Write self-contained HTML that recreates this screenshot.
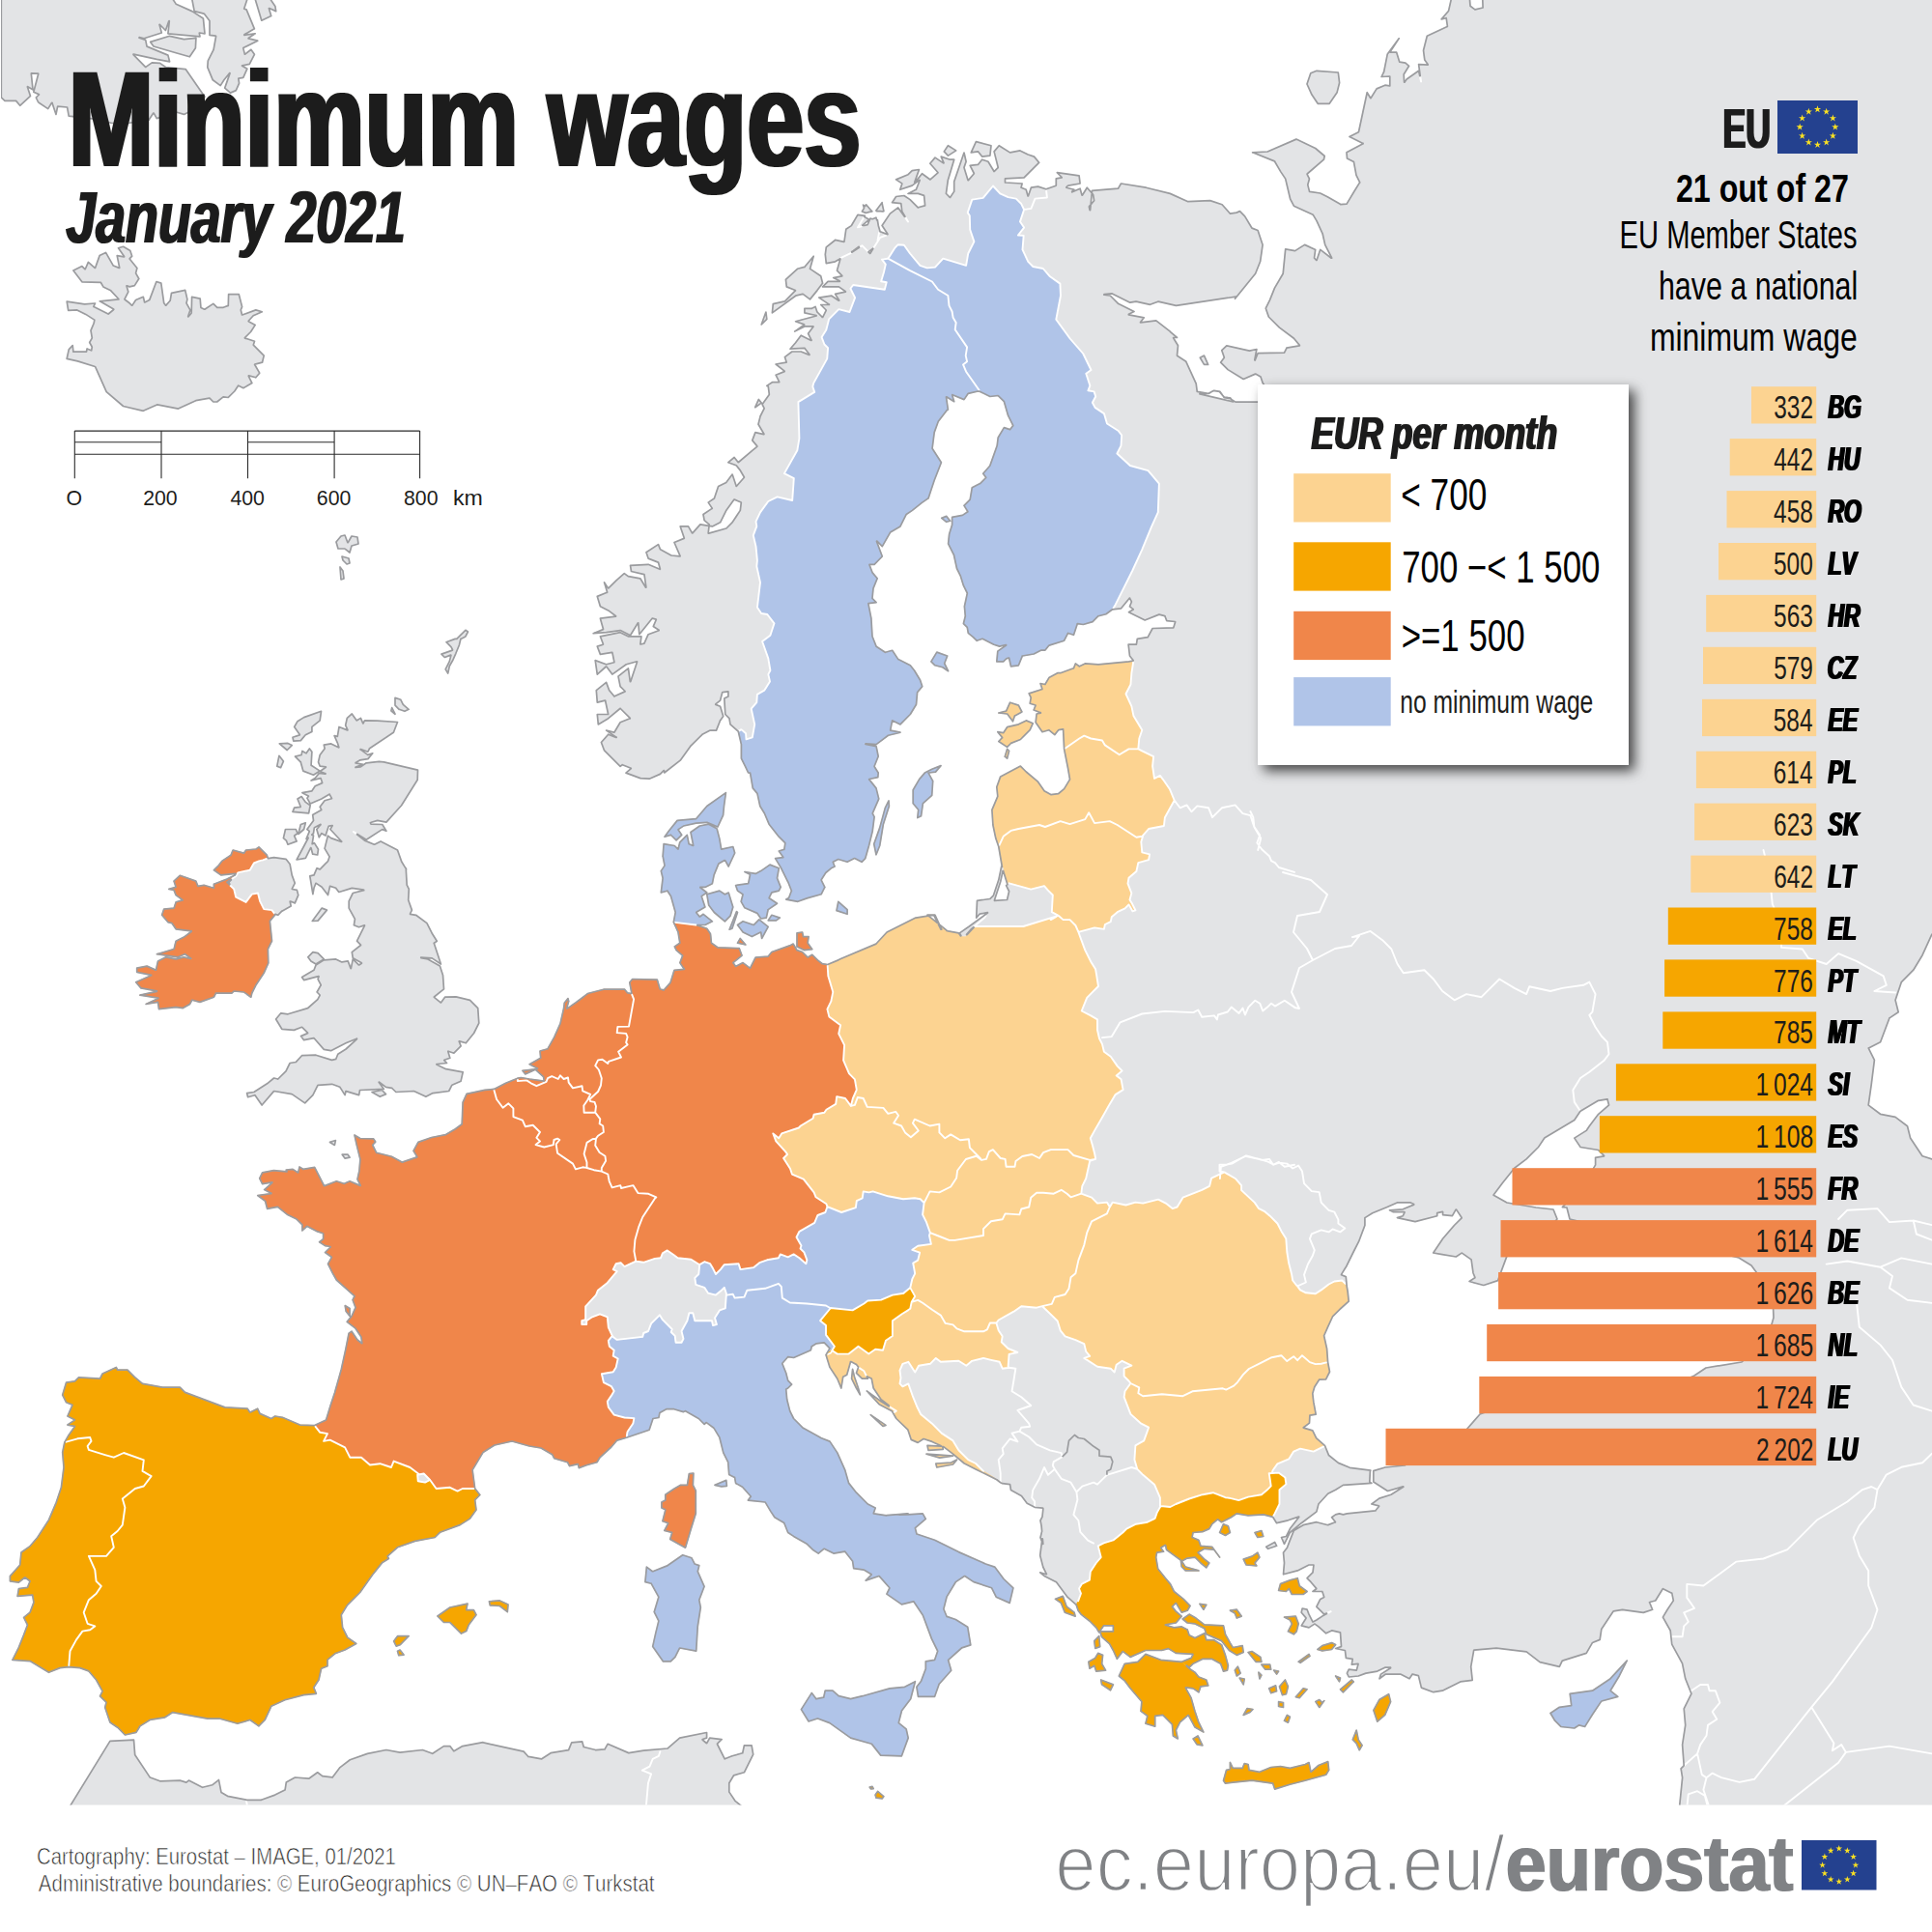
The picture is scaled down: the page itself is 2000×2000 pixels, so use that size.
<!DOCTYPE html>
<html lang="en"><head><meta charset="utf-8"><title>Minimum wages, January 2021</title>
<style>
html,body{margin:0;padding:0;background:#fff;}
body{width:2000px;height:2000px;overflow:hidden;}
svg{display:block;font-family:"Liberation Sans",sans-serif;font-kerning:none;}
</style></head><body>
<svg width="2000" height="2000" viewBox="0 0 2000 2000">
<defs>
<filter id="sh" x="-10%" y="-10%" width="130%" height="130%"><feDropShadow dx="6" dy="6" stdDeviation="6.5" flood-color="#000" flood-opacity="0.7"/></filter>
<filter id="d3" x="-2%" y="-10%" width="104%" height="120%"><feMorphology operator="dilate" radius="2.2 0"/></filter>
<filter id="d2" x="-2%" y="-10%" width="104%" height="120%"><feMorphology operator="dilate" radius="1.1 0"/></filter>
<filter id="d1" x="-5%" y="-10%" width="110%" height="120%"><feMorphology operator="dilate" radius="0.8 0"/></filter>
<filter id="d05" x="-5%" y="-2%" width="110%" height="104%"><feMorphology operator="dilate" radius="0.6 0"/></filter>
<clipPath id="mapclip"><rect x="1" y="0" width="1999" height="1868.5"/></clipPath>
</defs>
<rect width="2000" height="2000" fill="#fff"/>
<g id="map" clip-path="url(#mapclip)">
<path d="M1353,87 1356.8,75.8 1363,73.3 1385.3,75 1386.6,85.7 1384.1,95.7 1376.1,107.3 1364.2,107.3 1358,98.1Z" fill="#e3e4e6" stroke="#e3e4e6" stroke-width="0.7"/>
<path d="M1242.3,370.2 1246.5,368.1 1250.6,377.4 1246.5,377.4Z" fill="#e3e4e6" stroke="#e3e4e6" stroke-width="0.7"/>
<path d="M1005.3,158 1010.4,146.6 1026,150.7 1024.9,161.1 1016.6,162.1 1012.5,156.9Z" fill="#e3e4e6" stroke="#e3e4e6" stroke-width="0.7"/>
<path d="M977.3,156.9 981.4,150.7 989.7,155.9 981.4,161.1Z" fill="#e3e4e6" stroke="#e3e4e6" stroke-width="0.7"/>
<path d="M892.4,219 896.6,211.8 902.8,219 895.5,220.1Z" fill="#e3e4e6" stroke="#e3e4e6" stroke-width="0.7"/>
<path d="M906.9,218 913.1,209.7 914.2,219Z" fill="#e3e4e6" stroke="#e3e4e6" stroke-width="0.7"/>
<path d="M880,237.7 892.4,223.2 899.7,227.3 892.4,233.5 900.7,233.5 898.6,250.1 894.5,262.5 888.3,254.2 880,262.5Z" fill="#e3e4e6" stroke="#e3e4e6" stroke-width="0.7"/>
<path d="M901.7,227.3 906.9,225.2 911.1,239.7 919.3,242.8 911.1,245.9 906.9,254.2 909,241.8 902.8,240.8Z" fill="#e3e4e6" stroke="#e3e4e6" stroke-width="0.7"/>
<path d="M855.3,255.9 864.6,248.4 873.9,250.3 875.8,237.3 881.4,233.5 887.9,222.4 895.3,223.3 887.9,235.4 898.1,232.6 900.9,226.1 908.4,228 910.2,240.1 907.5,254 898.1,261.5 890.7,254 883.2,259.6 873.9,265.2 864.6,270.8 855.3,272.7 854.3,263.4Z" fill="#e3e4e6" stroke="#e3e4e6" stroke-width="0.7"/>
<path d="M813.4,289.4 825.5,278.3 832.9,276.4 842.2,265.2 838.5,278.3 849.7,285.7 851.6,293.2 846,300.6 838.5,309.9 831.1,304.3 823.6,306.2 799.4,323.9 800.3,314.6 812.4,311.8 823.6,300.6 814.3,296.9Z" fill="#e3e4e6" stroke="#e3e4e6" stroke-width="0.7"/>
<path d="M788.2,336 792.9,323 793.8,330.4Z" fill="#e3e4e6" stroke="#e3e4e6" stroke-width="0.7"/>
<path d="M893.5,212.1 902.8,218.6 896.3,220.5Z" fill="#e3e4e6" stroke="#e3e4e6" stroke-width="0.7"/>
<path d="M907.5,218.6 913,210.2 914.9,218.6Z" fill="#e3e4e6" stroke="#e3e4e6" stroke-width="0.7"/>
<path d="M781.7,421.7 785.4,413.4 788.2,417.1Z" fill="#e3e4e6" stroke="#e3e4e6" stroke-width="0.7"/>
<path d="M354.2,1195.2 360.1,1195.2 362.1,1198.2 357.2,1199.2Z" fill="#e3e4e6" stroke="#e3e4e6" stroke-width="0.7"/>
<path d="M341.5,1182.4 347.4,1180.5 346.4,1185.4Z" fill="#e3e4e6" stroke="#e3e4e6" stroke-width="0.7"/>
<path d="M1310.8,1601.3 1319.6,1596.4 1321.6,1600.3 1312.7,1603.3Z" fill="#e3e4e6" stroke="#e3e4e6" stroke-width="0.7"/>
<path d="M72.5,1869.7 113.9,1802.4 138.5,1801.1 139.8,1816.7 155.3,1840 165.6,1843.8 186.3,1843.1 192.8,1845.1 195.4,1843.1 209.6,1850.3 220,1847.7 226.4,1842.5 229,1855.5 235.5,1859.4 254.9,1863.3 270.4,1863.3 284.7,1858.1 295,1852.9 296.3,1845.1 305.4,1840 319.6,1841.3 328.7,1834.8 333.9,1838.7 344.2,1840 352,1829.6 362.3,1821.8 380.4,1815.4 399.8,1811.5 414.1,1814.1 437.4,1811.5 447.7,1815.4 459.4,1807.6 465.8,1807.6 469.7,1812.8 478.8,1807.6 500,1803.7 499.9,1803.8 520.4,1808.4 542.1,1813.1 546.8,1818.4 560.7,1820.9 570.1,1814.7 588.7,1811.6 591.8,1803.8 602.7,1802.9 604.2,1808.4 616.6,1811.6 626,1810.9 629.1,1805.3 650.8,1814.7 666.3,1812.2 691.2,1810 703.6,1799.1 731.6,1793.5 731.6,1799.1 726.9,1800.7 731.6,1804.7 734.7,1799.1 747.1,1800.7 742.4,1805.3 747.1,1814.7 750.2,1820.9 758,1817.8 768.8,1814.7 770.4,1806.9 778.1,1806.9 779.7,1816.2 770.4,1834.8 759.5,1838 754.8,1845.7 754.8,1855 761.1,1864.3 768.8,1870.6 769,1880 72,1880Z" fill="#e3e4e6" stroke="#e3e4e6" stroke-width="0.7"/>
<path d="M348,561 353,555 357,554 360,562 364,555 370,556 371,563 364,565 362,572 357,568 350,568Z" fill="#e3e4e6" stroke="#e3e4e6" stroke-width="0.7"/>
<path d="M354,576 361,578 362,583 359,584 355,580Z" fill="#e3e4e6" stroke="#e3e4e6" stroke-width="0.7"/>
<path d="M352,587 355,591 356,599 353,600Z" fill="#e3e4e6" stroke="#e3e4e6" stroke-width="0.7"/>
<path d="M69.2,312.2 87.5,314.8 98.5,314 96.8,317.4 112.1,325.1 117.9,320.2 103.3,311.8 123.1,309.9 114.7,300.8 106.9,296.9 104.3,292.4 84.9,291.8 75.9,279.9 84.9,275.6 88.2,278.8 91.4,271.3 98.5,277.5 103.1,264.6 109.5,261.4 117.3,274.9 123.8,277.5 121.2,264.6 128.9,265.9 122.5,256.8 127.6,255.3 134.8,259.4 136.7,265.2 134.1,267.8 141.9,277.5 140.6,282.7 143.8,288.5 139.3,295.6 134.1,296.9 130.9,295.6 132.8,302.1 128.9,309.9 134.1,313.8 136.7,316.3 140.6,310.5 148.3,307.3 149.6,313.1 154.8,310.5 161.9,291.5 166.8,293.1 169.7,313.8 171.6,316.3 176.2,311.2 177.5,303.4 191.7,300.4 193.9,309.9 193,313.8 196.9,320.9 194.3,328.6 198.2,324.1 198.6,307.3 207.2,309.2 207.9,318.3 211.7,320.2 220.8,314.4 224.7,318.3 231.2,318.3 236.3,316.3 236.6,304.7 247.3,304.7 250.6,317.6 249.3,320.9 250.6,326.1 264.8,320.9 271.3,322.8 262.2,326.7 257,332.5 264.2,336.4 259.6,343.5 253.2,350 263.5,353.2 262.2,357.1 273.2,368.1 271.5,375.2 263.5,377.2 268.7,386.2 264.8,390.8 257,388.8 260.9,396.6 251.9,401.7 246.7,399.2 242.8,405 236.3,411.5 231.2,410.8 224.7,416 220.8,416 216.9,412.1 202.7,414.7 184.6,423.1 162.6,418.8 148.3,425.3 127.6,420.5 110.2,405.6 98.5,379.5 80.4,373.9 69.2,371.3 71.4,361.6 75.2,357.5 75.9,364.2 89.5,364.2 90.1,361 94.6,362.9 95.3,359 92.7,354.5 95.3,350 94,342.2 97.2,334.5 97.9,331.2 88.8,325.4 79.8,320.9 70.7,321.3Z" fill="#e3e4e6" stroke="#e3e4e6" stroke-width="0.7"/>
<path d="M1.3,-0.8 178.9,-0.8 182.2,4.1 198.8,11.6 210.4,19 212,34.8 206.2,34 207,37.8 173.9,34.8 175.6,19.9 171.4,31.5 164.8,24.8 167.3,34 149.1,39.8 140,37.8 150.7,41.4 152,48 173.9,57.1 175.6,63.8 162.3,61.3 137.5,56 150.7,69.6 157.3,64.9 165.6,65.4 171.4,69.6 192.1,71.6 212,100.2 198.8,114.3 190.5,118.4 182.2,115.9 162.3,122.6 159,116.8 154,124.2 132.5,127.5 115.9,127.5 99.4,123.4 71.2,120.1 69.6,111 59.6,110.1 58,118.4 53.8,106 49.7,112.6 39.8,106 37.3,101 40.6,97.7 34.8,95.2 39.8,76.2 32.3,75.9 34,92.8 28.2,89.4 31.5,99.4 20.7,109.3 16.6,104.3 5,104.3 1.3,101Z" fill="#e3e4e6" stroke="#e3e4e6" stroke-width="0.7"/>
<path d="M155.7,43.4 175.6,37.3 190.5,40.6 202.9,39.4 202.4,49.7 196.3,58.8 182.2,54.7 159,48Z" fill="#e3e4e6" stroke="#e3e4e6" stroke-width="0.7"/>
<path d="M198.8,-0.8 201.2,11.6 211.2,14.1 217,21.5 217,36.4 223.6,37.3 221.1,51.3 215.3,62.9 214.8,69.6 220.3,82.8 228.2,88.6 231.9,82.8 238.5,74.5 232.7,91.1 238.5,96.1 244.3,93.6 247.6,86.1 246.8,81.2 251.8,80.3 255.9,71.2 250.1,67.9 258.4,66.3 263.4,56.3 260,51.3 253.4,56.3 251.8,49.7 266.7,42.2 256.7,39.8 264.2,34.8 251.8,36.4 263.4,29.8 255.1,9.9 252.6,9.1 255.9,-0.8Z" fill="#e3e4e6" stroke="#e3e4e6" stroke-width="0.7"/>
<path d="M264.2,-0.8 270.8,21.2 280.7,16.6 278.3,8.3 285.7,11.6 284.9,6.6 279.9,-0.8Z" fill="#e3e4e6" stroke="#e3e4e6" stroke-width="0.7"/>
<path d="M420.6,899.9 420.2,898.7 420.2,899.3Z M411.5,880 394.1,870.9 387.5,874.2 377.5,870.1 365.9,861 379.2,869.3 395.8,858.5 399.9,860.2 395.8,853.5 384.2,853.2 383.3,851.6 390.8,849.4 399.9,851.1 415.6,833.7 432.2,807.2 432.5,797.2 397.4,788.9 392.4,788.4 379.2,789.8 373.4,793.9 365.9,794.7 375.9,791.4 367.6,789.8 372.6,787 380.8,785.6 385.8,779.8 380.8,781.5 371.7,774.9 380.8,778.2 382.5,774.9 407.3,758.3 411.5,747.5 390.8,746.2 377.5,745.9 375.9,749.2 373.4,743.4 369.3,745.9 364.3,738.9 359.3,743.4 357.7,750.8 360.1,756.1 351,752.5 349.4,762.4 346.1,761.6 349.4,769.1 351,774 342.8,769.9 335.3,771.1 336.1,774.9 331.2,781.5 329.5,788.9 331.2,793.1 337.8,793.9 331.2,798.6 338.6,801.4 330.3,800.5 326.2,805.5 322,808 332,805.5 333.6,810.5 326.2,813.8 322.9,818.8 312.9,820.7 319.6,824.1 317.9,826.2 321.2,832 332.8,827 341.1,822.1 343.6,826.7 336.1,828.7 331.2,835.3 332.8,838.3 323.7,843.6 324.5,849.4 317.9,858.5 320.4,860.5 317.1,868.4 324.5,862.7 325.4,856.9 332.8,852.7 327.8,858.5 330.3,866.8 332.8,862.7 337,865.1 340.3,855.2 344.4,854.4 341.9,858.5 354.3,871.8 342.8,867.6 339.4,865.1 336.1,878.4 341.1,886.7 339.4,891.6 336.1,894.9 331.2,899.9 328.1,898.7 325,905.9 320.8,906.9 323.9,925.6 325,919.4 327,914.2 333.3,918.3 339.5,926.6 341.5,917.3 347.7,919.4 350.8,923.5 364.3,919.4 377.8,921.4 365.3,924.5 361.2,932.8 361.2,940.1 367.4,951.4 366.4,957.7 371.6,959.7 377.8,957.7 373.6,965.9 369.5,974.2 373.6,978.4 364.3,985.6 365.3,991.8 374.7,997 371.6,999.1 365.3,992.9 363.3,1003.2 360.2,994.9 354,996 347.7,992.9 335.3,993.9 327,999.1 325,1004.2 312.5,1011.5 314.6,1014.6 330.1,1010.5 329.1,1013.6 332.2,1019.8 328.1,1027 331.2,1030.1 329.1,1034.3 318.8,1043.6 298.1,1049.8 290.8,1048.8 285.6,1055 291.8,1065.3 304.3,1066.4 312.5,1063.3 318.8,1069.5 311.5,1072.6 314.6,1076.7 325,1074.6 335.3,1086.4 342.6,1087.7 358.1,1079.8 370.5,1074.6 358.1,1086 349.8,1091.2 347.7,1096.4 343.6,1097.4 327,1092.2 312.5,1092.7 306.3,1099.5 300.1,1100.5 296,1108.8 287.7,1117.1 283.6,1116 277.3,1121.2 262.9,1130.5 255.6,1131.6 256.6,1135.7 263.9,1133.6 271.1,1144 283.6,1129.5 302.2,1132.6 315.7,1141.9 323.9,1133.6 329.1,1123.3 343.6,1122.3 351.9,1125.4 357.1,1133.6 358.1,1129.5 371.6,1133.6 372.6,1128.5 397.4,1127.4 391.2,1119.2 399.5,1125.4 405.7,1126.4 409.9,1130.5 428.5,1129.5 440.9,1135.3 448.2,1131.6 464.7,1129.5 467.8,1123.3 477.1,1119.2 479.2,1109.8 461.6,1106.7 451.3,1101.6 462.7,1100.5 459.5,1097.4 465.8,1095.3 463.7,1088.1 469.9,1090.2 477.1,1082.9 475.1,1077.7 482.3,1079.8 490.6,1069.5 495.8,1059.1 494.7,1043.6 486.5,1035.3 472,1031.8 460.6,1032.2 456.4,1038 449.2,1032.2 459.5,1023.9 458.5,1009.4 455.4,1000.1 443,992.9 431.6,990.8 447.1,991.8 456.4,998 449.2,976.3 452.3,974.2 447.1,965.9 441.9,955.6 430.6,947.3 424.3,946.3 426.4,942.1 422.7,931.8 423.3,920.4 421.2,916.3 420.2,899.3 415.6,891.6Z" fill="#e3e4e6" stroke="#e3e4e6" stroke-width="0.7"/>
<path d="M304.7,752.5 308,746.7 314.6,742.6 332.5,736.3 331.2,745.9 322.9,752.5 322.9,757.5 316.3,760.8 311.3,766.6 303.8,767.1 303,763.3 310.5,760.8Z" fill="#e3e4e6" stroke="#e3e4e6" stroke-width="0.7"/>
<path d="M305.5,783.1 312.1,781.5 312.9,777.3 317.1,779.8 320.4,774.9 322.9,778.2 322,792.3 331.2,798.1 324.5,802.2 313.8,798.1 311.3,788.9Z" fill="#e3e4e6" stroke="#e3e4e6" stroke-width="0.7"/>
<path d="M308,827 312.1,824.6 316.3,830.4 321.2,833.7 319.6,841.9 303,840.3 304.7,836.1 311.3,835.3Z" fill="#e3e4e6" stroke="#e3e4e6" stroke-width="0.7"/>
<path d="M295.5,858.5 306.3,858.5 308,862.7 304.7,865.1 307.1,870.9 298,874.2 296.4,870.1 293.4,867.6Z" fill="#e3e4e6" stroke="#e3e4e6" stroke-width="0.7"/>
<path d="M311.3,853.5 316.3,851.9 314.6,858.5 308.8,863.5Z" fill="#e3e4e6" stroke="#e3e4e6" stroke-width="0.7"/>
<path d="M307.1,890 321.2,863.5 324.5,865.1 322.9,875.1 316.3,888.3Z" fill="#e3e4e6" stroke="#e3e4e6" stroke-width="0.7"/>
<path d="M321.2,875.1 325.4,872.6 329.5,879.2 328.7,885 323.7,884.2Z" fill="#e3e4e6" stroke="#e3e4e6" stroke-width="0.7"/>
<path d="M289.3,769.9 298,769.4 302.2,771.6 297.2,776.5Z" fill="#e3e4e6" stroke="#e3e4e6" stroke-width="0.7"/>
<path d="M288.9,782.3 293.4,788.1 290.6,794.7 286.8,793.1Z" fill="#e3e4e6" stroke="#e3e4e6" stroke-width="0.7"/>
<path d="M409,722.4 414.8,724.3 417.3,729.3 423.1,734.3 418.9,736.3 413.1,734.3 409,730.1Z" fill="#e3e4e6" stroke="#e3e4e6" stroke-width="0.7"/>
<path d="M405.7,732.6 409,739.3 404.9,735.9Z" fill="#e3e4e6" stroke="#e3e4e6" stroke-width="0.7"/>
<path d="M481.9,652.3 484.4,654 481.9,658.9 476.9,661.4 475.3,668 471.9,676.3 468.6,683.8 465.3,689.6 463.7,697 461.2,692.9 465.3,684.6 467,678 460.4,680.5 457,677.1 468.6,673 467,669.7 462,664.7 471.1,661.4 472.8,661.4 478.6,655.6Z" fill="#e3e4e6" stroke="#e3e4e6" stroke-width="0.7"/>
<path d="M318.8,990.8 323.9,985.6 329.1,986.6 335.3,992.9 327,998 321.9,994.9Z" fill="#e3e4e6" stroke="#e3e4e6" stroke-width="0.7"/>
<path d="M323.3,953.5 333.3,940.1 338.4,942.1 329.1,953.1Z" fill="#e3e4e6" stroke="#e3e4e6" stroke-width="0.7"/>
<path d="M385,1130.5 395.4,1128.5 399.5,1132.6 393.3,1135.3Z" fill="#e3e4e6" stroke="#e3e4e6" stroke-width="0.7"/>
<path d="M268,890.4 273.2,889.3 283.6,887.7 296,889.3 300.1,894.5 302.2,905.9 305.3,914.2 302.2,920.4 307.4,921.4 308.8,926.6 305.3,934.9 300.1,932.8 301.2,938 291.8,943.2 287.7,947.3 284.6,946.3 277.3,947.3 267,941.1 254.6,938 242.2,926.6 237,913.1 248.4,901.8 264.9,888.3Z" fill="#e3e4e6" stroke="#e3e4e6" stroke-width="0.7"/>
<path d="M1316.5,1525.8 1316.8,1525 1313.7,1525.2Z M1333.4,1573.8 1345.2,1569.8 1335.4,1582.6 1331.4,1590.5 1326.5,1591.5 1329.5,1598.3 1335.4,1586.5 1347.2,1576.7 1362.9,1564.9 1364.9,1557 1374.7,1546.2 1382.6,1542.3 1390.4,1537.4 1419.9,1535.4 1417.8,1534 1418.4,1522.6 1418.8,1522.2 1397.2,1519.3 1385.4,1514.4 1375.5,1506.5 1371.6,1496.7 1359.8,1502.6 1346,1499.6 1339.2,1502.6 1334.2,1510.4 1322.4,1515.4 1317.5,1522.2 1316.8,1525 1323.6,1524.6 1330.4,1529.5 1331.4,1536.4 1324.5,1542.3 1324.5,1557 1319.6,1566.9 1317.7,1570.4 1321.6,1576.7Z" fill="#e3e4e6" stroke="#e3e4e6" stroke-width="0.7"/>
<path d="M1063.3,1556.3 1071.1,1560.3 1080,1561.3 1079,1570.1 1077,1574 1078.1,1579.7 1077.7,1574.7 1079.7,1586.5 1079.1,1590.8 1080,1600 1078.5,1595.9 1076.7,1610.1 1079.7,1621.9 1083.6,1629.8 1076.7,1627.8 1081.6,1631.8 1093.4,1637.7 1099.3,1645.5 1105.2,1653.4 1114.1,1661.3 1116.1,1657.3 1119,1649.5 1117,1644.6 1120,1639.6 1127.9,1635.7 1128.8,1626.9 1134.7,1618 1139.7,1612.1 1136.7,1600.3 1142.6,1597.4 1152.4,1594.4 1162.3,1586.5 1166.2,1582.6 1176,1577.7 1187.8,1575.7 1195.7,1571.8 1197.7,1565.9 1201.6,1559 1200.9,1559.3 1200.9,1550.4 1195,1536.7 1183.2,1526.8 1177.3,1520.9 1174.4,1511.1 1175.4,1496.3 1184.2,1491.4 1189.1,1477.7 1181.3,1473.7 1170.4,1463.9 1163.6,1446.2 1164.5,1440.3 1170.4,1432 1168.5,1429.5 1163.6,1424.6 1163.6,1416.7 1171.4,1413.7 1161.6,1408.8 1155.7,1412.8 1153.7,1420.6 1149.8,1416.7 1136,1414.7 1122.3,1405.9 1128.2,1403.9 1124.2,1399 1122.3,1391.1 1113.4,1387.2 1102.6,1383.3 1097.7,1377.3 1094.7,1367.5 1088.8,1361.6 1079,1352.2 1073.1,1353.7 1057.3,1352.2 1049.5,1357.7 1033.7,1366.5 1031.4,1369.5 1033.7,1377.3 1037.7,1383.3 1036.7,1389.2 1043.6,1396 1053.4,1400 1044.6,1401.9 1043.6,1414.7 1044.6,1415.7 1037.7,1416.7 1034.7,1409.8 1025.9,1407.8 1018,1405.9 1006.2,1408.8 1000.3,1413.7 992.4,1408.8 973.8,1409.8 968.8,1405.9 962.9,1411.8 951.1,1413.7 947.2,1420.6 940.3,1409.8 934.4,1411.8 931.5,1418.7 932.5,1426.5 931.5,1432.4 934.4,1435.4 940.3,1432.4 945.2,1446.2 949.2,1456 953.1,1463.9 964.9,1473.7 974.7,1483.6 986.5,1491.4 992.4,1501.3 1002.3,1511.1 1010.1,1515 1018,1522.9 1027.8,1528.8 1035.7,1534.7 1037.7,1535.7 1045.5,1536.7 1046.5,1542.6 1057.3,1548.5Z M1078.6,1585.2 1079,1583.9 1078.1,1579.7Z M1077,1591.7 1078.5,1595.9 1079.1,1590.8 1078.6,1585.2Z" fill="#e3e4e6" stroke="#e3e4e6" stroke-width="0.7"/>
<path d="M1227.8,374.3 1218.5,368.1 1219.5,357.7 1214.4,349.5 1218.5,349.5 1211.3,343.3 1196.8,331.9 1180.2,333.9 1184.3,328.8 1167.8,325.7 1174,322.5 1157.4,314.3 1149.2,306 1140.9,304.9 1151.2,303.9 1169.9,313.2 1176.1,312.2 1190.6,315.3 1198.8,312.2 1217.5,316.3 1280,307 1278.5,309.3 1299.6,283.2 1304.6,270.8 1307.1,253.4 1302.1,238.5 1295.9,236 1288.4,223.6 1283.5,218.6 1280,220.1 1273.4,221.1 1265.1,211.8 1252.7,207.6 1229.9,208.7 1211.3,200.4 1186.4,194.2 1160.5,190 1157.4,195.2 1130.5,197.3 1130.3,199.9 1125.3,194.2 1120.2,202.5 1118.1,195.2 1108.8,199.4 1111.9,196.3 1103.6,194.2 1105.7,192.1 1118.1,190 1117.1,181.8 1094.3,178.7 1099.5,183.8 1093.3,184.9 1093.3,192.1 1082.9,195.8 1083.9,204.5 1071.5,205.6 1067.4,215.9 1060.1,217 1040,250 1060,290 1070,330 1100,400 1130,460 1160,520 1140,600 1151.8,630.8 1160.6,629.8 1169.5,619 1171.4,622.9 1169.5,627.8 1173.4,630.8 1168.5,633.7 1185.2,642 1200,636.1 1205.9,637.7 1207.8,642.6 1216.7,643.6 1214.7,649.9 1193.1,650.5 1188.2,659.7 1177.3,661.3 1176.4,667.2 1168.1,667.2 1169.5,679 1173.4,683.9 1165,700 1160,760 1150,850 1130,900 1110,950 1100,1000 1100,1150 1090,1210 1105,1245 1200,1262 1280,1255 1315,1280 1322,1320 1340,1350 1372,1345 1394.2,1331.4 1393.3,1321.6 1388.3,1319.6 1393.3,1311.8 1401.1,1296 1407,1284.2 1412.9,1268.5 1412.9,1260.6 1420.8,1255.7 1435.5,1249.8 1446.4,1244.9 1460.1,1244.9 1464.1,1246.9 1452.3,1251.8 1438.5,1252.8 1442.4,1254.7 1454.2,1254.7 1452.3,1258.7 1446.4,1260.6 1465,1264.6 1487.7,1258.7 1487.7,1255.7 1493.6,1254.3 1493.6,1257.7 1503.4,1258.7 1507.3,1251.8 1513.2,1260.6 1505.4,1268.5 1493.6,1282.3 1483.7,1297 1491.6,1298.4 1507.3,1301 1513.2,1297 1523.1,1303.9 1525,1317.7 1527,1322.6 1521.1,1326.5 1535.8,1330.5 1550.6,1325.5 1560,1300 1600,1275 1612,1262 1608,1252 1590,1250 1560,1245 1546,1237.1 1555.3,1224.7 1567.7,1209.2 1580.1,1199.9 1592.5,1187.5 1598.8,1178.1 1614.3,1168.8 1629.8,1159.5 1636,1150.2 1654.7,1139.3 1664,1137.8 1665.5,1144 1654.7,1153.3 1645.3,1165.7 1642.2,1170.4 1629.8,1178.1 1636,1187.5 1654.7,1190.6 1660.9,1196.8 1651.6,1198.3 1651.6,1206.1 1642.2,1221.6 1636,1230.9 1617.4,1249.6 1622,1250 1625,1262 1650,1268 1700,1275 1750,1290 1800,1302 1813,1310 1835,1340 1836,1364 1830,1385 1803,1410 1766,1416 1754,1424 1720,1440 1680,1448 1620,1445 1570,1450 1532,1464 1518,1480 1480,1500 1454,1517 1434,1519 1421.8,1522.6 1421.8,1534 1436.5,1543.5 1454.2,1538.4 1440,1547.2 1427.8,1551.1 1419.9,1557 1427.8,1559 1423.9,1563.9 1394.4,1566.9 1390.4,1567.9 1386.5,1566.9 1382.6,1567.9 1378.6,1570.8 1382.6,1575.7 1374.7,1578.7 1362.9,1575.7 1349.1,1578.7 1339.3,1584.6 1335.4,1594.4 1332.4,1602.3 1328.5,1607.2 1329.5,1618 1328.5,1629.8 1343.2,1625.9 1355,1620 1359.9,1620 1359,1627.8 1353.1,1633.7 1357,1637.7 1362.9,1644.6 1359,1647.5 1368.8,1647.5 1370.8,1653.4 1366.8,1655.4 1362.9,1663.3 1366.8,1667.2 1370.8,1671.1 1377.7,1668.2 1368.8,1673.1 1362.9,1677 1359,1679 1355,1671.1 1353.1,1666.2 1348.1,1665.2 1347.2,1669.2 1352.1,1675.1 1347.2,1682.9 1355,1684.9 1360.9,1681 1364.9,1683.9 1372.7,1690.8 1378.6,1687.8 1387.5,1689.8 1388.5,1704.6 1382.6,1706.5 1392.4,1708.5 1393.4,1716.4 1400.3,1717.3 1399.3,1723.2 1406.2,1722.3 1404.2,1729.1 1396.3,1728.2 1394.4,1732.1 1396.3,1736 1406.2,1735 1414,1732.1 1425.8,1730.1 1433.7,1726.2 1440,1726.2 1440.1,1726.3 1429.5,1733.1 1428,1737.8 1434.2,1733.1 1449.7,1733.1 1459,1737.8 1462.1,1733.1 1468.3,1734.7 1471.4,1747.1 1483.9,1751.7 1493.2,1750.2 1511.8,1740.9 1524.2,1739.3 1522.7,1725.3 1525.8,1708.3 1549.1,1706.1 1580.1,1709.8 1594.1,1720.7 1614.3,1725.3 1617.4,1719.1 1642.2,1711.4 1648.4,1700.5 1656.2,1697.4 1657.8,1686.5 1670.2,1667.9 1679.5,1666.3 1701.2,1669.4 1710.6,1666.3 1707.5,1658.6 1713.7,1657 1721.4,1644.6 1730.7,1649.3 1732.3,1657 1726.1,1666.3 1721.4,1674.1 1729.2,1688.1 1730.7,1702 1741.6,1722.2 1744.7,1737.8 1750.9,1753.3 1743.2,1768.8 1744.7,1785.9 1741.6,1806.1 1743.2,1827.8 1740.1,1830.9 1741.6,1840.2 1738.5,1871.3 1738,1882 2012,1882 2012,1199.9 2000,1199.9 1990.1,1196.8 1977.6,1178.1 1974.5,1165.7 1962.1,1156.4 1946.6,1153.3 1934.2,1144 1937.3,1122.2 1940.4,1097.4 1934.2,1085 1946.6,1078.8 1955.9,1053.9 1965.2,1047.7 1962.1,1035.3 1968.3,1016.6 1980.7,1004.2 1990.1,988.7 2000,967 2012,967 2012,-8 1534.5,-8 1535.2,8 1527,9.9 1522,6.2 1520.9,-8 1502,-8 1502.1,0 1499.6,11.2 1492.2,19.9 1497.1,18.6 1498.4,27.3 1477.3,37.3 1473.5,52.2 1474.8,62.1 1478.5,67.1 1468.6,66.6 1471.1,84.5 1468.6,73.3 1456.1,82 1453.7,85.7 1453.2,77 1458.6,68.3 1454.9,65.1 1448.7,64.1 1445.7,54.2 1438.8,54.2 1448.2,39.8 1436.3,55.9 1432.5,74.5 1430.1,79.5 1438.8,79 1438.8,88.9 1433.8,88.2 1425.1,91.9 1418.9,101.9 1415.2,95.7 1406.5,136.6 1397,141.6 1411.4,148.6 1394,157.8 1394.5,164 1401.5,167.7 1404,181.4 1407.7,188.8 1401.5,198.8 1394,211.2 1387.8,211.7 1374.2,203.7 1366.7,200 1355.5,198.3 1353.8,191.3 1355.5,185.1 1353,180.1 1370.4,165.2 1371.2,161.5 1361.7,153.5 1341.9,144.1 1312,157 1296.6,157.8 1319.5,167 1325.7,177.6 1330.7,185.1 1335.7,206.2 1339.4,213.2 1359.3,222.4 1363,228.6 1369.2,242.2 1371.7,253.4 1379.1,267.8 1366.7,258.4 1363,269.6 1360.5,267.1 1361.7,258.4 1350.6,253.4 1340.6,259.6 1330.7,257.9 1328.2,283.2 1319.5,298.1 1314.5,310.6 1310.3,319.3 1313.3,328 1324.5,339.1 1339.4,350.3 1345.6,357.8 1331.9,360.2 1329.4,365.2 1302.1,365.7 1298.4,375.2 1300.9,361.5 1293.4,363.2 1269.8,357.8 1264.8,362.7 1267.3,370.2 1263.6,375.2 1271.1,382.6 1287.2,392.5 1299.6,387.1 1305.1,390.1 1307.1,396.3 1314.5,407.5 1302.1,416.1 1279,416.1 1280,416.7 1277.4,416.1 1277.3,416.1 1277.2,416.1 1240,407.5 1251.2,407.5 1254.3,405.6 1250.6,407.4 1239.2,405.4 1238.2,397.1ZM1131.6,201.4 1132.6,207.6 1129.1,211.8 1130.3,199.9ZM1128.4,219 1127.4,213.9 1129.1,211.8Z M1277.4,416.1 1279,416.1 1275.1,413.7 1277.2,416.1Z M1265.5,409.1 1267.2,411.6 1273.4,412.6 1275.1,413.7 1273.5,411.9 1267.3,411.2Z M1256.4,404.5 1262.4,405.5 1265.5,409.1 1263,405.4 1256.8,404.3Z M1256.4,404.5 1256.1,404.5 1254.3,405.6Z" fill="#e3e4e6" stroke="#e3e4e6" stroke-width="0.7"/>
<path d="M1074.6,193.1 1067.4,194.2 1064.3,203.5 1062.2,196.3 1057,194.2 1058.1,190 1040.5,189 1040.5,184.9 1060.1,183.8 1075.7,168.3 1070.5,162.1 1064.3,160 1056,155.9 1045.6,158 1034.2,150.7 1029.1,156.9 1033.2,173.5 1029.1,177.6 1022.9,167.3 1016.6,165.2 1012.5,170.4 1004.2,171.4 1008.4,179.7 1002.2,186.9 998,173.5 1000.1,167.3 998,158 987.7,188 987.7,198.3 983.5,204.5 979.4,200.4 981.4,185.9 987.7,165.2 983.5,165.2 974.2,162.1 977.3,169.3 968,163.1 962.8,169.3 971.1,178.7 962.8,185.9 954.5,179.7 946.3,190 951.4,175.5 944.2,176.6 940,180.7 927.6,185.9 933.8,190 931.8,196.3 944.2,192.1 952.5,185.9 948.3,196.3 940,200.4 950.4,200.4 956.6,202.5 957.6,212.8 950.4,214.9 942.1,206.6 935.9,202.5 927.6,203.5 923.5,209.7 932.8,210.7 933.8,219 940,229.4 929.7,214.9 921.4,221.1 913.1,233.5 919.3,242.8 911.1,245.9 900.7,262.5 892.4,254.2 880,262.5 880.1,262.4 870.2,267.1 866.5,280.1 872,285.7 862.7,287.6 870.2,291.3 857.1,291.3 851.6,296.9 868.3,296.9 875.8,302.1 864.6,304.3 869.3,311.8 860.9,306.2 847.8,308.1 859,315.5 849.7,315.5 855.3,321.1 851.6,328.6 846,323 844.1,317.4 840.4,319.3 832.9,319.3 832.9,323.9 846,326.7 823.6,332.7 832.9,336 822.7,343.1 832.9,337.9 842.2,337.9 836.6,345.3 840.4,352.8 829.2,347.2 823.6,354.7 818,361.2 832.9,360.2 838.5,367.7 829.2,364 819.9,364 812.4,369.6 814.3,375.2 803.1,377 812.4,384.5 803.1,388.2 806.8,395.7 799.4,395.7 793.8,399.4 795.3,400 796.4,408.3 789.1,418.6 791.2,422.8 787,431.1 785,439.3 791.2,449.7 781.9,447.6 778.8,455.9 783.9,462.1 778.8,466.3 764.3,478.7 760.1,473.5 753.9,478.7 762.2,481.8 766.3,487 770.5,494.2 762.2,503.5 758.1,491.1 751.8,499.4 743.6,503.5 739.4,515.9 733.2,520.1 737.3,526.3 728,532.5 729.1,538.7 734.2,542.9 734.1,544.4 724.9,542.9 716.6,552.2 712.5,544.9 704.2,544.9 708.4,557.3 698,561.5 704.2,576 694.9,574.9 683.5,568.7 681.4,563.6 669,571.8 671.1,578.1 681.4,582.2 683.5,589.4 671.1,584.3 652.5,585.3 653.5,591.5 667,594.6 669,609.1 662.8,598.8 650.4,596.7 646.3,593.6 638,600.8 629.7,609.1 625.5,602.9 628.7,613.3 618.3,617.4 621.4,627.7 629.7,631.9 638,638.1 621.4,640.2 624.5,651.6 614.2,655.7 627.6,654.7 642.1,652.6 652.5,657.8 660.7,644.3 661.8,656.7 675.2,640.2 679.4,641.2 676.3,648.4 682.5,652.6 671.1,656.7 667,666 662.8,667.1 663.9,658.8 650.4,658.8 642.1,654.7 621.4,658.8 624.5,667.1 618.3,669.2 621.4,677.4 633.8,675.4 635.9,685.7 627.6,687.8 616.2,683.6 618.3,698.1 627.6,689.9 633.8,698.1 648.3,687.8 659.7,684.7 652.5,706.4 650.4,691.9 640,700.2 642.1,710.6 647.3,715.7 635.9,720.9 630.7,714.7 627.6,706.4 617.3,714.7 618.3,727.1 626.6,725.1 629.7,739.5 618.3,739.5 619.3,749.9 629.7,743.7 642.1,733.3 652.5,743.7 642.1,747.8 635.9,758.2 627.6,756.1 640,764.4 629.7,760.2 622.4,768.5 625.5,776.8 631.8,783 642.1,793.4 644.2,791.7 653.5,795.4 648,800.1 662.9,805.7 672.2,806.2 683.4,801.4 687.5,797.3 687.7,800 704.2,787.2 714.6,772.7 727,760.2 735.3,756.1 741.5,756.1 745.6,745.8 748.7,741.6 745.6,731.3 740.5,729.2 745.6,725.1 747.7,716.8 753.9,715.7 753.9,720.9 749.8,723 750.8,739.5 754.9,743.7 756,749.9 764.3,757.1 767.4,755.1 772.1,759.2 772.5,765.4 778.8,763.4 781.2,749.9 777.7,733.7 783.3,727.1 783.9,718.8 791.2,714.7 797,705.4 795.3,698.1 797.4,694 795.3,681.6 789.1,664 797.4,657.8 801.5,645.3 794.3,636 788.1,635 783.9,628.8 787,602.9 783.3,586.3 783.9,580.1 782.5,565.6 779.8,554.2 783.3,544.9 782.5,539.8 787,530.4 795.3,519 804.6,514.3 820.2,518 821.8,495.2 811.9,490.1 825.3,466.3 827.4,453.8 826.4,416.1 843.2,405.9 841.3,400.3 842.2,396.6 856.2,371.4 857.1,360.2 853.4,356.5 850.6,349.1 855.3,341.6 858.1,330.4 868.3,320.2 879.5,323 885.1,308.1 880.4,298.8 883.2,295 915.8,299.7 917.7,292.2 912.1,291.3 914.9,282 916.8,273.6 913,268.6 919.2,267.6 919.3,267.7 926.6,256.3 929.7,253.2 935.9,253.8 942.1,262.5 952.5,274.9 959.7,277.4 968,276.6 976.3,267.7 1000.1,274.9 1002.2,262.5 1008.4,250.1 1004.2,237.7 1003.8,223.2 1001.7,220.1 1006.3,206.6 1017.7,204.9 1028,192.5 1035.3,200.4 1043.6,204.1 1051.8,205.6 1057,210.7 1060.1,217 1067.4,215.9 1071.5,205.6 1083.9,204.5 1082.9,195.8ZM737.3,544.9 745.6,540.8 751.8,528.4 760.1,517 767.4,520.1 766.3,528.4 758.1,540.8 751.8,547 733.2,552.2 734.1,544.4Z" fill="#e3e4e6" stroke="#e3e4e6" stroke-width="0.7"/>
<path d="M284.6,947.3 279.4,953.5 281.5,974.2 277.3,982.5 277.8,997 273.2,1007.3 264.9,1019.8 260.8,1028.1 259.8,1032.2 252.5,1027 242.2,1026 240.1,1028.1 223.5,1028.1 221.4,1032.2 207,1037.4 198.7,1035.3 196.6,1039.4 189.4,1043.6 182.1,1042.5 164.5,1044.6 163.5,1037.4 151.1,1039.4 164.5,1033.2 144.8,1030.1 163.5,1026 145.9,1022.9 140.7,1016.7 157.3,1009.4 141.7,1006.3 141.7,1002.2 152.1,1000.1 161.4,1004.2 163.5,994.9 171.8,990.8 182.1,992.9 190.4,990.8 198.7,992.9 191.4,987.7 184.2,990.8 162.4,987.7 180,982.5 182.1,974.2 190.4,970.1 198.7,963.9 182.1,961.8 178,955.6 173.8,954.6 167.6,947.3 169.7,941.1 180,940.1 182.1,933.9 189.4,931.8 182.1,926.6 180,921.4 174.9,920.4 182.1,918.3 180,912.1 186.3,906.3 191.4,908 202.8,912.1 204.9,917.3 211.1,916.3 221.4,919.4 221.4,915.2 234.9,910 243.2,905.9 244.2,904.2 228.7,905.9 221.4,900.7 226.6,895.5 229.7,891.4 239,885.2 241.1,880 252.5,883.1 254.6,880 264.9,879 268,876.9 276.3,885.2 277.3,888.3 272.2,890.4 268,891.4 262.9,893.5 258.7,900.7 246.3,903.4 244.2,906.9 234.9,913.1 242.2,920.4 244.2,928.7 254.6,933.9 260.8,925.6 267,924.5 269.1,932.8 273.2,941.1 281.5,942.1 284.6,946.3Z" fill="#f0864a" stroke="#f0864a" stroke-width="0.7"/>
<path d="M919.3,267.7 942.1,280.1 964.9,291.5 971.1,299.8 981.4,306 982.5,316.3 985.6,322.5 986.6,328.8 989.7,333.9 988.7,341.2 1001.1,359.4 999.7,368.1 1001.1,374.3 997,377.4 1000.1,384.7 1014.6,405.4 1014.6,405.4 1012.5,404.9 1002.2,407.4 998,413.6 985.6,408.5 987.7,415.7 979.4,410.5 981.4,424 980,424.8 971.3,436.2 967.2,447.6 965.1,464.2 974.4,478.7 967.2,497.3 961,515.9 954.7,520.1 944.4,528.4 938.2,532.5 932,544.9 921.6,551.1 913.3,565.6 907.1,559.4 913.3,576 905.1,584.3 899.9,584.3 903,592.5 908.2,598.8 904,609.1 903,619.5 907.1,623.6 898.8,624.6 901.9,640.2 903,658.8 907.1,669.2 916.4,675.4 923.7,673.3 929.9,682.6 942.3,688.8 946.5,694 952.7,704.3 954.7,710.6 949.6,716.8 948.5,729.2 942.3,739.5 932,749.9 923.7,745.8 921.6,756.1 932,758.2 919.5,761.3 907.1,770.6 892.6,769.6 907.1,772.7 909.2,783 905.1,793.4 909.2,800 908.8,804.7 899.5,806.6 907,815.9 909.8,827.1 903.2,842 905.1,845.7 903.2,860.6 899.5,875.5 895.8,888.6 892,892.3 884.6,888.6 877.1,892.3 867.8,889.5 862.2,892.3 864.1,897 860.4,898.8 854.8,903.5 850.1,910.9 853.9,918.4 850.1,925.8 836.1,929.6 825.9,933.3 813.8,931.1 816.6,929.6 819.4,922.1 815.7,912.8 808.2,897.9 802.6,888.6 811,887.6 806.3,881.1 811.9,879.3 812.9,872.7 806.3,866.2 796.1,853.2 791.4,842 786.8,834.5 784,821.5 779.3,815.9 776.5,800.1 774.6,800 771.5,793.4 767.4,785.1 767.4,770.6 764.3,757.1 764.3,757.1 767.4,755.1 772.1,759.2 772.5,765.4 778.8,763.4 781.2,749.9 777.7,733.7 783.3,727.1 783.9,718.8 791.2,714.7 797,705.4 795.3,698.1 797.4,694 795.3,681.6 789.1,664 797.4,657.8 801.5,645.3 794.3,636 788.1,635 783.9,628.8 787,602.9 783.3,586.3 783.9,580.1 782.5,565.6 779.8,554.2 783.3,544.9 782.5,539.8 787,530.4 795.3,519 804.6,514.3 820.2,518 821.8,495.2 811.9,490.1 825.3,466.3 827.4,453.8 826.4,416.1 843.2,405.9 841.3,400.3 842.2,396.6 856.2,371.4 857.1,360.2 853.4,356.5 850.6,349.1 855.3,341.6 858.1,330.4 868.3,320.2 879.5,323 885.1,308.1 880.4,298.8 883.2,295 915.8,299.7 917.7,292.2 912.1,291.3 914.9,282 916.8,273.6 913,268.6 919.2,267.6Z" fill="#b0c4e8" stroke="#b0c4e8" stroke-width="0.7"/>
<path d="M961.1,948.1 966.6,947.3 970.9,955.8 972.5,957.1 967.9,947.2 960,947.2Z M948,950.1 918.1,965 907,977.1 871.6,992 867.8,993.9 856.6,998.5 857.3,1010.2 862.3,1026.9 860.3,1036.7 856.4,1044.6 858.3,1052.4 870.1,1061.3 868.2,1070.1 874.1,1081.9 873.1,1097.7 879,1111.4 884.9,1117.3 886.8,1128.2 882.9,1137 880.9,1144.9 884.9,1143.9 887.8,1136 893.7,1137 897.7,1145.9 914.4,1146.9 919.3,1152.8 927.2,1150.8 930.1,1154.7 925.2,1162.6 933.1,1165.5 937,1172.4 942.9,1177.3 950.8,1170.5 944.9,1162.6 946.8,1158.7 962.6,1165.5 972.4,1163.6 972.4,1172.4 978.3,1178.3 984.2,1174.4 994,1180.3 1002.9,1179.3 1003.9,1188.2 1011.7,1196 1011.1,1197 1016.1,1200.9 1021,1199.9 1023.9,1192.1 1027.9,1190.1 1035.7,1199 1040.6,1199.9 1041.6,1207.8 1050.5,1207.8 1051.5,1201.9 1058.3,1197 1068.2,1195 1076,1199 1080,1193.1 1087.8,1190.1 1105.5,1190.1 1111.4,1196 1128.2,1200.9 1134.1,1199.9 1134.1,1199 1133.1,1194 1131.1,1186.2 1128.8,1178.3 1133.1,1170.4 1141,1156.7 1148.8,1142.9 1154.7,1133.1 1162.6,1128.1 1160.6,1117.3 1155.7,1113.4 1161.6,1108.5 1156.7,1103.6 1149.8,1093.7 1142.9,1088.8 1141,1080.9 1138,1075 1136,1066.2 1136,1055.4 1129.2,1051.4 1119.7,1046.5 1125.2,1032.8 1131.1,1026.9 1137,1021 1135.1,1009.2 1134.1,1003.3 1129.2,995.4 1123.3,983.6 1116.4,964.9 1113.4,958 1107.5,952.1 1100.6,952.1 1095.7,947.8 1059.3,959 1009.2,959 999.3,969.4 994.4,968.8 992.5,965.9 981.6,963.9 977.4,962.7 974,962.2 970.9,955.8 961.1,948.1Z M980,963.1 972.5,957.1 974.8,961.9 977.4,962.7Z" fill="#fcd391" stroke="#fcd391" stroke-width="0.7"/>
<path d="M1148.8,1249.5 1151.8,1244.6 1165.5,1247.5 1175.4,1244.6 1183.2,1245.6 1199,1241.6 1206.8,1245.6 1213.7,1251.1 1218.6,1249.5 1224.5,1239.7 1244.2,1231.8 1252.1,1227.9 1254,1220 1254,1219.9 1254.6,1219.3 1267.4,1213.4 1267.4,1213.4 1279.2,1220.3 1285.1,1227.2 1285.1,1232.1 1298.8,1244.9 1302.8,1250.8 1308.7,1253.8 1314.6,1258.7 1322.4,1266.5 1326.4,1274.4 1331.3,1282.3 1332.3,1296 1334.2,1307.8 1337.2,1319.6 1338.2,1325.5 1342.1,1330.5 1343.1,1331.4 1343.1,1331.4 1346,1335.4 1351.9,1338.3 1361.8,1339.3 1367.7,1335.4 1375.5,1329.5 1381.4,1326.5 1389.3,1325.5 1393.3,1329.5 1394.2,1331.4 1394.2,1331.4 1395.2,1337.3 1396.2,1347.2 1387.3,1355.1 1379.5,1362.9 1374.6,1373.7 1370.6,1382.6 1373.6,1396.4 1374.6,1410.1 1374.6,1410.1 1367.7,1411.7 1361.8,1412.1 1355.9,1410.1 1348,1403.2 1343.1,1408.2 1339.2,1404.2 1332.3,1409.1 1326.4,1403.2 1316.5,1405.2 1304.7,1411.1 1292.9,1417 1287,1422.9 1281.1,1430.8 1277.2,1434.7 1269.3,1438.6 1265.8,1437.3 1234.4,1440.3 1224.5,1445.2 1202.9,1443.2 1183.2,1445.2 1178.3,1442.3 1179.3,1436.4 1170.4,1432 1170.4,1432 1168.5,1429.5 1163.6,1424.6 1163.6,1416.7 1171.4,1413.7 1161.6,1408.8 1155.7,1412.8 1153.7,1420.6 1149.8,1416.7 1136,1414.7 1122.3,1405.9 1128.2,1403.9 1124.2,1399 1122.3,1391.1 1113.4,1387.2 1102.6,1383.3 1097.7,1377.3 1094.7,1367.5 1088.8,1361.6 1079,1352.2 1079,1352.2 1088.8,1349.8 1091.8,1342.9 1102.6,1340 1106.5,1334.1 1108.5,1322.3 1113.4,1318.3 1116.4,1304.6 1122.3,1288.8 1125.2,1276.1 1130.1,1264.3 1145.9,1256.4Z" fill="#fcd391" stroke="#fcd391" stroke-width="0.7"/>
<path d="M511.2,1127.4 501.8,1128.4 483.1,1132.3 479.1,1141.1 478.2,1163.8 471.3,1168.7 461.4,1174.6 446.7,1177.5 432.9,1182.4 428,1191.3 431.9,1197.8 416.2,1203.1 405.4,1197.2 389.6,1193.3 385.7,1185.4 388.7,1182 386.7,1178.9 372.9,1178.5 367,1175 369,1184.4 372.9,1200.1 371.9,1211.9 370,1220.8 373.5,1227.7 362.1,1222.8 356.2,1225.3 348.3,1222.8 335.6,1227.7 325.7,1208.4 313.9,1210.4 310,1208 308.6,1213.9 303.1,1210.4 296.2,1211 297.2,1212.9 283.4,1211.6 271.6,1213.9 268.7,1219.8 271.6,1225.7 282.5,1223.7 273.6,1231.6 281.5,1235.5 266.7,1237.5 274.6,1243.4 276.6,1251.3 287.4,1249.3 297.2,1257.2 307,1262.1 312.9,1268 312.9,1273.9 317.9,1269.4 328.7,1274.9 334.6,1276.9 334.6,1282.8 330.6,1285.7 336.5,1289.6 342.4,1290.6 336.5,1296.5 343.4,1301.4 339.5,1308.3 344.4,1318.2 348.3,1325 358.2,1333.9 367,1341.8 365.1,1345.7 368,1353.6 364.1,1362.4 359.2,1368.3 368,1375.2 373.9,1384 374.9,1390.9 370,1387 364.1,1378.1 361.1,1380.1 357.8,1396.8 353.3,1417.5 350.3,1428.3 346.4,1442.1 342.4,1453.9 337.5,1470 337.5,1469.9 325.6,1475.6 325.6,1475.6 331.3,1482.8 339,1484.1 335.1,1491.9 341.6,1490.6 357.1,1498.3 362.3,1508.7 374,1508.7 383,1516.5 393.4,1515.2 405,1519 407.6,1512.6 424.4,1519 434.8,1526.8 445.1,1532 451.6,1541 465.8,1539.8 473.6,1543.6 478.8,1541 491.7,1541 491.7,1541 489.1,1521.6 500,1503.5 512,1496 530,1492 548,1497 560,1499 571.8,1505.9 573.8,1509.8 587.5,1513.7 589.5,1517.7 598.4,1515.7 599.3,1519.6 607.2,1516.7 618,1513.7 621,1508.8 632.8,1498 638.7,1491.1 648.5,1488.2 648.5,1488.2 649.5,1482.3 655.4,1473.4 656.4,1468.1 646.5,1467.5 635.7,1464.6 629.8,1456.7 628.8,1450.8 632.8,1444.9 635.7,1440 632.8,1435.1 624.9,1431.1 622.9,1422.3 634.7,1420.3 637.7,1415.4 639.7,1406.5 634.7,1403.6 635.7,1397.7 630.8,1393.7 629.8,1387.8 633.8,1382.9 633.8,1382.9 629.8,1374.1 628.8,1363.3 621,1360.3 613.1,1363.3 607.2,1367.2 607.2,1371.1 602.3,1371.1 602.3,1367.2 606.2,1366.2 606.2,1352.4 617,1340.6 619,1335.7 628.8,1327.9 638.7,1316.1 634.7,1314.1 637.7,1308.2 642.6,1307.2 646.5,1311.1 658.3,1305.6 658.3,1305.6 656.4,1295.4 657.4,1283.6 661.3,1269.8 665.2,1260 678.2,1240.3 679.3,1239.4 671.3,1235.8 660.4,1235.1 655.4,1227.1 648.8,1228.6 643,1230 642.3,1227.1 633.6,1229.3 630.7,1222.8 629.3,1215.5 622.8,1212.6 622.8,1212.6 614.8,1211.2 607.5,1209 607.5,1209 603.2,1208.3 595.9,1210.4 593,1204.6 577.1,1193.8 575.7,1184.3 579.3,1180 577.1,1178.6 573.5,1180 572.8,1185.1 563.3,1187.5 554.6,1185.1 559,1181.4 555.4,1177.8 559,1172 551.7,1164.8 543.8,1166.2 540.9,1159.7 531.4,1156.1 531.4,1147.4 526.4,1142.3 520.6,1146.7 514.1,1138 511.2,1127.5Z" fill="#f0864a" stroke="#f0864a" stroke-width="0.7"/>
<path d="M325.6,1475.6 331.3,1482.8 339,1484.1 335.1,1491.9 341.6,1490.6 357.1,1498.3 362.3,1508.7 374,1508.7 383,1516.5 393.4,1515.2 405,1519 407.6,1512.6 424.4,1519 434.8,1526.8 445.1,1532 451.6,1541 465.8,1539.8 473.6,1543.6 478.8,1541 491.7,1541 491.7,1541 496.9,1547.5 491.7,1552.7 493,1563 486.5,1572.1 476.2,1578.6 455.5,1586.3 450.3,1591.5 429.6,1595.4 411.5,1601.9 401.1,1610.9 402.4,1613.5 396,1617.4 385.6,1630.3 372.7,1648.4 359.7,1661.4 353.3,1671.7 354.6,1684.7 359.7,1695 368.8,1701.5 357.1,1708 346.8,1711.9 339,1718.3 339,1724.8 332.6,1727.4 330,1739 324.8,1746.8 327.4,1753.3 314.4,1754.6 295,1759.7 280.8,1766.2 274.3,1780.4 267.9,1786.9 258.8,1780.4 245.9,1784.3 227.7,1779.1 214.8,1779.1 178.6,1772.7 170.8,1777.8 155.3,1780.4 144.9,1786.9 141,1793.4 129.4,1796 121.6,1788.2 113.9,1783 108.7,1767.5 110,1762.3 103.5,1755.8 106.1,1750.7 99.6,1739 91.9,1730 82.8,1726.6 71.2,1725.6 71.2,1725.6 72.5,1709.3 78.9,1697.6 85.4,1688.6 93.2,1687.3 98.3,1683.4 90.6,1680.8 86.7,1669.2 91.9,1656.2 99.6,1649.7 104.8,1642 99.6,1636.8 98.3,1625.2 91.9,1610.9 110,1610.9 117.8,1601.9 115.2,1590.2 121.6,1585 126.8,1578.6 129.4,1560.5 126.8,1551.4 139.8,1541 148.8,1538.5 156.6,1528.1 147.5,1522.9 148.8,1511.3 128.1,1504 117.8,1508.7 108.7,1506.1 91.9,1500.9 90.6,1497 94.5,1491.9 93.2,1488 80.2,1489.3 66.8,1493.2 66.8,1493.2 71.2,1485.4 77.6,1476.3 69.9,1475.1 77.6,1469.9 69.9,1466 75.1,1454.3 68.6,1451.8 64.7,1444 68.6,1431.1 77.6,1429.8 81.5,1425.9 103.5,1427.2 106.1,1422 120.3,1415.5 121.6,1418.1 132,1418.1 139.8,1425.9 147.5,1432.3 168.2,1436.2 186.3,1436.2 191.5,1441.4 212.2,1449.2 232.9,1456.9 256.2,1458.2 258.8,1462.1 266.6,1458.2 269.2,1463.4 280.8,1468.6 284.7,1466 292.4,1467.3 310.6,1475.1Z" fill="#f6a600" stroke="#f6a600" stroke-width="0.7"/>
<path d="M859.9,1354 859.7,1354.3 859.9,1354.4Z M635.7,1397.7 634.7,1403.6 639.7,1406.5 637.7,1415.4 634.7,1420.3 622.9,1422.3 624.9,1431.1 632.8,1435.1 635.7,1440 632.8,1444.9 628.8,1450.8 629.8,1456.7 635.7,1464.6 646.5,1467.5 656.4,1468.1 655.4,1473.4 649.5,1482.3 648.5,1488.2 672.1,1480.3 676,1468.5 681.9,1467.5 682.9,1462.6 689.8,1458.7 697.7,1458.7 707.5,1461.6 709.5,1460.6 723.3,1468.5 729.2,1474.4 731.1,1472.4 739,1478.3 744.9,1488.2 748.8,1503.9 753.7,1513.7 754.7,1526.5 760.6,1529.5 761.6,1535.4 768.5,1539.3 777.3,1549.1 774.4,1553.1 792.1,1555 798,1564.9 801.9,1570.8 811.8,1576.7 815.7,1586.5 821.6,1590.4 835.4,1598.3 841.3,1604.2 847.2,1608.1 853.1,1603.2 862.9,1608.1 874.7,1606.2 882.6,1616 883.7,1623.7 894.6,1625.2 902.4,1629.9 896.1,1636.1 910.1,1631.4 921,1643.9 917.9,1650.1 933.4,1660.9 945.8,1657.8 955.2,1671.8 964.5,1696.6 970.7,1709.1 967.6,1718.4 958.3,1719.9 958.3,1727.7 953.6,1740.1 948.9,1746.3 950.5,1756.3 967.6,1756.3 972.2,1743.2 984.7,1729.3 981.6,1718.4 995.5,1706 1004.8,1702.9 1001.7,1684.2 989.3,1676.5 980,1673.4 976.9,1665.6 980,1653.2 989.3,1637.6 998.6,1631.4 1008,1637.6 1026.6,1643.9 1031.2,1653.2 1045.2,1659.4 1048.9,1643.9 1039,1634.5 1029.7,1622.1 1020.4,1619 992.4,1606.6 967.6,1594.2 948.9,1588 947.4,1581.7 958.3,1572.4 955.2,1566.8 939.6,1567.8 920.3,1568.6 918,1568.8 904.2,1566.8 906.2,1560.9 898.3,1557 886.5,1545.2 878.6,1535.4 874.7,1521.6 866.8,1503.9 859,1492.1 849.1,1488.2 831.4,1478.3 821.6,1468.5 817.7,1460.6 814.7,1448.8 813.7,1438 815.7,1437 819.6,1433.1 815.7,1429.2 813.7,1421.3 809.8,1411.4 815.7,1404.6 821.6,1405.5 839.3,1397.7 840.3,1393.7 845.2,1390.8 853.1,1389.8 859,1395.7 855,1402.6 859.9,1400.6 863.9,1393.7 855,1381.9 855,1372.1 849.1,1367.2 859.7,1354.3 855,1351.5 835.4,1349.5 817.7,1348.5 809.8,1343.6 808.8,1331.8 805.9,1328.8 792.1,1333.8 773.4,1335.7 770.5,1342.6 760.6,1343.6 758.7,1339.7 751.8,1340.6 750.8,1354.4 744.9,1356.4 740,1364.2 741.9,1371.1 738,1372.1 737,1367.2 719.3,1367.2 717.3,1359.3 713.4,1359.3 711.4,1367.2 705.5,1378 707.5,1385.9 705.5,1389.8 699.6,1389.8 698.7,1382.9 694.7,1379 695.7,1376 685.9,1366.2 682.9,1361.3 674.1,1370.1 671.1,1378 666.2,1380 665.2,1383.9 638.7,1386.9 634.7,1383.9 633.8,1382.9 629.8,1387.8 630.8,1393.7Z M920.3,1568.6 940,1566.8 917.9,1568.7Z" fill="#b0c4e8" stroke="#b0c4e8" stroke-width="0.7"/>
<path d="M1033.8,876.4 1034.7,863.6 1078,847.9 1127.2,836.1 1156.7,845.9 1176.4,861.6 1183.2,865.2 1183.2,865.2 1181.3,871.5 1182.3,882.3 1190.1,884.3 1189.1,890.2 1178.3,893.1 1176.4,902 1168.5,908.8 1167.5,914.7 1171.4,924.6 1169.5,931.5 1171.4,934.4 1175.4,942.3 1172.4,943.3 1168.5,936.4 1164.6,940.3 1156.7,944.2 1150.8,949.2 1149.8,954.1 1143.9,957 1142.9,961.9 1133.1,960.4 1116.4,964.9 1113.4,958 1107.5,952.1 1100.6,952.1 1095.7,947.8 1087.8,952.1 1078,932.4 1066.2,926.5 1044.6,920.6 1037.7,899Z" fill="#fcd391" stroke="#fcd391" stroke-width="0.7"/>
<path d="M66.8,1493.2 64.7,1503.5 66,1519 63.4,1539.8 58.2,1555.3 50.5,1573.4 38.8,1591.5 31.1,1600.6 22,1607 20.7,1620 10.4,1631.6 10.4,1636.8 19.4,1638.1 25.9,1632.9 31.1,1636.8 28.5,1643.3 19.4,1644.6 18.1,1652.3 33.6,1651 34.9,1658.8 31.1,1669.2 24.6,1674.3 28.5,1682.1 24.6,1692.4 19.4,1705.4 12.9,1718.3 31.1,1719.6 50.5,1731.3 62.1,1726.6 71.2,1725.6 71.2,1725.6 72.5,1709.3 78.9,1697.6 85.4,1688.6 93.2,1687.3 98.3,1683.4 90.6,1680.8 86.7,1669.2 91.9,1656.2 99.6,1649.7 104.8,1642 99.6,1636.8 98.3,1625.2 91.9,1610.9 110,1610.9 117.8,1601.9 115.2,1590.2 121.6,1585 126.8,1578.6 129.4,1560.5 126.8,1551.4 139.8,1541 148.8,1538.5 156.6,1528.1 147.5,1522.9 148.8,1511.3 128.1,1504 117.8,1508.7 108.7,1506.1 91.9,1500.9 90.6,1497 94.5,1491.9 93.2,1488 80.2,1489.3Z" fill="#f6a600" stroke="#f6a600" stroke-width="0.7"/>
<path d="M996.4,533.4 985.6,535.4 985.6,543.3 982.6,553.1 981.6,562.9 987.5,574.7 990.5,588.5 994.4,596.4 997.4,606.2 1001.3,614.1 998.4,627.8 999.3,637.7 997.4,645.5 1001.3,649.5 1002.3,655.4 1007.2,659.3 1011.1,663.3 1017,661.3 1028.8,667.2 1034.7,669.2 1042.6,667.2 1032.8,674.1 1031.8,684.9 1038.7,684.9 1041.6,681.9 1044.6,681 1046.5,689.8 1054.4,688.8 1058.3,679 1070.1,677 1078,673.1 1081.9,673.1 1085.9,668.2 1101.6,663.3 1105.5,655.4 1111.4,657.3 1115.4,645.5 1121.3,646.5 1131.1,643.6 1137,637.7 1144.9,635.7 1151.8,630.8 1154.7,625.9 1162.6,610.1 1172.4,590.5 1182.3,568.8 1192.1,545.2 1199,529.9 1198.8,530 1199.9,500.6 1188.5,487.1 1169.9,482 1156.4,469.5 1160.5,461.3 1161.2,450.5 1157.4,445.7 1146,438.5 1142.9,428.1 1133.6,421.9 1130.9,416.7 1134.2,410.5 1132.6,405.4 1126.4,404.3 1128.4,399.2 1124.3,386.7 1129.5,383 1121.2,366 1107.7,350.5 1093.3,330.8 1098,306 1097.4,293.6 1087,286.3 1079.8,278 1069.4,276 1064.3,270.8 1058.5,258.4 1059.7,243.9 1053.9,243.5 1060.1,235.6 1056,229.4 1060.1,217 1057,210.7 1051.8,205.6 1043.6,204.1 1035.3,200.4 1028,192.5 1017.7,204.9 1006.3,206.6 1001.7,220.1 1003.8,223.2 1004.2,237.7 1008.4,250.1 1002.2,262.5 1000.1,274.9 976.3,267.7 968,276.6 959.7,277.4 952.5,274.9 942.1,262.5 935.9,253.8 929.7,253.2 926.6,256.3 919.3,267.7 942.1,280.1 964.9,291.5 971.1,299.8 981.4,306 982.5,316.3 985.6,322.5 986.6,328.8 989.7,333.9 988.7,341.2 1001.1,359.4 999.7,368.1 1001.1,374.3 997,377.4 1000.1,384.7 1014.6,405.4 1024.9,410.5 1033.2,409.5 1039.4,415.7 1043.6,430.2 1048.7,440.6 1045.6,444.7 1039.4,442.6 1033.2,453 1032.2,461.3 1024.9,482 1017.7,490.2 1020.8,494.4 1014.6,500.6 1006.3,504.7 1004.2,517.2 998,523.4 1002,529.7ZM1002.3,529.5 1002.2,530 1002,529.7Z" fill="#b0c4e8" stroke="#b0c4e8" stroke-width="0.7"/>
<path d="M962.9,1276.1 972.8,1280 982.6,1283.9 988.5,1283.9 1018,1279 1018,1272.1 1025.9,1264.3 1037.7,1262.3 1040.6,1256.4 1055.4,1257.4 1057.3,1251.5 1065.2,1249.5 1067.2,1239.7 1073.1,1234.8 1080,1234.8 1090.8,1235.7 1098.7,1231.8 1104.6,1235.7 1108.5,1239.3 1119.3,1235.7 1119.3,1235.7 1130.1,1239.7 1136,1245.6 1145.9,1244.6 1148.8,1249.5 1148.8,1249.5 1145.9,1256.4 1130.1,1264.3 1125.2,1276.1 1122.3,1288.8 1116.4,1304.6 1113.4,1318.3 1108.5,1322.3 1106.5,1334.1 1102.6,1340 1091.8,1342.9 1088.8,1349.8 1079,1352.2 1079,1352.2 1073.1,1353.7 1057.3,1352.2 1049.5,1357.7 1033.7,1366.5 1031.4,1369.5 1031.4,1369.5 1024.9,1369.5 1021.9,1376.4 1018,1378.3 998.3,1378.3 990.5,1375.4 986.5,1371.4 978.7,1369.9 973.8,1361.6 964.9,1355.7 955.1,1348.8 950.2,1345.9 943.7,1347.8 943.7,1347.8 947.2,1341.9 942.3,1333.1 942.3,1333.1 944.3,1324.2 947.2,1318.3 945.2,1307.5 950.2,1304.6 952.1,1296.7 944.3,1293.8 950.2,1289.8 963.9,1287.9 962,1279Z" fill="#fcd391" stroke="#fcd391" stroke-width="0.7"/>
<path d="M1170.4,1432 1179.3,1436.4 1178.3,1442.3 1183.2,1445.2 1202.9,1443.2 1224.5,1445.2 1234.4,1440.3 1265.8,1437.3 1269.3,1438.6 1277.2,1434.7 1281.1,1430.8 1287,1422.9 1292.9,1417 1304.7,1411.1 1316.5,1405.2 1326.4,1403.2 1332.3,1409.1 1339.2,1404.2 1343.1,1408.2 1348,1403.2 1355.9,1410.1 1361.8,1412.1 1367.7,1411.7 1374.6,1410.1 1374.6,1410.1 1376.5,1420 1372.6,1427.8 1365.7,1428.2 1360.8,1435.7 1358.8,1442.6 1359.8,1451.4 1362.2,1464.2 1355.9,1465.2 1355.5,1473.1 1349,1478 1358.8,1480.9 1362.8,1488.8 1371.6,1496.7 1371.6,1496.7 1359.8,1502.6 1346,1499.6 1339.2,1502.6 1334.2,1510.4 1322.4,1515.4 1317.5,1522.2 1316.5,1525.8 1313.7,1525.2 1314.7,1531.5 1315.7,1538.4 1311.8,1542.3 1305.9,1547.2 1292.1,1549.6 1282.3,1553.1 1272.4,1550.7 1268.5,1550.2 1255.7,1545.2 1244.9,1547.2 1231.1,1551.5 1217.3,1557 1211.4,1560 1201.6,1559 1200.9,1559.3 1200.9,1550.4 1195,1536.7 1183.2,1526.8 1177.3,1520.9 1177.3,1520.9 1174.4,1511.1 1175.4,1496.3 1184.2,1491.4 1189.1,1477.7 1181.3,1473.7 1170.4,1463.9 1163.6,1446.2 1164.5,1440.3Z" fill="#fcd391" stroke="#fcd391" stroke-width="0.7"/>
<path d="M653.8,1027.9 651.8,1017 654.8,1013.5 680.3,1014.1 683.3,1023.9 687.2,1024.9 694.1,1017 698,1004.3 708.8,1003.3 707.6,1002.2 703.9,996.6 706.6,989.2 700.1,983.6 698.3,979.9 703.9,976.1 702,965 697.3,954.7 720.6,957.5 731.8,961.2 735.5,966.8 736.5,976.1 743,980.8 765.3,981.7 768.1,989.2 758.8,996.6 761.6,1000.4 769.1,996.6 776.5,1002.2 782.1,991.1 795.2,990.1 798.9,985.5 817.5,978.9 821.2,977.1 825,983.6 830.6,985.5 836.1,991.1 840.8,988.3 846.4,993.9 851.1,997.6 856.6,998.5 857.3,1010.2 862.3,1026.9 860.3,1036.7 856.4,1044.6 858.3,1052.4 870.1,1061.3 868.2,1070.1 874.1,1081.9 873.1,1097.7 879,1111.4 884.9,1117.3 886.8,1128.2 882.9,1137 880.9,1144.9 880.9,1144.9 875,1137 866.2,1135.1 865.2,1142.9 855.4,1148.8 853.4,1151.8 842.6,1153.7 841.6,1157.7 828.8,1165.5 826.9,1167.5 809.2,1173.4 806.2,1178.3 800.3,1173.4 803.3,1181.3 813.1,1192.1 815.1,1195 811.1,1199 818,1209.8 820,1215.7 831.8,1220.6 842.6,1234.4 844.6,1239.3 855.4,1246.2 856.4,1249.1 856.4,1249.1 854.4,1255 846.5,1258 845.6,1260 843.2,1265.9 827.5,1274.8 824.5,1280.7 829.5,1289.5 828.5,1292.5 832.4,1296.4 835.4,1304.3 834.4,1308.2 827.5,1302.3 821.6,1298.4 815.7,1301.3 807.8,1298.4 805.9,1302.3 794.1,1304.3 786.2,1307.2 780.3,1312.1 773.4,1313.1 766.5,1314.1 764.6,1308.2 749.8,1309.2 745.9,1314.1 741,1319 738,1313.1 735.1,1308.2 729.2,1306.2 724.2,1309.2 724.2,1309.2 715.4,1303.7 701.6,1302.3 697.7,1299.3 690.8,1294.4 685.9,1297.4 683.9,1302.3 678,1302.9 666.2,1306.8 658.3,1305.6 658.3,1305.6 656.4,1295.4 657.4,1283.6 661.3,1269.8 665.2,1260 678.2,1240.3 679.3,1239.4 671.3,1235.8 660.4,1235.1 655.4,1227.1 648.8,1228.6 643,1230 642.3,1227.1 633.6,1229.3 630.7,1222.8 629.3,1215.5 622.8,1212.6 622.8,1212.6 622.8,1209 627.1,1201.7 626.4,1196.7 620.6,1193 616.2,1185.8 617,1178.6 617,1178.6 619.1,1175.7 624.9,1172 624.2,1165.5 620.6,1163.3 621.3,1158.3 616.2,1151.7 616.2,1151.7 617,1145.2 615.5,1140.9 611.2,1140.1 610.4,1138 619.1,1130 622,1123.5 622.8,1116.2 619.9,1107.5 616.2,1103.2 619.1,1097.4 623.5,1096.7 629.3,1101 630,1098.8 643,1094.5 640.1,1088.7 649.6,1081.4 648.1,1079.3 649.6,1073.5 648.1,1069.9 638.7,1069.1 639.4,1062.9 651,1062.6 656.1,1034.3 653.8,1028.6Z" fill="#f0864a" stroke="#f0864a" stroke-width="0.7"/>
<path d="M688,866.2 692.7,859.7 701.1,849.4 720.6,847.6 731.8,834.5 751.4,820.6 749.5,834.5 748.6,843.9 743,856 731.8,851.3 720.6,852.2 707.6,855 702,858.8 705.7,864.3 700.1,869.9 694.5,864.3Z" fill="#b0c4e8" stroke="#b0c4e8" stroke-width="0.7"/>
<path d="M697.3,954.7 699.2,944.5 694.5,927.7 690.8,922.1 684.3,924 686.1,909.1 684.3,901.6 688,896 686.1,886.7 687.1,873.7 698.3,875.5 702,879.3 703.9,871.8 711.3,864.3 713.2,873.7 717.8,875.5 715,861.6 724.3,855 733.7,853.2 742,857.8 744.8,868.1 746.7,879.3 758.8,876.5 760.7,883 754.2,897 750.4,890.4 743.9,894.2 739.3,905.3 737.4,914.7 729.9,918.4 724.3,918.4 731.8,924 726.2,927.7 729.9,938.9 720.6,944.5 724.3,949.1 728.1,946.3 737.4,953.8 729.9,957.5 720.6,957.5Z" fill="#b0c4e8" stroke="#b0c4e8" stroke-width="0.7"/>
<path d="M731.8,925.8 744.8,922.1 750.4,925.8 754.2,924 758.8,938.9 756,948.2 750.4,953.8 739.3,944.5 733.7,937Z" fill="#b0c4e8" stroke="#b0c4e8" stroke-width="0.7"/>
<path d="M761.6,916.5 774.7,914.7 776.5,905.3 770.9,902.5 782.1,904.4 787.7,901.6 797,895.1 806.3,898.8 804.5,909.1 808.2,918.4 806.3,922.1 798.9,924 796.1,929.6 804.5,935.2 795.2,941.7 793.3,950.1 787.7,951 784,945.4 770.9,939.8 767.2,933.3 769.1,925.8 763.5,922.1Z" fill="#b0c4e8" stroke="#b0c4e8" stroke-width="0.7"/>
<path d="M763.5,957.5 769.1,953.8 780.2,957.5 785.8,951.9 795.2,959.4 788.6,971.5 787.7,965 778.4,969.6 769.1,965Z" fill="#b0c4e8" stroke="#b0c4e8" stroke-width="0.7"/>
<path d="M755.1,962.2 762.5,943.5 763.5,944.5 757.9,961.2Z" fill="#b0c4e8" stroke="#b0c4e8" stroke-width="0.7"/>
<path d="M795.2,952.9 798.9,947.3 807.3,950.1 803.5,952.9Z" fill="#b0c4e8" stroke="#b0c4e8" stroke-width="0.7"/>
<path d="M825,965.9 830.6,965 831.5,969.6 837.1,969.6 836.1,976.1 840.8,982.7 832.4,983.6 825,979.9Z" fill="#f0864a" stroke="#f0864a" stroke-width="0.7"/>
<path d="M763.5,976.1 766.3,971.5 771.9,978Z" fill="#f0864a" stroke="#f0864a" stroke-width="0.7"/>
<path d="M1101.6,775.4 1105.5,795 1107.5,806.8 1101.6,816.7 1095.7,821.6 1087.8,822.6 1081,818.6 1074.1,808.8 1062.3,799 1056.4,793.1 1035.7,803.9 1031.8,814.7 1032.8,824.5 1026.9,838.3 1027.9,854 1030.8,867.8 1033.8,876.5 1038.7,865.8 1046.5,859.9 1054.4,858 1076,854 1081.9,856 1097.7,850.1 1107.5,853.1 1123.3,848.1 1127.2,841.3 1133.1,852.1 1148.8,850.1 1156.7,854 1176.4,866.8 1182.3,865.8 1189.1,858 1204.9,855 1205.9,846.2 1215.7,828.5 1210.8,816.7 1203.9,806.8 1200.9,802.9 1195,805.8 1193.1,793.1 1194.1,783.2 1182.3,777.3 1178.3,775.4 1176.4,769.5 1156.7,775.4 1142.9,765.5 1123.3,755.7 1105.5,769.5Z" fill="#fcd391" stroke="#fcd391" stroke-width="0.7"/>
<path d="M1044.6,914.3 1067.2,920.6 1081,917.1 1084.9,921.6 1089.8,926.5 1088.8,944.2 1095.7,947.8 1059.3,959 1009.2,959 1012.1,956 1017,952.1 1023.9,944.2 1014.1,946.2 1010.7,950.1 1011.5,932.4 1024.9,930.5 1028.8,926.5 1027.9,932.4 1042.6,931.5 1044.6,922.6 1041.6,916.7Z" fill="#e3e4e6" stroke="#e3e4e6" stroke-width="0.7"/>
<path d="M1026.9,931.5 1033.8,910.8 1036.7,897 1038.7,899 1035.7,912.8 1029.2,932.4Z" fill="#e3e4e6" stroke="#e3e4e6" stroke-width="0.7"/>
<path d="M993.4,965.9 1003.3,959 1022.9,944.6 1019,950.1 1005.2,961.9 999.3,968.8 995,968.8Z" fill="#e3e4e6" stroke="#e3e4e6" stroke-width="0.7"/>
<path d="M511.2,1127.5 514.1,1138 520.6,1146.7 526.4,1142.3 531.4,1147.4 531.4,1156.1 540.9,1159.7 543.8,1166.2 551.7,1164.8 559,1172 555.4,1177.8 559,1181.4 554.6,1185.1 563.3,1187.5 572.8,1185.1 573.5,1180 577.1,1178.6 579.3,1180 575.7,1184.3 577.1,1193.8 593,1204.6 595.9,1210.4 603.2,1208.3 607.5,1209 607.5,1209 607.5,1203.2 604.6,1194.5 607.5,1182.9 613.3,1179.3 617,1178.6 617,1178.6 619.1,1175.7 624.9,1172 624.2,1165.5 620.6,1163.3 621.3,1158.3 616.2,1151.7 616.2,1151.7 604.6,1151.7 604.3,1144.5 608.3,1138.7 611.2,1132.9 603.2,1129.3 602.5,1124.2 593,1126.4 588.7,1120.6 588,1115.5 583.6,1117 580,1113.3 577.8,1117 571.3,1114.1 567,1116.2 565.5,1119.9 555.4,1124.2 549.6,1121.3 545.2,1118.4 535.8,1119.1 535.8,1116.2 535.8,1116.2 523.5,1121.3Z" fill="#f0864a" stroke="#f0864a" stroke-width="0.7"/>
<path d="M1116.1,1657.3 1119,1649.5 1117,1644.6 1120,1639.6 1127.9,1635.7 1128.8,1626.9 1134.7,1618 1139.7,1612.1 1136.7,1600.3 1142.6,1597.4 1142.6,1597.4 1152.4,1594.4 1162.3,1586.5 1166.2,1582.6 1176,1577.7 1187.8,1575.7 1195.7,1571.8 1197.7,1565.9 1201.6,1559 1201.6,1559 1211.4,1560 1217.3,1557 1231.1,1551.5 1244.9,1547.2 1255.7,1545.2 1268.5,1550.2 1272.4,1550.7 1282.3,1553.1 1292.1,1549.6 1305.9,1547.2 1311.8,1542.3 1315.7,1538.4 1314.7,1531.5 1313.7,1525.2 1313.7,1525.2 1323.6,1524.6 1330.4,1529.5 1331.4,1536.4 1324.5,1542.3 1324.5,1557 1319.6,1566.9 1317.7,1570.4 1317.7,1570.4 1307.8,1567.9 1292.1,1568.8 1280.3,1566.9 1274.4,1570.8 1264.6,1575.7 1260.6,1572.8 1254.7,1577.7 1251.8,1582.6 1244.9,1585.6 1235.1,1586.5 1234.1,1591.5 1241,1594.4 1242.9,1600.3 1254.7,1601.3 1262.6,1612.1 1256.7,1604.2 1246.9,1603.3 1240,1607.2 1246.9,1614.1 1251.8,1618 1248.8,1622.9 1242.9,1618 1237,1612.1 1229.2,1613.1 1223.3,1616 1227.2,1621.9 1241,1625.9 1227.2,1625.9 1223.3,1621.9 1222.3,1615.1 1215.4,1610.1 1207.5,1604.2 1206.5,1599.3 1201.6,1602.3 1204.6,1606.2 1197.7,1607.2 1196.7,1612.1 1198.7,1623.9 1206.5,1633.7 1211.4,1639.6 1215.4,1647.5 1225.2,1655.4 1232.1,1662.3 1229.2,1667.2 1223.3,1669.2 1217.3,1659.3 1213.4,1663.3 1217.3,1668.2 1223.3,1673.1 1217.3,1680 1205.5,1681.9 1215.4,1684.9 1223.3,1683.9 1229.2,1686.9 1231.1,1692.8 1237,1695.7 1246.9,1690.8 1248.8,1697.7 1256.7,1697.7 1264.6,1702.6 1268.5,1713.4 1271.4,1724.2 1270.5,1729.1 1266.5,1730.1 1263.6,1722.3 1254.7,1717.3 1244.9,1717.3 1235.1,1722.3 1231.1,1726.2 1223.3,1720.3 1233.1,1716.4 1235.1,1712.4 1217.3,1711.4 1209.5,1706.5 1202.6,1708.5 1185.9,1708.5 1170.1,1715.4 1162.3,1709.5 1156.4,1717.3 1152.4,1708.5 1148.5,1701.6 1140.6,1694.7 1138.7,1688.8 1152.4,1688.8 1152.4,1682.9 1142.6,1682.9 1137.7,1689.8 1134.7,1684.9 1127.9,1678 1119,1671.1 1116.1,1667.2 1114.1,1661.3Z" fill="#f6a600" stroke="#f6a600" stroke-width="0.7"/>
<path d="M956.6,1245.2 956.6,1245.2 956.7,1245.2Z M946.8,1240.3 935,1241.3 919.3,1238.3 903.6,1233.4 899.6,1234.4 893.7,1233.4 892.7,1240.3 886.8,1243.2 885.9,1250.1 871.1,1255 856.4,1249.1 854.4,1255 846.5,1258 845.6,1260 843.2,1265.9 827.5,1274.8 824.5,1280.7 829.5,1289.5 828.5,1292.5 832.4,1296.4 835.4,1304.3 834.4,1308.2 827.5,1302.3 821.6,1298.4 815.7,1301.3 807.8,1298.4 805.9,1302.3 794.1,1304.3 786.2,1307.2 780.3,1312.1 773.4,1313.1 766.5,1314.1 764.6,1308.2 749.8,1309.2 745.9,1314.1 741,1319 738,1313.1 735.1,1308.2 729.2,1306.2 724.2,1309.2 723.3,1319 719.3,1322.9 720.3,1329.8 729.2,1332.8 733.1,1338.7 741,1340.6 746.9,1335.7 749.8,1332.8 751.8,1338.7 751.8,1340.6 758.7,1339.7 760.6,1343.6 770.5,1342.6 773.4,1335.7 792.1,1333.8 805.9,1328.8 808.8,1331.8 809.8,1343.6 817.7,1348.5 835.4,1349.5 855,1351.5 859.9,1354.4 859.9,1354 882.6,1356.4 894.4,1349.5 898.3,1346.5 912.1,1345.6 923.9,1340.6 935.7,1338.7 935.6,1338.6 942.3,1333.1 944.3,1324.2 947.2,1318.3 945.2,1307.5 950.2,1304.6 952.1,1296.7 944.3,1293.8 950.2,1289.8 963.9,1287.9 962,1279 962.9,1276.1 959,1265.2 955.1,1257.4 956.6,1245.2 952.7,1241.3Z" fill="#b0c4e8" stroke="#b0c4e8" stroke-width="0.7"/>
<path d="M1018,1522.9 1010.1,1515 1002.3,1511.1 992.4,1501.3 986.5,1491.4 974.7,1483.6 964.9,1473.7 953.1,1463.9 949.2,1456 945.2,1446.2 940.3,1432.4 934.4,1435.4 931.5,1432.4 932.5,1426.5 931.5,1418.7 934.4,1411.8 940.3,1409.8 947.2,1420.6 951.1,1413.7 962.9,1411.8 968.8,1405.9 973.8,1409.8 992.4,1408.8 1000.3,1413.7 1006.2,1408.8 1018,1405.9 1025.9,1407.8 1034.7,1409.8 1037.7,1416.7 1044.6,1415.7 1043.6,1414.7 1044.6,1401.9 1053.4,1400 1043.6,1396 1036.7,1389.2 1037.7,1383.3 1033.7,1377.3 1031.4,1369.5 1024.9,1369.5 1021.9,1376.4 1018,1378.3 998.3,1378.3 990.5,1375.4 986.5,1371.4 978.7,1369.9 973.8,1361.6 964.9,1355.7 955.1,1348.8 950.2,1345.9 943.7,1347.8 942.3,1354.7 939.9,1356.3 940,1356.4 933.7,1360.3 923.9,1367.2 923.9,1382.9 917,1387.8 914,1397.7 906.2,1396.7 899.3,1401.6 888.5,1393.7 878.6,1401.6 866.8,1401.6 860.9,1397.7 855,1402.6 859,1415.4 866.8,1427.2 870.8,1437 872.7,1425.2 876.7,1423.3 880.6,1409.5 886.5,1412.4 894.4,1423.3 902.2,1427.2 904.2,1437 912.1,1448.8 919.9,1454.7 927.8,1468.5 939.9,1480.2 943.3,1490.4 950.2,1493.4 956.1,1489.5 964.9,1492.4 977.7,1498.3 986.5,1505.2 998.3,1515 1010.1,1520.9 1021.9,1526.8 1031.8,1531.7 1027.8,1528.8ZM939.9,1480.2 940,1480.3 939.9,1480.2Z M1037.7,1535.7 1033.7,1532.7 1031.8,1531.7 1035.7,1534.7Z" fill="#fcd391" stroke="#fcd391" stroke-width="0.7"/>
<path d="M880.9,1144.9 884.9,1143.9 887.8,1136 893.7,1137 897.7,1145.9 914.4,1146.9 919.3,1152.8 927.2,1150.8 930.1,1154.7 925.2,1162.6 933.1,1165.5 937,1172.4 942.9,1177.3 950.8,1170.5 944.9,1162.6 946.8,1158.7 962.6,1165.5 972.4,1163.6 972.4,1172.4 978.3,1178.3 984.2,1174.4 994,1180.3 1002.9,1179.3 1003.9,1188.2 1011.7,1196 1017.6,1201.9 1003.9,1215.7 994,1235.4 970.4,1243.2 962.6,1251.1 956.7,1245.2 952.7,1241.3 946.8,1240.3 935,1241.3 919.3,1238.3 903.6,1233.4 899.6,1234.4 893.7,1233.4 892.7,1240.3 886.8,1243.2 885.9,1250.1 871.1,1255 856.4,1249.1 856.4,1249.1 855.4,1246.2 844.6,1239.3 842.6,1234.4 831.8,1220.6 820,1215.7 818,1209.8 811.1,1199 815.1,1195 813.1,1192.1 803.3,1181.3 800.3,1173.4 806.2,1178.3 809.2,1173.4 826.9,1167.5 828.8,1165.5 841.6,1157.7 842.6,1153.7 853.4,1151.8 855.4,1148.8 865.2,1142.9 866.2,1135.1 875,1137Z" fill="#fcd391" stroke="#fcd391" stroke-width="0.7"/>
<path d="M1173.4,683.9 1171.4,696.7 1170.5,708.5 1165.5,718.3 1171.4,731.1 1173.4,740.9 1182.3,755.7 1179.3,764.5 1178.3,775.4 1168.5,775.4 1158.7,781.3 1143.9,771.4 1141,766.5 1129.2,764.5 1122.3,761.6 1117.3,764.5 1101.6,775.4 1100.6,754.7 1095.7,755.7 1091.8,760.6 1085.9,755.7 1079,757.7 1072.1,747.8 1073.1,739 1078,738 1070.1,735 1072.1,730.1 1066.2,728.2 1067.2,722.3 1065.2,717.9 1079,713.4 1077,707.5 1081.9,708.5 1085.9,701.6 1094.7,696.7 1097.7,696.7 1111.4,691.8 1113.4,686.9 1117.3,689.8 1123.3,686.9 1137,687.8 1168.5,684.9Z" fill="#fcd391" stroke="#fcd391" stroke-width="0.7"/>
<path d="M563.3,1119.1 548.1,1117 539.4,1115.5 535.8,1116.2 535.8,1119.1 545.2,1118.4 549.6,1121.3 555.4,1124.2 565.5,1119.9 567,1116.2 571.3,1114.1 577.8,1117 580,1113.3 583.6,1117 588,1115.5 588.7,1120.6 593,1126.4 602.5,1124.2 603.2,1129.3 611.2,1132.9 608.3,1138.7 604.3,1144.5 604.6,1151.7 616.2,1151.7 617,1145.2 615.5,1140.9 611.2,1140.1 610.4,1138 619.1,1130 622,1123.5 622.8,1116.2 619.9,1107.5 616.2,1103.2 619.1,1097.4 623.5,1096.7 629.3,1101 630,1098.8 643,1094.5 640.1,1088.7 649.6,1081.4 648.1,1079.3 649.6,1073.5 648.1,1069.9 638.7,1069.1 639.4,1062.9 651,1062.6 656.1,1034.3 653.8,1028.6 649.6,1027.8 646.7,1024.2 624.9,1024.2 608.3,1028.6 604.6,1031.4 595.9,1038 586.5,1044.5 588.7,1036.5 588,1033.6 584.3,1038 583.6,1043.8 580,1059.7 574.2,1072.8 567,1085.8 559,1088 559.7,1095.2 548.1,1101.7 556.8,1106.1 554.3,1107.2 562.6,1114.8Z M540.9,1108.3 543.8,1111.9 554.3,1107.2 553.9,1106.8Z" fill="#f0864a" stroke="#f0864a" stroke-width="0.7"/>
<path d="M658.3,1305.6 666.2,1306.8 678,1302.9 683.9,1302.3 685.9,1297.4 690.8,1294.4 697.7,1299.3 701.6,1302.3 715.4,1303.7 724.2,1309.2 724.2,1309.2 723.3,1319 719.3,1322.9 720.3,1329.8 729.2,1332.8 733.1,1338.7 741,1340.6 746.9,1335.7 749.8,1332.8 751.8,1338.7 751.8,1340.6 750.8,1354.4 744.9,1356.4 740,1364.2 741.9,1371.1 738,1372.1 737,1367.2 719.3,1367.2 717.3,1359.3 713.4,1359.3 711.4,1367.2 705.5,1378 707.5,1385.9 705.5,1389.8 699.6,1389.8 698.7,1382.9 694.7,1379 695.7,1376 685.9,1366.2 682.9,1361.3 674.1,1370.1 671.1,1378 666.2,1380 665.2,1383.9 638.7,1386.9 634.7,1383.9 633.8,1382.9 633.8,1382.9 629.8,1374.1 628.8,1363.3 621,1360.3 613.1,1363.3 607.2,1367.2 607.2,1371.1 602.3,1371.1 602.3,1367.2 606.2,1366.2 606.2,1352.4 617,1340.6 619,1335.7 628.8,1327.9 638.7,1316.1 634.7,1314.1 637.7,1308.2 642.6,1307.2 646.5,1311.1Z" fill="#e3e4e6" stroke="#e3e4e6" stroke-width="0.7"/>
<path d="M956.7,1245.2 962.6,1233.4 972.4,1234.4 984.2,1228.5 990.1,1219.6 991.1,1211.8 999.9,1200 1009.8,1197 1011.1,1197 1016.1,1200.9 1021,1199.9 1023.9,1192.1 1027.9,1190.1 1035.7,1199 1040.6,1199.9 1041.6,1207.8 1050.5,1207.8 1051.5,1201.9 1058.3,1197 1068.2,1195 1076,1199 1080,1193.1 1087.8,1190.1 1105.5,1190.1 1111.4,1196 1128.2,1200.9 1134.1,1199.9 1128.2,1201.9 1124.2,1220 1120.3,1227.9 1119.3,1235.7 1119.3,1235.7 1108.5,1239.3 1104.6,1235.7 1098.7,1231.8 1090.8,1235.7 1080,1234.8 1073.1,1234.8 1067.2,1239.7 1065.2,1249.5 1057.3,1251.5 1055.4,1257.4 1040.6,1256.4 1037.7,1262.3 1025.9,1264.3 1018,1272.1 1018,1279 988.5,1283.9 982.6,1283.9 972.8,1280 962.9,1276.1 962.9,1276.1 959,1265.2 955.1,1257.4 956.6,1245.2Z" fill="#fcd391" stroke="#fcd391" stroke-width="0.7"/>
<path d="M878.6,1401.6 888.5,1393.7 899.3,1401.6 906.2,1396.7 914,1397.7 917,1387.8 923.9,1382.9 923.9,1367.2 933.7,1360.3 940,1356.4 939.9,1356.3 942.3,1354.7 943.7,1347.8 947.2,1341.9 942.3,1333.1 935.6,1338.6 935.7,1338.7 923.9,1340.6 912.1,1345.6 898.3,1346.5 894.4,1349.5 882.6,1356.4 859.9,1354 849.1,1367.2 855,1372.1 855,1381.9 863.9,1393.7 861.4,1398 866.8,1401.6Z M855,1402.6 859.9,1400.6 861.4,1398 860.9,1397.7Z" fill="#f6a600" stroke="#f6a600" stroke-width="0.7"/>
<path d="M920,828.9 920.4,834.5 914.4,853.2 910.7,875.5 907,884.8 904.7,873.7 910.7,856.9 916.3,836.4Z" fill="#b0c4e8" stroke="#b0c4e8" stroke-width="0.7"/>
<path d="M974,792.6 968.4,799.1 961,800.1 965.7,808.4 964.7,823.4 955.4,831.7 953.5,844.8 949.8,846.6 950.7,838.3 945.2,831.7 945.2,817.8 951.7,806.6 957.3,800.1 964.7,796.3Z" fill="#b0c4e8" stroke="#b0c4e8" stroke-width="0.7"/>
<path d="M867.8,933.3 877.1,941.7 877.1,946.3 866,942.6Z" fill="#b0c4e8" stroke="#b0c4e8" stroke-width="0.7"/>
<path d="M963.9,684.9 969.8,675.1 980.7,679 977.7,686.9 981.6,694.7 975.7,690.8 967.9,688.8Z" fill="#b0c4e8" stroke="#b0c4e8" stroke-width="0.7"/>
<path d="M974.8,536.4 979.7,534.4 983.6,539.3 979.7,540.3Z" fill="#b0c4e8" stroke="#b0c4e8" stroke-width="0.7"/>
<path d="M1033.8,738 1041.6,736 1045.6,727.2 1054.4,730.1 1058,737 1050.5,740.9 1048.5,746.8 1042.6,739Z" fill="#fcd391" stroke="#fcd391" stroke-width="0.7"/>
<path d="M1032.8,757.7 1038.7,758.6 1042.6,752.7 1054.4,749.8 1062.3,745.9 1069.2,748.8 1066.2,755.7 1056.4,765.5 1046.5,769.5 1042.6,773.4 1033.8,767.5 1037.7,763.6Z" fill="#fcd391" stroke="#fcd391" stroke-width="0.7"/>
<path d="M1042.6,775.4 1044.6,777.3 1042.6,785.2 1040.2,783.2Z" fill="#fcd391" stroke="#fcd391" stroke-width="0.7"/>
<path d="M607.5,1209 607.5,1203.2 604.6,1194.5 607.5,1182.9 613.3,1179.3 617,1178.6 617,1178.6 616.2,1185.8 620.6,1193 626.4,1196.7 627.1,1201.7 622.8,1209 622.8,1212.6 622.8,1212.6 614.8,1211.2Z" fill="#f0864a" stroke="#f0864a" stroke-width="0.7"/>
<path d="M357.2,1351.6 362.1,1354.5 362.1,1362.4 358.2,1357.5Z" fill="#f0864a" stroke="#f0864a" stroke-width="0.7"/>
<path d="M740,1537.3 751.8,1532.4 752.4,1538.3 746.9,1538.9Z" fill="#b0c4e8" stroke="#b0c4e8" stroke-width="0.7"/>
<path d="M713.4,1525.5 717.9,1525.1 717.3,1537.3 720.3,1543.2 720.3,1566.8 715.4,1582.6 709.5,1602.2 693.7,1593.4 695.7,1586.5 687.8,1584.5 691.8,1576.7 685.9,1574.7 688.8,1562.9 684.9,1560.9 684.9,1555 688.8,1553.1 688.8,1547.2 697.7,1541.3 704.6,1537.3 711.4,1537.3Z" fill="#f0864a" stroke="#f0864a" stroke-width="0.7"/>
<path d="M882.6,1417.3 884.5,1425.2 888.5,1437 890.4,1443.9 886.5,1437 881.6,1427.2Z" fill="#fcd391" stroke="#fcd391" stroke-width="0.7"/>
<path d="M888.5,1415.4 894.4,1419.3 898.3,1427.2 892.4,1427.2 886.5,1421.3Z" fill="#fcd391" stroke="#fcd391" stroke-width="0.7"/>
<path d="M897.3,1440 912.1,1450.8 927.8,1460.6 925.8,1462 910.1,1453.7Z" fill="#fcd391" stroke="#fcd391" stroke-width="0.7"/>
<path d="M901.3,1464.6 917,1475.4 914,1476.4Z" fill="#fcd391" stroke="#fcd391" stroke-width="0.7"/>
<path d="M960,1496.3 975.7,1497.3 976.3,1500.3 961,1501.3Z" fill="#fcd391" stroke="#fcd391" stroke-width="0.7"/>
<path d="M959,1505.2 986.5,1507.2 972.8,1509.1Z" fill="#fcd391" stroke="#fcd391" stroke-width="0.7"/>
<path d="M968.8,1515 984.6,1514 990.5,1511.1 986.5,1516 969.8,1519Z" fill="#fcd391" stroke="#fcd391" stroke-width="0.7"/>
<path d="M1224.2,1676 1231.1,1671.1 1238,1675.1 1246.9,1681.9 1266.5,1682.9 1268.5,1691.8 1273.4,1700.6 1276.4,1705.5 1286.2,1703.6 1287.2,1710.5 1280.3,1713.4 1272.4,1708.5 1264.6,1698.7 1248.8,1691.8 1246.9,1685.9 1237,1681 1229.2,1680Z" fill="#f6a600" stroke="#f6a600" stroke-width="0.7"/>
<path d="M1158.3,1735 1164.2,1722.3 1178,1720.3 1185.9,1712.4 1201.6,1718.3 1223.3,1720.3 1231.1,1727.2 1237,1731.1 1241,1736 1248.8,1739 1250.8,1744.9 1242.9,1745.9 1241,1751.8 1235.1,1747.8 1227.2,1746.8 1233.1,1757.7 1237,1771.4 1241,1783.2 1245.9,1793.1 1237,1788.1 1230.1,1775.4 1221.3,1783.2 1217.3,1791.1 1219.3,1799.9 1214.4,1797 1213.4,1785.2 1203.6,1775.4 1195.7,1776.3 1195.7,1787.2 1185.9,1784.2 1187.8,1776.3 1181,1771.4 1181.9,1761.6 1170.1,1747.8 1164.2,1740Z" fill="#f6a600" stroke="#f6a600" stroke-width="0.7"/>
<path d="M1266.5,1843.2 1269.5,1832.4 1273.4,1831.4 1273.4,1824.5 1276.4,1830.4 1286.2,1830.4 1288.2,1825.5 1292.1,1826.5 1293.1,1832.4 1303.9,1834.4 1315.7,1829.5 1325.5,1828.5 1335.4,1830.4 1351.1,1826.5 1355,1824.5 1357,1834.4 1364.9,1827.5 1374.7,1823.6 1375.7,1832.4 1372.7,1837.3 1351.1,1843.2 1335.4,1847.2 1319.6,1852.1 1317.7,1846.2 1296,1843.2 1276.4,1845.2 1268.5,1846.2Z" fill="#f6a600" stroke="#f6a600" stroke-width="0.7"/>
<path d="M1092.5,1655.4 1100.3,1652.4 1104.3,1663.3 1112.1,1669.2 1113.1,1673.1 1102.3,1669.2 1098.4,1659.3Z" fill="#f6a600" stroke="#f6a600" stroke-width="0.7"/>
<path d="M1132.8,1698.7 1137.7,1693.7 1138.7,1704.6 1133.8,1706.5Z" fill="#f6a600" stroke="#f6a600" stroke-width="0.7"/>
<path d="M1126.9,1720.3 1133.8,1716.4 1136.7,1711.4 1141.6,1713.4 1140.6,1722.3 1144.6,1729.1 1134.7,1730.1 1132.8,1724.2 1127.9,1727.2Z" fill="#f6a600" stroke="#f6a600" stroke-width="0.7"/>
<path d="M1139.7,1739 1152.4,1743.9 1149.5,1749.8 1140.6,1743.9Z" fill="#f6a600" stroke="#f6a600" stroke-width="0.7"/>
<path d="M1235.1,1799.9 1240,1797 1244.9,1806.8 1239,1805.8Z" fill="#f6a600" stroke="#f6a600" stroke-width="0.7"/>
<path d="M1262.6,1586.5 1266.5,1577.7 1271.4,1579.7 1273.4,1586.5 1268.5,1589.5Z" fill="#f6a600" stroke="#f6a600" stroke-width="0.7"/>
<path d="M1299,1586.5 1305.9,1584.6 1307.8,1590.5 1301.9,1591.5Z" fill="#f6a600" stroke="#f6a600" stroke-width="0.7"/>
<path d="M1287.2,1614.1 1296,1611.1 1301.9,1607.2 1303.9,1612.1 1299,1618 1300.9,1621 1290.1,1620Z" fill="#f6a600" stroke="#f6a600" stroke-width="0.7"/>
<path d="M1323.6,1646.5 1325.5,1639.6 1335.4,1635.7 1343.2,1633.7 1345.2,1641.6 1353.1,1647.5 1349.1,1650.5 1337.3,1650.5 1334.4,1644.6 1331.4,1647.5Z" fill="#f6a600" stroke="#f6a600" stroke-width="0.7"/>
<path d="M1329.5,1674.1 1341.3,1673.1 1344.2,1681 1342.2,1688.8 1339.3,1691.8 1333.4,1688.8 1337.3,1681 1335.4,1677Z" fill="#f6a600" stroke="#f6a600" stroke-width="0.7"/>
<path d="M1273.4,1667.2 1280.3,1666.2 1285.2,1673.1 1280.3,1675.1 1278.3,1670.1Z" fill="#f6a600" stroke="#f6a600" stroke-width="0.7"/>
<path d="M1241.9,1660.3 1248.8,1661.3 1245.9,1666.2Z" fill="#f6a600" stroke="#f6a600" stroke-width="0.7"/>
<path d="M1363.9,1707.5 1368.8,1703.6 1378.6,1700.6 1382.6,1702.6 1378.6,1707.5 1368.8,1708.9Z" fill="#f6a600" stroke="#f6a600" stroke-width="0.7"/>
<path d="M1344.2,1720.3 1355,1712.4 1356,1714.4 1346.2,1721.3Z" fill="#f6a600" stroke="#f6a600" stroke-width="0.7"/>
<path d="M1292.1,1710.5 1296,1709.5 1304.9,1715.4 1305.9,1720.3 1300,1720.3Z" fill="#f6a600" stroke="#f6a600" stroke-width="0.7"/>
<path d="M1305.9,1723.2 1314.7,1723.2 1315.7,1728.2 1309.8,1728.2Z" fill="#f6a600" stroke="#f6a600" stroke-width="0.7"/>
<path d="M1318.6,1729.1 1323.6,1730.1 1321.6,1733.1Z" fill="#f6a600" stroke="#f6a600" stroke-width="0.7"/>
<path d="M1278.3,1729.1 1281.3,1725.2 1284.2,1732.1 1280.3,1735Z" fill="#f6a600" stroke="#f6a600" stroke-width="0.7"/>
<path d="M1283.2,1737 1288.2,1738 1287.2,1743.9Z" fill="#f6a600" stroke="#f6a600" stroke-width="0.7"/>
<path d="M1302.9,1731.1 1305.9,1734.1 1303.9,1738Z" fill="#f6a600" stroke="#f6a600" stroke-width="0.7"/>
<path d="M1324.5,1745.9 1330.4,1739 1333.4,1745.9 1331.4,1753.7 1327.5,1754.7Z" fill="#f6a600" stroke="#f6a600" stroke-width="0.7"/>
<path d="M1313.7,1747.8 1320.6,1744.9 1321.6,1750.8 1315.7,1752.7Z" fill="#f6a600" stroke="#f6a600" stroke-width="0.7"/>
<path d="M1341.3,1756.7 1349.1,1747.8 1353.1,1748.8 1345.2,1757.7Z" fill="#f6a600" stroke="#f6a600" stroke-width="0.7"/>
<path d="M1323.6,1761.6 1328.5,1762.6 1328.5,1767.5 1323.6,1766.5Z" fill="#f6a600" stroke="#f6a600" stroke-width="0.7"/>
<path d="M1287.2,1775.4 1291.1,1768.5 1297,1769.5 1294.1,1772.4Z" fill="#f6a600" stroke="#f6a600" stroke-width="0.7"/>
<path d="M1329.5,1781.3 1332.4,1775.4 1335.4,1777.3 1333.4,1783.2Z" fill="#f6a600" stroke="#f6a600" stroke-width="0.7"/>
<path d="M1387.5,1748.8 1399.3,1739 1401.3,1740.9 1390.4,1751.8Z" fill="#f6a600" stroke="#f6a600" stroke-width="0.7"/>
<path d="M1382.6,1735 1387.5,1737 1386.5,1740.9Z" fill="#f6a600" stroke="#f6a600" stroke-width="0.7"/>
<path d="M1361.9,1761.6 1365.8,1759.6 1368.8,1762.6 1370.8,1760.6 1365.8,1767.5Z" fill="#f6a600" stroke="#f6a600" stroke-width="0.7"/>
<path d="M1421.9,1770.4 1427.8,1759.6 1437.6,1753.7 1439.6,1761.6 1433.7,1775.4 1425.8,1782.2Z" fill="#f6a600" stroke="#f6a600" stroke-width="0.7"/>
<path d="M1400.3,1800.9 1404.2,1791.1 1406.2,1800.9 1410.1,1806.8 1407.2,1811.7 1404.2,1804.9Z" fill="#f6a600" stroke="#f6a600" stroke-width="0.7"/>
<path d="M1605,1773.5 1614.3,1767.3 1626.7,1765.7 1625.2,1753.3 1648.4,1750.2 1667.1,1737.8 1684.2,1719.1 1676.4,1734.7 1667.1,1750.2 1674.8,1756.4 1657.8,1761.1 1648.4,1775 1640.7,1787.5 1634.5,1785.9 1629.8,1789 1615.8,1787.5 1609.6,1781.2Z" fill="#b0c4e8" stroke="#b0c4e8" stroke-width="0.7"/>
<path d="M452.9,1673 465.8,1664 484,1660.1 482.7,1666.6 490.4,1666.6 493,1671.7 485.2,1682.1 482.7,1688.6 477.5,1691.1 465.8,1679.5 459.4,1679.5Z" fill="#f6a600" stroke="#f6a600" stroke-width="0.7"/>
<path d="M407.6,1698.9 411.5,1693.7 423.1,1693.7 414.1,1702.8 410.2,1704.1Z" fill="#f6a600" stroke="#f6a600" stroke-width="0.7"/>
<path d="M411.5,1709.3 414.1,1708 418,1713.1 412.8,1713.7Z" fill="#f6a600" stroke="#f6a600" stroke-width="0.7"/>
<path d="M432.2,1526.8 438.7,1525.5 445.1,1532 440,1534.6 432.7,1533.3Z" fill="#e3e4e6" stroke="#e3e4e6" stroke-width="0.7"/>
<path d="M829.4,1769.6 840.2,1752.5 844.9,1758.8 852.7,1757.2 854.2,1750.1 862,1750.1 868.2,1755.7 880.6,1758.8 893,1755.7 921,1747.9 936.5,1746.3 947.4,1740.7 942.7,1758.8 933.4,1771.2 930.3,1783.6 938.1,1789.8 940.2,1799.1 933.4,1817.8 911.7,1817.1 902.4,1805.3 880.6,1799.1 858.9,1783.6 846.5,1778.9 837.1,1782Z" fill="#b0c4e8" stroke="#b0c4e8" stroke-width="0.7"/>
<path d="M667.9,1637.6 669.4,1622.1 675.7,1626.8 691.2,1620.6 706.7,1609.7 716,1612.8 719.1,1619 723.8,1620.6 722.2,1626.8 729.1,1642.3 723.8,1656.3 725.3,1664 722.2,1684.2 720.7,1709.1 703.6,1706 698.9,1715.3 694.3,1719.9 686.5,1719.9 675.7,1704.4 678.8,1690.4 681.9,1678 677.2,1668.7 681.9,1653.2 674.1,1639.2Z" fill="#b0c4e8" stroke="#b0c4e8" stroke-width="0.7"/>
<path d="M906.1,1858.1 908.6,1854.4 914.8,1859.7 913.2,1861.9 907,1861.2Z" fill="#f6a600" stroke="#f6a600" stroke-width="0.7"/>
<path d="M900.2,1850.1 903,1849.4 904.2,1851.6 901.4,1851.9Z" fill="#f6a600" stroke="#f6a600" stroke-width="0.7"/>
<path d="M506.4,1657.8 517.3,1656.9 526,1660.9 525.3,1668.7 517.3,1662.5 507.3,1661.9Z" fill="#f6a600" stroke="#f6a600" stroke-width="0.7"/>
<path d="M894,225.5 887.9,235.4 891.9,234.3 M910.1,240.6 908.5,248.9 M368.4,862.9 365.9,861 368.6,862.6 M1374.6,1669.5 1377.7,1668.2 1374.7,1669.8 M1470.4,79.8 1471.1,84.5 1470,79.9 M937.6,225.3 940,229.4 937.3,225.5 M917.5,243.5 911.1,245.9 904.6,256.3 M898.1,259.9 892.4,254.2 890.7,255.4 M880.8,262 880,262.5 880.1,262.4 870.6,266.9 M1060.7,216.9 1067.4,215.9 1071.5,205.6 1083.9,204.5 1083.1,197.1 M276.1,888.8 272.2,890.4 268,891.4 262.9,893.5 258.7,900.7 246.3,903.4 244.2,906.9 240.3,909.6 M238.5,916.8 242.2,920.4 244.2,928.7 254.6,933.9 260.8,925.6 267,924.5 269.1,932.8 273.2,941.1 281.5,942.1 283.9,945.4 M765.3,756.4 767.4,755.1 772.1,759.2 772.5,765.4 778.8,763.4 781.2,749.9 777.7,733.7 783.3,727.1 783.9,718.8 791.2,714.7 797,705.4 795.3,698.1 797.4,694 795.3,681.6 789.1,664 797.4,657.8 801.5,645.3 794.3,636 788.1,635 783.9,628.8 787,602.9 783.3,586.3 783.9,580.1 782.5,565.6 779.8,554.2 783.3,544.9 782.5,539.8 787,530.4 795.3,519 804.6,514.3 820.2,518 821.8,495.2 811.9,490.1 825.3,466.3 827.4,453.8 826.4,416.1 843.2,405.9 841.3,400.3 842.2,396.6 856.2,371.4 857.1,360.2 853.4,356.5 850.6,349.1 855.3,341.6 858.1,330.4 868.3,320.2 879.5,323 885.1,308.1 880.4,298.8 883.2,295 915.8,299.7 917.7,292.2 912.1,291.3 914.9,282 916.8,273.6 913,268.6 918.7,267.7 M1134.1,1199.3 1134.1,1199 1133.1,1194 1131.1,1186.2 1128.8,1178.3 1133.1,1170.4 1141,1156.7 1148.8,1142.9 1154.7,1133.1 1162.6,1128.1 1160.6,1117.3 1155.7,1113.4 1161.6,1108.5 1156.7,1103.6 1149.8,1093.7 1142.9,1088.8 1141,1080.9 1138,1075 1136,1066.2 1136,1055.4 1129.2,1051.4 1119.7,1046.5 1125.2,1032.8 1131.1,1026.9 1137,1021 1135.1,1009.2 1134.1,1003.3 1129.2,995.4 1123.3,983.6 1116.6,965.5 M1149.2,1248.9 1151.8,1244.6 1165.5,1247.5 1175.4,1244.6 1183.2,1245.6 1199,1241.6 1206.8,1245.6 1213.7,1251.1 1218.6,1249.5 1224.5,1239.7 1244.2,1231.8 1252.1,1227.9 1254,1220 1254,1219.9 1254.6,1219.3 1267.4,1213.4 1279.2,1220.3 1285.1,1227.2 1285.1,1232.1 1298.8,1244.9 1302.8,1250.8 1308.7,1253.8 1314.6,1258.7 1322.4,1266.5 1326.4,1274.4 1331.3,1282.3 1332.3,1296 1334.2,1307.8 1337.2,1319.6 1338.2,1325.5 1342.1,1330.5 1343.1,1331.4 1346,1335.4 1351.9,1338.3 1361.8,1339.3 1367.7,1335.4 1375.5,1329.5 1381.4,1326.5 1389.3,1325.5 1392.7,1328.9 M1170.1,1431.6 1168.5,1429.5 1163.6,1424.6 1163.6,1416.7 1171.4,1413.7 1161.6,1408.8 1155.7,1412.8 1153.7,1420.6 1149.8,1416.7 1136,1414.7 1122.3,1405.9 1128.2,1403.9 1124.2,1399 1122.3,1391.1 1113.4,1387.2 1102.6,1383.3 1097.7,1377.3 1094.7,1367.5 1088.8,1361.6 1079.5,1352.7 M326.4,1476.6 331.3,1482.8 339,1484.1 335.1,1491.9 341.6,1490.6 357.1,1498.3 362.3,1508.7 374,1508.7 383,1516.5 393.4,1515.2 405,1519 407.6,1512.6 424.4,1519 433.6,1525.9 M445.5,1532.5 451.6,1541 465.8,1539.8 473.6,1543.6 478.8,1541 490.4,1541 M635.7,1397.7 634.7,1403.6 639.7,1406.5 637.7,1415.4 634.7,1420.3 622.9,1422.3 624.9,1431.1 632.8,1435.1 635.7,1440 632.8,1444.9 628.8,1450.8 629.8,1456.7 635.7,1464.6 646.5,1467.5 656.4,1468.1 655.4,1473.4 649.5,1482.3 648.8,1486.7 M633.4,1383.4 629.8,1387.8 630.8,1393.7 635.7,1397.7 M1183,865.9 1181.3,871.5 1182.3,882.3 1190.1,884.3 1189.1,890.2 1178.3,893.1 1176.4,902 1168.5,908.8 1167.5,914.7 1171.4,924.6 1169.5,931.5 1171.4,934.4 1175.4,942.3 1172.4,943.3 1168.5,936.4 1164.6,940.3 1156.7,944.2 1150.8,949.2 1149.8,954.1 1143.9,957 1142.9,961.9 1133.1,960.4 1116.4,964.9 1113.4,958 1107.5,952.1 1100.6,952.1 1096.2,948.2 M1093.1,949.2 1087.8,952.1 1087.3,951 M71.3,1724.3 72.5,1709.3 78.9,1697.6 85.4,1688.6 93.2,1687.3 98.3,1683.4 90.6,1680.8 86.7,1669.2 91.9,1656.2 99.6,1649.7 104.8,1642 99.6,1636.8 98.3,1625.2 91.9,1610.9 110,1610.9 117.8,1601.9 115.2,1590.2 121.6,1585 126.8,1578.6 129.4,1560.5 126.8,1551.4 139.8,1541 148.8,1538.5 156.6,1528.1 147.5,1522.9 148.8,1511.3 128.1,1504 117.8,1508.7 108.7,1506.1 91.9,1500.9 90.6,1497 94.5,1491.9 93.2,1488 80.2,1489.3 68.6,1492.7 M1152.6,629.4 1154.7,625.9 1162.6,610.1 1172.4,590.5 1182.3,568.8 1192.1,545.2 1199,529.9 1198.8,530 1199.9,500.6 1188.5,487.1 1169.9,482 1156.4,469.5 1160.5,461.3 1161.2,450.5 1157.4,445.7 1146,438.5 1142.9,428.1 1133.6,421.9 1130.9,416.7 1134.2,410.5 1132.6,405.4 1126.4,404.3 1128.4,399.2 1124.3,386.7 1129.5,383 1121.2,366 1107.7,350.5 1093.3,330.8 1098,306 1097.4,293.6 1087,286.3 1079.8,278 1069.4,276 1064.3,270.8 1058.5,258.4 1059.7,243.9 1053.9,243.5 1060.1,235.6 1056,229.4 1060.1,217 1057,210.7 1051.8,205.6 1043.6,204.1 1035.3,200.4 1028,192.5 1017.7,204.9 1006.3,206.6 1001.7,220.1 1003.8,223.2 1004.2,237.7 1008.4,250.1 1002.2,262.5 1000.1,274.9 976.3,267.7 968,276.6 959.7,277.4 952.5,274.9 942.1,262.5 935.9,253.8 929.7,253.2 926.6,256.3 919.3,267.7 942.1,280.1 964.9,291.5 971.1,299.8 981.4,306 982.5,316.3 985.6,322.5 986.6,328.8 989.7,333.9 988.7,341.2 1001.1,359.4 999.7,368.1 1001.1,374.3 997,377.4 1000.1,384.7 1013.5,403.8 M1119.9,1235.9 1130.1,1239.7 1136,1245.6 1145.9,1244.6 1148.8,1249.5 1145.9,1256.4 1130.1,1264.3 1125.2,1276.1 1122.3,1288.8 1116.4,1304.6 1113.4,1318.3 1108.5,1322.3 1106.5,1334.1 1102.6,1340 1091.8,1342.9 1088.8,1349.8 1079,1352.2 1073.1,1353.7 1057.3,1352.2 1049.5,1357.7 1033.7,1366.5 1031.8,1369 M1170.4,1432 1179.3,1436.4 1178.3,1442.3 1183.2,1445.2 1202.9,1443.2 1224.5,1445.2 1234.4,1440.3 1265.8,1437.3 1269.3,1438.6 1277.2,1434.7 1281.1,1430.8 1287,1422.9 1292.9,1417 1304.7,1411.1 1316.5,1405.2 1326.4,1403.2 1332.3,1409.1 1339.2,1404.2 1343.1,1408.2 1348,1403.2 1355.9,1410.1 1361.8,1412.1 1367.7,1411.7 1373.3,1410.4 M1370.4,1497.3 1359.8,1502.6 1346,1499.6 1339.2,1502.6 1334.2,1510.4 1322.4,1515.4 1317.5,1522.2 1316.9,1524.4 M1200.9,1559 1200.9,1550.4 1195,1536.7 1183.2,1526.8 1177.3,1520.9 1174.4,1511.1 1175.4,1496.3 1184.2,1491.4 1189.1,1477.7 1181.3,1473.7 1170.4,1463.9 1163.6,1446.2 1164.5,1440.3 1170.4,1432 M856.7,999.8 857.3,1010.2 862.3,1026.9 860.3,1036.7 856.4,1044.6 858.3,1052.4 870.1,1061.3 868.2,1070.1 874.1,1081.9 873.1,1097.7 879,1111.4 884.9,1117.3 886.8,1128.2 882.9,1137 881.1,1144.1 M658.2,1305 656.4,1295.4 657.4,1283.6 661.3,1269.8 665.2,1260 678.2,1240.3 679.3,1239.4 671.3,1235.8 660.4,1235.1 655.4,1227.1 648.8,1228.6 643,1230 642.3,1227.1 633.6,1229.3 630.7,1222.8 629.3,1215.5 623.3,1212.9 M720.6,957.5 720.6,957.5 698.8,954.9 M1034.5,874.8 1038.7,865.8 1046.5,859.9 1054.4,858 1076,854 1081.9,856 1097.7,850.1 1107.5,853.1 1123.3,848.1 1127.2,841.3 1133.1,852.1 1148.8,850.1 1156.7,854 1176.4,866.8 1182.3,865.8 1189.1,858 1204.9,855 1205.9,846.2 1215.7,828.5 1210.8,816.7 1203.9,806.8 1200.9,802.9 1195,805.8 1193.1,793.1 1194.1,783.2 1182.3,777.3 1178.9,775.6 M1044.6,914.3 1067.2,920.6 1081,917.1 1084.9,921.6 1089.8,926.5 1088.8,944.2 1095.7,947.8 1059.3,959 1009.6,959 M1020.5,948 1019,950.1 1008.8,958.9 M511.5,1128.7 514.1,1138 520.6,1146.7 526.4,1142.3 531.4,1147.4 531.4,1156.1 540.9,1159.7 543.8,1166.2 551.7,1164.8 559,1172 555.4,1177.8 559,1181.4 554.6,1185.1 563.3,1187.5 572.8,1185.1 573.5,1180 577.1,1178.6 579.3,1180 575.7,1184.3 577.1,1193.8 593,1204.6 595.9,1210.4 603.2,1208.3 606.9,1208.9 M617.3,1178.1 619.1,1175.7 624.9,1172 624.2,1165.5 620.6,1163.3 621.3,1158.3 616.6,1152.2 M1116.1,1657.3 1119,1649.5 1117,1644.6 1120,1639.6 1127.9,1635.7 1128.8,1626.9 1134.7,1618 1139.7,1612.1 1136.7,1600.3 1142.6,1597.4 1152.4,1594.4 1162.3,1586.5 1166.2,1582.6 1176,1577.7 1187.8,1575.7 1195.7,1571.8 1197.7,1565.9 1201.6,1559 1211.4,1560 1217.3,1557 1231.1,1551.5 1244.9,1547.2 1255.7,1545.2 1268.5,1550.2 1272.4,1550.7 1282.3,1553.1 1292.1,1549.6 1305.9,1547.2 1311.8,1542.3 1315.7,1538.4 1314.7,1531.5 1313.7,1525.2 1323.6,1524.6 1330.4,1529.5 1331.4,1536.4 1324.5,1542.3 1324.5,1557 1319.6,1566.9 1318.3,1569.3 M856.2,1249.7 854.4,1255 846.5,1258 845.6,1260 843.2,1265.9 827.5,1274.8 824.5,1280.7 829.5,1289.5 828.5,1292.5 832.4,1296.4 835.4,1304.3 834.4,1308.2 827.5,1302.3 821.6,1298.4 815.7,1301.3 807.8,1298.4 805.9,1302.3 794.1,1304.3 786.2,1307.2 780.3,1312.1 773.4,1313.1 766.5,1314.1 764.6,1308.2 749.8,1309.2 745.9,1314.1 741,1319 738,1313.1 735.1,1308.2 729.2,1306.2 724.7,1308.9 M752.4,1340.6 758.7,1339.7 760.6,1343.6 770.5,1342.6 773.4,1335.7 792.1,1333.8 805.9,1328.8 808.8,1331.8 809.8,1343.6 817.7,1348.5 835.4,1349.5 855,1351.5 859.2,1354 M942.4,1332.5 944.3,1324.2 947.2,1318.3 945.2,1307.5 950.2,1304.6 952.1,1296.7 944.3,1293.8 950.2,1289.8 963.9,1287.9 962,1279 962.7,1276.6 M1018,1522.9 1010.1,1515 1002.3,1511.1 992.4,1501.3 986.5,1491.4 974.7,1483.6 964.9,1473.7 953.1,1463.9 949.2,1456 945.2,1446.2 940.3,1432.4 934.4,1435.4 931.5,1432.4 932.5,1426.5 931.5,1418.7 934.4,1411.8 940.3,1409.8 947.2,1420.6 951.1,1413.7 962.9,1411.8 968.8,1405.9 973.8,1409.8 992.4,1408.8 1000.3,1413.7 1006.2,1408.8 1018,1405.9 1025.9,1407.8 1034.7,1409.8 1037.7,1416.7 1044.6,1415.7 1043.6,1414.7 1044.6,1401.9 1053.4,1400 1043.6,1396 1036.7,1389.2 1037.7,1383.3 1033.7,1377.3 1031.4,1369.5 1024.9,1369.5 1021.9,1376.4 1018,1378.3 998.3,1378.3 990.5,1375.4 986.5,1371.4 978.7,1369.9 973.8,1361.6 964.9,1355.7 955.1,1348.8 950.2,1345.9 944.5,1347.6 M880.9,1144.9 884.9,1143.9 887.8,1136 893.7,1137 897.7,1145.9 914.4,1146.9 919.3,1152.8 927.2,1150.8 930.1,1154.7 925.2,1162.6 933.1,1165.5 937,1172.4 942.9,1177.3 950.8,1170.5 944.9,1162.6 946.8,1158.7 962.6,1165.5 972.4,1163.6 972.4,1172.4 978.3,1178.3 984.2,1174.4 994,1180.3 1002.9,1179.3 1003.9,1188.2 1011.7,1196 1015.1,1199.4 M956.2,1244.7 952.7,1241.3 946.8,1240.3 935,1241.3 919.3,1238.3 903.6,1233.4 899.6,1234.4 893.7,1233.4 892.7,1240.3 886.8,1243.2 885.9,1250.1 871.1,1255 856.4,1249.1 855.4,1246.2 844.6,1239.3 842.6,1234.4 831.8,1220.6 820,1215.7 818,1209.8 811.1,1199 815.1,1195 813.1,1192.1 803.3,1181.3 800.3,1173.4 806.2,1178.3 809.2,1173.4 826.9,1167.5 828.8,1165.5 841.6,1157.7 842.6,1153.7 853.4,1151.8 855.4,1148.8 865.2,1142.9 866.2,1135.1 875,1137 880.9,1144.9 M1173.2,685.3 1171.4,696.7 1170.5,708.5 1165.5,718.3 1171.4,731.1 1173.4,740.9 1182.3,755.7 1179.3,764.5 1178.3,775.4 1168.5,775.4 1158.7,781.3 1143.9,771.4 1141,766.5 1129.2,764.5 1122.3,761.6 1117.3,764.5 1102.9,774.5 M535.8,1117.6 535.8,1119.1 545.2,1118.4 549.6,1121.3 555.4,1124.2 565.5,1119.9 567,1116.2 571.3,1114.1 577.8,1117 580,1113.3 583.6,1117 588,1115.5 588.7,1120.6 593,1126.4 602.5,1124.2 603.2,1129.3 611.2,1132.9 608.3,1138.7 604.3,1144.5 604.6,1151.7 616.2,1151.7 617,1145.2 615.5,1140.9 611.2,1140.1 610.4,1138 619.1,1130 622,1123.5 622.8,1116.2 619.9,1107.5 616.2,1103.2 619.1,1097.4 623.5,1096.7 629.3,1101 630,1098.8 643,1094.5 640.1,1088.7 649.6,1081.4 648.1,1079.3 649.6,1073.5 648.1,1069.9 638.7,1069.1 639.4,1062.9 651,1062.6 656.1,1034.3 654.2,1029.6 M658.3,1305.6 666.2,1306.8 678,1302.9 683.9,1302.3 685.9,1297.4 690.8,1294.4 697.7,1299.3 701.6,1302.3 715.4,1303.7 724.2,1309.2 723.3,1319 719.3,1322.9 720.3,1329.8 729.2,1332.8 733.1,1338.7 741,1340.6 746.9,1335.7 749.8,1332.8 751.8,1338.7 751.8,1340.6 750.8,1354.4 744.9,1356.4 740,1364.2 741.9,1371.1 738,1372.1 737,1367.2 719.3,1367.2 717.3,1359.3 713.4,1359.3 711.4,1367.2 705.5,1378 707.5,1385.9 705.5,1389.8 699.6,1389.8 698.7,1382.9 694.7,1379 695.7,1376 685.9,1366.2 682.9,1361.3 674.1,1370.1 671.1,1378 666.2,1380 665.2,1383.9 638.7,1386.9 634.7,1383.9 633.8,1382.9 629.8,1374.1 628.8,1363.3 621,1360.3 613.1,1363.3 607.2,1367.2 607.2,1371.1 602.3,1371.1 602.3,1367.2 606.2,1366.2 606.2,1352.4 617,1340.6 619,1335.7 628.8,1327.9 638.7,1316.1 634.7,1314.1 637.7,1308.2 642.6,1307.2 646.5,1311.1 658.3,1305.6 M956.7,1245.2 962.6,1233.4 972.4,1234.4 984.2,1228.5 990.1,1219.6 991.1,1211.8 999.9,1200 1009.8,1197 1011.1,1197 1016.1,1200.9 1021,1199.9 1023.9,1192.1 1027.9,1190.1 1035.7,1199 1040.6,1199.9 1041.6,1207.8 1050.5,1207.8 1051.5,1201.9 1058.3,1197 1068.2,1195 1076,1199 1080,1193.1 1087.8,1190.1 1105.5,1190.1 1111.4,1196 1128.2,1200.9 1134.1,1199.9 1128.2,1201.9 1124.2,1220 1120.3,1227.9 1119.3,1235.7 1108.5,1239.3 1104.6,1235.7 1098.7,1231.8 1090.8,1235.7 1080,1234.8 1073.1,1234.8 1067.2,1239.7 1065.2,1249.5 1057.3,1251.5 1055.4,1257.4 1040.6,1256.4 1037.7,1262.3 1025.9,1264.3 1018,1272.1 1018,1279 988.5,1283.9 982.6,1283.9 972.8,1280 962.9,1276.1 959,1265.2 955.1,1257.4 956.6,1245.2 956.7,1245.2 M878.6,1401.6 888.5,1393.7 899.3,1401.6 906.2,1396.7 914,1397.7 917,1387.8 923.9,1382.9 923.9,1367.2 933.7,1360.3 940,1356.4 939.9,1356.3 942.3,1354.7 943.7,1347.8 947.2,1341.9 942.3,1333.1 935.6,1338.6 935.7,1338.7 923.9,1340.6 912.1,1345.6 898.3,1346.5 894.4,1349.5 882.6,1356.4 859.9,1354 849.1,1367.2 855,1372.1 855,1381.9 863.9,1393.7 861.4,1398 M861.4,1398 866.8,1401.6 878.6,1401.6 M857,1401.8 859.9,1400.6 861.4,1398 M607.5,1209 607.5,1203.2 604.6,1194.5 607.5,1182.9 613.3,1179.3 617,1178.6 616.2,1185.8 620.6,1193 626.4,1196.7 627.1,1201.7 622.8,1209 622.8,1212.6 614.8,1211.2 607.5,1209 M889.6,1416.1 894.4,1419.3 896.6,1423.9 M921.3,1456.5 927.8,1460.6 925.8,1462 925.5,1461.8 M432.2,1526.8 438.7,1525.5 445.1,1532 440,1534.6 432.7,1533.3 432.2,1526.8 M1215.7,828.5 1221.6,836.3 1228.5,833.4 1233.4,840.3 1239.3,834.4 1251.1,836.3 1255,846.2 1264.9,836.3 1278.6,833.4 1286.5,842.2 1294.4,844.2 1298.3,856 1305.2,867.8 1302.2,880 M1141,1074.1 1150.8,1073.1 1159.6,1058.3 1182.3,1049.5 1205.9,1046.9 1235.4,1048.1 1240.3,1045.5 1244.2,1052.8 1257,1051.4 1259.9,1055.4 1260.9,1050.5 1270.8,1047.5 1274.7,1042.6 1282.6,1048.9 1286.5,1043.6 1288.9,1050.5 1292.4,1042.6 1299.3,1035.7 1304.2,1038.7 1307.2,1046.5 1312.1,1042.6 1316,1038.7 1319.9,1041.6 1329.8,1035.7 1340,1042.6 M1294.4,840 1297.3,845.9 1298.3,855.7 1304.2,864.6 1301.3,872.5 1306.2,879.3 1314,886.2 1316,891.1 1319.9,893.1 1323.9,898 1340,902.9 M1262.9,1220 1263.9,1207.8 1274.7,1203.9 1290.4,1196.4 1306.2,1200.9 1314,1199.9 1318,1205.8 1323.9,1202.9 1329.8,1207.8 1340,1205.8 M1044.6,1415.7 1051.4,1416.7 1049.5,1428.5 1047.5,1440.3 1057.3,1446.2 1067.2,1455 1053.4,1460 1065.2,1473.7 1066.2,1476.7 1057.3,1477.7 1055.4,1481.6 M1055.4,1481.6 1047.5,1483.6 1053.4,1492.4 1045.5,1489.5 1037.7,1499.3 1038.7,1505.2 1033.7,1511.1 1035.7,1524.9 1035.7,1534.7 M1055.4,1481.6 1065.2,1487.5 1073.1,1495.4 1086.9,1501.3 1098.7,1504.2 1099.6,1508.1 M1099.6,1508.1 1090.8,1513.1 1089.8,1517 1091.8,1520.9 M1091.8,1520.9 1084.9,1526.8 1081,1519 1076,1530.8 1069.2,1542.6 1068.2,1550.4 1071.1,1554.4 1071.1,1560.3 1080,1561.3 M1091.8,1520.9 1098.7,1530.8 1108.5,1534.7 1114.4,1544.5 M1114.4,1544.5 1120.3,1538.6 1132.1,1534.7 1136,1536.7 1145.9,1526.8 M1114.4,1544.5 1115.4,1552.4 1113.4,1560.3 1111.4,1568.1 1116.4,1574 1118.3,1585.8 1126.2,1594.7 1132.1,1597.6 M1145.9,1526.8 1155.7,1523.9 1171.4,1519 1177.3,1520.9 M1267.4,1213.4 1262.5,1212.5 1262.5,1205.6 1269.3,1205.6 1275.2,1204.6 1289,1196.7 1302.8,1199.7 1312.6,1202.6 1318.5,1205.6 1324.4,1203.6 1332.3,1204.6 1338.2,1209.5 1344.1,1206.6 1348,1212.5 1350,1225.2 1357.8,1233.1 1365.7,1234.1 1367.7,1244.9 1375.5,1252.8 1381.4,1254.7 1385.4,1262.6 1385.4,1266.5 1392.3,1271.5 1387.3,1275.4 1379.5,1272.4 1375.5,1275.4 1367.7,1273.4 1357.8,1277.4 1355.9,1282.3 1360.8,1294.1 1358.8,1300 1353.9,1308.8 1350,1319.6 1351.9,1327.5 1343.1,1331.4 M1730.7,1694.3 1741.6,1694.3 1743.2,1683.4 1747.8,1678.8 1743.2,1669.4 1754,1664.8 1746.3,1653.9 1746.3,1639.9 1763.4,1641.5 1797.5,1616.6 1825.5,1613.5 1850.3,1604.2 1881.4,1573.2 1912.4,1554.5 1928,1542.1 1937.3,1539 1943.5,1542.1 M1943.5,1542.1 1952.8,1526.6 1968.3,1518.8 1990.1,1514.2 2000,1504.8 M1943.5,1542.1 1940.4,1560.7 1924.8,1579.4 1918.6,1591.8 1924.8,1610.4 1934.2,1626 1934.2,1641.5 1943.5,1666.3 1937.3,1685 1896.9,1740.9 1875.2,1767.3 M1875.2,1767.3 1816.1,1841.8 1800.6,1844.9 1782,1840.2 1772.7,1835.6 1766.5,1840.2 M1875.2,1767.3 1898.4,1804.5 1896.9,1812.3 1906.2,1806.1 1910.9,1813.9 M1910.9,1813.9 1955.9,1807.6 2000,1815.4 M1910.9,1813.9 1903.1,1824.7 1844.1,1871.3 M1750.9,1750.2 1760.2,1744 1768,1744 1769.6,1750.2 1775.8,1750.2 1780.4,1762.6 1772.7,1771.9 1777.3,1779.7 1768,1785.9 1766.5,1796.8 1760.2,1806.1 1757.1,1815.4 1743.2,1827.8 M1757.1,1815.4 1761.8,1837.1 1766.5,1840.2 1763.4,1852.7 1769.6,1871.3 M1746.3,1871.3 1747.8,1857.3 1757.1,1854.2 1764.9,1858.9 1768,1871.3 M254.9,1863.3 256.2,1871 M683.4,1813.1 681.9,1817.8 675.7,1820.9 672.5,1828.6 664.8,1832.7 674.1,1836.4 671,1845.7 668.8,1870.6 M1400,970.1 1418.6,963.9 1431.1,973.2 1440.4,982.5 1446.6,998 1452.8,1007.3 1474.5,1004.2 1483.9,1013.5 1493.2,1026 1505.6,1035.3 1518,1029.1 1533.5,1032.2 1552.2,1013.5 1567.7,1022.9 1580.1,1029.1 1583.2,1021.3 1605,1026 1617.4,1022.9 1639.1,1019.8 1645.3,1016.6 1651.6,1029.1 1648.4,1047.7 1645.3,1050.8 1651.6,1063.2 1657.8,1072.5 1664,1078.8 1665.5,1091.2 1660.9,1097.4 1645.3,1109.8 1636,1116 1628.3,1128.4 1629.8,1140.9 1636,1150.2 M1825.5,880 1831.7,904.8 1834.8,935.9 1844.1,957.6 1844.1,980.9 1865.8,982.5 1872,991.8 1890.7,998 1903.1,987.1 1921.7,994.9 1949.7,1010.4 1952.8,1019.8 1940.4,1026 1962.1,1027.5 M1903.1,1262 1912.4,1252.7 1943.5,1251.1 1955.9,1265.1 1980.7,1263.5 2000,1268.2 M1980.7,1263.5 1983.9,1277.5 2000,1283.7 M1890.7,1308.6 1912.4,1305.5 1946.6,1311.7 1959,1321 1955.9,1333.4 1974.5,1345.8 2000,1348.9 M1946.6,1311.7 1968.3,1302.4 2000,1308.6 M1921.7,1345.8 1924.8,1373.8 1946.6,1392.4 1959,1408 1968.3,1435.9 1980.7,1454.5 2000,1460.7 M1328,903 1357,911 1374,926 1366,944 1343,948 1339,965 1353,982 1359,994 1345,1002 1337,1027 1345,1044 1340,1043 M1359,994 1382,982 1399,979 1407,969 1400,970" fill="none" stroke="#fff" stroke-width="1.9" stroke-linejoin="round" stroke-linecap="round"/>
<path d="M1099.6,1508.1 1104.6,1503.2 1106.5,1491.4 1112.4,1485.5 1116.4,1488.5 1122.3,1489.5 1132.1,1497.3 1138,1501.3 1138,1507.2 1149.8,1508.1 1151.8,1513.1 1149.8,1520.9 1145.9,1522.9 1145.9,1526.8" fill="none" stroke="#9b9c9f" stroke-width="1.7" stroke-linejoin="round"/>
<path d="M10.4,1636.8 10.4,1636.8 19.4,1638.1 19.4,1638.1 19.4,1638.1 25.7,1633 25.7,1633 25.8,1633 25.8,1633 25.8,1633 25.8,1633 25.9,1633 25.9,1633 25.9,1633 25.9,1633 26,1633 26,1633 26,1633 26,1633 30.9,1636.7 30.9,1636.7 30.9,1636.7 31,1636.7 31,1636.8 31,1636.8 31,1636.8 31,1636.8 31,1636.9 31,1636.9 31,1636.9 31,1636.9 31,1637 31,1637 28.5,1643.1 28.5,1643.2 28.5,1643.2 28.5,1643.2 28.5,1643.2 28.5,1643.2 28.4,1643.2 28.4,1643.3 28.4,1643.3 28.4,1643.3 28.3,1643.3 28.3,1643.3 19.4,1644.6 19.4,1644.6 19.4,1644.6 18.1,1652.3 18.1,1652.3 18.1,1652.3 33.4,1651.1 33.4,1651.1 33.5,1651.1 33.5,1651.1 33.5,1651.1 33.5,1651.1 33.6,1651.1 33.6,1651.1 33.6,1651.1 33.6,1651.1 33.6,1651.1 33.6,1651.2 33.7,1651.2 33.7,1651.2 33.7,1651.2 33.7,1651.3 34.9,1658.7 34.9,1658.8 34.9,1658.8 34.9,1658.8 34.9,1658.8 34.9,1658.9 31.1,1669.1 31.1,1669.1 31.1,1669.1 31,1669.2 31,1669.2 31,1669.2 24.6,1674.3 24.6,1674.3 24.6,1674.3 28.4,1682 28.4,1682 28.4,1682 28.4,1682.1 28.4,1682.1 28.4,1682.1 28.4,1682.1 28.4,1682.2 28.4,1682.2 24.6,1692.4 24.6,1692.4 19.4,1705.4 19.4,1705.4 12.9,1718.3 12.9,1718.3 12.9,1718.3 31,1719.6 31,1719.6 31,1719.6 31.1,1719.6 31.1,1719.6 31.1,1719.6 50.5,1731.3 50.5,1731.3 50.5,1731.3 62.1,1726.6 62.1,1726.6 62.1,1726.6 62.1,1726.6 71.1,1725.6 71.2,1725.6 71.2,1725.6 82.8,1726.6 82.8,1726.6 82.8,1726.6 82.8,1726.6 91.8,1729.9 91.8,1730 91.9,1730 91.9,1730 91.9,1730 91.9,1730 99.6,1739 99.6,1739 99.6,1739 106,1750.6 106.1,1750.6 106.1,1750.6 106.1,1750.6 106.1,1750.6 106.1,1750.7 106.1,1750.7 106.1,1750.7 106.1,1750.7 106.1,1750.8 106,1750.8 103.5,1755.8 103.5,1755.8 103.5,1755.9 109.9,1762.2 109.9,1762.2 109.9,1762.3 109.9,1762.3 109.9,1762.3 110,1762.3 110,1762.4 110,1762.4 110,1762.4 110,1762.4 110,1762.5 108.7,1767.5 108.7,1767.5 108.7,1767.5 113.9,1783 113.9,1783 113.9,1783 121.6,1788.2 121.6,1788.2 121.7,1788.2 129.4,1796 129.4,1796 129.4,1796 141,1793.4 141,1793.4 141,1793.4 144.9,1787 144.9,1786.9 144.9,1786.9 144.9,1786.9 145,1786.9 145,1786.9 155.2,1780.5 155.3,1780.4 155.3,1780.4 155.3,1780.4 155.3,1780.4 170.8,1777.8 170.8,1777.8 170.8,1777.8 178.5,1772.7 178.5,1772.7 178.5,1772.7 178.6,1772.7 178.6,1772.7 178.6,1772.7 178.6,1772.7 178.6,1772.7 178.7,1772.7 214.8,1779.1 214.8,1779.1 214.8,1779.1 227.7,1779.1 227.7,1779.1 227.8,1779.1 227.8,1779.2 245.9,1784.3 245.9,1784.3 245.9,1784.3 258.7,1780.5 258.7,1780.5 258.7,1780.5 258.8,1780.5 258.8,1780.5 258.8,1780.5 258.8,1780.5 258.9,1780.5 258.9,1780.5 258.9,1780.5 267.9,1786.9 267.9,1786.9 267.9,1786.9 274.3,1780.4 274.3,1780.4 274.3,1780.4 280.8,1766.3 280.8,1766.3 280.8,1766.2 280.8,1766.2 280.8,1766.2 280.8,1766.2 280.9,1766.2 280.9,1766.2 295,1759.7 295,1759.7 295.1,1759.7 314.4,1754.6 314.4,1754.6 314.5,1754.6 327.4,1753.3 327.4,1753.3 327.4,1753.3 324.8,1746.9 324.8,1746.9 324.8,1746.9 324.8,1746.8 324.8,1746.8 324.8,1746.8 324.8,1746.8 324.8,1746.7 324.8,1746.7 324.9,1746.7 324.9,1746.7 330,1739 330,1739 330,1739 332.5,1727.5 332.5,1727.5 332.5,1727.5 332.6,1727.4 332.6,1727.4 332.6,1727.4 332.6,1727.4 332.6,1727.4 332.6,1727.4 332.7,1727.3 332.7,1727.3 339,1724.8 339,1724.8 339,1724.8 339,1718.4 339,1718.4 339,1718.4 339,1718.4 339,1718.3 339.1,1718.3 339.1,1718.3 339.1,1718.3 339.1,1718.3 339.1,1718.2 346.8,1711.9 346.8,1711.9 346.8,1711.8 346.8,1711.8 357.1,1708 357.1,1708 357.1,1708 368.8,1701.5 368.8,1701.5 368.8,1701.5 359.8,1695.1 359.8,1695.1 359.7,1695 359.7,1695 359.7,1695 359.7,1695 354.6,1684.7 354.6,1684.7 354.6,1684.7 354.6,1684.7 354.6,1684.6 353.3,1671.8 353.3,1671.8 353.3,1671.8 353.3,1671.8 353.3,1671.7 353.3,1671.7 353.3,1671.7 353.3,1671.7 359.7,1661.4 359.7,1661.4 359.8,1661.4 372.7,1648.5 372.7,1648.4 372.7,1648.4 385.6,1630.3 385.6,1630.3 395.9,1617.4 395.9,1617.4 396,1617.4 396,1617.4 396,1617.4 402.4,1613.5 402.4,1613.5 402.4,1613.5 401.2,1611.1 401.2,1611.1 401.2,1611 401.2,1611 401.2,1611 401.2,1611 401.2,1610.9 401.2,1610.9 401.2,1610.9 401.2,1610.9 401.2,1610.9 401.2,1610.8 401.3,1610.8 401.3,1610.8 411.5,1601.9 411.5,1601.9 411.5,1601.9 411.5,1601.9 411.5,1601.8 429.6,1595.4 429.6,1595.4 429.6,1595.4 450.3,1591.5 450.3,1591.5 450.3,1591.5 455.4,1586.4 455.5,1586.4 455.5,1586.3 455.5,1586.3 455.5,1586.3 476.2,1578.6 476.2,1578.6 476.2,1578.6 486.5,1572.1 486.5,1572.1 486.5,1572.1 493,1563 493,1563 493,1563 491.7,1552.8 491.7,1552.8 491.7,1552.8 491.7,1552.7 491.7,1552.7 491.7,1552.7 491.8,1552.7 491.8,1552.6 491.8,1552.6 491.8,1552.6 496.9,1547.5 496.9,1547.5 496.9,1547.5 491.8,1541.1 491.7,1541.1 491.7,1541.1 491.7,1541 491.7,1541 491.7,1541 491.7,1541 489.1,1521.7 489.1,1521.7 489.1,1521.7 489.1,1521.7 489.1,1521.6 489.2,1521.6 489.2,1521.6 489.2,1521.6 500,1503.6 500,1503.6 500,1503.5 500,1503.5 500,1503.5 500.1,1503.5 512,1496 512,1496 512,1496 512,1496 529.9,1492 530,1492 530,1492 530,1492 530,1492 530.1,1492 548,1497 548,1497 560,1499 560,1499 560,1499 560,1499 560,1499 571.7,1505.8 571.8,1505.8 571.8,1505.8 571.8,1505.9 571.8,1505.9 571.8,1505.9 571.8,1505.9 573.8,1509.8 573.8,1509.8 573.8,1509.8 587.4,1513.7 587.5,1513.7 587.5,1513.7 587.5,1513.7 587.5,1513.7 587.5,1513.8 587.6,1513.8 587.6,1513.8 587.6,1513.8 589.5,1517.7 589.5,1517.7 589.5,1517.7 598.1,1515.7 598.1,1515.7 598.2,1515.7 598.2,1515.7 598.2,1515.7 598.2,1515.7 598.3,1515.8 598.3,1515.8 598.3,1515.8 598.3,1515.8 598.3,1515.8 598.4,1515.8 598.4,1515.8 598.4,1515.9 598.4,1515.9 598.4,1515.9 598.4,1515.9 599.3,1519.6 599.3,1519.6 599.3,1519.6 607.2,1516.7 607.2,1516.7 618,1513.7 618,1513.7 618,1513.7 621,1508.8 621,1508.8 621,1508.8 621,1508.8 632.8,1498 632.8,1498 638.6,1491.2 638.6,1491.1 638.7,1491.1 638.7,1491.1 638.7,1491.1 638.7,1491.1 638.7,1491.1 648.5,1488.2 648.5,1488.2 672.1,1480.3 672.1,1480.3 672.1,1480.3 676,1468.6 676,1468.6 676,1468.6 676,1468.6 676,1468.5 676.1,1468.5 676.1,1468.5 676.1,1468.5 676.1,1468.5 676.1,1468.5 676.2,1468.5 676.2,1468.5 681.9,1467.5 681.9,1467.5 681.9,1467.5 682.9,1462.7 682.9,1462.7 682.9,1462.7 682.9,1462.6 682.9,1462.6 683,1462.6 683,1462.6 683,1462.6 683,1462.5 683,1462.5 689.8,1458.7 689.8,1458.7 689.8,1458.7 689.8,1458.7 689.9,1458.7 689.9,1458.7 697.6,1458.7 697.7,1458.7 697.7,1458.7 697.7,1458.7 707.5,1461.6 707.5,1461.6 707.5,1461.6 709.4,1460.7 709.4,1460.7 709.4,1460.7 709.4,1460.7 709.5,1460.7 709.5,1460.7 709.5,1460.7 709.5,1460.7 709.6,1460.7 709.6,1460.7 709.6,1460.7 723.2,1468.5 723.2,1468.5 723.3,1468.5 723.3,1468.5 729.1,1474.4 729.2,1474.4 729.2,1474.4 731,1472.6 731,1472.6 731,1472.5 731,1472.5 731,1472.5 731.1,1472.5 731.1,1472.5 731.1,1472.5 731.1,1472.5 731.2,1472.5 731.2,1472.5 731.2,1472.5 731.2,1472.5 731.3,1472.5 731.3,1472.5 731.3,1472.6 738.9,1478.3 739,1478.3 739,1478.3 739,1478.3 739,1478.4 744.9,1488.1 744.9,1488.1 744.9,1488.2 744.9,1488.2 748.8,1503.9 748.8,1503.9 748.8,1503.9 753.7,1513.7 753.7,1513.7 753.7,1513.7 753.7,1513.8 753.7,1513.8 754.7,1526.5 754.7,1526.5 754.7,1526.5 760.5,1529.4 760.5,1529.4 760.5,1529.4 760.6,1529.4 760.6,1529.5 760.6,1529.5 760.6,1529.5 760.6,1529.5 760.6,1529.5 760.6,1529.6 760.6,1529.6 761.6,1535.4 761.6,1535.4 761.6,1535.4 768.5,1539.3 768.5,1539.3 768.5,1539.3 768.5,1539.3 777.2,1549 777.2,1549 777.2,1549 777.2,1549 777.3,1549.1 777.3,1549.1 777.3,1549.1 777.3,1549.1 777.3,1549.2 777.3,1549.2 777.3,1549.2 777.3,1549.2 777.2,1549.3 777.2,1549.3 777.2,1549.3 774.4,1553.1 774.4,1553.1 774.4,1553.1 792,1555 792,1555 792,1555 792,1555 792.1,1555 792.1,1555.1 792.1,1555.1 792.1,1555.1 792.1,1555.1 792.2,1555.1 798,1564.9 798,1564.9 801.9,1570.8 801.9,1570.8 801.9,1570.8 811.7,1576.6 811.7,1576.6 811.7,1576.7 811.7,1576.7 811.8,1576.7 811.8,1576.7 811.8,1576.7 811.8,1576.7 815.7,1586.5 815.7,1586.5 815.7,1586.5 821.6,1590.4 821.6,1590.4 835.3,1598.3 835.4,1598.3 835.4,1598.3 835.4,1598.3 841.3,1604.2 841.3,1604.2 841.3,1604.2 847.2,1608.1 847.2,1608.1 847.2,1608.1 852.9,1603.3 853,1603.3 853,1603.3 853,1603.3 853,1603.3 853,1603.3 853.1,1603.3 853.1,1603.3 853.1,1603.3 853.1,1603.3 853.2,1603.3 853.2,1603.3 853.2,1603.3 862.9,1608.1 862.9,1608.1 862.9,1608.1 874.6,1606.2 874.6,1606.2 874.6,1606.2 874.6,1606.2 874.7,1606.2 874.7,1606.2 874.7,1606.2 874.7,1606.2 874.7,1606.2 874.8,1606.2 874.8,1606.3 874.8,1606.3 882.5,1616 882.5,1616 882.6,1616 882.6,1616 882.6,1616 882.6,1616.1 883.7,1623.7 883.7,1623.7 883.7,1623.7 894.5,1625.2 894.6,1625.2 894.6,1625.2 894.6,1625.2 894.6,1625.2 902.1,1629.7 902.1,1629.7 902.1,1629.7 902.1,1629.8 902.2,1629.8 902.2,1629.8 902.2,1629.8 902.2,1629.8 902.2,1629.9 902.2,1629.9 902.2,1629.9 902.2,1629.9 902.2,1630 902.2,1630 902.2,1630 902.2,1630 902.2,1630.1 902.2,1630.1 902.1,1630.1 896.2,1636.1 896.2,1636.1 896.2,1636.1 910,1631.5 910,1631.5 910,1631.5 910,1631.5 910.1,1631.5 910.1,1631.5 910.1,1631.5 910.1,1631.5 910.2,1631.5 910.2,1631.5 910.2,1631.5 910.2,1631.5 910.2,1631.6 920.9,1643.7 920.9,1643.7 920.9,1643.8 920.9,1643.8 920.9,1643.8 920.9,1643.8 920.9,1643.9 920.9,1643.9 920.9,1643.9 920.9,1643.9 920.9,1644 920.9,1644 920.9,1644 917.9,1650.1 917.9,1650.1 917.9,1650.1 933.4,1660.9 933.4,1660.9 933.4,1660.9 945.7,1657.9 945.7,1657.9 945.7,1657.9 945.7,1657.9 945.8,1657.9 945.8,1657.9 945.8,1657.9 945.8,1657.9 945.9,1657.9 945.9,1657.9 945.9,1657.9 945.9,1657.9 945.9,1658 945.9,1658 955.1,1671.8 955.2,1671.8 955.2,1671.8 964.5,1696.6 964.5,1696.7 970.6,1709 970.6,1709 970.7,1709 970.7,1709 970.7,1709.1 970.7,1709.1 970.7,1709.1 970.7,1709.1 970.7,1709.2 967.6,1718.2 967.6,1718.3 967.6,1718.3 967.6,1718.3 967.6,1718.3 967.6,1718.3 967.5,1718.4 967.5,1718.4 967.5,1718.4 967.5,1718.4 967.5,1718.4 967.4,1718.4 958.3,1719.9 958.3,1719.9 958.3,1719.9 958.3,1727.7 958.3,1727.7 958.3,1727.7 958.3,1727.7 958.2,1727.7 953.6,1740.1 953.6,1740.1 953.6,1740.1 953.6,1740.2 948.9,1746.3 948.9,1746.3 948.9,1746.3 950.5,1756.3 950.5,1756.3 950.5,1756.3 967.6,1756.3 967.6,1756.3 967.6,1756.3 972.2,1743.3 972.2,1743.3 972.2,1743.2 972.3,1743.2 972.3,1743.2 984.7,1729.3 984.7,1729.3 984.7,1729.2 981.6,1718.5 981.6,1718.5 981.6,1718.5 981.6,1718.5 981.6,1718.4 981.6,1718.4 981.6,1718.4 981.6,1718.4 981.6,1718.3 981.6,1718.3 981.7,1718.3 981.7,1718.3 995.5,1706 995.5,1706 995.5,1706 995.6,1706 995.6,1705.9 1004.8,1702.9 1004.8,1702.9 1004.8,1702.9 1001.7,1684.2 1001.7,1684.2 1001.7,1684.2 989.3,1676.5 989.3,1676.5 989.3,1676.5 980.1,1673.4 980.1,1673.4 980.1,1673.4 980,1673.4 980,1673.3 980,1673.3 980,1673.3 980,1673.3 980,1673.3 980,1673.2 976.9,1665.7 976.9,1665.6 976.9,1665.6 976.9,1665.6 976.9,1665.6 976.9,1665.5 976.9,1665.5 980,1653.2 980,1653.2 980,1653.2 980,1653.1 989.3,1637.7 989.3,1637.7 989.3,1637.7 989.3,1637.6 989.3,1637.6 989.4,1637.6 998.5,1631.5 998.5,1631.5 998.5,1631.5 998.6,1631.5 998.6,1631.5 998.6,1631.5 998.6,1631.5 998.7,1631.5 998.7,1631.5 998.7,1631.5 998.7,1631.5 998.8,1631.5 998.8,1631.5 1007.9,1637.6 1008,1637.6 1008,1637.6 1026.5,1643.8 1026.5,1643.8 1026.5,1643.8 1026.6,1643.9 1026.6,1643.9 1026.6,1643.9 1026.6,1643.9 1026.6,1643.9 1026.6,1643.9 1031.2,1653.2 1031.2,1653.2 1031.2,1653.2 1045.2,1659.4 1045.2,1659.4 1045.2,1659.4 1048.9,1643.9 1048.9,1643.9 1048.9,1643.8 1039,1634.5 1039,1634.5 1039,1634.5 1029.7,1622.1 1029.7,1622.1 1029.7,1622.1 1020.4,1619 1020.4,1619 992.4,1606.6 992.4,1606.6 967.6,1594.2 967.6,1594.2 949.1,1588 949.1,1588 949,1588 949,1588 949,1587.9 949,1587.9 949,1587.9 948.9,1587.9 948.9,1587.9 948.9,1587.8 948.9,1587.8 947.4,1581.9 947.4,1581.9 947.4,1581.8 947.4,1581.8 947.4,1581.8 947.4,1581.8 947.4,1581.7 947.4,1581.7 947.5,1581.7 947.5,1581.7 947.5,1581.7 947.5,1581.6 958.3,1572.4 958.3,1572.4 958.3,1572.4 955.2,1566.8 955.2,1566.8 955.1,1566.8 939.6,1567.8 939.6,1567.8 931.1,1568.1 931.1,1568.1 931,1568.1 931,1568.1 931,1568.1 931,1568.1 930.9,1568.1 930.9,1568.1 930.9,1568.1 930.9,1568 930.9,1568 930.9,1568 930.8,1568 930.8,1568 930.8,1567.9 930.8,1567.9 930.8,1567.9 930.8,1567.9 930.8,1567.8 930.8,1567.8 930.8,1567.8 930.8,1567.8 930.9,1567.8 930.9,1567.7 930.9,1567.7 930.9,1567.7 930.9,1567.7 930.9,1567.7 931,1567.7 931,1567.6 931,1567.6 931,1567.6 931.1,1567.6 940,1566.8 940,1566.8 940,1566.8 917.9,1568.7 917.9,1568.7 917.9,1568.7 917.9,1568.7 917.8,1568.7 917.8,1568.7 917.8,1568.7 917.8,1568.8 917.8,1568.8 917.7,1568.8 917.7,1568.8 917.7,1568.8 904.5,1566.9 904.5,1566.9 904.5,1566.9 904.4,1566.9 904.4,1566.8 904.4,1566.8 904.4,1566.8 904.4,1566.8 904.3,1566.8 904.3,1566.8 904.3,1566.7 904.3,1566.7 904.3,1566.7 904.3,1566.7 904.3,1566.6 904.3,1566.6 904.3,1566.6 904.3,1566.6 904.3,1566.5 906.2,1560.9 906.2,1560.9 906.2,1560.9 898.3,1557 898.3,1557 898.3,1557 898.3,1557 886.5,1545.2 886.5,1545.2 878.7,1535.4 878.7,1535.4 878.6,1535.4 878.6,1535.3 878.6,1535.3 874.7,1521.6 874.7,1521.6 866.8,1503.9 866.8,1503.9 866.8,1503.9 859,1492.1 859,1492.1 859,1492.1 849.1,1488.2 849.1,1488.1 831.5,1478.3 831.4,1478.3 831.4,1478.3 831.4,1478.3 821.6,1468.5 821.6,1468.5 821.6,1468.5 821.6,1468.5 817.7,1460.6 817.7,1460.6 817.7,1460.6 814.7,1448.8 814.7,1448.8 814.7,1448.8 813.7,1438.2 813.7,1438.1 813.7,1438.1 813.7,1438.1 813.8,1438.1 813.8,1438.1 813.8,1438 813.8,1438 813.8,1438 813.8,1438 813.8,1438 813.9,1437.9 813.9,1437.9 815.7,1437 815.7,1437 815.7,1437 819.6,1433.1 819.6,1433.1 819.6,1433.1 815.7,1429.2 815.7,1429.2 815.7,1429.2 815.7,1429.1 815.7,1429.1 815.7,1429.1 815.7,1429.1 813.7,1421.3 813.7,1421.3 809.8,1411.6 809.8,1411.6 809.8,1411.5 809.8,1411.5 809.8,1411.5 809.8,1411.5 809.8,1411.4 809.8,1411.4 809.9,1411.4 809.9,1411.4 809.9,1411.4 809.9,1411.3 815.6,1404.7 815.6,1404.7 815.6,1404.6 815.7,1404.6 815.7,1404.6 815.7,1404.6 815.7,1404.6 815.8,1404.6 815.8,1404.6 815.8,1404.6 815.8,1404.6 821.6,1405.5 821.6,1405.5 821.6,1405.5 839.3,1397.7 839.3,1397.7 839.3,1397.7 840.3,1393.8 840.3,1393.8 840.3,1393.8 840.3,1393.8 840.3,1393.8 840.3,1393.7 840.3,1393.7 840.3,1393.7 840.4,1393.7 845.2,1390.8 845.2,1390.8 845.2,1390.8 845.2,1390.8 845.2,1390.8 852.9,1389.8 853,1389.8 853,1389.8 853,1389.8 853,1389.8 853.1,1389.8 853.1,1389.9 853.1,1389.9 853.1,1389.9 853.2,1389.9 858.8,1395.6 858.8,1395.6 858.9,1395.6 858.9,1395.6 858.9,1395.7 858.9,1395.7 858.9,1395.7 858.9,1395.7 858.9,1395.8 858.9,1395.8 858.9,1395.8 858.9,1395.8 858.9,1395.9 858.9,1395.9 855,1402.6 855,1402.6 855,1402.6 855,1402.6 859,1415.4 859,1415.4 859,1415.4 866.8,1427.2 866.8,1427.2 866.8,1427.2 870.8,1437 870.8,1437 870.8,1437 872.7,1425.3 872.7,1425.3 872.7,1425.3 872.7,1425.3 872.7,1425.3 872.8,1425.2 872.8,1425.2 872.8,1425.2 872.8,1425.2 872.8,1425.2 872.8,1425.2 876.7,1423.3 876.7,1423.3 876.7,1423.2 880.5,1409.8 880.5,1409.7 880.5,1409.7 880.5,1409.7 880.6,1409.7 880.6,1409.7 880.6,1409.7 880.6,1409.6 880.6,1409.6 880.7,1409.6 880.7,1409.6 880.7,1409.6 880.7,1409.6 880.8,1409.6 880.8,1409.6 880.8,1409.6 880.8,1409.6 880.8,1409.6 880.9,1409.6 886.4,1412.4 886.5,1412.4 886.5,1412.4 886.5,1412.4 886.5,1412.5 886.5,1412.5 888.5,1415.1 888.5,1415.1 888.5,1415.2 888.5,1415.2 888.5,1415.2 888.5,1415.2 888.5,1415.3 888.5,1415.3 888.5,1415.3 888.5,1415.3 888.5,1415.4 888.5,1415.4 888.5,1415.4 888.5,1415.4 886.5,1421.3 886.5,1421.3 886.5,1421.3 892.4,1427.2 892.4,1427.2 892.4,1427.2 898.3,1427.2 898.3,1427.2 898.3,1427.2 897.3,1425.2 897.3,1425.2 897.3,1425.2 897.3,1425.2 897.3,1425.1 897.3,1425.1 897.3,1425.1 897.3,1425.1 897.3,1425 897.3,1425 897.3,1425 897.3,1425 897.4,1425 897.4,1424.9 897.4,1424.9 897.4,1424.9 897.4,1424.9 897.5,1424.9 897.5,1424.9 897.5,1424.9 897.5,1424.9 897.6,1424.9 897.6,1424.9 897.6,1424.9 897.6,1424.9 897.7,1424.9 902.1,1427.1 902.1,1427.1 902.2,1427.2 902.2,1427.2 902.2,1427.2 902.2,1427.2 902.2,1427.2 902.2,1427.3 902.3,1427.3 902.3,1427.3 904.2,1437 904.2,1437 904.2,1437 912.1,1448.8 912.1,1448.8 912.1,1448.8 919.9,1454.7 919.9,1454.7 919.9,1454.7 919.9,1454.7 920,1454.8 920.3,1455.4 920.3,1455.4 920.3,1455.4 920.3,1455.5 920.4,1455.5 920.4,1455.5 920.4,1455.5 920.3,1455.6 920.3,1455.6 920.3,1455.6 920.3,1455.6 920.3,1455.6 920.3,1455.7 920.3,1455.7 920.3,1455.7 920.2,1455.7 920.2,1455.7 920.2,1455.7 920.2,1455.7 920.2,1455.8 920.1,1455.8 920.1,1455.8 920.1,1455.8 920.1,1455.8 920,1455.8 920,1455.7 920,1455.7 920,1455.7 912.1,1450.8 912.1,1450.8 897.3,1440 897.3,1440 897.3,1440 910.1,1453.7 910.1,1453.7 910.1,1453.7 923.3,1460.7 923.3,1460.7 923.3,1460.7 923.3,1460.7 923.4,1460.7 923.4,1460.7 923.4,1460.8 927.8,1468.5 927.8,1468.5 927.8,1468.5 939.9,1480.2 939.9,1480.2 939.9,1480.2 939.9,1480.2 939.9,1480.3 939.9,1480.3 943.3,1490.4 943.3,1490.4 943.3,1490.4 950.1,1493.4 950.2,1493.4 950.2,1493.4 956,1489.5 956,1489.5 956,1489.5 956,1489.5 956,1489.5 956.1,1489.5 956.1,1489.5 956.1,1489.5 956.1,1489.5 956.2,1489.5 964.9,1492.4 964.9,1492.4 974.3,1496.8 974.3,1496.8 974.4,1496.8 974.4,1496.8 974.4,1496.8 974.4,1496.8 974.4,1496.9 974.4,1496.9 974.5,1496.9 974.5,1496.9 974.5,1496.9 974.5,1497 974.5,1497 974.5,1497 974.5,1497 974.5,1497.1 974.4,1497.1 974.4,1497.1 974.4,1497.1 974.4,1497.2 974.4,1497.2 974.4,1497.2 974.3,1497.2 974.3,1497.2 974.3,1497.2 974.3,1497.2 974.3,1497.2 974.2,1497.2 974.2,1497.2 960,1496.3 960,1496.3 960,1496.4 961,1501.3 961,1501.3 961,1501.3 976.3,1500.3 976.3,1500.3 976.3,1500.3 975.8,1497.9 975.8,1497.9 975.8,1497.8 975.8,1497.8 975.8,1497.8 975.8,1497.8 975.9,1497.7 975.9,1497.7 975.9,1497.7 975.9,1497.7 975.9,1497.7 975.9,1497.6 975.9,1497.6 976,1497.6 976,1497.6 976,1497.6 976,1497.6 976.1,1497.6 976.1,1497.6 976.1,1497.6 976.1,1497.6 976.2,1497.6 976.2,1497.6 977.7,1498.3 977.7,1498.3 977.7,1498.3 986.5,1505.2 986.5,1505.2 998.3,1515 998.3,1515 998.4,1515 1010.1,1520.9 1021.9,1526.8 1031.8,1531.7 1031.8,1531.8 1031.8,1531.8 1035.7,1534.7 1035.7,1534.7 1035.7,1534.7 1037.7,1535.7 1037.7,1535.7 1037.7,1535.7 1037.7,1535.7 1037.7,1535.7 1037.7,1535.7 1045.4,1536.6 1045.4,1536.6 1045.4,1536.7 1045.4,1536.7 1045.5,1536.7 1045.5,1536.7 1045.5,1536.7 1045.5,1536.7 1045.5,1536.7 1045.5,1536.8 1045.6,1536.8 1045.6,1536.8 1045.6,1536.8 1045.6,1536.9 1046.5,1542.6 1046.5,1542.6 1046.5,1542.6 1057.3,1548.4 1057.3,1548.5 1057.3,1548.5 1057.4,1548.5 1057.4,1548.5 1063.2,1556.3 1063.3,1556.3 1063.3,1556.3 1071.1,1560.3 1071.1,1560.3 1071.1,1560.3 1079.7,1561.2 1079.7,1561.2 1079.8,1561.2 1079.8,1561.2 1079.8,1561.3 1079.8,1561.3 1079.9,1561.3 1079.9,1561.3 1079.9,1561.3 1079.9,1561.3 1079.9,1561.4 1079.9,1561.4 1079.9,1561.4 1079.9,1561.4 1079.9,1561.5 1079.9,1561.5 1079.9,1561.5 1079,1570.1 1079,1570.1 1079,1570.1 1079,1570.1 1079,1570.1 1077,1574 1077,1574 1077,1574 1078.1,1579.6 1078.1,1579.7 1078.6,1585.2 1078.6,1585.2 1078.6,1585.3 1078.6,1585.3 1077,1591.7 1077,1591.7 1077,1591.7 1078.5,1595.8 1078.5,1595.9 1078.5,1595.9 1078.5,1595.9 1078.5,1595.9 1078.5,1595.9 1076.7,1610.1 1076.7,1610.1 1076.7,1610.2 1079.7,1621.9 1079.7,1621.9 1079.7,1622 1083.3,1629.3 1083.4,1629.3 1083.4,1629.4 1083.4,1629.4 1083.4,1629.4 1083.4,1629.4 1083.4,1629.4 1083.4,1629.5 1083.4,1629.5 1083.4,1629.5 1083.3,1629.5 1083.3,1629.6 1083.3,1629.6 1083.3,1629.6 1083.3,1629.6 1083.3,1629.6 1083.2,1629.6 1083.2,1629.6 1083.2,1629.7 1083.2,1629.7 1083.2,1629.7 1083.1,1629.7 1083.1,1629.7 1083.1,1629.7 1083.1,1629.7 1076.7,1627.8 1076.7,1627.8 1076.7,1627.9 1081.6,1631.8 1081.6,1631.8 1081.6,1631.8 1093.4,1637.7 1093.4,1637.7 1093.4,1637.7 1093.4,1637.7 1093.5,1637.7 1093.5,1637.7 1105.2,1653.4 1105.2,1653.4 1105.2,1653.4 1114,1661.2 1114.1,1661.3 1114.1,1661.3 1114.1,1661.3 1114.1,1661.3 1114.1,1661.3 1116.1,1667.2 1116.1,1667.2 1116.1,1667.2 1119,1671.1 1119,1671.1 1119,1671.1 1127.8,1678 1127.9,1678 1134.7,1684.9 1134.7,1684.9 1134.8,1684.9 1137.7,1689.8 1137.7,1689.8 1137.7,1689.8 1138.3,1689 1138.3,1688.9 1138.3,1688.9 1138.4,1688.9 1138.4,1688.9 1138.4,1688.9 1138.4,1688.9 1138.4,1688.9 1138.5,1688.8 1138.5,1688.8 1138.5,1688.8 1138.5,1688.8 1138.6,1688.9 1138.6,1688.9 1138.6,1688.9 1138.6,1688.9 1138.7,1688.9 1138.7,1688.9 1138.7,1688.9 1138.7,1689 1138.7,1689 1138.7,1689 1138.7,1689 1140.6,1694.7 1140.6,1694.7 1140.6,1694.7 1148.5,1701.6 1148.5,1701.6 1148.5,1701.6 1148.5,1701.6 1152.4,1708.5 1152.4,1708.5 1156.4,1717.3 1156.4,1717.3 1156.4,1717.3 1162.1,1709.7 1162.1,1709.7 1162.2,1709.6 1162.2,1709.6 1162.2,1709.6 1162.2,1709.6 1162.2,1709.6 1162.3,1709.6 1162.3,1709.6 1162.3,1709.6 1162.3,1709.6 1162.4,1709.6 1162.4,1709.6 1162.4,1709.6 1162.4,1709.6 1162.5,1709.6 1162.5,1709.6 1170.1,1715.4 1170.1,1715.4 1170.2,1715.4 1185.8,1708.5 1185.9,1708.5 1185.9,1708.5 1185.9,1708.5 1185.9,1708.5 1202.6,1708.5 1202.6,1708.5 1202.6,1708.5 1209.4,1706.6 1209.4,1706.5 1209.4,1706.5 1209.4,1706.5 1209.5,1706.5 1209.5,1706.5 1209.5,1706.6 1209.5,1706.6 1209.6,1706.6 1209.6,1706.6 1217.3,1711.4 1217.3,1711.4 1217.4,1711.4 1234.7,1712.4 1234.7,1712.4 1234.7,1712.4 1234.7,1712.4 1234.8,1712.4 1234.8,1712.4 1234.8,1712.5 1234.8,1712.5 1234.8,1712.5 1234.9,1712.5 1234.9,1712.5 1234.9,1712.5 1234.9,1712.6 1234.9,1712.6 1234.9,1712.6 1234.9,1712.6 1234.9,1712.7 1234.9,1712.7 1234.9,1712.7 1234.9,1712.7 1234.9,1712.8 1233.1,1716.3 1233.1,1716.3 1233.1,1716.3 1233.1,1716.3 1233.1,1716.4 1233,1716.4 1233,1716.4 1233,1716.4 1223.3,1720.3 1223.3,1720.3 1223.3,1720.3 1223.2,1720.3 1223.2,1720.3 1223.2,1720.3 1201.6,1718.3 1201.6,1718.3 1201.6,1718.3 1201.6,1718.3 1185.9,1712.4 1185.9,1712.4 1185.9,1712.4 1178.1,1720.2 1178.1,1720.2 1178,1720.3 1178,1720.3 1178,1720.3 1178,1720.3 1178,1720.3 1177.9,1720.3 1164.3,1722.3 1164.2,1722.3 1164.2,1722.3 1158.3,1735 1158.3,1735 1158.3,1735 1164.2,1739.9 1164.2,1740 1164.3,1740 1170.1,1747.8 1170.1,1747.8 1181.9,1761.5 1181.9,1761.5 1181.9,1761.6 1181.9,1761.6 1181.9,1761.6 1181.9,1761.6 1181.9,1761.7 1181.9,1761.7 1181.9,1761.7 1181,1771.4 1181,1771.4 1181,1771.4 1187.7,1776.2 1187.7,1776.3 1187.7,1776.3 1187.8,1776.3 1187.8,1776.3 1187.8,1776.3 1187.8,1776.4 1187.8,1776.4 1187.8,1776.4 1187.8,1776.4 1187.8,1776.5 1187.8,1776.5 1187.8,1776.5 1185.9,1784.2 1185.9,1784.2 1185.9,1784.2 1195.7,1787.2 1195.7,1787.2 1195.7,1787.2 1195.7,1776.6 1195.7,1776.5 1195.7,1776.5 1195.7,1776.5 1195.7,1776.5 1195.7,1776.5 1195.8,1776.4 1195.8,1776.4 1195.8,1776.4 1195.8,1776.4 1195.8,1776.4 1195.8,1776.3 1195.9,1776.3 1195.9,1776.3 1195.9,1776.3 1195.9,1776.3 1203.5,1775.4 1203.5,1775.4 1203.5,1775.4 1203.5,1775.4 1203.6,1775.4 1203.6,1775.4 1203.6,1775.4 1203.6,1775.4 1203.6,1775.4 1203.7,1775.4 1213.4,1785.1 1213.4,1785.2 1213.4,1785.2 1213.4,1785.2 1213.4,1785.2 1213.4,1785.2 1213.4,1785.3 1213.4,1785.3 1214.4,1797 1214.4,1797 1214.4,1797 1219.3,1799.9 1219.3,1799.9 1219.3,1799.9 1217.4,1791.2 1217.4,1791.2 1217.4,1791.1 1217.4,1791.1 1217.4,1791.1 1217.4,1791.1 1217.4,1791 1217.4,1791 1221.3,1783.3 1221.3,1783.3 1221.3,1783.2 1221.3,1783.2 1221.3,1783.2 1229.9,1775.6 1229.9,1775.6 1229.9,1775.5 1230,1775.5 1230,1775.5 1230,1775.5 1230,1775.5 1230.1,1775.5 1230.1,1775.5 1230.1,1775.5 1230.1,1775.5 1230.2,1775.5 1230.2,1775.5 1230.2,1775.5 1230.2,1775.6 1230.2,1775.6 1230.3,1775.6 1230.3,1775.6 1230.3,1775.6 1237,1788.1 1237,1788.1 1237,1788.1 1245.9,1793.1 1245.9,1793.1 1245.9,1793.1 1241,1783.2 1240.9,1783.2 1237,1771.4 1237,1771.4 1233.1,1757.7 1233.1,1757.7 1233.1,1757.7 1227.4,1747.3 1227.4,1747.2 1227.4,1747.2 1227.4,1747.2 1227.4,1747.2 1227.4,1747.2 1227.4,1747.1 1227.4,1747.1 1227.4,1747.1 1227.4,1747.1 1227.4,1747 1227.4,1747 1227.4,1747 1227.5,1747 1227.5,1747 1227.5,1746.9 1227.5,1746.9 1227.5,1746.9 1227.6,1746.9 1227.6,1746.9 1227.6,1746.9 1227.6,1746.9 1227.7,1746.9 1235,1747.8 1235,1747.8 1235,1747.8 1235.1,1747.8 1235.1,1747.8 1235.1,1747.9 1240.9,1751.8 1241,1751.8 1241,1751.8 1242.9,1746 1242.9,1746 1242.9,1746 1242.9,1745.9 1242.9,1745.9 1242.9,1745.9 1243,1745.9 1243,1745.9 1243,1745.9 1243,1745.9 1243.1,1745.8 1243.1,1745.8 1250.8,1744.9 1250.8,1744.9 1250.8,1744.9 1248.8,1739 1248.8,1739 1248.8,1739 1241,1736 1241,1736 1241,1736 1240.9,1736 1240.9,1736 1240.9,1736 1237,1731.1 1237,1731.1 1237,1731.1 1231.1,1727.2 1231.1,1727.2 1228.2,1724.7 1228.2,1724.6 1228.2,1724.6 1228.2,1724.6 1228.2,1724.6 1228.2,1724.6 1228.2,1724.5 1228.2,1724.5 1228.2,1724.5 1228.2,1724.5 1228.2,1724.4 1228.2,1724.4 1228.2,1724.4 1228.2,1724.4 1228.2,1724.3 1228.2,1724.3 1228.2,1724.3 1228.2,1724.3 1228.3,1724.3 1228.3,1724.3 1228.3,1724.2 1228.3,1724.2 1228.3,1724.2 1228.4,1724.2 1228.4,1724.2 1228.4,1724.2 1228.4,1724.2 1228.5,1724.2 1228.5,1724.2 1228.5,1724.2 1228.5,1724.3 1228.6,1724.3 1231.1,1726.2 1231.1,1726.2 1231.1,1726.2 1235,1722.3 1235,1722.3 1235.1,1722.3 1235.1,1722.2 1244.8,1717.4 1244.9,1717.4 1244.9,1717.3 1244.9,1717.3 1244.9,1717.3 1244.9,1717.3 1254.7,1717.3 1254.7,1717.3 1254.7,1717.3 1254.7,1717.4 1254.8,1717.4 1254.8,1717.4 1263.5,1722.2 1263.5,1722.2 1263.5,1722.2 1263.6,1722.3 1263.6,1722.3 1263.6,1722.3 1263.6,1722.3 1263.6,1722.3 1266.5,1730.1 1266.5,1730.1 1266.5,1730.1 1270.4,1729.1 1270.5,1729.1 1270.5,1729.1 1271.4,1724.2 1271.4,1724.2 1271.4,1724.2 1268.5,1713.4 1268.5,1713.4 1264.6,1702.6 1264.6,1702.6 1264.5,1702.6 1256.7,1697.7 1256.7,1697.7 1256.7,1697.7 1249,1697.7 1249,1697.7 1249,1697.7 1248.9,1697.7 1248.9,1697.7 1248.9,1697.6 1248.9,1697.6 1248.8,1697.6 1248.8,1697.6 1248.8,1697.6 1248.8,1697.6 1248.8,1697.5 1248.8,1697.5 1248.8,1697.5 1246.9,1690.8 1246.9,1690.8 1246.8,1690.8 1237.1,1695.6 1237.1,1695.7 1237.1,1695.7 1237.1,1695.7 1237,1695.7 1237,1695.7 1237,1695.7 1237,1695.7 1236.9,1695.7 1236.9,1695.6 1231.2,1692.8 1231.2,1692.8 1231.2,1692.8 1231.2,1692.8 1231.1,1692.7 1231.1,1692.7 1231.1,1692.7 1231.1,1692.7 1231.1,1692.7 1229.2,1686.9 1229.2,1686.9 1229.1,1686.9 1223.3,1683.9 1223.3,1683.9 1223.2,1683.9 1215.4,1684.9 1215.4,1684.9 1215.4,1684.9 1215.4,1684.9 1215.3,1684.9 1206.6,1682.2 1206.6,1682.2 1206.5,1682.2 1206.5,1682.2 1206.5,1682.2 1206.5,1682.2 1206.5,1682.2 1206.4,1682.1 1206.4,1682.1 1206.4,1682.1 1206.4,1682.1 1206.4,1682.1 1206.4,1682 1206.4,1682 1206.4,1682 1206.4,1682 1206.4,1681.9 1206.4,1681.9 1206.4,1681.9 1206.4,1681.9 1206.5,1681.8 1206.5,1681.8 1206.5,1681.8 1206.5,1681.8 1206.5,1681.8 1206.6,1681.8 1206.6,1681.8 1206.6,1681.8 1217.3,1680 1217.3,1680 1217.4,1680 1223.2,1673.1 1223.3,1673.1 1223.2,1673.1 1217.4,1668.2 1217.4,1668.2 1217.3,1668.1 1213.6,1663.4 1213.5,1663.4 1213.5,1663.4 1213.5,1663.4 1213.5,1663.3 1213.5,1663.3 1213.5,1663.3 1213.5,1663.3 1213.5,1663.2 1213.5,1663.2 1213.5,1663.2 1213.5,1663.2 1213.5,1663.2 1213.5,1663.1 1213.6,1663.1 1213.6,1663.1 1217.1,1659.5 1217.1,1659.5 1217.2,1659.5 1217.2,1659.5 1217.2,1659.5 1217.2,1659.5 1217.3,1659.5 1217.3,1659.5 1217.3,1659.5 1217.3,1659.5 1217.4,1659.5 1217.4,1659.5 1217.4,1659.5 1217.4,1659.5 1217.4,1659.5 1217.5,1659.5 1217.5,1659.6 1217.5,1659.6 1217.5,1659.6 1223.2,1669.1 1223.3,1669.2 1223.3,1669.1 1229.1,1667.2 1229.2,1667.2 1229.2,1667.2 1232.1,1662.3 1232.1,1662.3 1232.1,1662.3 1225.2,1655.4 1225.2,1655.4 1215.4,1647.5 1215.4,1647.5 1215.4,1647.5 1215.4,1647.5 1215.4,1647.5 1211.5,1639.7 1211.4,1639.6 1211.4,1639.6 1206.5,1633.7 1206.5,1633.7 1198.7,1624 1198.7,1623.9 1198.7,1623.9 1198.7,1623.9 1198.7,1623.9 1198.7,1623.8 1196.7,1612.2 1196.7,1612.1 1196.7,1612.1 1196.7,1612.1 1196.7,1612.1 1197.6,1607.4 1197.7,1607.3 1197.7,1607.3 1197.7,1607.3 1197.7,1607.3 1197.7,1607.3 1197.7,1607.2 1197.7,1607.2 1197.7,1607.2 1197.8,1607.2 1197.8,1607.2 1197.8,1607.2 1197.8,1607.2 1197.9,1607.2 1204.6,1606.2 1204.6,1606.2 1204.6,1606.2 1201.8,1602.5 1201.8,1602.5 1201.8,1602.5 1201.7,1602.4 1201.7,1602.4 1201.7,1602.4 1201.7,1602.4 1201.7,1602.3 1201.7,1602.3 1201.7,1602.3 1201.7,1602.3 1201.8,1602.2 1201.8,1602.2 1201.8,1602.2 1201.8,1602.2 1201.8,1602.2 1201.8,1602.1 1201.9,1602.1 1206.2,1599.5 1206.3,1599.5 1206.3,1599.5 1206.3,1599.5 1206.3,1599.5 1206.3,1599.5 1206.4,1599.5 1206.4,1599.5 1206.4,1599.5 1206.4,1599.5 1206.5,1599.5 1206.5,1599.5 1206.5,1599.5 1206.5,1599.5 1206.5,1599.6 1206.6,1599.6 1206.6,1599.6 1206.6,1599.6 1206.6,1599.7 1206.6,1599.7 1207.5,1604.2 1207.5,1604.2 1207.5,1604.2 1215.4,1610.1 1215.4,1610.1 1222.2,1615 1222.2,1615 1222.2,1615 1222.2,1615.1 1222.2,1615.1 1222.3,1615.1 1222.3,1615.1 1222.3,1615.1 1222.3,1615.2 1223.2,1621.9 1223.3,1621.9 1223.3,1622 1227.2,1625.9 1227.2,1625.9 1227.2,1625.9 1240.9,1625.9 1241,1625.9 1240.9,1625.9 1227.3,1622 1227.2,1622 1227.2,1622 1227.2,1621.9 1227.2,1621.9 1227.2,1621.9 1227.1,1621.9 1227.1,1621.9 1223.4,1616.3 1223.4,1616.3 1223.4,1616.2 1223.4,1616.2 1223.4,1616.2 1223.4,1616.2 1223.4,1616.1 1223.4,1616.1 1223.4,1616.1 1223.4,1616.1 1223.4,1616 1223.4,1616 1223.4,1616 1223.4,1616 1223.4,1616 1223.5,1615.9 1223.5,1615.9 1223.5,1615.9 1229.1,1613.1 1229.1,1613.1 1229.2,1613.1 1229.2,1613.1 1236.9,1612.1 1236.9,1612.1 1236.9,1612.1 1237,1612.1 1237,1612.1 1237,1612.1 1237,1612.2 1237.1,1612.2 1237.1,1612.2 1237.1,1612.2 1242.9,1618 1242.9,1618 1248.8,1622.9 1248.8,1622.9 1248.8,1622.9 1251.8,1618 1251.8,1618 1251.8,1618 1246.9,1614.1 1246.8,1614.1 1240.2,1607.4 1240.2,1607.4 1240.2,1607.4 1240.2,1607.4 1240.1,1607.3 1240.1,1607.3 1240.1,1607.3 1240.1,1607.3 1240.1,1607.3 1240.1,1607.2 1240.1,1607.2 1240.1,1607.2 1240.1,1607.2 1240.2,1607.1 1240.2,1607.1 1240.2,1607.1 1240.2,1607.1 1240.2,1607.1 1240.2,1607 1240.3,1607 1246.8,1603.3 1246.8,1603.3 1246.8,1603.3 1246.9,1603.3 1246.9,1603.3 1246.9,1603.3 1246.9,1603.3 1256.6,1604.2 1256.6,1604.2 1256.6,1604.2 1256.7,1604.3 1256.7,1604.3 1256.7,1604.3 1256.7,1604.3 1256.7,1604.3 1256.8,1604.3 1262.6,1612.1 1262.6,1612.1 1262.6,1612.1 1254.7,1601.3 1254.7,1601.3 1254.7,1601.3 1243.1,1600.3 1243.1,1600.3 1243,1600.3 1243,1600.3 1243,1600.3 1243,1600.3 1242.9,1600.3 1242.9,1600.3 1242.9,1600.2 1242.9,1600.2 1242.9,1600.2 1242.9,1600.2 1242.9,1600.2 1241,1594.4 1241,1594.4 1240.9,1594.4 1234.3,1591.5 1234.2,1591.5 1234.2,1591.5 1234.2,1591.5 1234.2,1591.5 1234.2,1591.5 1234.1,1591.4 1234.1,1591.4 1234.1,1591.4 1234.1,1591.4 1234.1,1591.4 1234.1,1591.3 1234.1,1591.3 1234.1,1591.3 1234.1,1591.3 1235,1586.7 1235,1586.7 1235,1586.7 1235,1586.7 1235.1,1586.6 1235.1,1586.6 1235.1,1586.6 1235.1,1586.6 1235.1,1586.6 1235.1,1586.6 1235.2,1586.5 1235.2,1586.5 1235.2,1586.5 1235.2,1586.5 1244.9,1585.6 1244.9,1585.6 1244.9,1585.6 1251.8,1582.6 1251.8,1582.6 1251.8,1582.6 1254.7,1577.7 1254.7,1577.7 1254.7,1577.7 1254.8,1577.7 1260.5,1572.9 1260.5,1572.9 1260.5,1572.9 1260.5,1572.9 1260.6,1572.9 1260.6,1572.8 1260.6,1572.8 1260.6,1572.8 1260.6,1572.8 1260.7,1572.8 1260.7,1572.9 1260.7,1572.9 1260.7,1572.9 1260.8,1572.9 1260.8,1572.9 1264.5,1575.7 1264.6,1575.7 1264.6,1575.7 1274.4,1570.8 1274.4,1570.8 1280.2,1566.9 1280.2,1566.9 1280.2,1566.9 1280.3,1566.9 1280.3,1566.9 1280.3,1566.9 1280.3,1566.9 1280.4,1566.9 1280.4,1566.9 1292.1,1568.8 1292.1,1568.8 1292.1,1568.8 1307.8,1567.9 1307.8,1567.9 1307.8,1567.9 1307.9,1567.9 1317.6,1570.4 1317.6,1570.4 1317.6,1570.4 1317.6,1570.4 1317.6,1570.4 1317.7,1570.4 1317.7,1570.5 1317.7,1570.5 1317.7,1570.5 1321.6,1576.7 1321.6,1576.7 1321.6,1576.7 1333.4,1573.8 1333.4,1573.8 1344.4,1570.1 1344.4,1570.1 1344.5,1570.1 1344.5,1570.1 1344.5,1570.1 1344.5,1570.1 1344.6,1570.1 1344.6,1570.1 1344.6,1570.1 1344.6,1570.1 1344.7,1570.1 1344.7,1570.1 1344.7,1570.2 1344.7,1570.2 1344.7,1570.2 1344.7,1570.2 1344.7,1570.2 1344.7,1570.3 1344.7,1570.3 1344.7,1570.3 1344.7,1570.3 1344.7,1570.4 1344.7,1570.4 1344.7,1570.4 1344.7,1570.4 1344.7,1570.5 1344.7,1570.5 1335.4,1582.6 1335.4,1582.6 1335.4,1582.6 1331.5,1590.4 1331.5,1590.4 1331.5,1590.4 1331.4,1590.4 1331.4,1590.4 1331.4,1590.5 1331.4,1590.5 1331.4,1590.5 1331.3,1590.5 1331.3,1590.5 1326.5,1591.5 1326.5,1591.5 1326.5,1591.5 1329.5,1598.3 1329.5,1598.3 1329.5,1598.3 1335.3,1586.6 1335.4,1586.6 1335.4,1586.5 1335.4,1586.5 1335.4,1586.5 1347.2,1576.7 1347.2,1576.7 1362.9,1564.9 1362.9,1564.9 1362.9,1564.9 1364.9,1557.1 1364.9,1557.1 1364.9,1557.1 1364.9,1557 1364.9,1557 1364.9,1557 1374.7,1546.3 1374.7,1546.2 1374.7,1546.2 1374.7,1546.2 1374.7,1546.2 1382.6,1542.3 1382.6,1542.3 1390.4,1537.4 1390.4,1537.4 1390.4,1537.4 1390.4,1537.4 1390.5,1537.4 1390.5,1537.4 1419.9,1535.4 1419.9,1535.4 1419.9,1535.4 1418,1534.1 1417.9,1534.1 1417.9,1534.1 1417.9,1534.1 1417.9,1534.1 1417.9,1534 1417.9,1534 1417.9,1534 1417.9,1534 1417.8,1533.9 1417.8,1533.9 1417.8,1533.9 1418.4,1522.7 1418.4,1522.7 1418.4,1522.7 1418.4,1522.6 1418.4,1522.6 1418.5,1522.6 1418.5,1522.6 1418.5,1522.6 1418.8,1522.2 1418.8,1522.2 1418.8,1522.2 1397.2,1519.3 1397.2,1519.3 1397.2,1519.3 1397.2,1519.3 1385.4,1514.4 1385.4,1514.4 1385.4,1514.4 1385.4,1514.3 1375.6,1506.5 1375.6,1506.5 1375.6,1506.5 1375.5,1506.5 1375.5,1506.5 1375.5,1506.4 1371.6,1496.7 1371.6,1496.7 1371.6,1496.7 1371.6,1496.7 1371.6,1496.7 1362.8,1488.8 1362.8,1488.8 1362.8,1488.8 1362.8,1488.8 1362.7,1488.8 1358.8,1480.9 1358.8,1480.9 1358.8,1480.9 1349.5,1478.1 1349.4,1478.1 1349.4,1478.1 1349.4,1478.1 1349.4,1478.1 1349.4,1478.1 1349.3,1478 1349.3,1478 1349.3,1478 1349.3,1478 1349.3,1478 1349.3,1477.9 1349.3,1477.9 1349.3,1477.9 1349.3,1477.9 1349.3,1477.8 1349.3,1477.8 1349.3,1477.8 1349.3,1477.8 1349.3,1477.7 1349.4,1477.7 1349.4,1477.7 1349.4,1477.7 1355.5,1473.1 1355.5,1473.1 1355.5,1473.1 1355.9,1465.4 1355.9,1465.4 1355.9,1465.4 1355.9,1465.3 1355.9,1465.3 1355.9,1465.3 1355.9,1465.3 1355.9,1465.2 1356,1465.2 1356,1465.2 1356,1465.2 1356,1465.2 1356,1465.2 1356.1,1465.2 1356.1,1465.2 1362.2,1464.2 1362.2,1464.2 1362.2,1464.2 1359.8,1451.4 1359.8,1451.4 1358.8,1442.6 1358.8,1442.6 1358.8,1442.6 1358.8,1442.6 1358.8,1442.5 1360.8,1435.7 1360.8,1435.7 1360.8,1435.7 1360.8,1435.7 1365.6,1428.3 1365.7,1428.3 1365.7,1428.3 1365.7,1428.3 1365.7,1428.3 1365.7,1428.2 1365.8,1428.2 1365.8,1428.2 1365.8,1428.2 1365.8,1428.2 1372.6,1427.8 1372.6,1427.8 1372.6,1427.8 1376.5,1420 1376.5,1420 1376.5,1420 1374.6,1410.1 1374.6,1410.1 1373.6,1396.4 1373.6,1396.3 1370.6,1382.7 1370.6,1382.6 1370.6,1382.6 1370.6,1382.6 1370.6,1382.6 1370.7,1382.5 1370.7,1382.5 1374.6,1373.7 1374.6,1373.7 1379.5,1363 1379.5,1362.9 1379.5,1362.9 1379.5,1362.9 1379.5,1362.9 1387.3,1355.1 1387.4,1355 1396.2,1347.2 1396.2,1347.2 1396.2,1347.2 1395.2,1337.4 1395.2,1337.3 1394.2,1331.5 1394.2,1331.4 1393.3,1321.6 1393.3,1321.6 1393.2,1321.6 1388.6,1319.8 1388.6,1319.7 1388.6,1319.7 1388.5,1319.7 1388.5,1319.7 1388.5,1319.7 1388.5,1319.7 1388.5,1319.6 1388.5,1319.6 1388.5,1319.6 1388.5,1319.6 1388.5,1319.6 1388.5,1319.5 1388.5,1319.5 1388.5,1319.5 1388.5,1319.5 1388.5,1319.4 1388.5,1319.4 1388.5,1319.4 1393.2,1311.8 1393.3,1311.8 1401.1,1296 1407,1284.3 1407,1284.2 1412.9,1268.5 1412.9,1268.5 1412.9,1268.5 1412.9,1260.8 1412.9,1260.8 1412.9,1260.7 1412.9,1260.7 1412.9,1260.7 1413,1260.7 1413,1260.6 1413,1260.6 1413,1260.6 1413,1260.6 1413,1260.6 1420.8,1255.7 1420.8,1255.7 1420.8,1255.7 1435.5,1249.8 1435.5,1249.8 1446.3,1244.9 1446.3,1244.9 1446.4,1244.9 1446.4,1244.9 1446.4,1244.9 1460.1,1244.9 1460.1,1244.9 1460.1,1244.9 1460.1,1244.9 1460.2,1244.9 1460.2,1244.9 1463.6,1246.6 1463.6,1246.6 1463.6,1246.7 1463.6,1246.7 1463.6,1246.7 1463.7,1246.7 1463.7,1246.7 1463.7,1246.8 1463.7,1246.8 1463.7,1246.8 1463.7,1246.8 1463.7,1246.8 1463.7,1246.9 1463.7,1246.9 1463.7,1246.9 1463.7,1246.9 1463.7,1247 1463.7,1247 1463.7,1247 1463.6,1247 1463.6,1247 1463.6,1247.1 1463.6,1247.1 1463.6,1247.1 1452.3,1251.8 1452.3,1251.8 1452.2,1251.8 1452.2,1251.8 1438.5,1252.8 1438.5,1252.8 1438.5,1252.8 1442.4,1254.7 1442.4,1254.7 1442.4,1254.7 1453.8,1254.7 1453.8,1254.7 1453.9,1254.7 1453.9,1254.8 1453.9,1254.8 1453.9,1254.8 1454,1254.8 1454,1254.8 1454,1254.8 1454,1254.8 1454,1254.8 1454,1254.9 1454,1254.9 1454.1,1254.9 1454.1,1254.9 1454.1,1255 1454.1,1255 1454.1,1255 1454.1,1255 1454.1,1255.1 1454.1,1255.1 1454,1255.1 1452.3,1258.6 1452.3,1258.6 1452.3,1258.6 1452.3,1258.6 1452.2,1258.7 1452.2,1258.7 1452.2,1258.7 1452.2,1258.7 1452.2,1258.7 1446.4,1260.6 1446.4,1260.6 1446.4,1260.6 1465,1264.6 1465,1264.6 1465,1264.6 1487.7,1258.7 1487.7,1258.7 1487.7,1258.7 1487.7,1255.9 1487.7,1255.9 1487.7,1255.9 1487.7,1255.9 1487.7,1255.8 1487.7,1255.8 1487.7,1255.8 1487.7,1255.8 1487.7,1255.7 1487.7,1255.7 1487.8,1255.7 1487.8,1255.7 1487.8,1255.7 1487.8,1255.7 1487.9,1255.7 1493.3,1254.4 1493.3,1254.4 1493.3,1254.4 1493.3,1254.4 1493.4,1254.4 1493.4,1254.4 1493.4,1254.4 1493.4,1254.4 1493.4,1254.5 1493.5,1254.5 1493.5,1254.5 1493.5,1254.5 1493.5,1254.5 1493.5,1254.5 1493.5,1254.6 1493.5,1254.6 1493.6,1254.6 1493.6,1254.6 1493.6,1254.7 1493.6,1257.7 1493.6,1257.7 1493.6,1257.7 1503.4,1258.7 1503.4,1258.7 1503.4,1258.7 1507.1,1252.1 1507.1,1252.1 1507.2,1252.1 1507.2,1252.1 1507.2,1252.1 1507.2,1252.1 1507.2,1252 1507.3,1252 1507.3,1252 1507.3,1252 1507.3,1252 1507.3,1252 1507.4,1252 1507.4,1252 1507.4,1252 1507.4,1252 1507.5,1252 1507.5,1252.1 1507.5,1252.1 1507.5,1252.1 1507.5,1252.1 1507.6,1252.1 1513.1,1260.5 1513.1,1260.5 1513.1,1260.5 1513.1,1260.5 1513.2,1260.6 1513.2,1260.6 1513.2,1260.6 1513.2,1260.6 1513.2,1260.7 1513.1,1260.7 1513.1,1260.7 1513.1,1260.7 1513.1,1260.7 1513.1,1260.8 1513.1,1260.8 1505.4,1268.5 1505.4,1268.5 1493.6,1282.3 1493.6,1282.3 1483.7,1297 1483.7,1297 1483.7,1297 1491.6,1298.4 1491.6,1298.4 1507.3,1301 1507.3,1301 1507.3,1301 1513.1,1297.1 1513.1,1297.1 1513.1,1297.1 1513.2,1297.1 1513.2,1297.1 1513.2,1297.1 1513.2,1297.1 1513.3,1297.1 1513.3,1297.1 1513.3,1297.1 1513.3,1297.1 1513.3,1297.1 1513.4,1297.1 1523,1303.9 1523,1303.9 1523,1303.9 1523,1303.9 1523,1303.9 1523.1,1303.9 1523.1,1304 1523.1,1304 1523.1,1304 1525,1317.7 1525,1317.7 1525,1317.7 1526.9,1322.4 1526.9,1322.4 1526.9,1322.5 1526.9,1322.5 1526.9,1322.5 1526.9,1322.5 1526.9,1322.6 1526.9,1322.6 1526.9,1322.6 1526.9,1322.6 1526.9,1322.6 1526.9,1322.7 1526.9,1322.7 1526.8,1322.7 1526.8,1322.7 1521.1,1326.5 1521.1,1326.5 1521.1,1326.5 1535.8,1330.5 1535.8,1330.5 1535.9,1330.5 1550.6,1325.6 1550.6,1325.5 1550.6,1325.5 1560,1300.1 1560,1300.1 1560,1300 1560,1300 1560,1300 1560,1300 1560.1,1300 1560.1,1300 1600,1275 1600,1275 1600,1275 1612,1262 1612,1262 1612,1262 1608,1252 1608,1252 1608,1252 1590,1250 1590,1250 1560,1245 1560,1245 1560,1245 1560,1245 1560,1245 1546.2,1237.3 1546.2,1237.3 1546.2,1237.3 1546.2,1237.2 1546.1,1237.2 1546.1,1237.2 1546.1,1237.2 1546.1,1237.2 1546.1,1237.1 1546.1,1237.1 1546.1,1237.1 1546.1,1237.1 1546.1,1237 1546.1,1237 1546.1,1237 1546.1,1237 1546.1,1236.9 1546.1,1236.9 1555.3,1224.7 1555.3,1224.7 1567.7,1209.2 1567.7,1209.2 1567.7,1209.2 1567.7,1209.2 1580.1,1199.9 1580.1,1199.9 1592.5,1187.5 1592.5,1187.5 1592.6,1187.4 1598.7,1178.2 1598.7,1178.2 1598.8,1178.1 1598.8,1178.1 1598.8,1178.1 1598.8,1178.1 1629.8,1159.5 1629.8,1159.5 1629.8,1159.5 1636,1150.2 1636,1150.2 1636,1150.2 1636,1150.2 1636.1,1150.2 1636.1,1150.2 1654.6,1139.3 1654.6,1139.3 1654.7,1139.3 1654.7,1139.3 1654.7,1139.3 1663.7,1137.8 1663.8,1137.8 1663.8,1137.8 1663.8,1137.8 1663.8,1137.8 1663.9,1137.8 1663.9,1137.8 1663.9,1137.8 1663.9,1137.8 1664,1137.9 1664,1137.9 1664,1137.9 1664,1137.9 1664,1137.9 1664,1138 1664,1138 1665.5,1143.8 1665.5,1143.8 1665.5,1143.9 1665.5,1143.9 1665.5,1143.9 1665.5,1143.9 1665.5,1144 1665.5,1144 1665.5,1144 1665.4,1144 1665.4,1144.1 1665.4,1144.1 1654.7,1153.3 1654.7,1153.3 1654.7,1153.3 1645.3,1165.7 1645.3,1165.7 1642.3,1170.3 1642.3,1170.3 1642.2,1170.4 1642.2,1170.4 1642.2,1170.4 1629.8,1178.1 1629.8,1178.1 1629.8,1178.1 1636,1187.4 1636,1187.5 1636,1187.5 1654.6,1190.5 1654.6,1190.6 1654.6,1190.6 1654.7,1190.6 1654.7,1190.6 1654.7,1190.6 1654.7,1190.6 1660.5,1196.4 1660.5,1196.4 1660.6,1196.5 1660.6,1196.5 1660.6,1196.5 1660.6,1196.5 1660.6,1196.6 1660.6,1196.6 1660.6,1196.6 1660.6,1196.6 1660.6,1196.7 1660.6,1196.7 1660.6,1196.7 1660.6,1196.7 1660.6,1196.7 1660.5,1196.8 1660.5,1196.8 1660.5,1196.8 1660.5,1196.8 1660.5,1196.8 1660.4,1196.8 1660.4,1196.8 1660.4,1196.9 1651.6,1198.3 1651.6,1198.3 1651.6,1198.3 1651.6,1206 1651.6,1206 1651.5,1206.1 1651.5,1206.1 1651.5,1206.1 1651.5,1206.1 1651.5,1206.1 1642.2,1221.6 1642.2,1221.6 1636,1230.9 1636,1230.9 1636,1230.9 1617.4,1249.6 1617.4,1249.6 1617.4,1249.6 1621.8,1250 1621.8,1250 1621.9,1250 1621.9,1250 1621.9,1250 1621.9,1250 1622,1250 1622,1250.1 1622,1250.1 1622,1250.1 1622,1250.1 1622,1250.1 1622,1250.1 1622,1250.2 1625,1262 1625,1262 1625,1262 1650,1268 1650,1268 1700,1275 1700,1275 1700,1275 1750,1290 1750,1290 1800,1302 1800,1302 1800,1302 1800,1302 1813,1310 1813,1310 1813,1310 1813,1310 1813,1310 1835,1339.9 1835,1340 1835,1340 1835,1340 1835,1340 1835,1340.1 1835,1340.1 1836,1364 1836,1364 1836,1364 1836,1364 1830,1384.9 1830,1385 1830,1385 1830,1385 1830,1385 1830,1385 1829.9,1385 1803.1,1409.9 1803,1410 1803,1410 1803,1410 1803,1410 1802.9,1410 1802.9,1410 1766,1416 1766,1416 1766,1416 1754,1424 1754,1424 1754,1424 1720,1440 1720,1440 1720,1440 1680,1448 1680,1448 1680,1448 1680,1448 1620,1445 1620,1445 1620,1445 1570,1450 1570,1450 1570,1450 1532,1464 1532,1464 1532,1464 1518,1480 1518,1480 1518,1480 1518,1480 1518,1480 1480,1500 1480,1500 1454.1,1517 1454,1517 1454,1517 1454,1517 1454,1517 1453.9,1517 1434,1519 1434,1519 1434,1519 1421.8,1522.6 1421.8,1522.6 1421.8,1522.6 1421.8,1534 1421.8,1534 1421.8,1534 1436.5,1543.5 1436.5,1543.5 1436.5,1543.5 1452.5,1538.9 1452.5,1538.9 1452.5,1538.9 1452.6,1538.9 1452.6,1538.9 1452.6,1538.9 1452.6,1538.9 1452.7,1538.9 1452.7,1538.9 1452.7,1538.9 1452.7,1538.9 1452.7,1538.9 1452.8,1539 1452.8,1539 1452.8,1539 1452.8,1539 1452.8,1539 1452.8,1539.1 1452.8,1539.1 1452.8,1539.1 1452.8,1539.1 1452.8,1539.2 1452.8,1539.2 1452.8,1539.2 1452.8,1539.2 1452.8,1539.3 1452.7,1539.3 1452.7,1539.3 1452.7,1539.3 1452.7,1539.3 1440,1547.2 1440,1547.2 1440,1547.2 1427.8,1551.1 1427.8,1551.1 1427.8,1551.1 1419.9,1557 1419.9,1557 1419.9,1557 1427.4,1558.9 1427.5,1558.9 1427.5,1558.9 1427.5,1558.9 1427.5,1559 1427.5,1559 1427.6,1559 1427.6,1559 1427.6,1559 1427.6,1559.1 1427.6,1559.1 1427.6,1559.1 1427.6,1559.1 1427.6,1559.1 1427.6,1559.2 1427.6,1559.2 1427.6,1559.2 1427.6,1559.2 1427.6,1559.3 1427.6,1559.3 1427.6,1559.3 1423.9,1563.8 1423.9,1563.9 1423.9,1563.9 1423.9,1563.9 1423.9,1563.9 1423.8,1563.9 1423.8,1563.9 1423.8,1563.9 1423.8,1563.9 1394.4,1566.9 1394.4,1566.9 1390.5,1567.8 1390.5,1567.8 1390.4,1567.8 1390.4,1567.8 1390.4,1567.8 1390.4,1567.8 1386.5,1566.9 1386.5,1566.9 1386.5,1566.9 1382.6,1567.9 1382.6,1567.9 1382.6,1567.9 1378.6,1570.8 1378.6,1570.8 1378.6,1570.8 1382.4,1575.5 1382.4,1575.5 1382.4,1575.5 1382.4,1575.5 1382.4,1575.5 1382.4,1575.6 1382.4,1575.6 1382.4,1575.6 1382.4,1575.6 1382.4,1575.7 1382.4,1575.7 1382.4,1575.7 1382.4,1575.7 1382.4,1575.8 1382.3,1575.8 1382.3,1575.8 1382.3,1575.8 1382.3,1575.8 1382.3,1575.8 1382.2,1575.8 1374.8,1578.6 1374.7,1578.7 1374.7,1578.7 1374.7,1578.7 1374.7,1578.7 1374.6,1578.7 1374.6,1578.7 1362.9,1575.7 1362.9,1575.7 1362.9,1575.7 1349.1,1578.7 1349.1,1578.7 1349.1,1578.7 1339.3,1584.6 1339.3,1584.6 1339.3,1584.6 1335.4,1594.4 1335.4,1594.4 1332.4,1602.2 1332.4,1602.3 1332.4,1602.3 1332.4,1602.3 1328.5,1607.2 1328.5,1607.2 1328.5,1607.2 1329.5,1618 1329.5,1618 1329.5,1618 1328.5,1629.8 1328.5,1629.8 1328.5,1629.8 1343.2,1625.9 1343.2,1625.9 1343.2,1625.9 1355,1620 1355,1620 1355,1620 1355,1620 1355.1,1620 1355.1,1620 1359.7,1620 1359.7,1620 1359.7,1620 1359.7,1620 1359.8,1620 1359.8,1620 1359.8,1620 1359.8,1620 1359.8,1620.1 1359.9,1620.1 1359.9,1620.1 1359.9,1620.1 1359.9,1620.1 1359.9,1620.2 1359.9,1620.2 1359.9,1620.2 1359.9,1620.2 1359.9,1620.3 1359,1627.8 1359,1627.8 1359,1627.8 1359,1627.8 1358.9,1627.9 1358.9,1627.9 1358.9,1627.9 1358.9,1627.9 1353.1,1633.7 1353.1,1633.7 1353.1,1633.8 1357,1637.7 1357,1637.7 1362.7,1644.4 1362.7,1644.4 1362.8,1644.4 1362.8,1644.4 1362.8,1644.4 1362.8,1644.5 1362.8,1644.5 1362.8,1644.5 1362.8,1644.5 1362.8,1644.6 1362.8,1644.6 1362.8,1644.6 1362.8,1644.6 1362.7,1644.7 1362.7,1644.7 1362.7,1644.7 1362.7,1644.7 1362.7,1644.7 1359,1647.5 1359,1647.5 1359,1647.5 1368.6,1647.5 1368.6,1647.5 1368.7,1647.5 1368.7,1647.5 1368.7,1647.5 1368.7,1647.5 1368.8,1647.6 1368.8,1647.6 1368.8,1647.6 1368.8,1647.6 1368.8,1647.6 1368.8,1647.6 1368.8,1647.7 1368.9,1647.7 1370.7,1653.2 1370.7,1653.2 1370.7,1653.3 1370.7,1653.3 1370.7,1653.3 1370.7,1653.3 1370.7,1653.4 1370.7,1653.4 1370.7,1653.4 1370.7,1653.4 1370.7,1653.4 1370.6,1653.5 1370.6,1653.5 1370.6,1653.5 1370.6,1653.5 1370.6,1653.5 1366.8,1655.4 1366.8,1655.4 1366.8,1655.4 1362.9,1663.2 1362.9,1663.3 1362.9,1663.3 1366.8,1667.2 1370.8,1671.1 1370.8,1671.1 1370.8,1671.1 1373.2,1670.1 1373.2,1670.1 1373.2,1670.1 1373.2,1670.1 1373.3,1670.1 1373.3,1670.1 1373.3,1670.1 1373.3,1670.1 1373.3,1670.1 1373.4,1670.1 1373.4,1670.1 1373.4,1670.1 1373.4,1670.1 1373.4,1670.2 1373.5,1670.2 1373.5,1670.2 1373.5,1670.2 1373.5,1670.2 1373.5,1670.3 1373.5,1670.3 1373.5,1670.3 1373.5,1670.3 1373.5,1670.4 1373.5,1670.4 1373.5,1670.4 1373.5,1670.4 1373.5,1670.5 1373.5,1670.5 1373.4,1670.5 1373.4,1670.5 1373.4,1670.5 1373.4,1670.5 1368.8,1673.1 1368.8,1673.1 1362.9,1677 1362.9,1677 1359.2,1678.9 1359.2,1678.9 1359.1,1678.9 1359.1,1678.9 1359.1,1678.9 1359.1,1678.9 1359,1678.9 1359,1678.9 1359,1678.9 1359,1678.9 1359,1678.9 1358.9,1678.9 1358.9,1678.8 1358.9,1678.8 1358.9,1678.8 1358.9,1678.8 1358.9,1678.8 1355,1671.1 1355,1671.1 1353.1,1666.2 1353.1,1666.2 1353.1,1666.2 1348.2,1665.2 1348.1,1665.2 1348.1,1665.2 1347.2,1669.1 1347.2,1669.2 1347.2,1669.2 1352,1674.9 1352,1674.9 1352,1675 1352,1675 1352,1675 1352,1675 1352,1675 1352,1675.1 1352,1675.1 1352,1675.1 1352,1675.1 1352,1675.2 1352,1675.2 1352,1675.2 1347.2,1682.9 1347.2,1682.9 1347.2,1682.9 1355,1684.9 1355,1684.9 1355,1684.9 1360.8,1681.1 1360.8,1681 1360.8,1681 1360.8,1681 1360.9,1681 1360.9,1681 1360.9,1681 1360.9,1681 1361,1681 1361,1681 1361,1681 1361,1681 1361.1,1681 1361.1,1681.1 1364.9,1683.9 1364.9,1683.9 1372.7,1690.8 1372.7,1690.8 1372.7,1690.8 1378.6,1687.9 1378.6,1687.9 1378.6,1687.9 1378.6,1687.9 1378.6,1687.9 1378.7,1687.8 1378.7,1687.9 1378.7,1687.9 1387.3,1689.8 1387.3,1689.8 1387.3,1689.8 1387.4,1689.8 1387.4,1689.8 1387.4,1689.8 1387.4,1689.8 1387.4,1689.9 1387.5,1689.9 1387.5,1689.9 1387.5,1689.9 1387.5,1689.9 1387.5,1690 1387.5,1690 1388.5,1704.4 1388.5,1704.4 1388.5,1704.4 1388.4,1704.4 1388.4,1704.5 1388.4,1704.5 1388.4,1704.5 1388.4,1704.5 1388.4,1704.5 1388.4,1704.6 1388.4,1704.6 1388.3,1704.6 1388.3,1704.6 1388.3,1704.6 1382.6,1706.5 1382.6,1706.5 1382.6,1706.5 1392.2,1708.5 1392.2,1708.5 1392.3,1708.5 1392.3,1708.5 1392.3,1708.5 1392.3,1708.5 1392.4,1708.5 1392.4,1708.5 1392.4,1708.6 1392.4,1708.6 1392.4,1708.6 1392.4,1708.6 1392.4,1708.6 1392.4,1708.7 1393.4,1716.3 1393.4,1716.4 1393.4,1716.4 1400,1717.3 1400,1717.3 1400.1,1717.3 1400.1,1717.3 1400.1,1717.3 1400.1,1717.4 1400.1,1717.4 1400.2,1717.4 1400.2,1717.4 1400.2,1717.4 1400.2,1717.4 1400.2,1717.5 1400.2,1717.5 1400.2,1717.5 1400.2,1717.5 1400.2,1717.6 1400.2,1717.6 1399.3,1723.2 1399.3,1723.2 1399.3,1723.2 1405.8,1722.3 1405.8,1722.3 1405.8,1722.3 1405.9,1722.3 1405.9,1722.3 1405.9,1722.3 1405.9,1722.3 1406,1722.3 1406,1722.4 1406,1722.4 1406,1722.4 1406,1722.4 1406,1722.4 1406.1,1722.5 1406.1,1722.5 1406.1,1722.5 1406.1,1722.5 1406.1,1722.6 1406.1,1722.6 1406.1,1722.6 1406.1,1722.6 1404.3,1728.9 1404.3,1729 1404.2,1729 1404.2,1729 1404.2,1729 1404.2,1729 1404.2,1729.1 1404.2,1729.1 1404.1,1729.1 1404.1,1729.1 1404.1,1729.1 1404.1,1729.1 1404,1729.1 1404,1729.1 1404,1729.1 1396.3,1728.2 1396.3,1728.2 1396.3,1728.2 1394.4,1732.1 1394.4,1732.1 1394.4,1732.1 1396.3,1736 1396.3,1736 1396.3,1736 1406.2,1735 1406.2,1735 1406.2,1735 1414,1732.1 1414,1732.1 1414.1,1732.1 1425.8,1730.1 1425.8,1730.1 1425.8,1730.1 1433.7,1726.2 1433.7,1726.2 1433.7,1726.2 1433.7,1726.2 1433.7,1726.2 1433.8,1726.2 1439.3,1726.2 1439.4,1726.2 1439.4,1726.2 1439.4,1726.2 1439.4,1726.2 1439.5,1726.2 1439.5,1726.2 1439.5,1726.2 1439.5,1726.3 1439.5,1726.3 1439.6,1726.3 1439.6,1726.3 1439.6,1726.3 1439.6,1726.4 1439.6,1726.4 1439.6,1726.4 1439.6,1726.4 1439.6,1726.5 1439.6,1726.5 1439.6,1726.5 1439.6,1726.5 1439.6,1726.6 1439.5,1726.6 1439.5,1726.6 1439.5,1726.6 1439.5,1726.6 1439.5,1726.7 1429.5,1733.1 1429.5,1733.1 1429.5,1733.1 1428,1737.8 1428,1737.8 1428,1737.8 1434.1,1733.2 1434.1,1733.1 1434.1,1733.1 1434.2,1733.1 1434.2,1733.1 1434.2,1733.1 1434.2,1733.1 1434.2,1733.1 1449.6,1733.1 1449.7,1733.1 1449.7,1733.1 1449.7,1733.1 1449.7,1733.1 1449.7,1733.1 1459,1737.8 1459,1737.8 1459,1737.8 1462,1733.3 1462,1733.2 1462,1733.2 1462.1,1733.2 1462.1,1733.2 1462.1,1733.2 1462.1,1733.2 1462.1,1733.2 1462.2,1733.1 1462.2,1733.1 1462.2,1733.1 1462.2,1733.1 1462.3,1733.1 1462.3,1733.1 1468.2,1734.6 1468.2,1734.6 1468.2,1734.6 1468.2,1734.7 1468.3,1734.7 1468.3,1734.7 1468.3,1734.7 1468.3,1734.7 1468.3,1734.7 1468.3,1734.8 1468.4,1734.8 1468.4,1734.8 1471.4,1747.1 1471.4,1747.1 1471.4,1747.1 1483.8,1751.7 1483.9,1751.7 1483.9,1751.7 1493.2,1750.2 1493.2,1750.2 1493.2,1750.2 1511.8,1740.9 1511.8,1740.9 1511.8,1740.9 1511.8,1740.9 1524.2,1739.3 1524.2,1739.3 1524.2,1739.3 1522.7,1725.4 1522.7,1725.4 1522.7,1725.3 1522.7,1725.3 1525.7,1708.4 1525.7,1708.4 1525.8,1708.4 1525.8,1708.4 1525.8,1708.4 1525.8,1708.3 1525.8,1708.3 1525.8,1708.3 1525.8,1708.3 1525.9,1708.3 1525.9,1708.3 1525.9,1708.3 1525.9,1708.2 1526,1708.2 1549,1706.1 1549.1,1706.1 1549.1,1706.1 1580.1,1709.8 1580.1,1709.8 1580.1,1709.8 1580.1,1709.8 1580.1,1709.8 1580.2,1709.8 1580.2,1709.9 1594.1,1720.7 1594.1,1720.7 1594.1,1720.7 1614.3,1725.3 1614.3,1725.3 1614.3,1725.3 1617.3,1719.2 1617.4,1719.2 1617.4,1719.2 1617.4,1719.2 1617.4,1719.1 1617.4,1719.1 1617.4,1719.1 1617.5,1719.1 1617.5,1719.1 1642.2,1711.4 1642.2,1711.4 1642.2,1711.4 1648.4,1700.6 1648.4,1700.6 1648.4,1700.5 1648.4,1700.5 1648.5,1700.5 1648.5,1700.5 1648.5,1700.5 1648.5,1700.5 1656.2,1697.4 1656.2,1697.4 1656.2,1697.4 1657.8,1686.6 1657.8,1686.6 1657.8,1686.5 1657.8,1686.5 1657.8,1686.5 1657.8,1686.5 1670.1,1668 1670.1,1668 1670.2,1667.9 1670.2,1667.9 1670.2,1667.9 1670.2,1667.9 1670.2,1667.9 1670.3,1667.9 1670.3,1667.9 1679.5,1666.3 1679.5,1666.3 1679.5,1666.3 1679.5,1666.3 1701.2,1669.4 1701.2,1669.4 1701.2,1669.4 1710.6,1666.3 1710.6,1666.3 1710.6,1666.3 1707.6,1658.8 1707.6,1658.8 1707.5,1658.8 1707.5,1658.8 1707.5,1658.7 1707.5,1658.7 1707.5,1658.7 1707.6,1658.7 1707.6,1658.6 1707.6,1658.6 1707.6,1658.6 1707.6,1658.6 1707.6,1658.6 1707.6,1658.5 1707.7,1658.5 1707.7,1658.5 1707.7,1658.5 1707.7,1658.5 1713.7,1657 1713.7,1657 1713.7,1657 1721.3,1644.8 1721.3,1644.8 1721.3,1644.8 1721.4,1644.7 1721.4,1644.7 1721.4,1644.7 1721.4,1644.7 1721.4,1644.7 1721.5,1644.7 1721.5,1644.7 1721.5,1644.7 1721.5,1644.7 1721.6,1644.7 1721.6,1644.7 1721.6,1644.7 1721.6,1644.7 1730.6,1649.2 1730.7,1649.2 1730.7,1649.2 1730.7,1649.2 1730.7,1649.3 1730.7,1649.3 1730.7,1649.3 1730.8,1649.3 1730.8,1649.4 1730.8,1649.4 1732.3,1656.9 1732.3,1656.9 1732.3,1657 1732.3,1657 1732.3,1657 1732.3,1657 1732.3,1657.1 1732.3,1657.1 1732.2,1657.1 1726.1,1666.3 1726.1,1666.3 1721.4,1674.1 1721.4,1674.1 1721.4,1674.1 1729.2,1688 1729.2,1688.1 1729.2,1688.1 1729.2,1688.1 1729.2,1688.1 1730.7,1702 1730.7,1702 1730.7,1702.1 1741.6,1722.2 1741.6,1722.2 1741.6,1722.2 1741.6,1722.3 1744.7,1737.8 1744.7,1737.8 1744.7,1737.8 1750.9,1753.2 1750.9,1753.2 1750.9,1753.2 1750.9,1753.3 1750.9,1753.3 1750.9,1753.3 1750.9,1753.3 1750.9,1753.3 1750.9,1753.4 1750.9,1753.4 1743.2,1768.8 1743.2,1768.8 1743.2,1768.8 1744.7,1785.9 1744.7,1785.9 1744.7,1785.9 1741.6,1806.1 1741.6,1806.1 1741.6,1806.1 1743.2,1827.7 1743.2,1827.7 1743.2,1827.8 1743.2,1827.8 1743.1,1827.8 1743.1,1827.8 1743.1,1827.8 1743.1,1827.9 1743.1,1827.9 1743.1,1827.9 1740.1,1830.9 1740.1,1830.9 1740.1,1830.9 1741.6,1840.2 1741.6,1840.2 1741.6,1840.3 1741.6,1840.3 1738.5,1871.3 1738.5,1871.3 1738,1882 1738,1882 1738,1882 2012,1882 2012,1882 2012,1882 2012,1199.9 2012,1199.9 2012,1199.9 2000,1199.9 2000,1199.9 2000,1199.9 2000,1199.9 1990.1,1196.8 1990.1,1196.8 1990.1,1196.8 1990.1,1196.8 1990.1,1196.8 1990,1196.7 1990,1196.7 1990,1196.7 1977.7,1178.2 1977.6,1178.1 1977.6,1178.1 1977.6,1178.1 1974.5,1165.7 1974.5,1165.7 1974.5,1165.7 1962.1,1156.4 1962.1,1156.4 1962.1,1156.4 1946.6,1153.3 1946.6,1153.3 1946.6,1153.3 1946.6,1153.3 1946.6,1153.3 1946.5,1153.3 1934.3,1144.1 1934.3,1144 1934.2,1144 1934.2,1144 1934.2,1144 1934.2,1144 1934.2,1143.9 1934.2,1143.9 1934.2,1143.9 1934.2,1143.9 1934.2,1143.9 1934.2,1143.8 1937.3,1122.2 1937.3,1122.2 1940.4,1097.4 1940.4,1097.4 1940.4,1097.4 1934.3,1085.2 1934.3,1085.2 1934.3,1085.1 1934.3,1085.1 1934.2,1085.1 1934.2,1085.1 1934.2,1085 1934.3,1085 1934.3,1085 1934.3,1085 1934.3,1085 1934.3,1084.9 1934.3,1084.9 1934.3,1084.9 1934.3,1084.9 1934.4,1084.9 1934.4,1084.9 1946.6,1078.8 1946.6,1078.8 1946.6,1078.8 1955.9,1054 1955.9,1054 1955.9,1053.9 1955.9,1053.9 1955.9,1053.9 1955.9,1053.9 1956,1053.9 1965.2,1047.7 1965.2,1047.7 1965.2,1047.7 1962.1,1035.4 1962.1,1035.3 1962.1,1035.3 1962.1,1035.3 1962.1,1035.3 1962.1,1035.2 1962.1,1035.2 1968.3,1016.7 1968.3,1016.7 1968.3,1016.7 1968.3,1016.6 1968.3,1016.6 1968.4,1016.6 1980.7,1004.2 1980.7,1004.2 1980.7,1004.2 1990.1,988.7 1990.1,988.7 1999.9,967.1 1999.9,967.1 2000,967.1 2000,967 2000,967 2000,967 2000,967 2000,967 2000.1,967 2000.1,967 2000.1,967 2000.1,967 2000.2,967 2012,967 2012,967 2012,967 2012,-8 2012,-8 2012,-8 1534.5,-8 1534.5,-8 1534.5,-8 1535.1,7.7 1535.1,7.8 1535.1,7.8 1535.1,7.8 1535.1,7.8 1535.1,7.9 1535.1,7.9 1535.1,7.9 1535.1,7.9 1535.1,7.9 1535,8 1535,8 1535,8 1535,8 1535,8 1527.1,9.9 1527,9.9 1527,9.9 1527,9.9 1527,9.9 1526.9,9.9 1526.9,9.9 1526.9,9.9 1526.9,9.9 1526.9,9.9 1522.1,6.3 1522.1,6.3 1522,6.2 1522,6.2 1522,6.2 1522,6.2 1522,6.2 1522,6.1 1522,6.1 1522,6.1 1520.9,-8 1520.9,-8 1520.9,-8 1502,-8 1502,-8 1502,-8 1502.1,-0 1502.1,-0 1502.1,0 1499.6,11.1 1499.6,11.1 1499.6,11.2 1499.6,11.2 1499.6,11.2 1499.6,11.2 1492.2,19.9 1492.2,19.9 1492.2,19.9 1496.9,18.7 1496.9,18.7 1496.9,18.7 1496.9,18.7 1497,18.7 1497,18.7 1497,18.7 1497,18.7 1497.1,18.7 1497.1,18.7 1497.1,18.8 1497.1,18.8 1497.1,18.8 1497.1,18.8 1497.2,18.8 1497.2,18.9 1497.2,18.9 1497.2,18.9 1498.4,27.1 1498.4,27.2 1498.4,27.2 1498.4,27.2 1498.4,27.2 1498.3,27.3 1498.3,27.3 1498.3,27.3 1498.3,27.3 1498.3,27.4 1498.3,27.4 1498.3,27.4 1498.2,27.4 1498.2,27.4 1477.3,37.3 1477.3,37.3 1477.3,37.3 1473.5,52.2 1473.5,52.2 1473.5,52.2 1474.8,62.1 1474.8,62.1 1474.8,62.1 1478.2,66.7 1478.2,66.7 1478.2,66.7 1478.2,66.7 1478.2,66.7 1478.2,66.8 1478.2,66.8 1478.2,66.8 1478.2,66.8 1478.2,66.9 1478.2,66.9 1478.2,66.9 1478.2,66.9 1478.2,67 1478.2,67 1478.2,67 1478.1,67 1478.1,67 1478.1,67 1478.1,67 1478.1,67 1478,67.1 1478,67.1 1478,67.1 1468.6,66.6 1468.6,66.6 1468.6,66.6 1470.2,78.3 1470.2,78.4 1470.2,78.4 1470.2,78.4 1470.2,78.4 1470.2,78.5 1470.2,78.5 1470.2,78.5 1470.2,78.5 1470.1,78.5 1470.1,78.6 1470.1,78.6 1470.1,78.6 1470.1,78.6 1470,78.6 1470,78.6 1470,78.6 1470,78.6 1469.9,78.6 1469.9,78.6 1469.9,78.6 1469.9,78.6 1469.8,78.6 1469.8,78.6 1469.8,78.6 1469.8,78.6 1469.8,78.5 1469.8,78.5 1469.7,78.5 1469.7,78.5 1469.7,78.4 1469.7,78.4 1468.6,73.3 1468.6,73.3 1468.6,73.3 1456.2,82 1456.1,82 1456.1,82 1454.1,85.1 1454.1,85.1 1454,85.1 1454,85.1 1454,85.2 1454,85.2 1454,85.2 1453.9,85.2 1453.9,85.2 1453.9,85.2 1453.9,85.2 1453.8,85.2 1453.8,85.2 1453.8,85.2 1453.8,85.2 1453.7,85.2 1453.7,85.2 1453.7,85.1 1453.7,85.1 1453.7,85.1 1453.7,85.1 1453.6,85.1 1453.6,85 1453.6,85 1453.6,85 1453.6,85 1453.2,77.1 1453.2,77.1 1453.2,77 1453.2,77 1453.2,77 1453.2,77 1453.2,77 1458.6,68.3 1458.6,68.3 1458.6,68.3 1454.9,65.1 1454.9,65.1 1454.9,65.1 1448.9,64.1 1448.8,64.1 1448.8,64.1 1448.8,64.1 1448.8,64.1 1448.7,64.1 1448.7,64.1 1448.7,64 1448.7,64 1448.7,64 1448.7,64 1448.7,63.9 1445.7,54.2 1445.7,54.2 1445.7,54.2 1439.2,54.2 1439.2,54.2 1439.2,54.2 1439.1,54.2 1439.1,54.1 1439.1,54.1 1439.1,54.1 1439.1,54.1 1439,54.1 1439,54.1 1439,54.1 1439,54 1439,54 1439,54 1439,54 1439,53.9 1439,53.9 1439,53.9 1439,53.9 1439,53.8 1439,53.8 1439,53.8 1439,53.8 1448.2,39.8 1448.2,39.8 1448.2,39.8 1436.3,55.9 1436.3,55.9 1436.3,55.9 1432.6,74.5 1432.5,74.5 1432.5,74.5 1432.5,74.6 1430.1,79.5 1430.1,79.5 1430.1,79.5 1438.5,79 1438.5,79 1438.5,79 1438.6,79 1438.6,79 1438.6,79 1438.6,79.1 1438.7,79.1 1438.7,79.1 1438.7,79.1 1438.7,79.1 1438.7,79.1 1438.7,79.2 1438.7,79.2 1438.7,79.2 1438.8,79.2 1438.8,79.2 1438.8,79.3 1438.8,88.7 1438.8,88.7 1438.8,88.7 1438.7,88.7 1438.7,88.7 1438.7,88.8 1438.7,88.8 1438.7,88.8 1438.7,88.8 1438.7,88.8 1438.7,88.9 1438.6,88.9 1438.6,88.9 1438.6,88.9 1438.6,88.9 1438.5,88.9 1438.5,88.9 1438.5,88.9 1438.5,88.9 1433.8,88.2 1433.8,88.2 1433.8,88.2 1425.1,91.9 1425.1,91.9 1425.1,91.9 1419.1,101.5 1419.1,101.5 1419.1,101.6 1419.1,101.6 1419,101.6 1419,101.6 1419,101.6 1419,101.6 1418.9,101.6 1418.9,101.6 1418.9,101.6 1418.9,101.6 1418.8,101.6 1418.8,101.6 1418.8,101.6 1418.8,101.6 1418.8,101.6 1418.7,101.6 1418.7,101.6 1418.7,101.6 1418.7,101.5 1418.7,101.5 1415.2,95.7 1415.2,95.7 1415.2,95.7 1406.5,136.5 1406.5,136.6 1406.5,136.6 1406.5,136.6 1406.4,136.6 1406.4,136.6 1406.4,136.7 1406.4,136.7 1406.4,136.7 1406.4,136.7 1397,141.6 1397,141.6 1397,141.6 1411,148.4 1411,148.4 1411,148.4 1411,148.4 1411.1,148.4 1411.1,148.4 1411.1,148.5 1411.1,148.5 1411.1,148.5 1411.1,148.5 1411.1,148.6 1411.1,148.6 1411.1,148.6 1411.1,148.6 1411.1,148.7 1411.1,148.7 1411.1,148.7 1411.1,148.7 1411.1,148.7 1411.1,148.8 1411,148.8 1411,148.8 1411,148.8 1394,157.8 1394,157.8 1394,157.8 1394.5,164 1394.5,164 1394.5,164 1401.4,167.6 1401.4,167.7 1401.4,167.7 1401.4,167.7 1401.5,167.7 1401.5,167.7 1401.5,167.7 1401.5,167.8 1401.5,167.8 1401.5,167.8 1404,181.4 1404,181.4 1404,181.4 1407.6,188.7 1407.6,188.7 1407.7,188.7 1407.7,188.8 1407.7,188.8 1407.7,188.8 1407.7,188.8 1407.7,188.9 1407.7,188.9 1407.6,188.9 1407.6,188.9 1401.5,198.8 1401.5,198.8 1394.1,211.1 1394.1,211.1 1394.1,211.1 1394.1,211.1 1394,211.1 1394,211.2 1394,211.2 1394,211.2 1394,211.2 1393.9,211.2 1393.9,211.2 1387.9,211.7 1387.9,211.7 1387.9,211.7 1387.8,211.7 1387.8,211.7 1387.8,211.6 1387.8,211.6 1374.2,203.7 1374.2,203.7 1366.7,200 1366.7,200 1366.7,200 1355.7,198.3 1355.7,198.3 1355.6,198.3 1355.6,198.3 1355.6,198.3 1355.6,198.2 1355.6,198.2 1355.5,198.2 1355.5,198.2 1355.5,198.2 1355.5,198.1 1355.5,198.1 1355.5,198.1 1353.8,191.4 1353.8,191.3 1353.8,191.3 1353.8,191.3 1353.8,191.3 1353.8,191.2 1355.5,185.1 1355.5,185.1 1355.5,185.1 1353.1,180.3 1353.1,180.3 1353.1,180.3 1353.1,180.2 1353.1,180.2 1353.1,180.2 1353.1,180.2 1353.1,180.1 1353.1,180.1 1353.1,180.1 1353.1,180.1 1353.1,180.1 1353.2,180 1353.2,180 1353.2,180 1370.4,165.2 1370.4,165.2 1370.4,165.2 1371.2,161.5 1371.2,161.5 1371.2,161.5 1361.7,153.5 1361.7,153.5 1361.7,153.5 1341.9,144.1 1341.9,144.1 1341.9,144.1 1312.1,157 1312.1,157 1312,157 1312,157 1312,157 1296.7,157.8 1296.6,157.8 1296.7,157.8 1319.4,166.9 1319.4,166.9 1319.5,166.9 1319.5,167 1319.5,167 1319.5,167 1319.5,167 1319.5,167 1325.7,177.6 1325.7,177.6 1330.7,185.1 1330.7,185.1 1330.7,185.1 1330.7,185.1 1330.7,185.1 1335.7,206.2 1335.7,206.2 1335.7,206.2 1339.4,213.2 1339.4,213.2 1339.4,213.2 1359.2,222.3 1359.2,222.3 1359.2,222.4 1359.2,222.4 1359.3,222.4 1359.3,222.4 1359.3,222.4 1363,228.6 1363,228.6 1369.2,242.2 1369.2,242.2 1369.2,242.3 1371.7,253.4 1371.7,253.4 1371.7,253.4 1378.6,266.8 1378.6,266.9 1378.6,266.9 1378.6,266.9 1378.6,266.9 1378.6,267 1378.6,267 1378.6,267 1378.6,267 1378.6,267.1 1378.6,267.1 1378.6,267.1 1378.6,267.1 1378.6,267.1 1378.6,267.2 1378.5,267.2 1378.5,267.2 1378.5,267.2 1378.5,267.2 1378.4,267.2 1378.4,267.2 1378.4,267.2 1378.4,267.2 1378.3,267.2 1378.3,267.2 1378.3,267.2 1378.3,267.2 1378.2,267.2 1366.7,258.4 1366.7,258.4 1366.7,258.4 1363.1,269.2 1363.1,269.2 1363.1,269.2 1363.1,269.2 1363.1,269.3 1363,269.3 1363,269.3 1363,269.3 1363,269.3 1363,269.3 1362.9,269.3 1362.9,269.3 1362.9,269.4 1362.9,269.4 1362.8,269.4 1362.8,269.3 1362.8,269.3 1362.8,269.3 1362.8,269.3 1362.7,269.3 1362.7,269.3 1362.7,269.3 1360.6,267.2 1360.6,267.2 1360.6,267.1 1360.5,267.1 1360.5,267.1 1360.5,267.1 1360.5,267 1360.5,267 1360.5,267 1360.5,267 1361.7,258.4 1361.7,258.4 1361.7,258.4 1350.6,253.4 1350.6,253.4 1350.6,253.4 1340.7,259.6 1340.7,259.6 1340.7,259.6 1340.6,259.6 1340.6,259.6 1340.6,259.6 1340.6,259.6 1340.5,259.6 1330.7,257.9 1330.7,257.9 1330.7,257.9 1328.2,283.2 1328.2,283.2 1328.2,283.2 1328.2,283.3 1328.2,283.3 1319.5,298.1 1319.5,298.1 1319.5,298.1 1314.5,310.6 1314.5,310.6 1310.3,319.2 1310.3,319.3 1310.3,319.3 1313.3,327.9 1313.3,328 1313.3,328 1324.5,339.1 1324.5,339.1 1339.4,350.3 1339.4,350.3 1339.4,350.3 1345.3,357.4 1345.3,357.5 1345.3,357.5 1345.4,357.5 1345.4,357.5 1345.4,357.5 1345.4,357.6 1345.4,357.6 1345.4,357.6 1345.4,357.6 1345.4,357.7 1345.4,357.7 1345.3,357.7 1345.3,357.7 1345.3,357.8 1345.3,357.8 1345.3,357.8 1345.3,357.8 1345.2,357.8 1345.2,357.8 1345.2,357.8 1345.2,357.8 1331.9,360.2 1331.9,360.2 1331.9,360.3 1329.5,365.1 1329.5,365.1 1329.5,365.1 1329.5,365.1 1329.4,365.2 1329.4,365.2 1329.4,365.2 1329.4,365.2 1329.4,365.2 1329.3,365.2 1329.3,365.2 1329.3,365.2 1302.1,365.7 1302.1,365.7 1302.1,365.7 1299.3,372.8 1299.3,372.8 1299.3,372.8 1299.3,372.9 1299.3,372.9 1299.2,372.9 1299.2,372.9 1299.2,372.9 1299.2,372.9 1299.2,372.9 1299.1,372.9 1299.1,372.9 1299.1,372.9 1299.1,372.9 1299,372.9 1299,372.9 1299,372.9 1299,372.9 1299,372.9 1298.9,372.9 1298.9,372.9 1298.9,372.9 1298.9,372.8 1298.9,372.8 1298.9,372.8 1298.8,372.8 1298.8,372.8 1298.8,372.7 1298.8,372.7 1298.8,372.7 1298.8,372.7 1300.9,361.5 1300.9,361.5 1300.9,361.5 1293.5,363.2 1293.5,363.2 1293.4,363.2 1293.4,363.2 1293.4,363.2 1293.4,363.2 1269.8,357.8 1269.8,357.8 1269.8,357.8 1264.8,362.7 1264.8,362.7 1264.8,362.7 1267.3,370.1 1267.3,370.1 1267.3,370.1 1267.3,370.1 1267.3,370.2 1267.3,370.2 1267.3,370.2 1267.3,370.2 1267.3,370.2 1267.3,370.3 1267.3,370.3 1263.6,375.2 1263.6,375.2 1263.6,375.2 1271.1,382.6 1271.1,382.6 1271.1,382.6 1287.2,392.5 1287.2,392.5 1287.2,392.5 1299.5,387.1 1299.5,387.1 1299.6,387.1 1299.6,387.1 1299.6,387.1 1299.6,387.1 1299.7,387.1 1299.7,387.1 1299.7,387.1 1299.7,387.1 1305,390 1305,390 1305,390 1305.1,390.1 1305.1,390.1 1305.1,390.1 1305.1,390.1 1305.1,390.1 1305.1,390.2 1307.1,396.3 1307.1,396.3 1307.1,396.3 1314.4,407.3 1314.4,407.3 1314.4,407.3 1314.4,407.3 1314.4,407.3 1314.4,407.4 1314.4,407.4 1314.4,407.4 1314.4,407.4 1314.4,407.5 1314.4,407.5 1314.4,407.5 1314.4,407.5 1314.4,407.5 1314.4,407.6 1314.4,407.6 1314.3,407.6 1302.2,416.1 1302.2,416.1 1302.1,416.1 1302.1,416.1 1302.1,416.1 1302.1,416.1 1302,416.1 1279.1,416.1 1279.1,416.1 1279.1,416.1 1279,416.1 1279,416.1 1279,416.1 1279,416.1 1275.1,413.7 1275.1,413.7 1275.1,413.7 1275.1,413.7 1273.5,411.9 1273.5,411.9 1273.5,411.9 1267.4,411.2 1267.4,411.2 1267.4,411.2 1267.3,411.2 1267.3,411.2 1267.3,411.1 1267.3,411.1 1267.3,411.1 1265.5,409.1 1265.5,409.1 1263,405.4 1263,405.4 1263,405.4 1256.8,404.3 1256.8,404.3 1256.8,404.3 1256.5,404.5 1256.5,404.5 1256.5,404.5 1256.4,404.5 1256.4,404.5 1256.4,404.5 1256.4,404.5 1256.2,404.5 1256.1,404.5 1256.1,404.5 1254.3,405.6 1254.3,405.6 1250.7,407.4 1250.7,407.4 1250.6,407.4 1250.6,407.4 1250.6,407.4 1250.6,407.4 1250.5,407.4 1250.5,407.4 1239.4,405.4 1239.4,405.4 1239.3,405.4 1239.3,405.4 1239.3,405.4 1239.3,405.3 1239.3,405.3 1239.2,405.3 1239.2,405.3 1239.2,405.3 1239.2,405.3 1239.2,405.2 1239.2,405.2 1239.2,405.2 1238.2,397.1 1238.2,397.1 1238.2,397.1 1227.8,374.3 1227.8,374.3 1227.8,374.3 1218.6,368.2 1218.6,368.2 1218.6,368.1 1218.6,368.1 1218.6,368.1 1218.6,368.1 1218.5,368.1 1218.5,368 1218.5,368 1218.5,368 1218.5,368 1218.5,367.9 1219.5,357.7 1219.5,357.7 1219.5,357.7 1214.6,349.8 1214.6,349.8 1214.6,349.8 1214.6,349.8 1214.6,349.8 1214.6,349.7 1214.6,349.7 1214.6,349.7 1214.6,349.7 1214.6,349.6 1214.6,349.6 1214.6,349.6 1214.6,349.6 1214.6,349.6 1214.6,349.5 1214.7,349.5 1214.7,349.5 1214.7,349.5 1214.7,349.5 1214.7,349.5 1214.8,349.5 1214.8,349.5 1214.8,349.5 1218.5,349.5 1218.5,349.5 1218.5,349.5 1211.3,343.3 1211.3,343.2 1196.8,331.9 1196.8,331.9 1196.8,331.9 1180.8,333.9 1180.8,333.9 1180.8,333.9 1180.7,333.9 1180.7,333.9 1180.7,333.8 1180.7,333.8 1180.7,333.8 1180.6,333.8 1180.6,333.8 1180.6,333.8 1180.6,333.8 1180.6,333.7 1180.6,333.7 1180.5,333.7 1180.5,333.7 1180.5,333.6 1180.5,333.6 1180.5,333.6 1180.5,333.6 1180.5,333.5 1180.6,333.5 1180.6,333.5 1180.6,333.5 1180.6,333.5 1184.3,328.8 1184.3,328.8 1184.3,328.8 1168.5,325.8 1168.5,325.8 1168.5,325.8 1168.4,325.8 1168.4,325.8 1168.4,325.7 1168.4,325.7 1168.4,325.7 1168.4,325.7 1168.3,325.7 1168.3,325.6 1168.3,325.6 1168.3,325.6 1168.3,325.6 1168.3,325.5 1168.3,325.5 1168.3,325.5 1168.3,325.5 1168.3,325.4 1168.3,325.4 1168.4,325.4 1168.4,325.4 1168.4,325.4 1168.4,325.3 1168.4,325.3 1168.4,325.3 1174,322.5 1174,322.5 1174,322.5 1157.5,314.3 1157.4,314.3 1157.4,314.3 1157.4,314.2 1149.2,306 1149.2,306 1149.1,306 1143.1,305.2 1143.1,305.2 1143,305.2 1143,305.2 1143,305.2 1143,305.2 1142.9,305.2 1142.9,305.1 1142.9,305.1 1142.9,305.1 1142.9,305.1 1142.9,305.1 1142.9,305 1142.9,305 1142.9,305 1142.9,305 1142.9,304.9 1142.9,304.9 1142.9,304.9 1142.9,304.9 1142.9,304.9 1142.9,304.8 1142.9,304.8 1142.9,304.8 1142.9,304.8 1143,304.8 1143,304.8 1143,304.7 1143,304.7 1143.1,304.7 1143.1,304.7 1151.1,303.9 1151.2,303.9 1151.2,303.9 1151.2,303.9 1151.2,303.9 1151.3,303.9 1151.3,303.9 1169.8,313.2 1169.9,313.2 1169.9,313.2 1176,312.2 1176,312.2 1176.1,312.2 1176.1,312.2 1176.1,312.2 1190.6,315.3 1190.6,315.3 1190.6,315.3 1198.8,312.2 1198.8,312.2 1198.8,312.2 1198.8,312.2 1198.9,312.2 1198.9,312.2 1198.9,312.2 1217.5,316.3 1217.5,316.3 1217.5,316.3 1279.5,307.1 1279.5,307.1 1279.5,307.1 1279.5,307.1 1279.6,307.1 1279.6,307.1 1279.6,307.1 1279.6,307.1 1279.6,307.1 1279.7,307.2 1279.7,307.2 1279.7,307.2 1279.7,307.2 1279.7,307.2 1279.7,307.3 1279.7,307.3 1279.7,307.3 1279.7,307.3 1279.7,307.4 1279.7,307.4 1279.7,307.4 1279.7,307.4 1279.7,307.5 1279.7,307.5 1278.5,309.3 1278.5,309.3 1278.5,309.3 1299.6,283.2 1299.6,283.2 1299.6,283.2 1304.6,270.8 1304.6,270.8 1304.6,270.8 1307.1,253.4 1307.1,253.4 1307.1,253.4 1302.1,238.5 1302.1,238.5 1302.1,238.5 1296,236.1 1296,236 1295.9,236 1295.9,236 1295.9,236 1295.9,236 1295.9,236 1295.9,236 1288.5,223.6 1288.4,223.6 1288.4,223.6 1283.5,218.6 1283.5,218.6 1283.5,218.6 1280,220.1 1280,220.1 1280,220.1 1273.5,221.1 1273.5,221.1 1273.5,221.1 1273.4,221.1 1273.4,221.1 1273.4,221.1 1273.4,221.1 1273.3,221 1273.3,221 1273.3,221 1273.3,221 1265.1,211.8 1265.1,211.8 1265.1,211.8 1252.7,207.6 1252.7,207.6 1252.7,207.6 1230,208.7 1229.9,208.7 1229.9,208.7 1229.9,208.7 1229.9,208.7 1229.8,208.7 1211.3,200.4 1211.3,200.4 1211.3,200.4 1186.4,194.2 1186.4,194.2 1160.5,190 1160.5,190 1160.5,190 1157.5,195.1 1157.5,195.1 1157.5,195.1 1157.5,195.2 1157.4,195.2 1157.4,195.2 1157.4,195.2 1157.4,195.2 1157.4,195.2 1157.3,195.2 1157.3,195.2 1130.5,197.3 1130.5,197.3 1130.5,197.3 1130.3,199.3 1130.3,199.4 1130.3,199.4 1130.3,199.4 1130.3,199.4 1130.3,199.5 1130.3,199.5 1130.3,199.5 1130.2,199.5 1130.2,199.5 1130.2,199.5 1130.2,199.5 1130.1,199.6 1130.1,199.6 1130.1,199.6 1130.1,199.6 1130.1,199.6 1130,199.6 1130,199.6 1130,199.6 1130,199.5 1129.9,199.5 1129.9,199.5 1129.9,199.5 1129.9,199.5 1125.3,194.2 1125.3,194.2 1125.3,194.2 1120.5,202 1120.4,202 1120.4,202 1120.4,202 1120.4,202.1 1120.4,202.1 1120.4,202.1 1120.3,202.1 1120.3,202.1 1120.3,202.1 1120.3,202.1 1120.2,202.1 1120.2,202.1 1120.2,202.1 1120.2,202.1 1120.1,202.1 1120.1,202.1 1120.1,202 1120.1,202 1120.1,202 1120,202 1120,202 1120,201.9 1120,201.9 1118.1,195.2 1118.1,195.2 1118.1,195.2 1110,198.8 1110,198.8 1110,198.8 1109.9,198.8 1109.9,198.8 1109.9,198.8 1109.9,198.8 1109.8,198.8 1109.8,198.8 1109.8,198.8 1109.8,198.8 1109.8,198.8 1109.7,198.8 1109.7,198.7 1109.7,198.7 1109.7,198.7 1109.7,198.7 1109.7,198.7 1109.7,198.6 1109.7,198.6 1109.7,198.6 1109.7,198.6 1109.7,198.5 1109.7,198.5 1109.7,198.5 1109.7,198.5 1109.7,198.4 1109.7,198.4 1109.7,198.4 1111.9,196.3 1111.9,196.3 1111.9,196.3 1104,194.3 1104,194.3 1104,194.3 1104,194.3 1103.9,194.2 1103.9,194.2 1103.9,194.2 1103.9,194.2 1103.9,194.2 1103.9,194.2 1103.9,194.1 1103.9,194.1 1103.8,194.1 1103.8,194.1 1103.8,194 1103.8,194 1103.8,194 1103.9,194 1103.9,193.9 1103.9,193.9 1103.9,193.9 1103.9,193.9 1103.9,193.9 1105.6,192.2 1105.6,192.2 1105.7,192.1 1105.7,192.1 1105.7,192.1 1105.7,192.1 1105.8,192.1 1118.1,190 1118.1,190 1118.1,190 1117.1,181.8 1117.1,181.8 1117.1,181.8 1094.3,178.7 1094.3,178.7 1094.3,178.7 1099.1,183.5 1099.1,183.5 1099.1,183.5 1099.2,183.5 1099.2,183.6 1099.2,183.6 1099.2,183.6 1099.2,183.6 1099.2,183.7 1099.2,183.7 1099.2,183.7 1099.2,183.7 1099.2,183.8 1099.2,183.8 1099.1,183.8 1099.1,183.8 1099.1,183.8 1099.1,183.9 1099.1,183.9 1099.1,183.9 1099,183.9 1099,183.9 1099,183.9 1093.3,184.9 1093.3,184.9 1093.3,184.9 1093.3,191.9 1093.2,192 1093.2,192 1093.2,192 1093.2,192 1093.2,192.1 1093.2,192.1 1093.2,192.1 1093.2,192.1 1093.2,192.1 1093.1,192.1 1093.1,192.2 1093.1,192.2 1083,195.8 1083,195.8 1082.9,195.8 1082.9,195.8 1082.9,195.8 1082.9,195.8 1082.8,195.8 1082.8,195.8 1074.6,193.1 1074.6,193.1 1074.6,193.1 1067.4,194.2 1067.4,194.2 1067.4,194.2 1064.5,202.7 1064.5,202.8 1064.5,202.8 1064.5,202.8 1064.5,202.8 1064.5,202.8 1064.4,202.9 1064.4,202.9 1064.4,202.9 1064.4,202.9 1064.4,202.9 1064.3,202.9 1064.3,202.9 1064.3,202.9 1064.3,202.9 1064.2,202.9 1064.2,202.9 1064.2,202.9 1064.2,202.9 1064.1,202.9 1064.1,202.8 1064.1,202.8 1064.1,202.8 1064.1,202.8 1064.1,202.8 1064.1,202.7 1064,202.7 1062.2,196.3 1062.2,196.3 1062.2,196.3 1057.2,194.3 1057.2,194.3 1057.2,194.2 1057.2,194.2 1057.1,194.2 1057.1,194.2 1057.1,194.2 1057.1,194.2 1057.1,194.1 1057.1,194.1 1057.1,194.1 1057.1,194.1 1057.1,194 1057.1,194 1057.1,194 1057.1,194 1058.1,190 1058.1,190 1058,190 1040.7,189 1040.7,189 1040.6,189 1040.6,189 1040.6,189 1040.6,189 1040.6,189 1040.5,189 1040.5,188.9 1040.5,188.9 1040.5,188.9 1040.5,188.9 1040.5,188.8 1040.5,188.8 1040.5,188.8 1040.5,188.8 1040.5,185.1 1040.5,185.1 1040.5,185.1 1040.5,185 1040.5,185 1040.5,185 1040.5,185 1040.5,184.9 1040.5,184.9 1040.6,184.9 1040.6,184.9 1040.6,184.9 1040.6,184.9 1040.6,184.9 1040.7,184.9 1040.7,184.9 1060.1,183.8 1060.1,183.8 1060.1,183.8 1075.6,168.3 1075.7,168.3 1075.6,168.3 1070.5,162.1 1070.5,162.1 1070.5,162.1 1064.3,160 1064.2,160 1056,155.9 1056,155.9 1056,155.9 1045.7,157.9 1045.7,157.9 1045.7,157.9 1045.7,157.9 1045.6,157.9 1045.6,157.9 1045.6,157.9 1045.6,157.9 1045.5,157.9 1034.2,150.7 1034.2,150.7 1034.2,150.7 1029.1,156.9 1029.1,156.9 1029.1,156.9 1033.2,173.3 1033.2,173.4 1033.2,173.4 1033.2,173.4 1033.2,173.4 1033.2,173.5 1033.2,173.5 1033.2,173.5 1033.1,173.5 1033.1,173.6 1033.1,173.6 1029.3,177.4 1029.3,177.4 1029.3,177.4 1029.2,177.4 1029.2,177.4 1029.2,177.5 1029.2,177.5 1029.1,177.5 1029.1,177.5 1029.1,177.5 1029.1,177.5 1029,177.5 1029,177.4 1029,177.4 1029,177.4 1029,177.4 1028.9,177.4 1028.9,177.4 1028.9,177.3 1022.9,167.3 1022.9,167.3 1022.9,167.3 1016.7,165.2 1016.6,165.2 1016.6,165.2 1012.6,170.3 1012.6,170.3 1012.5,170.3 1012.5,170.3 1012.5,170.4 1012.5,170.4 1012.5,170.4 1012.4,170.4 1012.4,170.4 1004.2,171.4 1004.2,171.4 1004.2,171.4 1008.3,179.5 1008.3,179.6 1008.3,179.6 1008.3,179.6 1008.3,179.6 1008.3,179.7 1008.3,179.7 1008.3,179.7 1008.3,179.7 1008.3,179.8 1008.3,179.8 1008.3,179.8 1008.3,179.8 1002.4,186.6 1002.4,186.6 1002.4,186.6 1002.4,186.6 1002.4,186.7 1002.4,186.7 1002.3,186.7 1002.3,186.7 1002.3,186.7 1002.3,186.7 1002.2,186.7 1002.2,186.7 1002.2,186.7 1002.2,186.7 1002.1,186.6 1002.1,186.6 1002.1,186.6 1002.1,186.6 1002.1,186.6 1002.1,186.6 1002,186.5 1002,186.5 1002,186.5 998,173.6 998,173.5 998,173.5 998,173.5 998,173.5 998,173.4 998,173.4 1000.1,167.3 1000.1,167.3 1000.1,167.3 998,158 998,158 998,158 987.7,188 987.7,188 987.7,188 987.7,198.2 987.7,198.3 987.7,198.3 987.6,198.3 987.6,198.3 987.6,198.4 987.6,198.4 983.7,204.3 983.7,204.3 983.7,204.3 983.6,204.3 983.6,204.3 983.6,204.4 983.6,204.4 983.6,204.4 983.5,204.4 983.5,204.4 983.5,204.4 983.5,204.4 983.4,204.4 983.4,204.4 983.4,204.4 983.4,204.4 983.3,204.3 983.3,204.3 983.3,204.3 979.5,200.5 979.5,200.5 979.4,200.4 979.4,200.4 979.4,200.4 979.4,200.4 979.4,200.3 979.4,200.3 979.4,200.3 979.4,200.3 981.4,185.9 981.4,185.9 981.5,185.9 987.7,165.2 987.7,165.2 987.7,165.2 983.6,165.2 983.5,165.2 983.5,165.2 983.5,165.2 974.2,162.1 974.2,162.1 974.2,162.1 977,168.6 977,168.6 977,168.6 977,168.6 977,168.7 977,168.7 977,168.7 977,168.7 977,168.8 977,168.8 977,168.8 976.9,168.8 976.9,168.8 976.9,168.9 976.9,168.9 976.9,168.9 976.8,168.9 976.8,168.9 976.8,168.9 976.8,168.9 976.7,168.9 976.7,168.9 976.7,168.9 976.7,168.9 976.7,168.9 976.6,168.9 976.6,168.9 968,163.1 968,163.1 968,163.1 962.8,169.3 962.8,169.3 962.8,169.3 970.9,178.5 970.9,178.5 971,178.5 971,178.5 971,178.6 971,178.6 971,178.6 971,178.6 971,178.6 971,178.7 971,178.7 971,178.7 971,178.7 971,178.8 970.9,178.8 970.9,178.8 970.9,178.8 963,185.8 962.9,185.8 962.9,185.8 962.9,185.8 962.9,185.8 962.9,185.8 962.8,185.8 962.8,185.8 962.8,185.8 962.8,185.8 962.7,185.8 962.7,185.8 962.7,185.8 962.7,185.8 962.7,185.8 954.5,179.7 954.5,179.7 954.5,179.7 947.2,188.9 947.2,188.9 947.2,188.9 947.1,188.9 947.1,188.9 947.1,188.9 947.1,189 947,189 947,189 947,189 947,189 946.9,189 946.9,189 946.9,189 946.9,188.9 946.9,188.9 946.8,188.9 946.8,188.9 946.8,188.9 946.8,188.9 946.8,188.8 946.8,188.8 946.8,188.8 946.7,188.8 946.7,188.8 946.7,188.7 946.7,188.7 946.7,188.7 946.7,188.7 946.8,188.6 951.4,175.6 951.4,175.5 951.4,175.5 944.2,176.6 944.2,176.6 944.2,176.6 940.1,180.7 940.1,180.7 940,180.7 940,180.7 940,180.7 927.6,185.9 927.6,185.9 927.6,185.9 933.7,189.9 933.7,190 933.7,190 933.7,190 933.7,190 933.8,190 933.8,190.1 933.8,190.1 933.8,190.1 933.8,190.1 933.8,190.1 933.8,190.2 933.8,190.2 933.8,190.2 931.8,196.2 931.8,196.3 931.8,196.3 944.2,192.1 944.2,192.1 944.2,192.1 951.8,186.4 951.8,186.4 951.8,186.4 951.8,186.4 951.8,186.4 951.9,186.4 951.9,186.4 951.9,186.4 951.9,186.4 952,186.4 952,186.4 952,186.4 952,186.4 952.1,186.4 952.1,186.5 952.1,186.5 952.1,186.5 952.1,186.5 952.1,186.5 952.1,186.6 952.1,186.6 952.1,186.6 952.2,186.6 952.1,186.7 952.1,186.7 952.1,186.7 952.1,186.7 948.4,196.2 948.3,196.2 948.3,196.2 948.3,196.2 948.3,196.3 948.3,196.3 948.3,196.3 948.2,196.3 940,200.4 940,200.4 940,200.4 950.4,200.4 950.4,200.4 950.4,200.4 950.4,200.4 956.5,202.4 956.5,202.4 956.5,202.4 956.5,202.4 956.5,202.5 956.6,202.5 956.6,202.5 956.6,202.5 956.6,202.5 956.6,202.6 956.6,202.6 956.6,202.6 956.6,202.6 957.6,212.6 957.6,212.6 957.6,212.7 957.6,212.7 957.6,212.7 957.6,212.7 957.6,212.8 957.6,212.8 957.6,212.8 957.5,212.8 957.5,212.8 957.5,212.8 957.5,212.9 957.5,212.9 957.4,212.9 950.5,214.8 950.5,214.9 950.5,214.9 950.5,214.9 950.4,214.9 950.4,214.9 950.4,214.8 950.4,214.8 950.3,214.8 950.3,214.8 950.3,214.8 950.3,214.8 942.1,206.6 942.1,206.6 942.1,206.6 935.9,202.5 935.9,202.5 935.9,202.5 927.6,203.5 927.6,203.5 927.6,203.5 923.5,209.7 923.5,209.7 923.5,209.7 932.6,210.7 932.6,210.7 932.6,210.7 932.7,210.7 932.7,210.8 932.7,210.8 932.7,210.8 932.7,210.8 932.8,210.8 932.8,210.8 932.8,210.9 932.8,210.9 932.8,210.9 932.8,210.9 932.8,210.9 933.8,219 933.8,219 933.8,219 936.8,224 936.8,224 936.8,224.1 936.8,224.1 936.9,224.1 936.9,224.1 936.9,224.2 936.9,224.2 936.8,224.2 936.8,224.2 936.8,224.2 936.8,224.3 936.8,224.3 936.8,224.3 936.8,224.3 936.8,224.3 936.7,224.4 936.7,224.4 936.7,224.4 936.7,224.4 936.6,224.4 936.6,224.4 936.6,224.4 936.6,224.4 936.5,224.4 936.5,224.4 936.5,224.4 936.5,224.4 936.5,224.3 936.4,224.3 936.4,224.3 936.4,224.3 929.7,214.9 929.7,214.9 929.7,214.9 921.4,221.1 921.4,221.1 921.4,221.1 913.1,233.5 913.1,233.5 913.1,233.5 918.9,242.2 918.9,242.2 918.9,242.2 918.9,242.3 918.9,242.3 918.9,242.3 918.9,242.3 918.9,242.4 918.9,242.4 918.9,242.4 918.9,242.4 918.9,242.4 918.9,242.5 918.9,242.5 918.9,242.5 918.9,242.5 918.8,242.5 918.8,242.5 918.8,242.6 918.8,242.6 918.8,242.6 918.7,242.6 918.7,242.6 918.7,242.6 918.7,242.6 918.6,242.6 918.6,242.6 911.2,239.8 911.2,239.8 911.1,239.8 911.1,239.7 911.1,239.7 911.1,239.7 911.1,239.7 911,239.7 911,239.7 911,239.6 911,239.6 909.2,233.2 909.2,233.2 908.4,228 908.4,228 908.4,227.9 907.8,227.8 907.8,227.8 907.7,227.8 907.7,227.8 907.7,227.8 907.7,227.7 907.7,227.7 907.6,227.7 907.6,227.7 907.6,227.7 907.6,227.6 907.6,227.6 906.9,225.2 906.9,225.2 906.9,225.2 903.4,226.7 903.4,226.7 903.3,226.7 903.3,226.7 903.3,226.7 903.3,226.7 903.2,226.7 900.9,226.1 900.9,226.1 900.9,226.1 898.2,232.5 898.2,232.5 898.2,232.5 898.1,232.6 898.1,232.6 898.1,232.6 898.1,232.6 898.1,232.6 898,232.6 898,232.6 894.8,233.5 894.8,233.5 894.8,233.5 894.8,233.5 893.1,233.5 893.1,233.5 893,233.5 893,233.5 893,233.5 893,233.5 893,233.5 892.9,233.5 892.9,233.4 892.9,233.4 892.9,233.4 892.9,233.4 892.9,233.4 892.9,233.3 892.9,233.3 892.8,233.3 892.8,233.3 892.8,233.2 892.9,233.2 892.9,233.2 892.9,233.2 892.9,233.2 892.9,233.1 892.9,233.1 892.9,233.1 892.9,233.1 899.7,227.3 899.7,227.3 899.7,227.3 894.9,224.6 894.8,224.5 894.8,224.5 894.8,224.5 894.8,224.5 894.8,224.5 894.8,224.5 894.8,224.4 894.7,224.4 894.7,224.4 894.7,224.4 894.7,224.3 894.7,224.3 894.7,224.3 894.8,224.3 894.8,224.2 894.8,224.2 895.3,223.3 895.3,223.3 895.3,223.3 887.9,222.4 887.9,222.4 887.9,222.4 881.4,233.5 881.4,233.5 881.4,233.5 881.4,233.5 881.3,233.6 881.3,233.6 875.8,237.3 875.8,237.3 875.8,237.3 874,250 873.9,250.1 873.9,250.1 873.9,250.1 873.9,250.1 873.9,250.2 873.9,250.2 873.9,250.2 873.9,250.2 873.8,250.2 873.8,250.2 873.8,250.2 873.8,250.3 873.7,250.3 873.7,250.3 873.7,250.3 873.7,250.3 873.7,250.3 864.6,248.4 864.6,248.4 864.6,248.5 855.3,255.9 855.3,255.9 855.3,255.9 854.3,263.3 854.3,263.4 854.3,263.4 855.3,272.7 855.3,272.7 855.3,272.7 864.6,270.8 864.6,270.8 864.6,270.8 869.5,267.9 869.5,267.8 869.6,267.8 869.6,267.8 869.6,267.8 869.6,267.8 869.7,267.8 869.7,267.8 869.7,267.8 869.7,267.8 869.8,267.8 869.8,267.9 869.8,267.9 869.8,267.9 869.8,267.9 869.8,267.9 869.9,267.9 869.9,268 869.9,268 869.9,268 869.9,268 869.9,268.1 869.9,268.1 869.9,268.1 869.9,268.1 866.5,280.1 866.5,280.1 866.5,280.1 871.7,285.4 871.7,285.4 871.8,285.4 871.8,285.4 871.8,285.5 871.8,285.5 871.8,285.5 871.8,285.5 871.8,285.6 871.8,285.6 871.8,285.6 871.8,285.6 871.8,285.7 871.8,285.7 871.8,285.7 871.7,285.7 871.7,285.7 871.7,285.8 871.7,285.8 871.7,285.8 871.6,285.8 871.6,285.8 871.6,285.8 862.7,287.6 862.7,287.6 862.7,287.6 869.2,290.8 869.3,290.8 869.3,290.9 869.3,290.9 869.3,290.9 869.3,290.9 869.3,290.9 869.4,291 869.4,291 869.4,291 869.4,291 869.4,291.1 869.4,291.1 869.4,291.1 869.4,291.1 869.4,291.1 869.3,291.2 869.3,291.2 869.3,291.2 869.3,291.2 869.3,291.2 869.3,291.3 869.2,291.3 869.2,291.3 869.2,291.3 869.2,291.3 869.2,291.3 869.1,291.3 857.1,291.3 857.1,291.3 857.1,291.3 851.6,296.9 851.6,296.9 851.6,296.9 868.2,296.9 868.3,296.9 868.3,296.9 868.3,296.9 868.3,296.9 868.4,296.9 868.4,296.9 875.3,301.8 875.3,301.8 875.3,301.8 875.4,301.8 875.4,301.8 875.4,301.9 875.4,301.9 875.4,301.9 875.4,301.9 875.4,302 875.4,302 875.4,302 875.4,302 875.4,302.1 875.4,302.1 875.4,302.1 875.4,302.1 875.3,302.1 875.3,302.2 875.3,302.2 875.3,302.2 875.3,302.2 875.2,302.2 875.2,302.2 875.2,302.2 864.6,304.3 864.6,304.3 864.6,304.4 868.6,310.8 868.7,310.8 868.7,310.9 868.7,310.9 868.7,310.9 868.7,310.9 868.7,311 868.7,311 868.7,311 868.7,311 868.7,311 868.6,311.1 868.6,311.1 868.6,311.1 868.6,311.1 868.6,311.1 868.6,311.2 868.5,311.2 868.5,311.2 868.5,311.2 868.5,311.2 868.5,311.2 868.4,311.2 868.4,311.2 868.4,311.2 868.4,311.2 868.3,311.2 868.3,311.2 868.3,311.2 860.9,306.2 860.9,306.2 860.9,306.2 847.8,308.1 847.8,308.1 847.8,308.1 858.3,315.1 858.3,315.1 858.4,315.1 858.4,315.1 858.4,315.1 858.4,315.2 858.4,315.2 858.4,315.2 858.4,315.2 858.4,315.3 858.4,315.3 858.4,315.3 858.4,315.3 858.4,315.4 858.4,315.4 858.4,315.4 858.4,315.4 858.4,315.4 858.4,315.5 858.3,315.5 858.3,315.5 858.3,315.5 858.3,315.5 858.3,315.5 858.2,315.5 858.2,315.5 858.2,315.5 849.7,315.5 849.7,315.5 849.7,315.5 855.2,321 855.2,321 855.2,321 855.2,321 855.2,321.1 855.2,321.1 855.2,321.1 855.2,321.1 855.2,321.2 855.2,321.2 855.2,321.2 855.2,321.2 855.2,321.3 855.2,321.3 851.7,328.3 851.7,328.3 851.7,328.3 851.7,328.3 851.6,328.3 851.6,328.4 851.6,328.4 851.6,328.4 851.6,328.4 851.5,328.4 851.5,328.4 851.5,328.4 851.5,328.4 851.4,328.4 851.4,328.4 851.4,328.4 851.4,328.4 851.3,328.4 851.3,328.3 851.3,328.3 846,323 846,323 846,323 846,323 846,322.9 845.9,322.9 844.1,317.4 844.1,317.4 844.1,317.4 840.4,319.2 840.4,319.2 840.4,319.2 840.4,319.3 840.3,319.3 840.3,319.3 832.9,319.3 832.9,319.3 832.9,319.3 832.9,323.9 832.9,323.9 832.9,323.9 844.9,326.5 845,326.5 845,326.5 845,326.5 845,326.5 845.1,326.5 845.1,326.6 845.1,326.6 845.1,326.6 845.1,326.6 845.1,326.6 845.1,326.7 845.1,326.7 845.1,326.7 845.1,326.7 845.1,326.8 845.1,326.8 845.1,326.8 845.1,326.8 845.1,326.9 845.1,326.9 845.1,326.9 845.1,326.9 845,326.9 845,326.9 845,327 845,327 845,327 823.6,332.7 823.6,332.7 823.6,332.7 832.5,335.9 832.5,335.9 832.5,335.9 832.5,335.9 832.5,335.9 832.6,335.9 832.6,335.9 832.6,336 832.6,336 832.6,336 832.6,336 832.6,336.1 832.6,336.1 832.6,336.1 832.6,336.1 832.6,336.2 832.6,336.2 832.6,336.2 832.6,336.2 832.6,336.3 832.6,336.3 832.5,336.3 832.5,336.3 822.7,343.1 822.7,343.1 822.7,343.1 832.9,337.9 832.9,337.9 832.9,337.9 832.9,337.9 833,337.9 833,337.9 841.7,337.9 841.8,337.9 841.8,337.9 841.8,337.9 841.8,337.9 841.9,337.9 841.9,337.9 841.9,337.9 841.9,338 841.9,338 841.9,338 842,338 842,338 842,338.1 842,338.1 842,338.1 842,338.1 842,338.2 842,338.2 842,338.2 842,338.2 842,338.2 841.9,338.3 841.9,338.3 836.6,345.3 836.6,345.3 836.6,345.3 840,352.1 840,352.1 840.1,352.2 840.1,352.2 840.1,352.2 840.1,352.2 840.1,352.3 840.1,352.3 840,352.3 840,352.3 840,352.4 840,352.4 840,352.4 840,352.4 840,352.4 839.9,352.5 839.9,352.5 839.9,352.5 839.9,352.5 839.8,352.5 839.8,352.5 839.8,352.5 839.8,352.5 839.7,352.5 839.7,352.5 839.7,352.5 829.2,347.2 829.2,347.2 829.2,347.2 823.6,354.7 823.6,354.7 818,361.2 818,361.2 818,361.2 832.8,360.3 832.8,360.3 832.8,360.3 832.9,360.3 832.9,360.3 832.9,360.3 832.9,360.3 832.9,360.3 833,360.3 833,360.3 833,360.4 838,367 838,367 838,367 838,367.1 838,367.1 838,367.1 838,367.1 838,367.2 838,367.2 838,367.2 838,367.2 838,367.2 838,367.3 838,367.3 838,367.3 837.9,367.3 837.9,367.3 837.9,367.4 837.9,367.4 837.9,367.4 837.8,367.4 837.8,367.4 837.8,367.4 837.8,367.4 837.7,367.4 837.7,367.4 837.7,367.4 829.2,364 829.2,364 829.2,364 819.9,364 819.9,364 819.9,364 812.4,369.6 812.4,369.6 812.4,369.6 814.2,374.9 814.2,374.9 814.2,374.9 814.2,374.9 814.2,375 814.2,375 814.2,375 814.2,375 814.2,375.1 814.2,375.1 814.2,375.1 814.1,375.1 814.1,375.1 814.1,375.2 814.1,375.2 814.1,375.2 814,375.2 814,375.2 814,375.2 803.1,377 803.1,377 803.1,377 812.1,384.2 812.1,384.2 812.1,384.2 812.1,384.3 812.2,384.3 812.2,384.3 812.2,384.3 812.2,384.3 812.2,384.4 812.2,384.4 812.2,384.4 812.2,384.4 812.2,384.5 812.2,384.5 812.2,384.5 812.1,384.5 812.1,384.6 812.1,384.6 812.1,384.6 812.1,384.6 812,384.6 812,384.6 803.1,388.2 803.1,388.2 803.1,388.2 806.7,395.3 806.7,395.3 806.7,395.3 806.7,395.4 806.7,395.4 806.7,395.4 806.7,395.4 806.7,395.5 806.7,395.5 806.7,395.5 806.6,395.5 806.6,395.5 806.6,395.6 806.6,395.6 806.6,395.6 806.6,395.6 806.5,395.6 806.5,395.6 806.5,395.6 806.5,395.6 806.5,395.7 806.4,395.7 799.4,395.7 799.4,395.7 799.4,395.7 793.8,399.4 793.8,399.4 793.8,399.4 795.2,399.9 795.2,400 795.2,400 795.2,400 795.3,400 795.3,400 795.3,400 795.3,400.1 795.3,400.1 795.3,400.1 795.3,400.1 795.3,400.1 796.3,408.2 796.3,408.2 796.3,408.2 796.3,408.3 796.3,408.3 796.3,408.3 796.3,408.3 796.3,408.4 789.1,418.6 789.1,418.6 789.1,418.6 791.1,422.7 791.1,422.7 791.1,422.7 791.1,422.7 791.2,422.8 791.2,422.8 791.1,422.8 791.1,422.8 791.1,422.9 791.1,422.9 787,431 787,431.1 787,431.1 785,439.3 785,439.3 785,439.3 790.9,449.2 790.9,449.2 790.9,449.2 790.9,449.3 790.9,449.3 790.9,449.3 790.9,449.3 790.9,449.4 790.9,449.4 790.9,449.4 790.9,449.4 790.9,449.4 790.9,449.5 790.9,449.5 790.8,449.5 790.8,449.5 790.8,449.5 790.8,449.5 790.8,449.6 790.7,449.6 790.7,449.6 790.7,449.6 790.7,449.6 790.6,449.6 790.6,449.6 781.9,447.6 781.9,447.6 781.9,447.6 778.8,455.9 778.8,455.9 778.8,455.9 783.8,461.9 783.8,461.9 783.8,462 783.8,462 783.8,462 783.8,462 783.8,462.1 783.8,462.1 783.8,462.1 783.8,462.1 783.8,462.1 783.8,462.2 783.8,462.2 783.8,462.2 783.8,462.2 783.8,462.3 783.7,462.3 778.8,466.3 778.8,466.3 764.5,478.5 764.4,478.5 764.4,478.5 764.4,478.5 764.4,478.6 764.4,478.6 764.3,478.6 764.3,478.6 764.3,478.6 764.3,478.6 764.2,478.6 764.2,478.5 764.2,478.5 764.2,478.5 764.1,478.5 764.1,478.5 764.1,478.5 760.1,473.5 760.1,473.5 760.1,473.5 753.9,478.7 753.9,478.7 753.9,478.7 762.1,481.8 762.2,481.8 762.2,481.8 762.2,481.8 762.2,481.8 762.2,481.8 766.3,486.9 766.3,487 766.3,487 770.4,494 770.4,494.1 770.4,494.1 770.4,494.1 770.4,494.1 770.4,494.2 770.4,494.2 770.4,494.2 770.4,494.2 770.4,494.3 770.4,494.3 770.4,494.3 770.4,494.3 770.4,494.3 762.5,503.2 762.5,503.2 762.4,503.2 762.4,503.2 762.4,503.3 762.4,503.3 762.4,503.3 762.3,503.3 762.3,503.3 762.3,503.3 762.3,503.3 762.2,503.3 762.2,503.3 762.2,503.3 762.2,503.2 762.1,503.2 762.1,503.2 762.1,503.2 762.1,503.2 762.1,503.2 762.1,503.1 762.1,503.1 758.1,491.1 758.1,491.1 758.1,491.1 751.9,499.3 751.9,499.3 751.8,499.4 751.8,499.4 751.8,499.4 751.8,499.4 743.6,503.5 743.6,503.5 743.6,503.5 739.4,515.9 739.4,515.9 739.4,515.9 739.4,515.9 739.4,515.9 739.4,516 739.4,516 739.3,516 733.2,520.1 733.2,520.1 733.2,520.1 737.2,526.1 737.2,526.1 737.2,526.1 737.2,526.2 737.2,526.2 737.3,526.2 737.3,526.2 737.3,526.2 737.2,526.3 737.2,526.3 737.2,526.3 737.2,526.3 737.2,526.4 737.2,526.4 737.2,526.4 737.2,526.4 737.1,526.4 728,532.5 728,532.5 728,532.5 729.1,538.7 729.1,538.7 729.1,538.7 734.1,542.8 734.2,542.8 734.2,542.8 734.2,542.8 734.2,542.8 734.2,542.9 734.2,542.9 734.2,542.9 734.2,542.9 734.2,543 734.2,543 734.1,544.1 734.1,544.1 734.1,544.2 734.1,544.2 734.1,544.2 734.1,544.2 734,544.2 734,544.3 734,544.3 734,544.3 734,544.3 734,544.3 733.9,544.3 733.9,544.3 733.9,544.3 733.9,544.3 733.8,544.3 733.8,544.3 724.9,542.9 724.9,542.9 724.9,542.9 716.9,551.9 716.9,551.9 716.8,551.9 716.8,552 716.8,552 716.8,552 716.8,552 716.7,552 716.7,552 716.7,552 716.7,552 716.6,552 716.6,552 716.6,552 716.6,552 716.5,551.9 716.5,551.9 716.5,551.9 716.5,551.9 716.5,551.9 712.5,544.9 712.5,544.9 712.5,544.9 704.2,544.9 704.2,544.9 704.2,544.9 708.3,557.1 708.3,557.2 708.3,557.2 708.3,557.2 708.3,557.2 708.3,557.3 708.3,557.3 708.3,557.3 708.3,557.3 708.3,557.3 708.2,557.4 708.2,557.4 708.2,557.4 708.2,557.4 708.2,557.4 708.1,557.4 698,561.5 698,561.5 698,561.5 704.1,575.6 704.1,575.6 704.1,575.6 704.1,575.7 704.1,575.7 704.1,575.7 704.1,575.7 704.1,575.8 704.1,575.8 704,575.8 704,575.8 704,575.8 704,575.9 704,575.9 704,575.9 703.9,575.9 703.9,575.9 703.9,575.9 703.9,575.9 703.8,575.9 703.8,575.9 703.8,575.9 695,575 694.9,574.9 694.9,574.9 694.9,574.9 694.9,574.9 683.6,568.8 683.6,568.8 683.6,568.8 683.5,568.7 683.5,568.7 683.5,568.7 683.5,568.7 683.5,568.7 681.5,563.6 681.4,563.6 681.4,563.6 669,571.8 669,571.8 669,571.8 671.1,578 671.1,578.1 671.1,578.1 681.3,582.1 681.4,582.2 681.4,582.2 681.4,582.2 681.4,582.2 681.4,582.2 681.5,582.2 681.5,582.3 681.5,582.3 681.5,582.3 683.4,588.9 683.4,589 683.4,589 683.4,589 683.4,589 683.4,589.1 683.4,589.1 683.4,589.1 683.4,589.1 683.3,589.2 683.3,589.2 683.3,589.2 683.3,589.2 683.3,589.2 683.3,589.2 683.2,589.2 683.2,589.3 683.2,589.3 683.2,589.3 683.1,589.3 683.1,589.3 683.1,589.3 683.1,589.2 683,589.2 671.1,584.3 671.1,584.3 671.1,584.3 652.5,585.3 652.5,585.3 652.5,585.3 653.5,591.5 653.5,591.5 653.5,591.5 666.8,594.6 666.8,594.6 666.8,594.6 666.9,594.6 666.9,594.6 666.9,594.6 666.9,594.7 666.9,594.7 666.9,594.7 667,594.7 667,594.7 667,594.8 667,594.8 668.9,607.9 668.9,607.9 668.9,607.9 668.9,608 668.8,608 668.8,608 668.8,608 668.8,608 668.8,608.1 668.8,608.1 668.8,608.1 668.8,608.1 668.7,608.1 668.7,608.1 668.7,608.2 668.7,608.2 668.6,608.2 668.6,608.2 668.6,608.2 668.6,608.2 668.5,608.2 668.5,608.2 668.5,608.1 668.5,608.1 668.5,608.1 668.4,608.1 668.4,608.1 668.4,608.1 668.4,608 662.8,598.8 662.8,598.8 662.8,598.8 650.5,596.7 650.4,596.7 650.4,596.7 650.4,596.7 650.4,596.7 650.3,596.7 646.3,593.6 646.3,593.6 646.2,593.6 638,600.8 638,600.8 629.9,608.9 629.9,608.9 629.9,608.9 629.8,608.9 629.8,608.9 629.8,609 629.8,609 629.8,609 629.7,609 629.7,609 629.7,609 629.7,609 629.6,608.9 629.6,608.9 629.6,608.9 629.6,608.9 629.6,608.9 629.5,608.9 629.5,608.9 625.6,602.9 625.5,602.9 625.6,602.9 628.6,613 628.6,613.1 628.6,613.1 628.6,613.1 628.6,613.1 628.6,613.2 628.6,613.2 628.6,613.2 628.6,613.2 628.6,613.2 628.5,613.3 628.5,613.3 628.5,613.3 628.5,613.3 628.5,613.3 628.4,613.3 618.3,617.4 618.3,617.4 618.3,617.4 621.4,627.7 621.4,627.7 621.4,627.7 629.7,631.9 629.7,631.9 629.7,631.9 637.5,637.7 637.5,637.7 637.5,637.8 637.5,637.8 637.5,637.8 637.6,637.8 637.6,637.8 637.6,637.9 637.6,637.9 637.6,637.9 637.6,637.9 637.6,638 637.6,638 637.6,638 637.6,638 637.5,638.1 637.5,638.1 637.5,638.1 637.5,638.1 637.5,638.1 637.5,638.1 637.4,638.2 637.4,638.2 637.4,638.2 637.4,638.2 621.4,640.2 621.4,640.2 621.4,640.2 624.5,651.3 624.5,651.4 624.5,651.4 624.5,651.4 624.5,651.4 624.5,651.5 624.5,651.5 624.4,651.5 624.4,651.5 624.4,651.5 624.4,651.6 624.4,651.6 624.4,651.6 624.3,651.6 624.3,651.6 624.3,651.6 614.2,655.7 614.2,655.7 614.2,655.7 627.6,654.7 627.6,654.7 642,652.6 642.1,652.6 642.1,652.6 642.1,652.6 642.1,652.6 642.2,652.6 642.2,652.6 652.5,657.8 652.5,657.8 652.5,657.8 660.3,645 660.4,644.9 660.4,644.9 660.4,644.9 660.4,644.9 660.4,644.9 660.5,644.9 660.5,644.9 660.5,644.8 660.5,644.8 660.5,644.8 660.6,644.8 660.6,644.8 660.6,644.8 660.6,644.8 660.7,644.9 660.7,644.9 660.7,644.9 660.7,644.9 660.7,644.9 660.8,644.9 660.8,645 660.8,645 660.8,645 660.8,645 660.8,645 660.8,645.1 661.8,656.7 661.8,656.7 661.8,656.7 675.1,640.3 675.2,640.3 675.2,640.3 675.2,640.2 675.2,640.2 675.2,640.2 675.3,640.2 675.3,640.2 675.3,640.2 675.3,640.2 675.3,640.2 675.4,640.2 675.4,640.2 679.1,641.1 679.1,641.1 679.1,641.1 679.2,641.2 679.2,641.2 679.2,641.2 679.2,641.2 679.2,641.2 679.2,641.2 679.3,641.3 679.3,641.3 679.3,641.3 679.3,641.3 679.3,641.4 679.3,641.4 679.3,641.4 679.3,641.4 679.3,641.4 679.3,641.5 676.3,648.4 676.3,648.4 676.3,648.5 682.1,652.3 682.1,652.3 682.1,652.3 682.1,652.4 682.1,652.4 682.2,652.4 682.2,652.4 682.2,652.5 682.2,652.5 682.2,652.5 682.2,652.5 682.2,652.6 682.2,652.6 682.2,652.6 682.2,652.6 682.2,652.6 682.1,652.7 682.1,652.7 682.1,652.7 682.1,652.7 682.1,652.7 682,652.7 682,652.8 671.1,656.7 671.1,656.7 671.1,656.7 667,665.9 667,666 667,666 667,666 666.9,666 666.9,666 666.9,666 666.9,666.1 666.9,666.1 666.8,666.1 663.2,667 663.1,667 663.1,667 663.1,667 663.1,667 663,667 663,667 663,667 663,667 663,667 662.9,666.9 662.9,666.9 662.9,666.9 662.9,666.9 662.9,666.9 662.9,666.8 662.9,666.8 662.9,666.8 662.9,666.8 662.9,666.7 662.9,666.7 663.9,658.8 663.9,658.8 663.8,658.8 650.5,658.8 650.4,658.8 650.4,658.8 650.4,658.8 650.4,658.8 650.3,658.8 642.1,654.7 642.1,654.7 642.1,654.7 621.4,658.8 621.4,658.8 621.4,658.8 624.4,666.8 624.4,666.9 624.4,666.9 624.4,666.9 624.4,666.9 624.4,667 624.4,667 624.4,667 624.4,667 624.4,667.1 624.4,667.1 624.4,667.1 624.4,667.1 624.3,667.1 624.3,667.1 624.3,667.2 624.3,667.2 618.3,669.1 618.3,669.2 618.3,669.2 621.4,677.4 621.4,677.4 621.4,677.4 633.6,675.4 633.6,675.4 633.6,675.4 633.7,675.4 633.7,675.4 633.7,675.4 633.7,675.4 633.8,675.4 633.8,675.4 633.8,675.5 633.8,675.5 633.8,675.5 633.8,675.5 633.9,675.5 633.9,675.6 633.9,675.6 633.9,675.6 635.9,685.5 635.9,685.5 635.9,685.5 635.9,685.6 635.9,685.6 635.8,685.6 635.8,685.6 635.8,685.6 635.8,685.7 635.8,685.7 635.8,685.7 635.8,685.7 635.8,685.7 635.7,685.7 635.7,685.8 635.7,685.8 635.7,685.8 627.7,687.8 627.7,687.8 627.6,687.8 627.6,687.8 627.6,687.8 627.6,687.8 627.5,687.8 616.2,683.6 616.2,683.6 616.2,683.6 618.3,698.1 618.3,698.1 618.3,698.1 627.4,690 627.4,690 627.5,690 627.5,690 627.5,690 627.5,690 627.5,690 627.6,690 627.6,690 627.6,690 627.6,690 627.7,690 627.7,690 627.7,690 627.7,690 627.7,690 627.8,690.1 627.8,690.1 633.8,698.1 633.8,698.1 633.8,698.1 648.3,687.8 648.3,687.8 648.3,687.8 648.3,687.8 648.4,687.8 659.3,684.8 659.3,684.8 659.3,684.8 659.3,684.8 659.4,684.8 659.4,684.8 659.4,684.8 659.4,684.8 659.4,684.8 659.5,684.8 659.5,684.9 659.5,684.9 659.5,684.9 659.5,684.9 659.5,684.9 659.6,685 659.6,685 659.6,685 659.6,685 659.6,685.1 659.6,685.1 659.6,685.1 659.6,685.1 652.8,705.4 652.8,705.4 652.8,705.5 652.8,705.5 652.7,705.5 652.7,705.5 652.7,705.5 652.7,705.5 652.7,705.6 652.6,705.6 652.6,705.6 652.6,705.6 652.6,705.6 652.6,705.6 652.5,705.6 652.5,705.6 652.5,705.6 652.5,705.6 652.4,705.5 652.4,705.5 652.4,705.5 652.4,705.5 652.4,705.5 652.3,705.5 652.3,705.4 652.3,705.4 652.3,705.4 652.3,705.4 650.4,691.9 650.4,691.9 650.4,691.9 640,700.2 640,700.2 640,700.2 642.1,710.6 642.1,710.6 642.1,710.6 647,715.5 647,715.5 647.1,715.5 647.1,715.5 647.1,715.6 647.1,715.6 647.1,715.6 647.1,715.6 647.1,715.7 647.1,715.7 647.1,715.7 647.1,715.7 647.1,715.7 647.1,715.8 647.1,715.8 647.1,715.8 647,715.8 647,715.8 647,715.9 647,715.9 647,715.9 636.1,720.8 636.1,720.8 636,720.8 636,720.9 636,720.9 636,720.9 635.9,720.9 635.9,720.8 635.9,720.8 635.9,720.8 635.8,720.8 635.8,720.8 635.8,720.8 635.8,720.8 630.8,714.7 630.7,714.7 630.7,714.7 630.7,714.7 627.6,706.4 627.6,706.4 627.6,706.4 617.3,714.7 617.3,714.7 617.3,714.7 618.3,727.1 618.3,727.1 618.3,727.1 626.3,725.1 626.4,725.1 626.4,725.1 626.4,725.1 626.4,725.1 626.5,725.1 626.5,725.1 626.5,725.1 626.5,725.1 626.5,725.2 626.6,725.2 626.6,725.2 626.6,725.2 626.6,725.2 626.6,725.3 626.6,725.3 626.6,725.3 629.6,739.2 629.6,739.3 629.6,739.3 629.6,739.3 629.6,739.3 629.6,739.4 629.6,739.4 629.6,739.4 629.6,739.4 629.6,739.5 629.6,739.5 629.5,739.5 629.5,739.5 629.5,739.5 629.5,739.5 629.5,739.5 629.4,739.5 629.4,739.5 629.4,739.5 618.3,739.5 618.3,739.5 618.3,739.6 619.3,749.9 619.3,749.9 619.3,749.9 629.7,743.7 629.7,743.7 629.7,743.7 641.9,733.5 642,733.5 642,733.5 642,733.4 642,733.4 642,733.4 642.1,733.4 642.1,733.4 642.1,733.4 642.1,733.4 642.2,733.4 642.2,733.4 642.2,733.5 642.2,733.5 642.3,733.5 642.3,733.5 652.2,743.4 652.2,743.4 652.2,743.5 652.2,743.5 652.3,743.5 652.3,743.5 652.3,743.5 652.3,743.6 652.3,743.6 652.3,743.6 652.3,743.6 652.3,743.7 652.2,743.7 652.2,743.7 652.2,743.7 652.2,743.8 652.2,743.8 652.2,743.8 652.2,743.8 652.1,743.8 652.1,743.8 642.1,747.8 642.1,747.8 642.1,747.8 636,758 636,758 636,758.1 635.9,758.1 635.9,758.1 635.9,758.1 635.9,758.1 635.9,758.1 635.8,758.1 635.8,758.1 635.8,758.1 635.8,758.1 635.7,758.1 635.7,758.1 627.6,756.1 627.6,756.1 627.6,756.1 638,763.1 638.1,763.1 638.1,763.1 638.1,763.1 638.1,763.1 638.1,763.1 638.1,763.2 638.1,763.2 638.1,763.2 638.2,763.2 638.2,763.3 638.2,763.3 638.2,763.3 638.1,763.3 638.1,763.4 638.1,763.4 638.1,763.4 638.1,763.4 638.1,763.4 638.1,763.5 638,763.5 638,763.5 638,763.5 638,763.5 638,763.5 637.9,763.5 637.9,763.5 637.9,763.5 637.9,763.5 637.8,763.5 637.8,763.5 629.7,760.3 629.7,760.2 629.7,760.3 622.4,768.5 622.4,768.5 622.4,768.5 625.5,776.8 625.5,776.8 625.6,776.8 642.1,793.4 642.1,793.4 642.1,793.4 644.1,791.8 644.1,791.8 644.1,791.7 644.2,791.7 644.2,791.7 644.2,791.7 644.2,791.7 644.3,791.7 644.3,791.7 644.3,791.7 644.3,791.7 644.4,791.7 653.2,795.2 653.2,795.3 653.2,795.3 653.2,795.3 653.2,795.3 653.2,795.3 653.3,795.3 653.3,795.4 653.3,795.4 653.3,795.4 653.3,795.4 653.3,795.5 653.3,795.5 653.3,795.5 653.3,795.5 653.3,795.6 653.3,795.6 653.3,795.6 653.3,795.6 653.3,795.6 653.2,795.7 653.2,795.7 648,800.1 648,800.1 648,800.1 662.9,805.6 662.9,805.7 662.9,805.7 672.2,806.2 672.2,806.2 672.2,806.2 683.3,801.4 683.4,801.4 683.4,801.4 687.1,797.7 687.1,797.6 687.1,797.6 687.1,797.6 687.2,797.6 687.2,797.6 687.2,797.6 687.2,797.6 687.2,797.6 687.3,797.6 687.3,797.6 687.3,797.6 687.3,797.6 687.4,797.6 687.4,797.6 687.4,797.6 687.4,797.7 687.4,797.7 687.5,797.7 687.5,797.7 687.5,797.7 687.5,797.8 687.5,797.8 687.5,797.8 687.7,800 687.7,800 687.7,800 704.2,787.2 704.2,787.2 704.2,787.2 714.6,772.7 714.6,772.7 714.6,772.7 727,760.3 727,760.3 727,760.2 727,760.2 735.2,756.1 735.2,756.1 735.3,756.1 735.3,756.1 735.3,756.1 735.3,756.1 741.5,756.1 741.5,756.1 741.5,756.1 745.6,745.8 745.6,745.8 745.6,745.7 745.7,745.7 748.7,741.6 748.7,741.6 748.7,741.6 745.6,731.3 745.6,731.3 745.6,731.3 740.9,729.4 740.8,729.3 740.8,729.3 740.8,729.3 740.8,729.3 740.8,729.3 740.7,729.3 740.7,729.2 740.7,729.2 740.7,729.2 740.7,729.2 740.7,729.1 740.7,729.1 740.7,729.1 740.7,729.1 740.7,729 740.7,729 740.7,729 740.7,729 740.8,729 740.8,728.9 740.8,728.9 745.6,725.1 745.6,725.1 745.6,725 747.7,716.9 747.7,716.9 747.7,716.9 747.7,716.9 747.7,716.8 747.7,716.8 747.7,716.8 747.8,716.8 747.8,716.8 747.8,716.8 747.8,716.8 747.8,716.7 747.9,716.7 753.6,715.8 753.6,715.8 753.7,715.8 753.7,715.8 753.7,715.8 753.7,715.8 753.8,715.8 753.8,715.8 753.8,715.8 753.8,715.8 753.8,715.9 753.9,715.9 753.9,715.9 753.9,715.9 753.9,715.9 753.9,716 753.9,716 753.9,716 753.9,716 753.9,720.8 753.9,720.8 753.9,720.8 753.9,720.8 753.9,720.9 753.9,720.9 753.9,720.9 753.9,720.9 753.8,720.9 753.8,721 753.8,721 753.8,721 749.8,723 749.8,723 749.8,723 750.8,739.5 750.8,739.5 750.8,739.5 754.9,743.6 754.9,743.6 754.9,743.7 754.9,743.7 754.9,743.7 755,743.7 755,743.8 756,749.9 756,749.9 756,749.9 764.2,757.1 764.2,757.1 764.2,757.1 764.3,757.1 764.3,757.2 764.3,757.2 764.3,757.2 767.4,770.6 767.4,770.6 767.4,770.6 767.4,785.1 767.4,785.1 767.4,785.1 771.5,793.4 771.5,793.4 774.6,800 774.6,800 774.6,800 776.3,800.1 776.3,800.1 776.4,800.1 776.4,800.1 776.4,800.1 776.4,800.1 776.5,800.1 776.5,800.1 776.5,800.1 776.5,800.2 776.5,800.2 776.5,800.2 776.5,800.2 776.6,800.2 776.6,800.3 779.3,815.9 779.3,815.9 779.3,815.9 783.9,821.4 784,821.5 784,821.5 784,821.5 784,821.5 784,821.6 786.8,834.5 786.8,834.5 786.8,834.5 791.4,842 791.4,842 791.4,842 796.1,853.2 796.1,853.2 796.1,853.2 806.3,866.2 806.3,866.2 812.8,872.6 812.8,872.7 812.8,872.7 812.8,872.7 812.8,872.7 812.8,872.8 812.8,872.8 812.8,872.8 812.8,872.8 812.8,872.9 811.9,879.1 811.9,879.1 811.9,879.2 811.9,879.2 811.9,879.2 811.9,879.2 811.9,879.2 811.9,879.3 811.8,879.3 811.8,879.3 811.8,879.3 811.8,879.3 806.3,881.1 806.3,881.1 806.3,881.1 810.7,887.3 810.8,887.3 810.8,887.3 810.8,887.4 810.8,887.4 810.8,887.4 810.8,887.4 810.8,887.5 810.8,887.5 810.8,887.5 810.8,887.5 810.8,887.6 810.8,887.6 810.7,887.6 810.7,887.6 810.7,887.6 810.7,887.6 810.7,887.7 810.6,887.7 810.6,887.7 810.6,887.7 810.6,887.7 802.6,888.6 802.6,888.6 802.6,888.6 808.2,897.9 808.2,897.9 815.6,912.8 815.7,912.8 819.3,922 819.4,922 819.4,922.1 819.4,922.1 819.4,922.1 819.4,922.1 819.4,922.2 819.4,922.2 819.3,922.2 816.6,929.5 816.6,929.5 816.6,929.5 816.6,929.5 816.6,929.6 816.5,929.6 816.5,929.6 816.5,929.6 813.8,931.1 813.8,931.1 813.8,931.1 825.9,933.3 825.9,933.3 825.9,933.3 836.1,929.6 836.2,929.6 850.1,925.8 850.1,925.8 850.1,925.8 853.8,918.4 853.9,918.4 853.8,918.4 850.2,911.1 850.2,911 850.2,911 850.2,911 850.2,911 850.2,910.9 850.2,910.9 850.2,910.9 850.2,910.9 850.2,910.8 850.2,910.8 854.8,903.5 854.8,903.5 854.8,903.5 854.8,903.5 860.4,898.8 860.4,898.8 860.4,898.8 864.1,897 864.1,897 864.1,897 862.3,892.5 862.3,892.5 862.3,892.5 862.3,892.4 862.3,892.4 862.3,892.4 862.3,892.4 862.3,892.3 862.3,892.3 862.3,892.3 862.3,892.3 862.4,892.3 862.4,892.2 862.4,892.2 862.4,892.2 862.4,892.2 867.7,889.5 867.8,889.5 867.8,889.5 867.8,889.5 867.8,889.5 867.9,889.5 867.9,889.5 867.9,889.5 867.9,889.5 877.1,892.3 877.1,892.3 877.1,892.3 884.5,888.6 884.5,888.6 884.5,888.6 884.6,888.6 884.6,888.6 884.6,888.6 884.6,888.6 884.7,888.6 884.7,888.6 884.7,888.6 892,892.3 892,892.3 892.1,892.3 895.8,888.6 895.8,888.6 895.8,888.6 899.5,875.5 899.5,875.5 903.2,860.6 903.2,860.6 905.1,845.7 905.1,845.7 905.1,845.7 903.3,842.1 903.3,842.1 903.3,842 903.3,842 903.3,842 903.3,842 903.3,842 903.3,841.9 903.3,841.9 903.3,841.9 909.7,827.1 909.8,827.1 909.8,827.1 907,815.9 907,815.9 907,815.9 899.8,806.9 899.7,806.9 899.7,806.9 899.7,806.8 899.7,806.8 899.7,806.8 899.7,806.8 899.7,806.7 899.7,806.7 899.7,806.7 899.7,806.7 899.7,806.7 899.7,806.6 899.7,806.6 899.8,806.6 899.8,806.6 899.8,806.6 899.8,806.5 899.8,806.5 899.9,806.5 899.9,806.5 899.9,806.5 908.8,804.7 908.8,804.7 908.8,804.7 909.2,800 909.2,800 909.2,800 905.1,793.5 905.1,793.5 905.1,793.4 905.1,793.4 905.1,793.4 905.1,793.4 905.1,793.3 905.1,793.3 905.1,793.3 905.1,793.3 905.1,793.3 909.2,783 909.2,783 909.2,783 907.1,772.7 907.1,772.7 907.1,772.7 896.1,770.3 896.1,770.3 896.1,770.3 896.1,770.3 896,770.3 896,770.3 896,770.2 896,770.2 896,770.2 896,770.2 895.9,770.2 895.9,770.1 895.9,770.1 895.9,770.1 895.9,770.1 895.9,770 895.9,770 895.9,770 895.9,770 896,770 896,769.9 896,769.9 896,769.9 896,769.9 896,769.9 896.1,769.9 896.1,769.8 896.1,769.8 896.1,769.8 896.1,769.8 896.2,769.8 896.2,769.8 907.1,770.6 907.1,770.6 907.1,770.6 919.5,761.3 919.5,761.3 919.5,761.3 919.6,761.3 919.6,761.3 932,758.2 932,758.2 932,758.2 921.9,756.2 921.8,756.2 921.8,756.1 921.8,756.1 921.8,756.1 921.8,756.1 921.7,756.1 921.7,756.1 921.7,756.1 921.7,756 921.7,756 921.7,756 921.7,756 921.7,755.9 921.7,755.9 921.7,755.9 921.7,755.9 923.6,746.1 923.6,746.1 923.6,746 923.6,746 923.7,746 923.7,746 923.7,746 923.7,745.9 923.7,745.9 923.7,745.9 923.8,745.9 923.8,745.9 923.8,745.9 923.8,745.9 923.9,745.9 923.9,745.9 923.9,745.9 923.9,745.9 924,745.9 924,745.9 932,749.9 932,749.9 932,749.9 942.3,739.5 942.3,739.5 942.3,739.5 948.5,729.2 948.5,729.2 948.5,729.2 949.6,716.8 949.6,716.8 949.6,716.8 949.6,716.8 949.6,716.8 949.6,716.7 949.6,716.7 954.7,710.6 954.7,710.6 954.7,710.6 952.7,704.4 952.7,704.3 952.7,704.3 946.5,694 946.5,694 942.3,688.8 942.3,688.8 942.3,688.8 930,682.6 929.9,682.6 929.9,682.6 929.9,682.6 929.9,682.6 929.9,682.6 923.7,673.3 923.7,673.3 923.7,673.3 916.6,675.3 916.5,675.3 916.5,675.3 916.5,675.3 916.5,675.3 916.4,675.3 916.4,675.3 916.4,675.3 916.4,675.3 916.3,675.3 907.2,669.2 907.2,669.2 907.1,669.2 907.1,669.1 907.1,669.1 907.1,669.1 907.1,669.1 903,658.8 903,658.8 903,658.8 903,658.8 901.9,640.2 901.9,640.2 898.9,624.9 898.9,624.9 898.9,624.9 898.9,624.8 898.9,624.8 898.9,624.8 898.9,624.8 898.9,624.7 898.9,624.7 898.9,624.7 899,624.7 899,624.7 899,624.6 899,624.6 899,624.6 899.1,624.6 899.1,624.6 899.1,624.6 907.1,623.6 907.1,623.6 907.1,623.6 903.1,619.5 903,619.5 903,619.5 903,619.5 903,619.5 903,619.4 903,619.4 903,619.4 903,619.4 903,619.3 904,609.1 904,609.1 904,609.1 904,609.1 908.2,598.8 908.2,598.8 908.2,598.8 903,592.6 903,592.6 903,592.5 903,592.5 900,584.6 900,584.6 900,584.6 900,584.5 900,584.5 900,584.5 900,584.5 900,584.4 900,584.4 900,584.4 900,584.4 900,584.4 900.1,584.3 900.1,584.3 900.1,584.3 900.1,584.3 900.1,584.3 900.2,584.3 900.2,584.3 900.2,584.3 900.2,584.3 905,584.3 905.1,584.3 905.1,584.3 913.3,576 913.3,576 913.3,576 907.5,560.5 907.5,560.5 907.5,560.5 907.5,560.4 907.5,560.4 907.5,560.4 907.5,560.4 907.5,560.3 907.5,560.3 907.5,560.3 907.6,560.3 907.6,560.3 907.6,560.2 907.6,560.2 907.6,560.2 907.6,560.2 907.7,560.2 907.7,560.2 907.7,560.2 907.7,560.2 907.8,560.2 907.8,560.2 907.8,560.2 907.8,560.2 907.9,560.2 907.9,560.2 907.9,560.2 907.9,560.2 907.9,560.2 913.3,565.6 913.3,565.6 913.3,565.6 921.6,551.2 921.6,551.2 921.6,551.2 921.6,551.1 921.6,551.1 921.7,551.1 932,544.9 932,544.9 932,544.9 938.1,532.6 938.2,532.5 938.2,532.5 938.2,532.5 938.2,532.5 938.2,532.5 944.4,528.4 944.4,528.4 954.7,520.1 954.8,520.1 960.9,515.9 961,515.9 961,515.9 967.2,497.3 967.2,497.3 974.4,478.7 974.4,478.7 974.4,478.7 965.1,464.3 965.1,464.2 965.1,464.2 965.1,464.2 965.1,464.2 965.1,464.1 965.1,464.1 965.1,464.1 967.2,447.6 967.2,447.6 967.2,447.6 971.3,436.3 971.3,436.2 971.3,436.2 971.3,436.2 980,424.9 980,424.9 980,424.8 980,424.8 980,424.8 981.4,424 981.4,424 981.4,424 979.5,411.1 979.5,411.1 979.5,411 979.5,411 979.5,411 979.5,411 979.5,410.9 979.5,410.9 979.5,410.9 979.5,410.9 979.5,410.9 979.6,410.8 979.6,410.8 979.6,410.8 979.6,410.8 979.7,410.8 979.7,410.8 979.7,410.8 979.7,410.8 979.7,410.8 979.8,410.8 979.8,410.8 979.8,410.8 979.8,410.8 987.7,415.7 987.7,415.7 987.7,415.7 985.7,409 985.7,408.9 985.7,408.9 985.7,408.9 985.7,408.9 985.7,408.8 985.7,408.8 985.7,408.8 985.8,408.8 985.8,408.8 985.8,408.7 985.8,408.7 985.8,408.7 985.8,408.7 985.9,408.7 985.9,408.7 985.9,408.7 985.9,408.7 985.9,408.6 986,408.6 986,408.6 986,408.7 986,408.7 986.1,408.7 998,413.6 998,413.6 998,413.6 1002.1,407.5 1002.1,407.5 1002.1,407.5 1002.1,407.5 1002.2,407.4 1002.2,407.4 1002.2,407.4 1002.2,407.4 1002.2,407.4 1012.5,405 1012.5,405 1012.5,405 1012.5,405 1012.6,405 1014.5,405.4 1014.6,405.4 1014.6,405.4 1014.6,405.4 1024.9,410.5 1024.9,410.5 1024.9,410.5 1033.1,409.5 1033.1,409.5 1033.1,409.5 1033.2,409.5 1033.2,409.5 1033.2,409.5 1033.2,409.5 1033.3,409.6 1033.3,409.6 1033.3,409.6 1039.4,415.7 1039.4,415.7 1039.4,415.7 1039.4,415.7 1039.4,415.8 1039.4,415.8 1043.6,430.2 1043.6,430.2 1043.6,430.2 1048.7,440.4 1048.7,440.4 1048.7,440.5 1048.7,440.5 1048.7,440.5 1048.7,440.5 1048.7,440.6 1048.7,440.6 1048.7,440.6 1048.7,440.6 1048.7,440.7 1048.6,440.7 1045.7,444.6 1045.7,444.6 1045.7,444.6 1045.7,444.6 1045.7,444.6 1045.6,444.6 1045.6,444.6 1045.6,444.6 1045.6,444.7 1045.6,444.7 1045.5,444.7 1045.5,444.7 1045.5,444.6 1045.5,444.6 1039.4,442.6 1039.4,442.6 1039.4,442.6 1033.2,453 1033.2,453 1033.2,453 1032.2,461.2 1032.2,461.3 1032.2,461.3 1024.9,481.9 1024.9,481.9 1024.9,482 1024.9,482 1024.9,482 1017.7,490.2 1017.7,490.2 1017.7,490.3 1020.7,494.2 1020.7,494.2 1020.7,494.3 1020.7,494.3 1020.7,494.3 1020.7,494.3 1020.7,494.3 1020.7,494.4 1020.7,494.4 1020.7,494.4 1020.7,494.4 1020.7,494.5 1020.7,494.5 1020.7,494.5 1020.6,494.5 1020.6,494.5 1014.6,500.6 1014.6,500.6 1014.6,500.6 1014.5,500.6 1006.3,504.7 1006.3,504.7 1006.3,504.7 1004.2,517.1 1004.2,517.1 1004.2,517.1 1004.2,517.2 1004.2,517.2 1004.2,517.2 1004.2,517.2 998,523.4 998,523.4 998,523.4 1001.8,529.5 1001.9,529.5 1001.9,529.5 1001.9,529.6 1001.9,529.6 1001.9,529.6 1001.9,529.6 1001.9,529.7 1001.9,529.7 1001.9,529.7 1001.9,529.7 1001.9,529.8 1001.8,529.8 1001.8,529.8 1001.8,529.8 1001.8,529.8 1001.8,529.8 996.4,533.4 996.4,533.4 996.4,533.4 996.4,533.4 996.3,533.4 985.6,535.4 985.6,535.4 985.6,535.4 985.6,543.2 985.6,543.3 985.6,543.3 985.6,543.3 982.6,553.1 982.6,553.1 982.6,553.1 981.6,562.9 981.6,562.9 981.6,562.9 987.5,574.7 987.5,574.7 987.5,574.8 987.5,574.8 990.5,588.5 990.5,588.5 990.5,588.5 994.4,596.4 994.4,596.4 994.4,596.4 997.4,606.2 997.4,606.2 997.4,606.2 1001.3,614 1001.3,614 1001.3,614 1001.3,614.1 1001.3,614.1 1001.3,614.1 1001.3,614.1 1001.3,614.2 998.4,627.8 998.4,627.8 998.4,627.9 999.3,637.6 999.3,637.7 999.3,637.7 999.3,637.7 999.3,637.7 997.4,645.5 997.4,645.5 997.4,645.6 1001.2,649.4 1001.3,649.4 1001.3,649.5 1001.3,649.5 1001.3,649.5 1001.3,649.5 1001.3,649.6 1002.3,655.4 1002.3,655.4 1002.3,655.4 1007.2,659.3 1007.2,659.3 1011.1,663.2 1011.1,663.3 1011.1,663.2 1016.9,661.3 1017,661.3 1017,661.3 1017,661.3 1017,661.3 1017.1,661.3 1017.1,661.3 1017.1,661.3 1017.1,661.3 1028.8,667.2 1028.8,667.2 1034.7,669.1 1034.7,669.2 1034.7,669.1 1041.3,667.5 1041.3,667.5 1041.3,667.5 1041.4,667.5 1041.4,667.5 1041.4,667.5 1041.4,667.5 1041.5,667.5 1041.5,667.5 1041.5,667.6 1041.5,667.6 1041.5,667.6 1041.6,667.6 1041.6,667.6 1041.6,667.7 1041.6,667.7 1041.6,667.7 1041.6,667.7 1041.6,667.7 1041.6,667.8 1041.6,667.8 1041.6,667.8 1041.6,667.8 1041.6,667.9 1041.6,667.9 1041.6,667.9 1041.5,667.9 1041.5,667.9 1041.5,668 1032.8,674.1 1032.8,674.1 1032.8,674.1 1031.8,684.9 1031.8,684.9 1031.8,684.9 1038.7,684.9 1038.7,684.9 1038.7,684.9 1041.6,682 1041.6,682 1041.6,681.9 1041.6,681.9 1041.7,681.9 1041.7,681.9 1044.3,681 1044.3,681 1044.4,681 1044.4,681 1044.4,681 1044.4,681 1044.5,681 1044.5,681 1044.5,681.1 1044.5,681.1 1044.5,681.1 1044.6,681.1 1044.6,681.1 1044.6,681.1 1044.6,681.2 1044.6,681.2 1044.6,681.2 1044.6,681.2 1046.5,689.8 1046.5,689.8 1046.5,689.8 1054.4,688.8 1054.4,688.8 1054.4,688.8 1058.3,679.1 1058.3,679.1 1058.3,679.1 1058.3,679.1 1058.3,679 1058.4,679 1058.4,679 1058.4,679 1058.4,679 1058.5,679 1058.5,679 1070.1,677 1070.1,677 1070.2,677 1078,673.1 1078,673.1 1078,673.1 1078,673.1 1078,673.1 1078.1,673.1 1081.9,673.1 1081.9,673.1 1082,673.1 1085.8,668.2 1085.8,668.2 1085.9,668.2 1085.9,668.2 1085.9,668.2 1085.9,668.2 1086,668.1 1101.6,663.3 1101.6,663.3 1101.6,663.2 1105.5,655.6 1105.5,655.6 1105.5,655.5 1105.5,655.5 1105.5,655.5 1105.5,655.5 1105.5,655.5 1105.6,655.5 1105.6,655.5 1105.6,655.4 1105.6,655.4 1105.7,655.4 1105.7,655.4 1105.7,655.4 1105.7,655.4 1105.8,655.5 1111.4,657.3 1111.4,657.3 1111.5,657.3 1115.3,645.8 1115.3,645.7 1115.3,645.7 1115.3,645.7 1115.4,645.7 1115.4,645.6 1115.4,645.6 1115.4,645.6 1115.4,645.6 1115.5,645.6 1115.5,645.6 1115.5,645.6 1115.5,645.6 1115.6,645.6 1115.6,645.6 1121.3,646.5 1121.3,646.5 1121.3,646.5 1131.1,643.6 1131.1,643.6 1131.1,643.6 1137,637.7 1137,637.7 1137,637.7 1137,637.7 1137,637.7 1137.1,637.7 1137.1,637.7 1144.9,635.7 1144.9,635.7 1144.9,635.7 1151.7,630.8 1151.7,630.8 1151.8,630.8 1151.8,630.8 1151.8,630.8 1151.8,630.8 1160.6,629.8 1160.6,629.8 1160.6,629.8 1169.2,619.3 1169.2,619.3 1169.3,619.3 1169.3,619.2 1169.3,619.2 1169.3,619.2 1169.4,619.2 1169.4,619.2 1169.4,619.2 1169.4,619.2 1169.4,619.2 1169.5,619.2 1169.5,619.2 1169.5,619.2 1169.5,619.2 1169.6,619.2 1169.6,619.3 1169.6,619.3 1169.6,619.3 1169.6,619.3 1169.6,619.3 1171.4,622.8 1171.4,622.9 1171.4,622.9 1171.4,622.9 1171.4,622.9 1171.4,622.9 1171.4,623 1171.4,623 1171.4,623 1171.4,623 1169.5,627.8 1169.5,627.8 1169.5,627.9 1173.1,630.6 1173.1,630.6 1173.1,630.6 1173.2,630.6 1173.2,630.6 1173.2,630.7 1173.2,630.7 1173.2,630.7 1173.2,630.7 1173.2,630.8 1173.2,630.8 1173.2,630.8 1173.2,630.8 1173.2,630.9 1173.2,630.9 1173.2,630.9 1173.2,630.9 1173.1,630.9 1173.1,631 1173.1,631 1173.1,631 1168.5,633.7 1168.5,633.7 1168.5,633.8 1185.2,642 1185.2,642 1185.2,642 1199.9,636.1 1199.9,636.1 1199.9,636.1 1199.9,636.1 1200,636.1 1200,636.1 1200,636.1 1200,636.1 1205.7,637.6 1205.8,637.7 1205.8,637.7 1205.8,637.7 1205.8,637.7 1205.8,637.7 1205.9,637.7 1205.9,637.8 1205.9,637.8 1205.9,637.8 1207.8,642.6 1207.8,642.6 1207.8,642.6 1216.4,643.5 1216.4,643.6 1216.4,643.6 1216.4,643.6 1216.5,643.6 1216.5,643.6 1216.5,643.6 1216.5,643.6 1216.5,643.6 1216.6,643.7 1216.6,643.7 1216.6,643.7 1216.6,643.7 1216.6,643.8 1216.6,643.8 1216.6,643.8 1216.6,643.8 1216.6,643.8 1216.6,643.9 1214.8,649.7 1214.8,649.7 1214.7,649.7 1214.7,649.8 1214.7,649.8 1214.7,649.8 1214.7,649.8 1214.7,649.8 1214.6,649.8 1214.6,649.9 1214.6,649.9 1214.6,649.9 1214.6,649.9 1214.5,649.9 1193.1,650.5 1193.1,650.5 1193.1,650.5 1188.2,659.6 1188.2,659.6 1188.2,659.6 1188.2,659.7 1188.2,659.7 1188.1,659.7 1188.1,659.7 1188.1,659.7 1188.1,659.7 1188.1,659.7 1188,659.7 1177.3,661.3 1177.3,661.3 1177.3,661.3 1176.4,667 1176.4,667 1176.4,667 1176.4,667 1176.4,667.1 1176.3,667.1 1176.3,667.1 1176.3,667.1 1176.3,667.1 1176.3,667.2 1176.2,667.2 1176.2,667.2 1176.2,667.2 1176.2,667.2 1176.1,667.2 1168.1,667.2 1168.1,667.2 1168.1,667.2 1169.5,679 1169.5,679 1169.5,679 1173.1,683.6 1173.2,683.6 1173.2,683.6 1173.2,683.6 1173.2,683.7 1173.2,683.7 1173.2,683.7 1173.2,683.7 1173.2,683.8 1173.2,683.8 1173.2,683.8 1173.2,683.8 1173.2,683.9 1173.2,683.9 1173.1,683.9 1173.1,683.9 1173.1,683.9 1173.1,683.9 1173.1,684 1173,684 1173,684 1173,684 1168.5,684.9 1168.5,684.9 1137,687.8 1137,687.8 1137,687.8 1123.3,686.9 1123.3,686.9 1123.2,686.9 1117.5,689.7 1117.5,689.7 1117.4,689.8 1117.4,689.8 1117.4,689.8 1117.4,689.8 1117.3,689.8 1117.3,689.8 1117.3,689.7 1117.3,689.7 1117.2,689.7 1117.2,689.7 1113.4,686.9 1113.4,686.9 1113.4,686.9 1111.5,691.7 1111.5,691.7 1111.5,691.7 1111.5,691.7 1111.4,691.7 1111.4,691.8 1111.4,691.8 1111.4,691.8 1111.4,691.8 1111.3,691.8 1097.7,696.7 1097.7,696.7 1097.7,696.7 1097.6,696.7 1094.7,696.7 1094.7,696.7 1094.7,696.7 1085.9,701.6 1085.9,701.6 1085.9,701.6 1082,708.3 1082,708.4 1082,708.4 1082,708.4 1082,708.4 1082,708.4 1081.9,708.4 1081.9,708.4 1081.9,708.4 1081.9,708.5 1081.8,708.5 1081.8,708.5 1081.8,708.5 1081.8,708.5 1077,707.5 1077,707.5 1077,707.5 1078.9,713.2 1078.9,713.2 1078.9,713.2 1078.9,713.2 1078.9,713.3 1078.9,713.3 1078.9,713.3 1078.9,713.3 1078.9,713.4 1078.9,713.4 1078.9,713.4 1078.9,713.4 1078.8,713.4 1078.8,713.5 1078.8,713.5 1078.8,713.5 1078.8,713.5 1065.2,717.9 1065.2,717.9 1065.2,717.9 1067.2,722.2 1067.2,722.2 1067.2,722.2 1067.2,722.3 1067.2,722.3 1067.2,722.3 1067.2,722.3 1066.2,728.2 1066.2,728.2 1066.2,728.2 1071.9,730 1071.9,730 1071.9,730.1 1071.9,730.1 1071.9,730.1 1072,730.1 1072,730.1 1072,730.1 1072,730.2 1072,730.2 1072,730.2 1072,730.2 1072,730.3 1072,730.3 1072,730.3 1072,730.3 1072,730.3 1072,730.4 1070.1,735 1070.1,735 1070.2,735 1077.2,737.7 1077.2,737.7 1077.2,737.7 1077.3,737.7 1077.3,737.7 1077.3,737.8 1077.3,737.8 1077.3,737.8 1077.3,737.8 1077.3,737.8 1077.3,737.9 1077.4,737.9 1077.4,737.9 1077.4,737.9 1077.4,738 1077.3,738 1077.3,738 1077.3,738 1077.3,738.1 1077.3,738.1 1077.3,738.1 1077.3,738.1 1077.2,738.1 1077.2,738.1 1077.2,738.1 1077.2,738.2 1077.2,738.2 1073.1,739 1073.1,739 1073.1,739 1072.1,747.8 1072.1,747.8 1072.1,747.8 1079,757.7 1079,757.7 1079,757.7 1085.8,755.7 1085.8,755.7 1085.8,755.7 1085.8,755.7 1085.8,755.7 1085.9,755.7 1085.9,755.7 1085.9,755.7 1085.9,755.8 1086,755.8 1086,755.8 1091.8,760.6 1091.8,760.6 1091.8,760.6 1095.7,755.8 1095.7,755.7 1095.7,755.7 1095.7,755.7 1095.7,755.7 1095.8,755.7 1095.8,755.7 1095.8,755.7 1100.3,754.8 1100.4,754.8 1100.4,754.8 1100.4,754.8 1100.4,754.8 1100.5,754.8 1100.5,754.8 1100.5,754.8 1100.5,754.8 1100.5,754.8 1100.6,754.8 1100.6,754.8 1100.6,754.9 1100.6,754.9 1100.6,754.9 1100.6,754.9 1100.6,755 1100.6,755 1100.6,755 1101.6,775.4 1101.6,775.4 1101.6,775.4 1101.6,775.4 1101.6,775.4 1105.5,795 1105.5,795 1107.5,806.7 1107.5,806.8 1107.5,806.8 1107.5,806.8 1107.5,806.8 1107.5,806.9 1107.5,806.9 1107.5,806.9 1101.6,816.6 1101.6,816.7 1101.6,816.7 1101.6,816.7 1095.8,821.5 1095.8,821.6 1095.7,821.6 1095.7,821.6 1095.7,821.6 1095.7,821.6 1095.6,821.6 1087.9,822.6 1087.9,822.6 1087.9,822.6 1087.9,822.6 1087.8,822.6 1087.8,822.5 1087.8,822.5 1087.8,822.5 1081,818.7 1081,818.6 1081,818.6 1080.9,818.6 1080.9,818.6 1074.1,808.8 1074.1,808.8 1074.1,808.8 1062.3,799 1062.3,799 1056.4,793.1 1056.4,793.1 1056.4,793.1 1035.7,803.9 1035.7,803.9 1035.7,803.9 1031.8,814.7 1031.8,814.7 1031.8,814.7 1032.8,824.5 1032.8,824.5 1032.8,824.5 1032.8,824.5 1032.8,824.6 1032.7,824.6 1026.9,838.3 1026.9,838.3 1026.9,838.3 1027.9,854 1027.9,854 1027.9,854 1030.8,867.8 1030.8,867.8 1033.8,876.5 1033.8,876.5 1033.8,876.5 1033.8,876.5 1033.8,876.5 1033.8,876.5 1037.3,897 1037.4,897.1 1037.4,897.1 1037.4,897.1 1037.3,897.1 1037.3,897.2 1037.3,897.2 1037.3,897.2 1037.3,897.2 1037.3,897.2 1037.3,897.3 1037.3,897.3 1037.2,897.3 1037.2,897.3 1037.2,897.3 1037.2,897.3 1037.1,897.3 1037.1,897.3 1037.1,897.3 1037.1,897.3 1037.1,897.3 1037,897.3 1037,897.3 1037,897.3 1037,897.3 1036.9,897.3 1036.9,897.3 1036.7,897 1036.7,897 1036.7,897 1033.8,910.8 1033.8,910.8 1028.4,927 1028.4,927 1028.3,927 1028.3,927 1028.3,927.1 1028.3,927.1 1025,930.4 1024.9,930.4 1024.9,930.4 1024.9,930.5 1024.9,930.5 1024.9,930.5 1024.8,930.5 1024.8,930.5 1011.5,932.4 1011.5,932.4 1011.5,932.4 1010.7,950.1 1010.7,950.1 1010.7,950.1 1014,946.3 1014,946.3 1014.1,946.2 1014.1,946.2 1014.1,946.2 1014.1,946.2 1014.2,946.2 1014.2,946.2 1022.2,944.6 1022.2,944.6 1022.2,944.6 1022.3,944.6 1022.3,944.6 1022.3,944.6 1022.3,944.6 1022.4,944.6 1022.4,944.6 1022.4,944.6 1022.4,944.7 1022.4,944.7 1022.5,944.7 1022.5,944.7 1022.5,944.7 1022.5,944.8 1022.5,944.8 1022.5,944.8 1022.5,944.8 1022.5,944.9 1022.5,944.9 1022.5,944.9 1022.5,944.9 1022.5,944.9 1022.5,945 1022.4,945 1022.4,945 1022.4,945 1022.4,945 1003.3,959 1003.3,959 993.4,965.9 993.4,965.9 993.4,965.9 994.8,968.5 994.8,968.5 994.8,968.5 994.8,968.6 994.9,968.6 994.9,968.6 994.9,968.6 994.8,968.7 994.8,968.7 994.8,968.7 994.8,968.7 994.8,968.7 994.8,968.8 994.8,968.8 994.8,968.8 994.7,968.8 994.7,968.8 994.7,968.8 994.7,968.8 994.6,968.8 994.6,968.8 994.6,968.9 994.6,968.8 994.5,968.8 994.5,968.8 994.5,968.8 994.5,968.8 994.4,968.8 994.4,968.8 994.4,968.8 994.4,968.8 994.4,968.8 994.4,968.7 992.5,965.9 992.5,965.9 992.4,965.9 981.6,963.9 981.6,963.9 980.1,963.5 980.1,963.5 980.1,963.5 980.1,963.5 980.1,963.4 980,963.4 980,963.4 980,963.4 980,963.4 980,963.3 980,963.3 980,963.3 980,963.3 980,963.2 980,963.2 980,963.2 980,963.2 980,963.1 980,963.1 980,963.1 980,963.1 980,963.1 972.6,957.2 972.5,957.2 972.5,957.2 972.5,957.1 972.5,957.1 972.5,957.1 967.9,947.2 967.9,947.2 967.9,947.2 960,947.2 960,947.2 960,947.2 960.7,947.7 960.7,947.7 960.7,947.8 960.7,947.8 960.7,947.8 960.7,947.8 960.8,947.8 960.8,947.9 960.8,947.9 960.8,947.9 960.8,947.9 960.8,948 960.8,948 960.7,948 960.7,948 960.7,948.1 960.7,948.1 960.7,948.1 960.7,948.1 960.7,948.1 960.6,948.1 960.6,948.2 960.6,948.2 960.6,948.2 960.6,948.2 948,950.1 948,950.1 947.9,950.1 918.1,965 918.1,965 918.1,965 907,977 907,977.1 907,977.1 906.9,977.1 906.9,977.1 871.6,992 871.5,992 867.8,993.8 867.8,993.9 856.7,998.5 856.7,998.5 856.7,998.5 856.6,998.5 856.6,998.5 856.6,998.5 856.6,998.5 851.1,997.6 851.1,997.6 851.1,997.6 851,997.6 851,997.6 851,997.5 846.4,993.9 846.4,993.8 840.8,988.3 840.8,988.3 840.8,988.3 836.3,991 836.3,991 836.3,991 836.3,991 836.2,991 836.2,991 836.2,991 836.2,991 836.1,991 836.1,991 836.1,991 836.1,991 836,990.9 836,990.9 836,990.9 830.6,985.5 830.6,985.5 830.6,985.5 825.1,983.6 825,983.6 825,983.6 825,983.6 825,983.6 825,983.6 824.9,983.5 824.9,983.5 821.2,977.1 821.2,977.1 821.2,977.1 817.5,978.9 817.5,978.9 798.9,985.5 798.9,985.5 798.9,985.5 795.2,990 795.2,990.1 795.2,990.1 795.2,990.1 795.1,990.1 795.1,990.1 795.1,990.1 795.1,990.1 795,990.1 782.1,991.1 782.1,991.1 782.1,991.1 776.7,1002 776.6,1002 776.6,1002 776.6,1002 776.6,1002 776.6,1002.1 776.6,1002.1 776.5,1002.1 776.5,1002.1 776.5,1002.1 776.5,1002.1 776.4,1002.1 776.4,1002.1 776.4,1002.1 776.4,1002.1 776.3,1002.1 776.3,1002.1 776.3,1002.1 776.3,1002.1 769.1,996.6 769.1,996.6 769.1,996.6 761.8,1000.3 761.8,1000.3 761.8,1000.3 761.7,1000.3 761.7,1000.3 761.7,1000.3 761.7,1000.3 761.6,1000.3 761.6,1000.3 761.6,1000.3 761.6,1000.3 761.5,1000.3 761.5,1000.2 761.5,1000.2 761.5,1000.2 759,996.8 759,996.8 758.9,996.8 758.9,996.8 758.9,996.8 758.9,996.7 758.9,996.7 758.9,996.7 758.9,996.7 758.9,996.6 758.9,996.6 758.9,996.6 758.9,996.6 759,996.5 759,996.5 759,996.5 759,996.5 768.1,989.2 768.1,989.2 768.1,989.2 765.3,981.7 765.3,981.7 765.3,981.7 743.1,980.8 743,980.8 743,980.8 743,980.8 743,980.8 742.9,980.8 742.9,980.8 736.6,976.2 736.5,976.2 736.5,976.2 736.5,976.2 736.5,976.1 736.5,976.1 736.5,976.1 736.5,976.1 736.5,976.1 736.4,976 735.5,966.8 735.5,966.8 735.5,966.8 731.8,961.2 731.8,961.2 731.8,961.2 722.1,958 722.1,958 722,958 722,958 722,958 722,957.9 722,957.9 722,957.9 721.9,957.9 721.9,957.9 721.9,957.8 721.9,957.8 721.9,957.8 721.9,957.8 721.9,957.7 721.9,957.7 721.9,957.7 721.9,957.7 721.9,957.6 722,957.6 722,957.6 722,957.6 722,957.6 722,957.6 722,957.5 722.1,957.5 722.1,957.5 722.1,957.5 722.1,957.5 722.2,957.5 729.9,957.5 729.9,957.5 729.9,957.5 737.4,953.8 737.4,953.8 737.4,953.8 728.1,946.3 728.1,946.3 728.1,946.3 724.5,949 724.5,949 724.5,949 724.5,949 724.5,949 724.4,949 724.4,949 724.4,949 724.4,949 724.3,949 724.3,949 724.3,949 724.3,949 724.2,949 724.2,949 724.2,949 724.2,948.9 720.8,944.7 720.8,944.7 720.8,944.7 720.8,944.6 720.8,944.6 720.7,944.6 720.7,944.6 720.7,944.5 720.7,944.5 720.8,944.5 720.8,944.5 720.8,944.4 720.8,944.4 720.8,944.4 720.8,944.4 720.8,944.4 720.8,944.3 720.9,944.3 729.9,938.9 729.9,938.9 729.9,938.9 726.3,927.9 726.3,927.9 726.3,927.8 726.3,927.8 726.3,927.8 726.3,927.8 726.3,927.7 726.3,927.7 726.3,927.7 726.3,927.7 726.3,927.6 726.3,927.6 726.3,927.6 726.4,927.6 731.8,924 731.8,924 731.8,924 724.9,918.8 724.9,918.8 724.9,918.8 724.9,918.8 724.9,918.8 724.9,918.7 724.9,918.7 724.9,918.7 724.8,918.7 724.8,918.6 724.8,918.6 724.9,918.6 724.9,918.6 724.9,918.5 724.9,918.5 724.9,918.5 724.9,918.5 724.9,918.5 724.9,918.4 725,918.4 725,918.4 725,918.4 725,918.4 725,918.4 725.1,918.4 725.1,918.4 729.9,918.4 729.9,918.4 729.9,918.4 737.4,914.7 737.4,914.7 737.4,914.7 739.2,905.4 739.3,905.3 739.3,905.3 743.9,894.2 743.9,894.2 743.9,894.2 743.9,894.2 743.9,894.2 743.9,894.1 744,894.1 744,894.1 750.2,890.6 750.2,890.5 750.3,890.5 750.3,890.5 750.3,890.5 750.3,890.5 750.4,890.5 750.4,890.5 750.4,890.5 750.4,890.5 750.5,890.6 750.5,890.6 750.5,890.6 750.5,890.6 750.5,890.6 750.5,890.6 750.6,890.7 754.2,897 754.2,897 754.2,897 760.7,883 760.7,883 760.7,883 758.8,876.5 758.8,876.5 758.8,876.5 747,879.2 746.9,879.2 746.9,879.2 746.9,879.2 746.9,879.2 746.8,879.2 746.8,879.2 746.8,879.2 746.8,879.2 746.8,879.2 746.7,879.1 746.7,879.1 746.7,879.1 746.7,879.1 746.7,879.1 746.7,879 746.7,879 746.7,879 744.8,868.1 744.8,868.1 742.1,857.8 742,857.8 742,857.8 733.7,853.2 733.7,853.2 733.7,853.2 724.4,855 724.3,855 724.3,855 715,861.5 715,861.6 715,861.6 717.7,875.1 717.7,875.1 717.7,875.1 717.7,875.1 717.7,875.2 717.7,875.2 717.7,875.2 717.7,875.2 717.7,875.3 717.7,875.3 717.7,875.3 717.7,875.3 717.6,875.3 717.6,875.3 717.6,875.4 717.6,875.4 717.5,875.4 717.5,875.4 717.5,875.4 717.5,875.4 717.4,875.4 717.4,875.4 717.4,875.4 713.3,873.7 713.3,873.7 713.2,873.7 713.2,873.7 713.2,873.7 713.2,873.6 713.2,873.6 713.2,873.6 713.2,873.6 713.1,873.6 713.1,873.5 711.3,864.4 711.3,864.3 711.3,864.4 703.9,871.8 703.9,871.8 703.8,871.8 702.1,878.8 702.1,878.8 702.1,878.9 702.1,878.9 702.1,878.9 702,878.9 702,878.9 702,879 702,879 702,879 701.9,879 701.9,879 701.9,879 701.9,879 701.8,879 701.8,879 701.8,879 701.8,879 701.8,879 701.7,879 701.7,879 701.7,879 701.7,878.9 698.3,875.5 698.3,875.5 698.3,875.5 687.1,873.7 687.1,873.7 687.1,873.7 686.1,886.7 686.1,886.7 686.2,886.7 688,895.9 688,895.9 688,896 688,896 688,896 688,896 688,896.1 688,896.1 688,896.1 684.3,901.6 684.3,901.6 684.3,901.6 686.1,909 686.1,909 686.1,909.1 686.1,909.1 686.1,909.1 684.3,924 684.3,924 684.3,924 690.6,922.2 690.7,922.2 690.7,922.2 690.7,922.2 690.7,922.2 690.8,922.2 690.8,922.2 690.8,922.2 690.8,922.2 690.8,922.2 690.9,922.2 690.9,922.2 690.9,922.2 690.9,922.3 694.5,927.7 694.5,927.7 694.5,927.7 694.5,927.7 699.2,944.4 699.2,944.4 699.2,944.5 699.2,944.5 699.2,944.5 699.2,944.5 697.3,954.7 697.3,954.7 697.3,954.7 697.3,954.7 702,964.9 702,965 702,965 702,965 703.8,976 703.8,976 703.8,976 703.8,976.1 703.8,976.1 703.8,976.1 703.8,976.1 703.8,976.2 703.8,976.2 703.8,976.2 703.8,976.2 703.7,976.2 703.7,976.2 698.3,979.9 698.3,979.9 698.3,979.9 700.1,983.6 700.1,983.6 700.1,983.6 706.5,989.1 706.5,989.1 706.5,989.1 706.6,989.1 706.6,989.2 706.6,989.2 706.6,989.2 706.6,989.2 706.6,989.3 706.6,989.3 706.6,989.3 706.6,989.3 706.6,989.4 703.9,996.6 703.9,996.6 703.9,996.7 707.6,1002.2 707.6,1002.2 707.6,1002.2 708.4,1002.9 708.4,1002.9 708.4,1002.9 708.4,1002.9 708.4,1003 708.4,1003 708.4,1003 708.5,1003 708.5,1003.1 708.5,1003.1 708.5,1003.1 708.5,1003.1 708.4,1003.2 708.4,1003.2 708.4,1003.2 708.4,1003.2 708.4,1003.2 708.4,1003.3 708.4,1003.3 708.3,1003.3 708.3,1003.3 708.3,1003.3 708.3,1003.3 708.3,1003.3 708.2,1003.3 698,1004.3 698,1004.3 698,1004.3 694.1,1017 694.1,1017 694.1,1017 694.1,1017.1 694.1,1017.1 687.3,1024.8 687.3,1024.8 687.3,1024.8 687.2,1024.8 687.2,1024.9 687.2,1024.9 687.2,1024.9 687.2,1024.9 687.1,1024.9 687.1,1024.9 687.1,1024.9 687.1,1024.9 683.4,1024 683.4,1024 683.4,1023.9 683.3,1023.9 683.3,1023.9 683.3,1023.9 683.3,1023.9 683.3,1023.9 683.3,1023.9 683.2,1023.8 683.2,1023.8 683.2,1023.8 680.3,1014.1 680.3,1014.1 680.3,1014.1 654.8,1013.5 654.8,1013.5 654.7,1013.5 651.8,1017 651.8,1017 651.8,1017 653.8,1027.8 653.8,1027.9 653.8,1027.9 653.8,1028.3 653.8,1028.3 653.8,1028.3 653.8,1028.3 653.7,1028.3 653.7,1028.4 653.7,1028.4 653.7,1028.4 653.7,1028.4 653.7,1028.4 653.7,1028.5 653.6,1028.5 653.6,1028.5 653.6,1028.5 653.6,1028.5 653.5,1028.5 653.5,1028.5 653.5,1028.5 653.5,1028.5 649.7,1027.8 649.6,1027.8 649.6,1027.8 649.6,1027.8 649.6,1027.8 649.5,1027.8 649.5,1027.8 649.5,1027.8 646.7,1024.2 646.7,1024.2 646.7,1024.2 624.9,1024.2 624.9,1024.2 624.9,1024.2 608.3,1028.5 608.3,1028.6 608.3,1028.6 604.6,1031.4 604.6,1031.5 595.9,1038 595.9,1038 587.1,1044.1 587.1,1044.1 587,1044.1 587,1044.1 587,1044.1 587,1044.1 586.9,1044.1 586.9,1044.1 586.9,1044.1 586.9,1044.1 586.9,1044.1 586.8,1044.1 586.8,1044.1 586.8,1044.1 586.8,1044.1 586.8,1044.1 586.7,1044 586.7,1044 586.7,1044 586.7,1044 586.7,1044 586.7,1043.9 586.7,1043.9 586.7,1043.9 586.7,1043.9 586.7,1043.8 588.7,1036.5 588.7,1036.5 588.7,1036.5 588,1033.6 588,1033.6 588,1033.6 584.4,1038 584.3,1038 584.3,1038 583.6,1043.8 583.6,1043.8 580,1059.7 580,1059.7 580,1059.7 574.2,1072.7 574.2,1072.8 567,1085.7 567,1085.7 567,1085.7 567,1085.8 566.9,1085.8 566.9,1085.8 566.9,1085.8 566.9,1085.8 566.9,1085.8 559,1088 559,1088 559,1088 559.7,1095.1 559.7,1095.1 559.7,1095.1 559.7,1095.1 559.7,1095.2 559.7,1095.2 559.7,1095.2 559.7,1095.2 559.6,1095.2 559.6,1095.3 559.6,1095.3 559.6,1095.3 559.6,1095.3 548.1,1101.7 548.1,1101.7 548.1,1101.7 556.3,1105.9 556.4,1105.9 556.4,1105.9 556.4,1105.9 556.4,1105.9 556.4,1105.9 556.4,1105.9 556.5,1106 556.5,1106 556.5,1106 556.5,1106 556.5,1106.1 556.5,1106.1 556.5,1106.1 556.5,1106.1 556.5,1106.2 556.4,1106.2 556.4,1106.2 556.4,1106.2 556.4,1106.2 556.4,1106.3 556.4,1106.3 556.3,1106.3 556.3,1106.3 554.5,1107.1 554.5,1107.1 554.4,1107.1 554.4,1107.1 554.4,1107.1 554.4,1107.1 554.3,1107.1 554.3,1107.1 554.3,1107.1 554.3,1107.1 554.2,1107.1 554.2,1107.1 554.2,1107.1 553.9,1106.8 553.9,1106.8 553.9,1106.8 540.9,1108.3 540.9,1108.3 540.9,1108.3 543.8,1111.9 543.8,1111.9 543.8,1111.9 554.2,1107.3 554.2,1107.2 554.2,1107.2 554.2,1107.2 554.3,1107.2 554.3,1107.2 554.3,1107.2 554.3,1107.2 554.4,1107.3 554.4,1107.3 554.4,1107.3 554.4,1107.3 554.4,1107.3 562.5,1114.7 562.6,1114.7 562.6,1114.8 562.6,1114.8 562.6,1114.8 562.6,1114.8 562.6,1114.8 562.6,1114.9 563.3,1118.8 563.3,1118.8 563.3,1118.8 563.3,1118.9 563.3,1118.9 563.3,1118.9 563.3,1118.9 563.2,1119 563.2,1119 563.2,1119 563.2,1119 563.2,1119 563.2,1119 563.1,1119.1 563.1,1119.1 563.1,1119.1 563.1,1119.1 563,1119.1 563,1119.1 563,1119.1 548.1,1117 548.1,1117 539.4,1115.5 539.4,1115.5 539.4,1115.5 535.8,1116.2 535.8,1116.2 535.8,1116.2 535.8,1116.2 535.8,1116.2 523.5,1121.3 523.5,1121.3 511.5,1127.4 511.4,1127.4 511.4,1127.4 511.4,1127.4 511.4,1127.4 511.3,1127.4 511.3,1127.4 511.3,1127.4 511.3,1127.4 511.2,1127.4 511.2,1127.4 511.2,1127.4 511.2,1127.4 511.2,1127.4 501.8,1128.4 501.8,1128.4 483.1,1132.3 483.1,1132.3 483.1,1132.3 479.1,1141.1 479.1,1141.1 479.1,1141.1 478.2,1163.6 478.2,1163.7 478.2,1163.7 478.1,1163.7 478.1,1163.7 478.1,1163.8 478.1,1163.8 478.1,1163.8 478.1,1163.8 478.1,1163.8 471.3,1168.7 471.3,1168.7 461.5,1174.6 461.5,1174.6 461.4,1174.6 461.4,1174.6 446.7,1177.5 446.7,1177.5 432.9,1182.4 432.9,1182.4 432.9,1182.4 428,1191.3 428,1191.3 428,1191.3 431.8,1197.5 431.8,1197.5 431.8,1197.6 431.8,1197.6 431.8,1197.6 431.8,1197.6 431.8,1197.7 431.8,1197.7 431.8,1197.7 431.8,1197.7 431.8,1197.8 431.8,1197.8 431.8,1197.8 431.7,1197.8 431.7,1197.8 431.7,1197.9 431.7,1197.9 431.7,1197.9 431.6,1197.9 416.3,1203.1 416.3,1203.1 416.3,1203.1 416.2,1203.1 416.2,1203.1 416.2,1203.1 416.2,1203.1 416.1,1203.1 416.1,1203 405.4,1197.2 405.4,1197.2 405.4,1197.2 389.8,1193.3 389.7,1193.3 389.7,1193.3 389.7,1193.3 389.7,1193.2 389.7,1193.2 389.6,1193.2 389.6,1193.2 389.6,1193.2 389.6,1193.2 385.8,1185.5 385.8,1185.5 385.8,1185.5 385.8,1185.5 385.8,1185.4 385.8,1185.4 385.8,1185.4 385.8,1185.4 385.8,1185.4 385.8,1185.3 385.8,1185.3 385.8,1185.3 385.8,1185.3 388.7,1182.1 388.7,1182 388.7,1182 386.7,1178.9 386.7,1178.9 386.7,1178.9 373,1178.5 373,1178.5 372.9,1178.5 372.9,1178.5 372.9,1178.5 372.9,1178.5 367,1175 367,1175 367,1175 369,1184.4 369,1184.4 372.9,1200.1 372.9,1200.1 372.9,1200.2 372.9,1200.2 371.9,1211.9 371.9,1212 370,1220.8 370,1220.8 370,1220.8 373.2,1227.1 373.2,1227.1 373.2,1227.1 373.2,1227.1 373.2,1227.2 373.2,1227.2 373.2,1227.2 373.2,1227.2 373.2,1227.3 373.2,1227.3 373.2,1227.3 373.2,1227.3 373.2,1227.3 373.2,1227.4 373.1,1227.4 373.1,1227.4 373.1,1227.4 373.1,1227.4 373,1227.4 373,1227.4 373,1227.4 373,1227.4 373,1227.4 372.9,1227.4 372.9,1227.4 372.9,1227.4 362.1,1222.8 362.1,1222.8 362.1,1222.8 356.3,1225.3 356.3,1225.3 356.2,1225.3 356.2,1225.3 356.2,1225.3 356.2,1225.3 356.1,1225.3 356.1,1225.3 348.3,1222.8 348.3,1222.8 348.3,1222.8 335.8,1227.6 335.7,1227.6 335.7,1227.6 335.7,1227.6 335.7,1227.6 335.6,1227.6 335.6,1227.6 335.6,1227.6 335.6,1227.6 335.6,1227.6 335.5,1227.6 335.5,1227.6 335.5,1227.5 335.5,1227.5 335.5,1227.5 335.5,1227.5 325.7,1208.4 325.7,1208.4 325.7,1208.4 314,1210.4 314,1210.4 314,1210.4 313.9,1210.4 313.9,1210.4 313.9,1210.3 313.9,1210.3 313.8,1210.3 310,1208 310,1208 310,1208 308.7,1213.6 308.7,1213.6 308.7,1213.6 308.7,1213.6 308.7,1213.7 308.6,1213.7 308.6,1213.7 308.6,1213.7 308.6,1213.7 308.6,1213.7 308.5,1213.7 308.5,1213.8 308.5,1213.8 308.5,1213.8 308.4,1213.8 308.4,1213.8 308.4,1213.8 308.4,1213.7 308.3,1213.7 308.3,1213.7 303.1,1210.4 303.1,1210.4 303.1,1210.4 296.2,1211 296.2,1211 296.2,1211 297,1212.5 297,1212.5 297,1212.6 297,1212.6 297,1212.6 297,1212.6 297,1212.7 297,1212.7 297,1212.7 297,1212.7 297,1212.8 297,1212.8 297,1212.8 297,1212.8 296.9,1212.8 296.9,1212.8 296.9,1212.9 296.9,1212.9 296.8,1212.9 296.8,1212.9 296.8,1212.9 296.8,1212.9 296.8,1212.9 283.4,1211.6 283.4,1211.6 283.4,1211.6 271.6,1213.9 271.6,1213.9 271.6,1213.9 268.7,1219.8 268.7,1219.8 268.7,1219.8 271.6,1225.7 271.6,1225.7 271.6,1225.7 281.6,1223.9 281.6,1223.9 281.6,1223.9 281.7,1223.9 281.7,1223.9 281.7,1223.9 281.7,1223.9 281.7,1223.9 281.8,1223.9 281.8,1224 281.8,1224 281.8,1224 281.8,1224 281.8,1224 281.9,1224.1 281.9,1224.1 281.9,1224.1 281.9,1224.1 281.9,1224.2 281.9,1224.2 281.9,1224.2 281.9,1224.2 281.8,1224.3 281.8,1224.3 281.8,1224.3 281.8,1224.3 281.8,1224.3 273.6,1231.6 273.6,1231.6 273.6,1231.6 280.7,1235.2 280.8,1235.2 280.8,1235.2 280.8,1235.2 280.8,1235.2 280.8,1235.3 280.8,1235.3 280.9,1235.3 280.9,1235.3 280.9,1235.4 280.9,1235.4 280.9,1235.4 280.9,1235.4 280.9,1235.4 280.9,1235.5 280.9,1235.5 280.9,1235.5 280.8,1235.5 280.8,1235.6 280.8,1235.6 280.8,1235.6 280.8,1235.6 280.8,1235.6 280.7,1235.6 280.7,1235.6 280.7,1235.7 280.7,1235.7 266.7,1237.5 266.7,1237.5 266.7,1237.5 274.5,1243.4 274.5,1243.4 274.6,1243.4 274.6,1243.4 274.6,1243.4 274.6,1243.5 274.6,1243.5 274.6,1243.5 276.6,1251.3 276.6,1251.3 276.6,1251.3 287.3,1249.3 287.3,1249.3 287.3,1249.3 287.3,1249.3 287.4,1249.3 287.4,1249.3 287.4,1249.4 287.4,1249.4 287.4,1249.4 287.5,1249.4 297.2,1257.2 297.2,1257.2 297.2,1257.2 307,1262.1 307,1262.1 307,1262.1 307.1,1262.1 312.9,1267.9 312.9,1267.9 312.9,1268 312.9,1268 312.9,1268 312.9,1268 312.9,1268.1 312.9,1268.1 312.9,1268.1 312.9,1273.9 312.9,1273.9 312.9,1273.9 317.7,1269.5 317.7,1269.5 317.8,1269.5 317.8,1269.5 317.8,1269.4 317.8,1269.4 317.9,1269.4 317.9,1269.4 317.9,1269.4 317.9,1269.4 318,1269.4 318,1269.4 318,1269.5 328.7,1274.9 328.7,1274.9 328.7,1274.9 334.4,1276.8 334.4,1276.8 334.4,1276.8 334.5,1276.8 334.5,1276.8 334.5,1276.9 334.5,1276.9 334.5,1276.9 334.5,1276.9 334.6,1276.9 334.6,1277 334.6,1277 334.6,1277 334.6,1277 334.6,1282.6 334.6,1282.7 334.6,1282.7 334.6,1282.7 334.6,1282.7 334.5,1282.8 334.5,1282.8 334.5,1282.8 334.5,1282.8 334.5,1282.8 330.6,1285.7 330.6,1285.7 330.6,1285.7 336.5,1289.6 336.5,1289.6 336.5,1289.6 342,1290.5 342,1290.5 342,1290.6 342,1290.6 342.1,1290.6 342.1,1290.6 342.1,1290.6 342.1,1290.6 342.1,1290.6 342.1,1290.7 342.2,1290.7 342.2,1290.7 342.2,1290.7 342.2,1290.8 342.2,1290.8 342.2,1290.8 342.2,1290.8 342.2,1290.9 342.2,1290.9 342.1,1290.9 342.1,1290.9 342.1,1290.9 342.1,1291 336.5,1296.5 336.5,1296.5 336.5,1296.5 343.2,1301.3 343.3,1301.3 343.3,1301.3 343.3,1301.4 343.3,1301.4 343.3,1301.4 343.3,1301.4 343.3,1301.4 343.3,1301.5 343.3,1301.5 343.3,1301.5 343.3,1301.5 343.3,1301.6 343.3,1301.6 343.3,1301.6 343.3,1301.6 339.5,1308.3 339.5,1308.3 339.5,1308.3 344.4,1318.2 344.4,1318.2 348.3,1325 348.3,1325 348.3,1325 358.2,1333.9 366.9,1341.6 366.9,1341.7 366.9,1341.7 366.9,1341.7 366.9,1341.7 367,1341.7 367,1341.8 367,1341.8 367,1341.8 367,1341.8 367,1341.9 367,1341.9 367,1341.9 366.9,1341.9 365.1,1345.7 365.1,1345.7 365.1,1345.7 368,1353.5 368,1353.5 368,1353.5 368,1353.5 368,1353.6 368,1353.6 368,1353.6 368,1353.6 368,1353.7 364.1,1362.4 364.1,1362.4 364.1,1362.4 364.1,1362.4 359.2,1368.3 359.2,1368.3 359.2,1368.3 368,1375.2 368,1375.2 368,1375.2 368,1375.2 373.9,1384 373.9,1384 373.9,1384 373.9,1384.1 373.9,1384.1 373.9,1384.1 374.8,1390.3 374.8,1390.3 374.8,1390.4 374.8,1390.4 374.8,1390.4 374.8,1390.4 374.8,1390.5 374.8,1390.5 374.8,1390.5 374.7,1390.5 374.7,1390.5 374.7,1390.5 374.7,1390.6 374.7,1390.6 374.6,1390.6 374.6,1390.6 374.6,1390.6 374.6,1390.6 374.5,1390.6 374.5,1390.6 374.5,1390.6 374.5,1390.6 374.4,1390.6 374.4,1390.6 374.4,1390.5 370,1387 370,1387 370,1387 370,1387 364.1,1378.2 364.1,1378.1 364.1,1378.2 361.1,1380.1 361.1,1380.1 361.1,1380.1 357.8,1396.8 357.8,1396.8 353.3,1417.5 353.3,1417.5 350.3,1428.3 350.3,1428.3 346.4,1442.1 346.4,1442.1 342.4,1453.9 342.4,1453.9 337.6,1469.7 337.6,1469.7 337.6,1469.8 337.6,1469.8 337.6,1469.8 337.5,1469.8 337.5,1469.8 337.5,1469.9 337.5,1469.9 337.5,1469.9 337.5,1469.9 325.6,1475.5 325.6,1475.6 325.6,1475.6 325.6,1475.6 325.5,1475.6 325.5,1475.6 310.6,1475.1 310.6,1475.1 310.6,1475 310.5,1475 310.5,1475 292.4,1467.3 292.4,1467.3 292.4,1467.3 284.7,1466 284.7,1466 284.7,1466 280.9,1468.5 280.9,1468.5 280.9,1468.5 280.8,1468.5 280.8,1468.5 280.8,1468.5 280.8,1468.5 280.7,1468.5 280.7,1468.5 280.7,1468.5 280.7,1468.5 269.2,1463.4 269.2,1463.4 269.2,1463.4 269.2,1463.4 269.2,1463.4 269.1,1463.4 269.1,1463.3 269.1,1463.3 266.6,1458.2 266.6,1458.2 266.6,1458.2 259,1462 259,1462 259,1462 258.9,1462 258.9,1462 258.9,1462 258.9,1462 258.8,1462 258.8,1462 258.8,1462 258.8,1462 258.7,1462 258.7,1462 258.7,1462 258.7,1461.9 258.7,1461.9 256.2,1458.2 256.2,1458.2 256.2,1458.2 233,1456.9 232.9,1456.9 232.9,1456.9 232.9,1456.9 191.6,1441.4 191.5,1441.4 191.5,1441.4 191.5,1441.4 191.5,1441.4 186.3,1436.2 186.3,1436.2 186.3,1436.2 168.2,1436.2 168.2,1436.2 168.2,1436.2 147.6,1432.4 147.6,1432.4 147.5,1432.3 147.5,1432.3 147.5,1432.3 147.5,1432.3 139.8,1425.9 139.7,1425.9 132,1418.1 132,1418.1 132,1418.1 121.8,1418.1 121.8,1418.1 121.7,1418.1 121.7,1418.1 121.7,1418.1 121.7,1418.1 121.6,1418.1 121.6,1418.1 121.6,1418 121.6,1418 121.6,1418 121.6,1418 120.3,1415.5 120.3,1415.5 120.3,1415.5 106.1,1422 106.1,1422 106.1,1422 103.6,1427 103.6,1427 103.6,1427.1 103.6,1427.1 103.5,1427.1 103.5,1427.1 103.5,1427.1 103.5,1427.1 103.5,1427.2 103.4,1427.2 103.4,1427.2 103.4,1427.2 103.4,1427.2 81.5,1425.9 81.5,1425.9 81.5,1425.9 77.7,1429.7 77.7,1429.7 77.7,1429.7 77.6,1429.7 77.6,1429.8 77.6,1429.8 77.6,1429.8 77.6,1429.8 68.6,1431.1 68.6,1431.1 68.6,1431.1 64.7,1444 64.7,1444 64.7,1444 68.6,1451.8 68.6,1451.8 68.6,1451.8 74.8,1454.3 74.8,1454.3 74.9,1454.3 74.9,1454.3 74.9,1454.3 74.9,1454.3 74.9,1454.3 74.9,1454.4 74.9,1454.4 75,1454.4 75,1454.4 75,1454.5 75,1454.5 75,1454.5 75,1454.5 75,1454.6 74.9,1454.6 69.9,1466 69.9,1466 69.9,1466 77.3,1469.7 77.3,1469.7 77.3,1469.7 77.3,1469.7 77.3,1469.7 77.3,1469.8 77.4,1469.8 77.4,1469.8 77.4,1469.8 77.4,1469.9 77.4,1469.9 77.4,1469.9 77.4,1469.9 77.4,1470 77.4,1470 77.4,1470 77.4,1470 77.4,1470 77.3,1470.1 77.3,1470.1 77.3,1470.1 77.3,1470.1 69.9,1475 69.9,1475.1 69.9,1475.1 77.2,1476.3 77.3,1476.3 77.3,1476.3 77.3,1476.3 77.3,1476.3 77.4,1476.3 77.4,1476.3 77.4,1476.4 77.4,1476.4 77.4,1476.4 77.4,1476.4 77.4,1476.4 77.4,1476.5 77.5,1476.5 77.5,1476.5 77.5,1476.5 77.5,1476.6 77.4,1476.6 77.4,1476.6 77.4,1476.6 77.4,1476.7 77.4,1476.7 71.2,1485.4 71.2,1485.4 66.8,1493.2 66.8,1493.2 66.8,1493.2 66.8,1493.2 66.8,1493.2 64.7,1503.5 64.7,1503.5 64.7,1503.5 66,1519 66,1519 66,1519.1 63.4,1539.7 63.4,1539.8 63.4,1539.8 58.2,1555.3 58.2,1555.3 50.5,1573.4 50.5,1573.4 50.5,1573.4 38.8,1591.5 38.8,1591.5 31.1,1600.5 31.1,1600.6 31,1600.6 22,1607 22,1607 22,1607 20.7,1619.9 20.7,1619.9 20.7,1619.9 20.7,1620 20.7,1620 20.7,1620 20.7,1620 10.4,1631.6 10.4,1631.6 10.4,1631.6 10.4,1636.8ZM1251.2,407.5 1251.2,407.5 1254.3,405.6 1254.3,405.6 1256.4,404.6 1256.4,404.5 1256.4,404.5 1256.4,404.5 1256.5,404.5 1256.5,404.5 1256.5,404.5 1262.3,405.5 1262.3,405.5 1262.3,405.5 1262.3,405.5 1262.4,405.5 1262.4,405.5 1262.4,405.5 1262.4,405.5 1265.5,409.1 1265.5,409.1 1267.2,411.6 1267.2,411.6 1267.2,411.6 1273.3,412.6 1273.3,412.6 1273.4,412.6 1273.4,412.6 1273.4,412.6 1275.1,413.7 1275.1,413.7 1275.1,413.7 1275.1,413.7 1276.7,415.5 1276.7,415.5 1276.7,415.6 1276.8,415.6 1276.8,415.6 1276.8,415.6 1276.8,415.6 1276.8,415.7 1276.8,415.7 1276.8,415.7 1276.8,415.7 1276.8,415.8 1276.8,415.8 1276.7,415.8 1276.7,415.8 1276.7,415.9 1276.7,415.9 1276.7,415.9 1276.7,415.9 1276.6,415.9 1276.6,415.9 1276.6,415.9 1276.6,415.9 1276.5,415.9 1276.5,415.9 1276.5,415.9 1276.5,415.9 1242.1,407.9 1242.1,407.9 1242.1,407.9 1242.1,407.9 1242,407.9 1242,407.9 1242,407.9 1242,407.9 1242,407.8 1242,407.8 1241.9,407.8 1241.9,407.8 1241.9,407.7 1241.9,407.7 1241.9,407.7 1241.9,407.7 1241.9,407.7 1241.9,407.6 1242,407.6 1242,407.6 1242,407.6 1242,407.5 1242,407.5 1242,407.5 1242,407.5 1242.1,407.5 1242.1,407.5 1242.1,407.5 1242.1,407.5 1242.2,407.5 1242.2,407.5 1251.2,407.5ZM1152.4,1688.6 1152.4,1688.6 1152.4,1688.6 1152.4,1688.6 1152.4,1688.7 1152.4,1688.7 1152.4,1688.7 1152.4,1688.7 1152.4,1688.7 1152.4,1688.8 1152.3,1688.8 1152.3,1688.8 1152.3,1688.8 1152.3,1688.8 1152.2,1688.8 1152.2,1688.8 1152.2,1688.8 1138.9,1688.8 1138.9,1688.8 1138.8,1688.8 1138.8,1688.8 1138.8,1688.8 1138.8,1688.8 1138.7,1688.8 1138.7,1688.8 1138.7,1688.7 1138.7,1688.7 1138.7,1688.7 1138.7,1688.7 1138.6,1688.7 1138.6,1688.6 1138.6,1688.6 1138.6,1688.6 1138.6,1688.6 1138.6,1688.5 1138.6,1688.5 1138.6,1688.5 1138.7,1688.5 1138.7,1688.4 1138.7,1688.4 1142.5,1683 1142.5,1683 1142.6,1683 1142.6,1683 1142.6,1683 1142.6,1682.9 1142.6,1682.9 1142.7,1682.9 1142.7,1682.9 1142.7,1682.9 1142.7,1682.9 1152.2,1682.9 1152.2,1682.9 1152.2,1682.9 1152.3,1682.9 1152.3,1682.9 1152.3,1682.9 1152.3,1683 1152.4,1683 1152.4,1683 1152.4,1683 1152.4,1683 1152.4,1683.1 1152.4,1683.1 1152.4,1683.1 1152.4,1683.1 1152.4,1683.1 1152.4,1683.2ZM1130.2,200.5 1130.2,200.5 1130.2,200.5 1130.2,200.4 1130.2,200.4 1130.3,200.4 1130.3,200.4 1130.3,200.4 1130.3,200.3 1130.3,200.3 1130.3,200.3 1130.4,200.3 1130.4,200.3 1130.4,200.3 1130.4,200.3 1130.5,200.3 1130.5,200.3 1130.5,200.3 1130.5,200.3 1130.6,200.3 1130.6,200.3 1130.6,200.3 1130.6,200.3 1130.6,200.4 1130.6,200.4 1131.5,201.4 1131.5,201.4 1131.5,201.4 1131.5,201.4 1131.6,201.5 1131.6,201.5 1131.6,201.5 1132.6,207.5 1132.6,207.6 1132.6,207.6 1132.6,207.6 1132.6,207.6 1132.6,207.6 1132.6,207.7 1132.5,207.7 1132.5,207.7 1132.5,207.7 1129.7,211.2 1129.6,211.2 1129.6,211.2 1129.6,211.2 1129.6,211.2 1129.6,211.2 1129.5,211.2 1129.5,211.2 1129.5,211.2 1129.5,211.2 1129.4,211.2 1129.4,211.2 1129.4,211.2 1129.4,211.2 1129.3,211.2 1129.3,211.2 1129.3,211.2 1129.3,211.2 1129.3,211.2 1129.3,211.1 1129.2,211.1 1129.2,211.1 1129.2,211.1 1129.2,211 1129.2,211 1129.2,211 1129.2,211ZM1127.4,214 1127.4,213.9 1127.4,213.9 1127.4,213.9 1127.4,213.9 1127.4,213.8 1127.5,213.8 1127.5,213.8 1127.5,213.8 1127.5,213.8 1128.6,212.4 1128.6,212.4 1128.7,212.4 1128.7,212.4 1128.7,212.3 1128.7,212.3 1128.7,212.3 1128.8,212.3 1128.8,212.3 1128.8,212.3 1128.8,212.3 1128.9,212.3 1128.9,212.3 1128.9,212.3 1128.9,212.3 1129,212.4 1129,212.4 1129,212.4 1129,212.4 1129,212.4 1129,212.4 1129,212.5 1129.1,212.5 1129.1,212.5 1129.1,212.5 1129.1,212.6 1129.1,212.6 1128.6,217.3 1128.6,217.4 1128.6,217.4 1128.6,217.4 1128.6,217.4 1128.6,217.5 1128.6,217.5 1128.5,217.5 1128.5,217.5 1128.5,217.5 1128.5,217.5 1128.5,217.5 1128.4,217.6 1128.4,217.6 1128.4,217.6 1128.4,217.6 1128.3,217.6 1128.3,217.6 1128.3,217.6 1128.3,217.5 1128.2,217.5 1128.2,217.5 1128.2,217.5 1128.2,217.5 1128.2,217.5 1128.2,217.5 1128.1,217.4 1128.1,217.4 1128.1,217.4 1128.1,217.4ZM1078.9,1593.1 1078.9,1593.1 1078.9,1593 1078.9,1593 1078.9,1593 1078.9,1593 1078.9,1592.9 1078.9,1592.9 1078.9,1592.9 1079,1592.9 1079,1592.9 1079,1592.9 1079,1592.9 1079.1,1592.9 1079.1,1592.9 1079.1,1592.9 1079.1,1592.9 1079.2,1592.9 1079.2,1592.9 1079.2,1592.9 1079.2,1592.9 1079.2,1592.9 1079.3,1592.9 1079.3,1592.9 1079.3,1593 1079.3,1593 1079.3,1593 1079.3,1593 1079.3,1593 1079.3,1593.1 1079.3,1593.1 1079.8,1598 1079.8,1598.1 1079.8,1598.1 1079.8,1598.1 1079.8,1598.1 1079.8,1598.2 1079.8,1598.2 1079.7,1598.2 1079.7,1598.2 1079.7,1598.2 1079.7,1598.3 1079.7,1598.3 1079.7,1598.3 1079.6,1598.3 1079.6,1598.3 1079.6,1598.3 1079.6,1598.3 1079.5,1598.3 1079.5,1598.3 1079.5,1598.3 1079.5,1598.3 1079.4,1598.3 1079.4,1598.3 1079.4,1598.3 1079.4,1598.3 1079.4,1598.2 1079.3,1598.2 1079.3,1598.2 1079.3,1598.2 1079.3,1598.2 1078.5,1595.9 1078.5,1595.9 1078.5,1595.9 1078.5,1595.9 1078.5,1595.9 1078.5,1595.8ZM1038.1,901.8 1038.1,901.8 1038.1,901.7 1038.1,901.7 1038.1,901.7 1038.1,901.7 1038.2,901.6 1038.2,901.6 1038.2,901.6 1038.2,901.6 1038.2,901.6 1038.3,901.6 1038.3,901.6 1038.3,901.6 1038.3,901.6 1038.4,901.6 1038.4,901.6 1038.4,901.6 1038.4,901.6 1038.4,901.6 1038.5,901.6 1038.5,901.6 1038.5,901.6 1038.5,901.7 1038.5,901.7 1038.5,901.7 1038.6,901.7 1038.6,901.8 1042.9,915.5 1042.9,915.5 1042.9,915.5 1042.9,915.5 1042.9,915.6 1042.9,915.6 1042.9,915.6 1042.9,915.6 1042.9,915.7 1042.9,915.7 1042.9,915.7 1042.9,915.7 1042.8,915.7 1041.6,916.7 1041.6,916.7 1041.6,916.7 1044.5,922.5 1044.5,922.6 1044.6,922.6 1044.6,922.6 1044.6,922.6 1044.6,922.6 1044.6,922.7 1044.6,922.7 1042.6,931.3 1042.6,931.3 1042.6,931.3 1042.6,931.3 1042.6,931.4 1042.6,931.4 1042.6,931.4 1042.6,931.4 1042.5,931.4 1042.5,931.4 1042.5,931.5 1042.5,931.5 1042.4,931.5 1042.4,931.5 1029.6,932.3 1029.6,932.3 1029.6,932.3 1029.6,932.3 1029.5,932.3 1029.5,932.3 1029.5,932.3 1029.5,932.3 1029.5,932.3 1029.4,932.2 1029.4,932.2 1029.4,932.2 1029.4,932.2 1029.4,932.2 1029.4,932.1 1029.4,932.1 1029.4,932.1 1029.4,932.1 1029.4,932 1029.4,932 1029.4,932 1035.7,912.8 1035.7,912.8ZM1001,967.7 1001,967.7 1001,967.7 1000.9,967.7 1000.9,967.7 1000.9,967.7 1000.9,967.7 1000.9,967.7 1000.8,967.7 1000.8,967.7 1000.8,967.7 1000.8,967.7 1000.7,967.7 1000.7,967.7 1000.7,967.7 1000.7,967.7 1000.7,967.7 1000.6,967.7 1000.6,967.6 1000.6,967.6 1000.6,967.6 1000.6,967.6 1000.6,967.5 1000.6,967.5 1000.6,967.5 1000.6,967.5 1000.6,967.4 1000.6,967.4 1000.6,967.4 1000.6,967.4 1000.6,967.4 1000.6,967.3 1000.6,967.3 1005.2,962 1005.2,961.9 1005.3,961.9 1007.7,959.9 1007.7,959.8 1007.7,959.8 1007.7,959.8 1007.8,959.8 1007.8,959.8 1007.8,959.8 1007.8,959.8 1007.8,959.8 1007.9,959.8 1007.9,959.8 1007.9,959.8 1007.9,959.8 1008,959.8 1008,959.9 1008,959.9 1008,959.9 1008,959.9 1008,959.9 1008.1,960 1008.1,960 1008.1,960 1008.1,960 1008.1,960 1008.1,960.1 1008.1,960.1 1008.1,960.1 1008.1,960.1 1008.1,960.2 1008,960.2 1008,960.2 1008,960.2ZM974.2,962.2 974.1,962.2 974.1,962.2 974.1,962.2 974.1,962.2 974.1,962.1 974,962.1 974,962.1 974,962.1 974,962.1 974,962.1 971.4,956.9 971.4,956.8 971.4,956.8 971.4,956.8 971.4,956.8 971.4,956.7 971.4,956.7 971.4,956.7 971.4,956.7 971.4,956.6 971.4,956.6 971.4,956.6 971.4,956.6 971.4,956.6 971.4,956.5 971.5,956.5 971.5,956.5 971.5,956.5 971.5,956.5 971.6,956.5 971.6,956.5 971.6,956.5 971.6,956.5 971.6,956.5 971.7,956.5 971.7,956.5 971.7,956.5 971.7,956.5 971.8,956.5 972.5,957.1 972.5,957.1 972.5,957.1 972.5,957.2 972.5,957.2 972.5,957.2 974.7,961.9 974.7,961.9 974.7,961.9 974.7,962 974.7,962 974.7,962 974.7,962 974.7,962.1 974.7,962.1 974.7,962.1 974.7,962.1 974.7,962.1 974.7,962.2 974.7,962.2 974.6,962.2 974.6,962.2 974.6,962.2 974.6,962.2 974.6,962.2 974.5,962.2 974.5,962.2 974.5,962.2 974.5,962.2ZM966.4,947.3 966.4,947.3 966.5,947.3 966.5,947.3 966.5,947.3 966.5,947.3 966.5,947.3 966.6,947.3 966.6,947.3 966.6,947.4 966.6,947.4 966.6,947.4 966.7,947.4 966.7,947.4 970.4,954.8 970.4,954.9 970.4,954.9 970.4,954.9 970.4,954.9 970.4,954.9 970.4,955 970.4,955 970.4,955 970.4,955 970.4,955.1 970.3,955.1 970.3,955.1 970.3,955.1 970.3,955.1 970.3,955.2 970.3,955.2 970.2,955.2 970.2,955.2 970.2,955.2 970.2,955.2 970.1,955.2 970.1,955.2 970.1,955.2 970.1,955.2 970,955.2 970,955.2 970,955.2 970,955.1 961.6,948.4 961.6,948.4 961.5,948.4 961.5,948.4 961.5,948.4 961.5,948.3 961.5,948.3 961.5,948.3 961.5,948.3 961.5,948.3 961.5,948.2 961.5,948.2 961.5,948.2 961.5,948.2 961.5,948.1 961.5,948.1 961.5,948.1 961.5,948.1 961.6,948.1 961.6,948 961.6,948 961.6,948 961.6,948 961.7,948 961.7,948ZM899.2,261 899.2,261 899.2,261 899.2,260.9 899.1,260.9 899.1,260.9 899.1,260.9 899.1,260.8 899.1,260.8 899.1,260.8 899.1,260.8 899.1,260.7 899.1,260.7 899.2,260.7 899.2,260.7 899.2,260.7 899.2,260.6 899.2,260.6 903.4,257.3 903.4,257.3 903.4,257.3 903.5,257.2 903.5,257.2 903.5,257.2 903.5,257.2 903.6,257.2 903.6,257.2 903.6,257.2 903.6,257.2 903.6,257.2 903.7,257.3 903.7,257.3 903.7,257.3 903.7,257.3 903.7,257.3 903.8,257.3 903.8,257.4 903.8,257.4 903.8,257.4 903.8,257.4 903.8,257.5 903.8,257.5 903.8,257.5 903.8,257.5 903.8,257.5 903.8,257.6 903.8,257.6 903.8,257.6 900.9,262.2 900.9,262.3 900.8,262.3 900.8,262.3 900.8,262.3 900.8,262.3 900.8,262.3 900.7,262.3 900.7,262.4 900.7,262.4 900.7,262.4 900.6,262.4 900.6,262.4 900.6,262.3 900.6,262.3 900.5,262.3 900.5,262.3 900.5,262.3 900.5,262.3ZM889.5,255.9 889.5,255.9 889.5,255.9 889.5,255.9 889.5,255.9 889.5,256 889.6,256 889.6,256 889.6,256 889.5,256.1 889.5,256.1 889.5,256.1 889.5,256.1 889.5,256.1 889.5,256.2 889.5,256.2 889.5,256.2 889.4,256.2 882.1,261.1 882.1,261.1 882.1,261.1 882,261.1 882,261.1 882,261.1 882,261.1 881.9,261.1 881.9,261.1 881.9,261.1 881.9,261.1 881.8,261.1 881.8,261.1 881.8,261.1 881.8,261.1 881.8,261.1 881.8,261 881.7,261 881.7,261 881.7,261 881.7,260.9 881.7,260.9 881.7,260.9 881.7,260.9 881.7,260.8 881.7,260.8 881.7,260.8 881.7,260.8 881.8,260.8 881.8,260.7 881.8,260.7 882.3,260.2 882.4,260.2 882.4,260.1 883.2,259.6 883.2,259.6 888.9,255.4 888.9,255.4 888.9,255.4 888.9,255.4 888.9,255.4 889,255.4 889,255.4 889,255.4 889,255.4 889.1,255.4 889.1,255.4 889.1,255.4 889.1,255.4 889.2,255.4 889.2,255.4 889.2,255.4 889.2,255.5ZM737.3,544.9 737.4,544.9 745.6,540.8 745.6,540.8 745.6,540.8 751.8,528.4 751.8,528.4 751.9,528.3 760,517.1 760,517.1 760,517.1 760.1,517.1 760.1,517.1 760.1,517.1 760.1,517.1 760.1,517 760.2,517 760.2,517 760.2,517 760.2,517 760.3,517 760.3,517 760.3,517.1 767.2,520 767.2,520 767.2,520 767.3,520 767.3,520.1 767.3,520.1 767.3,520.1 767.3,520.1 767.3,520.1 767.3,520.2 767.3,520.2 767.3,520.2 767.3,520.2 767.3,520.3 766.3,528.3 766.3,528.3 766.3,528.4 766.3,528.4 766.3,528.4 766.3,528.4 758.1,540.8 758.1,540.8 758,540.8 751.9,547 751.9,547 751.8,547 751.8,547 751.8,547 751.8,547 733.6,552.1 733.5,552.1 733.5,552.1 733.5,552.1 733.5,552.1 733.4,552.1 733.4,552.1 733.4,552.1 733.4,552.1 733.4,552 733.3,552 733.3,552 733.3,552 733.3,552 733.3,551.9 733.3,551.9 733.3,551.9 733.3,551.9 733.2,551.9 733.2,551.8 733.2,551.8 734,544.6 734,544.6 734.1,544.6 734.1,544.6 734.1,544.6 734.1,544.5 734.1,544.5 734.1,544.5 734.1,544.5 734.2,544.5 734.2,544.5 734.2,544.4 734.2,544.4 734.2,544.4 734.3,544.4 734.3,544.4 734.3,544.4 734.3,544.4 737.3,544.9Z M1605,1773.5 1605,1773.5 1609.6,1781.2 1609.6,1781.2 1609.6,1781.2 1615.8,1787.4 1615.8,1787.5 1615.8,1787.5 1629.8,1789 1629.8,1789 1629.8,1789 1634.4,1786 1634.4,1785.9 1634.4,1785.9 1634.5,1785.9 1634.5,1785.9 1634.5,1785.9 1634.5,1785.9 1634.6,1785.9 1634.6,1785.9 1640.7,1787.5 1640.7,1787.5 1640.7,1787.4 1648.4,1775 1648.4,1775 1657.7,1761.1 1657.7,1761.1 1657.7,1761.1 1657.8,1761.1 1657.8,1761.1 1657.8,1761 1657.8,1761 1657.9,1761 1674.8,1756.4 1674.8,1756.4 1674.8,1756.4 1667.3,1750.3 1667.2,1750.3 1667.2,1750.3 1667.2,1750.3 1667.2,1750.3 1667.2,1750.2 1667.2,1750.2 1667.2,1750.2 1667.2,1750.2 1667.2,1750.1 1667.2,1750.1 1667.2,1750.1 1667.2,1750.1 1667.2,1750 1667.2,1750 1667.2,1750 1676.4,1734.7 1676.4,1734.7 1684.2,1719.1 1684.2,1719.1 1684.2,1719.1 1667.1,1737.7 1667.1,1737.8 1667.1,1737.8 1648.5,1750.2 1648.5,1750.2 1648.5,1750.2 1648.4,1750.2 1648.4,1750.2 1648.4,1750.2 1625.2,1753.3 1625.2,1753.3 1625.2,1753.3 1626.7,1765.5 1626.7,1765.5 1626.7,1765.5 1626.7,1765.5 1626.7,1765.6 1626.7,1765.6 1626.7,1765.6 1626.6,1765.6 1626.6,1765.7 1626.6,1765.7 1626.6,1765.7 1626.6,1765.7 1626.6,1765.7 1626.5,1765.7 1626.5,1765.7 1626.5,1765.7 1626.5,1765.7 1614.3,1767.3 1614.3,1767.3 1614.3,1767.3 1605,1773.5Z M1421.9,1770.4 1421.9,1770.5 1425.8,1782.2 1425.8,1782.2 1425.8,1782.2 1433.7,1775.4 1433.7,1775.4 1433.7,1775.4 1439.6,1761.6 1439.6,1761.6 1439.6,1761.6 1437.6,1753.7 1437.6,1753.7 1437.6,1753.7 1427.8,1759.6 1427.8,1759.6 1427.8,1759.6 1421.9,1770.4Z M1400.3,1800.9 1400.3,1800.9 1404.2,1804.8 1404.2,1804.8 1404.2,1804.9 1404.2,1804.9 1404.2,1804.9 1407.2,1811.7 1407.2,1811.7 1407.2,1811.7 1410.1,1806.8 1410.1,1806.8 1410.1,1806.8 1406.2,1801 1406.2,1801 1406.2,1800.9 1406.2,1800.9 1406.2,1800.9 1404.2,1791.1 1404.2,1791.1 1404.2,1791.1 1400.3,1800.9Z M1387.5,1748.8 1387.5,1748.8 1390.4,1751.8 1390.4,1751.8 1390.4,1751.8 1401.2,1740.9 1401.3,1740.9 1401.2,1740.9 1399.3,1739 1399.3,1739 1399.3,1739 1387.5,1748.8Z M1382.6,1735 1382.6,1735 1386.5,1740.9 1386.5,1740.9 1386.5,1740.9 1387.5,1737 1387.5,1737 1387.5,1737 1382.6,1735Z M1353,87 1353,87 1358,98.1 1358,98.1 1358,98.1 1364.2,107.3 1364.2,107.3 1364.2,107.3 1376.1,107.3 1376.1,107.3 1376.2,107.3 1384.1,95.7 1384.1,95.7 1384.1,95.6 1386.6,85.7 1386.6,85.7 1386.6,85.7 1385.3,75 1385.3,75 1385.3,75 1363,73.3 1363,73.3 1363,73.3 1356.8,75.8 1356.8,75.8 1356.8,75.8 1353,87Z M1363.9,1707.5 1363.9,1707.5 1368.8,1708.9 1368.8,1708.9 1368.8,1708.9 1378.6,1707.5 1378.6,1707.5 1378.6,1707.5 1382.6,1702.6 1382.6,1702.6 1382.6,1702.6 1378.6,1700.6 1378.6,1700.6 1378.6,1700.6 1368.8,1703.6 1368.8,1703.6 1368.8,1703.6 1363.9,1707.5Z M1266.5,1843.2 1266.5,1843.2 1268.5,1846.2 1268.5,1846.2 1268.5,1846.2 1276.4,1845.2 1276.4,1845.2 1296,1843.2 1296,1843.2 1296.1,1843.2 1317.5,1846.1 1317.5,1846.2 1317.6,1846.2 1317.6,1846.2 1317.6,1846.2 1317.6,1846.2 1317.6,1846.2 1317.7,1846.2 1317.7,1846.3 1317.7,1846.3 1317.7,1846.3 1317.7,1846.3 1319.6,1852.1 1319.6,1852.1 1319.6,1852.1 1335.4,1847.2 1335.4,1847.2 1351.1,1843.2 1351.1,1843.2 1372.7,1837.3 1372.7,1837.3 1372.7,1837.3 1375.7,1832.4 1375.7,1832.4 1375.7,1832.4 1374.7,1823.6 1374.7,1823.6 1374.7,1823.6 1364.9,1827.5 1364.9,1827.5 1364.9,1827.5 1357.3,1834.1 1357.3,1834.1 1357.3,1834.1 1357.3,1834.1 1357.2,1834.1 1357.2,1834.1 1357.2,1834.1 1357.2,1834.1 1357.1,1834.1 1357.1,1834.1 1357.1,1834.1 1357.1,1834.1 1357,1834.1 1357,1834.1 1357,1834.1 1357,1834.1 1357,1834.1 1357,1834 1356.9,1834 1356.9,1834 1356.9,1834 1356.9,1833.9 1355,1824.5 1355,1824.5 1355,1824.5 1351.1,1826.5 1351.1,1826.5 1351.1,1826.5 1335.4,1830.4 1335.4,1830.4 1335.4,1830.4 1335.4,1830.4 1335.3,1830.4 1335.3,1830.4 1325.5,1828.5 1325.5,1828.5 1325.5,1828.5 1315.7,1829.5 1315.7,1829.5 1315.7,1829.5 1304,1834.3 1303.9,1834.3 1303.9,1834.4 1303.9,1834.4 1303.9,1834.4 1303.8,1834.4 1303.8,1834.4 1293.2,1832.4 1293.2,1832.4 1293.2,1832.4 1293.2,1832.4 1293.2,1832.4 1293.1,1832.4 1293.1,1832.4 1293.1,1832.3 1293.1,1832.3 1293.1,1832.3 1293.1,1832.3 1293.1,1832.3 1293,1832.2 1292.1,1826.5 1292.1,1826.5 1292.1,1826.5 1288.2,1825.5 1288.2,1825.5 1288.2,1825.5 1286.3,1830.3 1286.2,1830.3 1286.2,1830.3 1286.2,1830.3 1286.2,1830.4 1286.2,1830.4 1286.2,1830.4 1286.1,1830.4 1286.1,1830.4 1286.1,1830.4 1286.1,1830.4 1286,1830.4 1286,1830.4 1276.5,1830.4 1276.5,1830.4 1276.5,1830.4 1276.4,1830.4 1276.4,1830.4 1276.4,1830.4 1276.4,1830.4 1276.3,1830.4 1276.3,1830.4 1276.3,1830.3 1276.3,1830.3 1276.3,1830.3 1273.4,1824.5 1273.4,1824.5 1273.4,1824.5 1273.4,1831.2 1273.4,1831.2 1273.4,1831.3 1273.4,1831.3 1273.4,1831.3 1273.4,1831.3 1273.4,1831.4 1273.4,1831.4 1273.3,1831.4 1273.3,1831.4 1273.3,1831.4 1273.3,1831.4 1273.3,1831.4 1273.2,1831.5 1273.2,1831.5 1269.5,1832.4 1269.5,1832.4 1269.5,1832.4 1266.5,1843.2Z M1361.9,1761.6 1361.9,1761.6 1365.8,1767.5 1365.8,1767.5 1365.9,1767.5 1370.8,1760.6 1370.8,1760.6 1370.8,1760.6 1369,1762.4 1369,1762.4 1368.9,1762.4 1368.9,1762.4 1368.9,1762.5 1368.9,1762.5 1368.8,1762.5 1368.8,1762.5 1368.8,1762.5 1368.8,1762.5 1368.8,1762.5 1368.7,1762.5 1368.7,1762.5 1368.7,1762.4 1368.7,1762.4 1368.6,1762.4 1368.6,1762.4 1365.9,1759.6 1365.8,1759.6 1365.8,1759.6 1361.9,1761.6Z M1344.2,1720.3 1344.2,1720.3 1346.2,1721.3 1346.2,1721.3 1346.2,1721.3 1356,1714.4 1356,1714.4 1356,1714.4 1355,1712.4 1355,1712.4 1355,1712.4 1344.2,1720.3Z M1341.3,1756.7 1341.3,1756.7 1345.2,1757.7 1345.2,1757.7 1345.2,1757.7 1353.1,1748.8 1353.1,1748.8 1353.1,1748.8 1349.1,1747.8 1349.1,1747.8 1349.1,1747.8 1341.3,1756.7Z M1323.6,1646.5 1323.6,1646.5 1331.4,1647.5 1331.4,1647.5 1331.4,1647.5 1334.1,1644.8 1334.2,1644.8 1334.2,1644.8 1334.2,1644.8 1334.2,1644.8 1334.2,1644.7 1334.3,1644.7 1334.3,1644.7 1334.3,1644.7 1334.3,1644.7 1334.4,1644.7 1334.4,1644.7 1334.4,1644.8 1334.4,1644.8 1334.5,1644.8 1334.5,1644.8 1334.5,1644.8 1334.5,1644.8 1334.5,1644.9 1334.5,1644.9 1337.3,1650.5 1337.3,1650.5 1337.3,1650.5 1349.1,1650.5 1349.1,1650.5 1349.1,1650.5 1353.1,1647.5 1353.1,1647.5 1353.1,1647.5 1345.3,1641.7 1345.2,1641.7 1345.2,1641.6 1345.2,1641.6 1345.2,1641.6 1345.2,1641.6 1345.2,1641.6 1345.2,1641.5 1343.2,1633.8 1343.2,1633.7 1343.2,1633.7 1335.4,1635.7 1335.4,1635.7 1325.5,1639.6 1325.5,1639.6 1325.5,1639.7 1323.6,1646.5Z M1329.5,1674.1 1329.5,1674.1 1335.3,1677 1335.3,1677 1335.3,1677 1335.3,1677 1335.4,1677 1335.4,1677.1 1335.4,1677.1 1335.4,1677.1 1337.3,1680.8 1337.3,1680.9 1337.3,1680.9 1337.3,1680.9 1337.3,1680.9 1337.3,1681 1337.3,1681 1337.3,1681 1337.3,1681 1337.3,1681.1 1333.4,1688.8 1333.4,1688.8 1333.4,1688.8 1339.3,1691.8 1339.3,1691.8 1339.3,1691.8 1342.2,1688.8 1342.2,1688.8 1342.2,1688.8 1344.2,1681 1344.2,1681 1344.2,1680.9 1341.3,1673.1 1341.3,1673.1 1341.3,1673.1 1329.5,1674.1Z M1329.5,1781.3 1329.5,1781.3 1333.4,1783.2 1333.4,1783.2 1333.4,1783.2 1335.4,1777.3 1335.4,1777.3 1335.4,1777.3 1332.4,1775.4 1332.4,1775.4 1332.4,1775.4 1329.5,1781.3Z M1324.5,1745.9 1324.5,1745.9 1327.5,1754.7 1327.5,1754.7 1327.5,1754.7 1331.4,1753.7 1331.4,1753.7 1331.4,1753.7 1333.4,1745.9 1333.4,1745.9 1333.4,1745.9 1330.4,1739 1330.4,1739 1330.4,1739 1324.5,1745.9Z M1323.6,1766.5 1323.6,1766.5 1328.5,1767.5 1328.5,1767.5 1328.5,1767.5 1328.5,1762.6 1328.5,1762.6 1328.5,1762.6 1323.6,1761.6 1323.6,1761.6 1323.6,1761.6 1323.6,1766.5Z M1318.6,1729.1 1318.6,1729.1 1321.6,1733.1 1321.6,1733.1 1321.6,1733.1 1323.6,1730.1 1323.6,1730.1 1323.6,1730.1 1318.6,1729.1Z M1310.8,1601.3 1310.8,1601.3 1312.7,1603.3 1312.7,1603.3 1312.7,1603.3 1321.6,1600.3 1321.6,1600.3 1321.6,1600.3 1319.6,1596.4 1319.6,1596.4 1319.6,1596.4 1310.8,1601.3Z M1313.7,1747.8 1313.7,1747.8 1315.7,1752.7 1315.7,1752.7 1315.7,1752.7 1321.6,1750.8 1321.6,1750.8 1321.6,1750.8 1320.6,1744.9 1320.6,1744.9 1320.6,1744.9 1313.7,1747.8Z M1305.9,1723.2 1305.9,1723.2 1309.8,1728.2 1309.8,1728.2 1309.8,1728.2 1315.7,1728.2 1315.7,1728.2 1315.7,1728.2 1314.7,1723.2 1314.7,1723.2 1314.7,1723.2 1305.9,1723.2Z M1299,1586.5 1299,1586.5 1301.9,1591.5 1301.9,1591.5 1301.9,1591.5 1307.8,1590.5 1307.8,1590.5 1307.8,1590.5 1305.9,1584.6 1305.9,1584.6 1305.9,1584.6 1299,1586.5Z M1292.1,1710.5 1292.1,1710.5 1300,1720.3 1300,1720.3 1300,1720.3 1305.9,1720.3 1305.9,1720.3 1305.9,1720.3 1304.9,1715.4 1304.9,1715.4 1304.9,1715.4 1296,1709.5 1296,1709.5 1296,1709.5 1292.1,1710.5Z M1302.9,1731.1 1302.9,1731.1 1303.9,1738 1303.9,1738 1303.9,1738 1305.9,1734.1 1305.9,1734.1 1305.9,1734.1 1302.9,1731.1Z M1287.2,1614.1 1287.2,1614.1 1290.1,1620 1290.1,1620 1290.1,1620 1300.9,1621 1300.9,1621 1300.9,1621 1299.1,1618.2 1299.1,1618.1 1299.1,1618.1 1299,1618.1 1299,1618.1 1299,1618.1 1299,1618 1299,1618 1299,1618 1299,1618 1299.1,1617.9 1299.1,1617.9 1299.1,1617.9 1299.1,1617.9 1303.9,1612.1 1303.9,1612.1 1303.9,1612.1 1301.9,1607.2 1301.9,1607.2 1301.9,1607.2 1296.1,1611.1 1296,1611.1 1296,1611.1 1296,1611.1 1287.2,1614.1Z M1287.2,1775.4 1287.2,1775.4 1294.1,1772.4 1294.1,1772.4 1294.1,1772.4 1297,1769.5 1297,1769.5 1297,1769.5 1291.1,1768.5 1291.1,1768.5 1291.1,1768.5 1287.2,1775.4Z M1283.2,1737 1283.2,1737 1287.2,1743.9 1287.2,1743.9 1287.2,1743.9 1288.2,1738 1288.2,1738 1288.2,1738 1283.2,1737Z M1224.2,1676 1224.2,1676 1229.1,1680 1229.2,1680 1229.2,1680 1237,1680.9 1237,1681 1237,1681 1237.1,1681 1246.8,1685.8 1246.8,1685.8 1246.8,1685.8 1246.8,1685.9 1246.8,1685.9 1246.9,1685.9 1246.9,1685.9 1246.9,1685.9 1246.9,1686 1248.8,1691.8 1248.8,1691.8 1248.8,1691.8 1264.5,1698.6 1264.5,1698.6 1264.5,1698.7 1264.6,1698.7 1264.6,1698.7 1264.6,1698.7 1272.4,1708.5 1272.4,1708.5 1272.4,1708.5 1280.3,1713.4 1280.3,1713.4 1280.3,1713.4 1287.2,1710.5 1287.2,1710.5 1287.2,1710.4 1286.2,1703.6 1286.2,1703.6 1286.2,1703.6 1276.5,1705.5 1276.5,1705.5 1276.5,1705.5 1276.5,1705.5 1276.4,1705.5 1276.4,1705.5 1276.4,1705.5 1276.4,1705.5 1276.3,1705.5 1276.3,1705.5 1276.3,1705.4 1276.3,1705.4 1276.3,1705.4 1276.3,1705.4 1273.4,1700.6 1273.4,1700.6 1268.5,1691.8 1268.5,1691.8 1268.5,1691.8 1268.5,1691.7 1266.5,1682.9 1266.5,1682.9 1266.5,1682.9 1246.9,1681.9 1246.9,1681.9 1246.9,1681.9 1246.9,1681.9 1246.8,1681.9 1246.8,1681.9 1246.8,1681.9 1238,1675.1 1238,1675 1231.1,1671.1 1231.1,1671.1 1231.1,1671.1 1224.2,1676Z M1273.4,1667.2 1273.4,1667.2 1278.3,1670.1 1278.3,1670.1 1278.3,1670.1 1278.3,1670.1 1278.3,1670.2 1278.3,1670.2 1278.3,1670.2 1278.4,1670.2 1280.3,1675 1280.3,1675.1 1280.3,1675 1285.2,1673.1 1285.2,1673.1 1285.2,1673.1 1280.3,1666.2 1280.3,1666.2 1280.3,1666.2 1273.4,1667.2Z M1278.3,1729.1 1278.3,1729.1 1280.3,1735 1280.3,1735 1280.3,1735 1284.2,1732.1 1284.2,1732.1 1284.2,1732.1 1281.3,1725.2 1281.3,1725.2 1281.3,1725.2 1278.3,1729.1Z M1262.6,1586.5 1262.6,1586.5 1268.5,1589.5 1268.5,1589.5 1268.5,1589.5 1273.4,1586.5 1273.4,1586.5 1273.4,1586.5 1271.4,1579.7 1271.4,1579.7 1271.4,1579.7 1266.5,1577.7 1266.5,1577.7 1266.5,1577.7 1262.6,1586.5Z M1242.3,370.2 1242.3,370.2 1246.5,377.4 1246.5,377.4 1246.5,377.4 1250.6,377.4 1250.6,377.4 1250.6,377.4 1246.5,368.1 1246.5,368.1 1246.5,368.1 1242.3,370.2Z M1241.9,1660.3 1241.9,1660.3 1245.9,1666.2 1245.9,1666.2 1245.9,1666.2 1248.8,1661.3 1248.8,1661.3 1248.8,1661.3 1241.9,1660.3Z M1235.1,1799.9 1235.1,1800 1239,1805.8 1239,1805.8 1239,1805.8 1244.9,1806.8 1244.9,1806.8 1244.9,1806.8 1240,1797 1240,1797 1240,1797 1235.1,1799.9Z M1139.7,1739 1139.7,1739 1140.6,1743.9 1140.6,1743.9 1140.6,1743.9 1149.5,1749.8 1149.5,1749.8 1149.5,1749.8 1152.4,1743.9 1152.4,1743.9 1152.4,1743.9 1139.7,1739Z M1126.9,1720.3 1126.9,1720.3 1127.9,1727.2 1127.9,1727.2 1127.9,1727.2 1132.5,1724.4 1132.5,1724.4 1132.6,1724.4 1132.6,1724.4 1132.6,1724.4 1132.6,1724.3 1132.6,1724.3 1132.7,1724.4 1132.7,1724.4 1132.7,1724.4 1132.7,1724.4 1132.8,1724.4 1132.8,1724.4 1132.8,1724.4 1132.8,1724.4 1132.8,1724.5 1132.9,1724.5 1132.9,1724.5 1132.9,1724.5 1134.7,1730.1 1134.7,1730.1 1134.7,1730.1 1144.6,1729.1 1144.6,1729.1 1144.6,1729.1 1140.7,1722.3 1140.7,1722.3 1140.7,1722.3 1140.7,1722.3 1140.7,1722.2 1140.6,1722.2 1140.7,1722.2 1141.6,1713.4 1141.6,1713.4 1141.6,1713.4 1136.7,1711.4 1136.7,1711.4 1136.7,1711.4 1133.8,1716.3 1133.8,1716.3 1133.8,1716.3 1133.7,1716.4 1133.7,1716.4 1133.7,1716.4 1126.9,1720.3Z M1132.8,1698.7 1132.8,1698.7 1133.8,1706.5 1133.8,1706.5 1133.8,1706.5 1138.7,1704.6 1138.7,1704.6 1138.7,1704.5 1137.7,1693.7 1137.7,1693.7 1137.7,1693.7 1132.8,1698.6Z M1092.5,1655.4 1092.5,1655.4 1098.3,1659.3 1098.3,1659.3 1098.3,1659.3 1098.3,1659.3 1098.4,1659.3 1098.4,1659.4 1098.4,1659.4 1102.3,1669.1 1102.3,1669.2 1102.3,1669.2 1113.1,1673.1 1113.1,1673.1 1113.1,1673.1 1112.1,1669.2 1112.1,1669.2 1112.1,1669.1 1104.3,1663.3 1104.3,1663.3 1104.3,1663.3 1104.3,1663.2 1104.2,1663.2 1104.2,1663.2 1104.2,1663.2 1100.3,1652.4 1100.3,1652.4 1100.3,1652.4 1092.5,1655.4Z M1032.8,757.7 1032.8,757.7 1037.5,763.4 1037.6,763.4 1037.6,763.4 1037.6,763.4 1037.6,763.5 1037.6,763.5 1037.6,763.5 1037.6,763.5 1037.6,763.6 1037.6,763.6 1037.6,763.6 1037.6,763.6 1037.6,763.7 1037.6,763.7 1037.5,763.7 1037.5,763.7 1033.8,767.5 1033.8,767.5 1033.8,767.5 1042.6,773.4 1042.6,773.4 1042.6,773.4 1046.5,769.5 1046.5,769.5 1046.5,769.5 1046.6,769.5 1046.6,769.4 1056.4,765.5 1056.4,765.5 1056.4,765.5 1066.2,755.7 1066.2,755.7 1066.2,755.7 1069.2,748.8 1069.2,748.8 1069.2,748.8 1062.3,745.9 1062.3,745.9 1062.3,745.9 1054.4,749.8 1054.4,749.8 1054.4,749.8 1042.6,752.7 1042.6,752.7 1042.6,752.7 1038.8,758.5 1038.8,758.5 1038.7,758.5 1038.7,758.6 1038.7,758.6 1038.7,758.6 1038.7,758.6 1038.6,758.6 1038.6,758.6 1038.6,758.6 1038.6,758.6 1038.5,758.6 1038.5,758.6 1032.8,757.7Z M1033.8,738 1033.8,738 1042.5,739 1042.5,739 1042.6,739 1042.6,739 1042.6,739 1042.6,739 1042.6,739 1042.7,739 1042.7,739.1 1048.5,746.8 1048.5,746.8 1048.5,746.8 1050.4,741 1050.5,741 1050.5,741 1050.5,741 1050.5,741 1050.5,740.9 1050.5,740.9 1050.5,740.9 1050.6,740.9 1057.9,737 1057.9,737 1057.9,737 1054.4,730.1 1054.4,730.1 1054.4,730.1 1045.6,727.2 1045.6,727.2 1045.6,727.2 1041.7,735.9 1041.7,735.9 1041.6,736 1041.6,736 1041.6,736 1041.6,736 1041.6,736 1041.6,736 1041.5,736 1041.5,736.1 1033.8,738Z M1040.2,783.2 1040.3,783.2 1042.6,785.2 1042.6,785.2 1042.6,785.2 1044.6,777.3 1044.6,777.3 1044.6,777.3 1042.6,775.4 1042.6,775.4 1042.6,775.4 1040.3,783.2Z M1005.3,157.9 1005.3,157.9 1012.4,156.9 1012.4,156.9 1012.4,156.9 1012.4,156.9 1012.5,156.9 1012.5,156.9 1012.5,157 1012.5,157 1012.5,157 1012.6,157 1012.6,157 1012.6,157 1016.6,162.1 1016.6,162.1 1016.7,162.1 1024.9,161.1 1024.9,161.1 1024.9,161 1026,150.7 1026,150.7 1026,150.7 1010.4,146.6 1010.4,146.6 1010.4,146.6 1005.3,157.9Z M968.8,1515 968.8,1515 969.8,1519 969.8,1519 969.8,1519 986.5,1516 986.5,1516 986.5,1516 990.5,1511.1 990.5,1511.1 990.5,1511.1 984.6,1514 984.6,1514 984.6,1514 984.5,1514 984.5,1514.1 968.8,1515Z M977.3,156.9 977.3,156.9 981.4,161.1 981.4,161.1 981.5,161.1 989.7,155.9 989.7,155.9 989.7,155.9 981.5,150.7 981.4,150.7 981.4,150.7 977.3,156.9Z M959,1505.2 959,1505.2 972.8,1509.1 972.8,1509.1 972.8,1509.1 986.5,1507.2 986.5,1507.2 986.5,1507.2 959,1505.2Z M974.8,536.4 974.8,536.4 979.7,540.3 979.7,540.3 979.7,540.3 983.6,539.3 983.6,539.3 983.6,539.3 979.7,534.4 979.7,534.4 979.7,534.4 974.8,536.4Z M963.9,684.9 963.9,684.9 967.9,688.8 967.9,688.8 967.9,688.8 975.7,690.8 975.7,690.8 975.7,690.8 975.8,690.8 981.6,694.7 981.6,694.7 981.6,694.7 977.8,687 977.7,686.9 977.7,686.9 977.7,686.9 977.7,686.9 977.7,686.8 977.7,686.8 977.7,686.8 977.7,686.8 980.7,679 980.7,679 980.6,679 969.8,675.1 969.8,675.1 969.8,675.1 963.9,684.9Z M945.2,831.7 945.2,831.7 950.7,838.2 950.7,838.2 950.7,838.2 950.7,838.2 950.7,838.3 950.7,838.3 950.7,838.3 950.7,838.3 950.7,838.4 949.8,846.6 949.8,846.6 949.8,846.6 953.5,844.8 953.5,844.8 953.5,844.8 955.4,831.8 955.4,831.8 955.4,831.8 955.4,831.8 955.4,831.7 955.4,831.7 955.5,831.7 955.5,831.7 964.7,823.4 964.7,823.4 964.7,823.3 965.7,808.5 965.7,808.4 965.6,808.4 961.2,800.4 961.2,800.4 961.2,800.3 961.1,800.3 961.1,800.3 961.1,800.3 961.1,800.2 961.1,800.2 961.2,800.2 961.2,800.2 961.2,800.2 961.2,800.1 961.2,800.1 961.2,800.1 961.2,800.1 961.2,800.1 961.3,800 961.3,800 961.3,800 961.3,800 961.4,800 968.4,799.1 968.4,799.1 968.5,799.1 974,792.6 974,792.6 974,792.6 964.7,796.3 964.7,796.3 957.3,800.1 957.3,800.1 957.3,800.1 951.7,806.6 951.7,806.6 951.7,806.6 945.2,817.8 945.2,817.8 945.2,817.8 945.2,831.7Z M829.4,1769.6 829.4,1769.6 837.1,1782 837.1,1782 837.1,1782 846.4,1779 846.4,1779 846.4,1779 846.4,1779 846.5,1779 846.5,1779 846.5,1779 846.5,1779 858.9,1783.6 858.9,1783.6 858.9,1783.6 858.9,1783.6 880.6,1799.1 880.6,1799.1 880.6,1799.1 902.3,1805.3 902.3,1805.3 902.3,1805.3 902.4,1805.4 902.4,1805.4 902.4,1805.4 902.4,1805.4 911.7,1817.1 911.7,1817.1 911.7,1817.1 933.4,1817.8 933.4,1817.8 933.4,1817.8 940.2,1799.1 940.2,1799.1 940.2,1799.1 938.1,1789.8 938.1,1789.8 938.1,1789.8 930.4,1783.7 930.4,1783.7 930.4,1783.7 930.4,1783.7 930.4,1783.6 930.4,1783.6 930.4,1783.6 930.3,1783.6 930.3,1783.5 930.3,1783.5 930.3,1783.5 930.3,1783.5 930.3,1783.4 933.4,1771.2 933.4,1771.2 933.4,1771.2 933.4,1771.2 933.4,1771.1 942.7,1758.8 942.7,1758.8 942.7,1758.8 947.4,1740.8 947.4,1740.7 947.4,1740.7 936.6,1746.3 936.5,1746.3 936.5,1746.3 936.5,1746.3 936.5,1746.3 921,1747.9 921,1747.9 921,1747.9 893,1755.7 893,1755.7 880.7,1758.7 880.7,1758.7 880.6,1758.7 880.6,1758.7 880.6,1758.7 880.6,1758.7 868.3,1755.7 868.2,1755.7 868.2,1755.7 868.2,1755.6 868.2,1755.6 868.2,1755.6 862,1750.1 862,1750.1 862,1750.1 854.2,1750.1 854.2,1750.1 854.2,1750.1 852.7,1757 852.7,1757.1 852.7,1757.1 852.7,1757.1 852.7,1757.1 852.7,1757.2 852.6,1757.2 852.6,1757.2 852.6,1757.2 852.6,1757.2 852.6,1757.2 852.5,1757.2 852.5,1757.2 845.1,1758.7 845,1758.7 845,1758.7 845,1758.7 845,1758.7 844.9,1758.7 844.9,1758.7 844.9,1758.7 844.9,1758.7 844.8,1758.7 844.8,1758.7 844.8,1758.6 840.3,1752.6 840.2,1752.5 840.2,1752.6 829.4,1769.6Z M904.7,873.7 904.7,873.7 907,884.8 907,884.8 907,884.8 910.7,875.5 910.7,875.5 910.7,875.5 914.4,853.2 914.4,853.2 920.4,834.5 920.4,834.5 920.4,834.5 920,829 920,828.9 920,828.9 916.3,836.4 916.3,836.4 916.3,836.4 910.7,856.9 910.7,856.9 904.7,873.7Z M901.3,1464.6 901.3,1464.6 914,1476.4 914,1476.4 914,1476.4 917,1475.4 917,1475.4 917,1475.4 901.3,1464.6Z M906.9,218 906.9,218 907.4,218.1 907.4,218.1 907.5,218.1 907.5,218.1 907.5,218.1 907.5,218.1 907.5,218.1 907.6,218.1 907.6,218.2 907.6,218.2 907.6,218.2 907.6,218.2 907.6,218.2 907.6,218.3 907.6,218.3 907.6,218.3 907.6,218.3 907.6,218.4 907.6,218.4 907.6,218.4 907.6,218.4 907.6,218.4 907.5,218.6 907.5,218.6 907.5,218.6 911.4,218.6 911.4,218.6 914.2,219 914.2,219 914.2,219 914.1,218.9 914.1,218.9 914.1,218.9 914.2,218.8 914.2,218.8 914.2,218.8 914.2,218.8 914.2,218.7 914.2,218.7 914.2,218.7 914.2,218.7 914.3,218.7 914.3,218.7 914.3,218.7 914.3,218.6 914.3,218.6 914.4,218.6 914.4,218.6 914.9,218.6 914.9,218.6 914.9,218.6 913.3,211.5 913.3,211.5 913.1,209.7 913.1,209.7 913.1,209.7 906.9,218Z M906.1,1858.1 906.1,1858.1 907,1861.2 907,1861.2 907,1861.2 913.2,1861.9 913.2,1861.9 913.2,1861.9 914.8,1859.7 914.8,1859.7 914.8,1859.7 908.6,1854.4 908.6,1854.4 908.6,1854.4 906.1,1858.1Z M900.2,1850.1 900.2,1850.1 901.4,1851.9 901.4,1851.9 901.4,1851.9 904.2,1851.6 904.2,1851.6 904.2,1851.6 903,1849.4 903,1849.4 903,1849.4 900.2,1850.1Z M892.4,219 892.4,219 895.5,220.1 895.5,220.1 895.5,220.1 895.9,220 895.9,220 895.9,220 896,220 896,220 896,220 896,220 896.1,220 896.1,220.1 896.1,220.1 896.1,220.1 896.1,220.1 896.1,220.1 896.2,220.2 896.2,220.2 896.3,220.5 896.3,220.5 896.3,220.5 900,219.4 900.1,219.4 902.8,219 902.8,219 902.8,219 902.8,219 902.7,219 902.7,219 902.7,218.9 902.7,218.9 902.7,218.9 902.7,218.9 902.7,218.8 902.7,218.8 902.7,218.8 902.7,218.8 902.7,218.7 902.7,218.7 902.7,218.7 902.7,218.7 902.8,218.7 902.8,218.6 902.8,218.6 902.8,218.6 901.9,218 901.9,218 901.9,218 901.9,218 896.6,211.8 896.6,211.8 896.6,211.8 895.7,213.3 895.7,213.3 895.7,213.4 895.6,213.4 895.6,213.4 895.6,213.4 895.6,213.4 895.6,213.4 895.5,213.4 895.5,213.4 895.5,213.4 895.5,213.4 895.4,213.4 895.4,213.4 895.4,213.4 895.4,213.4 895.3,213.4 895.3,213.4 893.5,212.1 893.5,212.1 893.5,212.1 894.5,215.2 894.5,215.2 894.5,215.3 894.5,215.3 894.5,215.3 894.5,215.3 894.5,215.3 894.5,215.4 894.5,215.4 894.5,215.4 892.4,219Z M881.6,1427.2 881.6,1427.2 886.5,1437 886.5,1437 890.4,1443.9 890.4,1443.9 890.4,1443.9 888.5,1437 888.5,1437 884.5,1425.2 884.5,1425.2 882.6,1417.4 882.6,1417.4 882.6,1417.4 881.6,1427.2Z M866,942.6 866,942.6 877.1,946.3 877.1,946.3 877.1,946.3 877.1,941.7 877.1,941.7 877.1,941.7 867.8,933.3 867.8,933.3 867.8,933.3 866,942.6Z M799.4,323.9 799.4,323.9 823.6,306.2 823.6,306.2 823.6,306.2 823.6,306.2 823.6,306.2 830.9,304.4 831,304.4 831,304.4 831,304.4 831,304.4 831.1,304.4 831.1,304.4 831.1,304.4 831.1,304.4 831.2,304.4 838.5,309.9 838.5,309.9 838.5,309.9 846,300.6 846,300.6 851.5,293.2 851.6,293.2 851.6,293.2 849.7,285.7 849.7,285.7 849.7,285.7 838.7,278.4 838.6,278.3 838.6,278.3 838.6,278.3 838.6,278.3 838.6,278.3 838.6,278.3 838.6,278.2 838.6,278.2 838.6,278.2 838.5,278.2 838.6,278.1 838.6,278.1 838.6,278.1 842.2,265.2 842.2,265.2 842.2,265.2 833,276.3 833,276.4 832.9,276.4 832.9,276.4 832.9,276.4 832.9,276.4 832.8,276.4 825.5,278.3 825.5,278.3 825.5,278.3 813.4,289.4 813.4,289.4 813.4,289.4 814.3,296.9 814.3,296.9 814.3,296.9 823.3,300.5 823.3,300.5 823.3,300.5 823.3,300.5 823.3,300.5 823.3,300.6 823.4,300.6 823.4,300.6 823.4,300.6 823.4,300.6 823.4,300.7 823.4,300.7 823.4,300.7 823.4,300.7 823.4,300.8 823.4,300.8 823.4,300.8 823.4,300.8 823.4,300.9 823.4,300.9 823.3,300.9 812.5,311.8 812.5,311.8 812.4,311.8 812.4,311.8 812.4,311.8 812.4,311.8 812.4,311.8 800.3,314.6 800.3,314.6 800.3,314.6 799.4,323.9Z M825,979.9 825,979.9 832.4,983.6 832.4,983.6 832.4,983.6 840.8,982.7 840.8,982.7 840.8,982.7 836.2,976.2 836.2,976.2 836.2,976.2 836.2,976.2 836.2,976.1 836.2,976.1 836.2,976.1 836.2,976.1 836.2,976 837.1,969.6 837.1,969.6 837.1,969.6 831.7,969.6 831.7,969.6 831.6,969.6 831.6,969.6 831.6,969.6 831.6,969.6 831.6,969.6 831.5,969.6 831.5,969.6 831.5,969.5 831.5,969.5 831.5,969.5 831.5,969.5 831.5,969.5 831.5,969.4 830.6,965 830.6,965 830.6,965 825,965.9 825,965.9 825,965.9 825,979.9Z M761.6,916.5 761.6,916.5 763.5,922.1 763.5,922.1 763.5,922.1 768.9,925.7 768.9,925.8 769,925.8 769,925.8 769,925.8 769,925.8 769,925.8 769,925.9 769,925.9 769,925.9 769,925.9 769,926 769,926 769,926 767.2,933.3 767.2,933.3 767.2,933.3 770.9,939.8 770.9,939.8 770.9,939.8 783.9,945.4 783.9,945.4 783.9,945.4 784,945.4 784,945.4 784,945.4 784,945.5 787.7,951 787.7,951 787.7,951 793.3,950.1 793.3,950.1 793.3,950.1 795.1,941.8 795.1,941.7 795.1,941.7 795.2,941.7 795.2,941.7 795.2,941.7 795.2,941.7 795.2,941.6 795.2,941.6 804.5,935.2 804.5,935.2 804.5,935.2 796.3,929.7 796.3,929.7 796.2,929.7 796.2,929.6 796.2,929.6 796.2,929.6 796.2,929.6 796.2,929.6 796.2,929.5 796.2,929.5 796.2,929.5 796.2,929.5 796.2,929.4 796.2,929.4 796.2,929.4 796.2,929.4 798.8,924.1 798.8,924.1 798.9,924 798.9,924 798.9,924 798.9,924 798.9,924 798.9,924 799,924 799,923.9 806.3,922.1 806.3,922.1 806.3,922.1 808.2,918.4 808.2,918.4 808.2,918.4 804.5,909.1 804.5,909.1 804.5,909.1 804.5,909.1 804.5,909 804.5,909 804.5,909 806.3,898.8 806.3,898.8 806.3,898.8 797,895.1 797,895.1 797,895.1 787.7,901.6 787.7,901.6 782.2,904.4 782.2,904.4 782.1,904.4 782.1,904.4 782.1,904.4 782.1,904.4 782,904.4 770.9,902.5 770.9,902.5 770.9,902.5 776.4,905.3 776.4,905.3 776.4,905.3 776.4,905.3 776.4,905.3 776.4,905.3 776.5,905.4 776.5,905.4 776.5,905.4 776.5,905.4 776.5,905.5 776.5,905.5 776.5,905.5 776.5,905.5 774.7,914.5 774.7,914.5 774.7,914.5 774.7,914.6 774.7,914.6 774.6,914.6 774.6,914.6 774.6,914.6 774.6,914.6 774.6,914.7 774.6,914.7 774.5,914.7 774.5,914.7 774.5,914.7 761.6,916.5Z M795.2,952.9 795.2,952.9 803.5,952.9 803.5,952.9 803.5,952.9 807.3,950.1 807.3,950.1 807.3,950.1 798.9,947.3 798.9,947.3 798.9,947.3 795.2,952.9Z M763.5,957.5 763.5,957.5 769.1,965 769.1,965 769.1,965 778.4,969.6 778.4,969.6 778.4,969.6 787.4,965.1 787.4,965.1 787.4,965.1 787.5,965.1 787.5,965.1 787.5,965.1 787.5,965.1 787.6,965.1 787.6,965.1 787.6,965.1 787.6,965.1 787.7,965.1 787.7,965.2 787.7,965.2 787.7,965.2 787.7,965.2 787.7,965.2 787.7,965.3 787.7,965.3 787.8,965.3 788.6,971.5 788.6,971.5 788.6,971.5 795.2,959.4 795.2,959.4 795.2,959.4 785.8,951.9 785.8,951.9 785.8,951.9 780.4,957.4 780.3,957.4 780.3,957.4 780.3,957.5 780.3,957.5 780.3,957.5 780.2,957.5 780.2,957.5 780.2,957.5 780.2,957.5 780.1,957.5 780.1,957.5 769.1,953.8 769.1,953.8 769.1,953.8 763.5,957.5Z M788.2,336 788.2,336 793.8,330.4 793.8,330.4 793.8,330.4 792.9,323 792.9,323 792.9,323 788.2,336Z M781.7,421.7 781.7,421.7 788.2,417.1 788.2,417.1 788.2,417.1 785.4,413.4 785.4,413.4 785.4,413.4 781.7,421.7Z M72,1880 72,1880 769,1880 769,1880 769,1880 768.8,1870.6 768.8,1870.6 768.8,1870.6 761.1,1864.4 761.1,1864.4 761,1864.3 761,1864.3 754.9,1855.1 754.9,1855.1 754.9,1855.1 754.9,1855 754.8,1855 754.8,1855 754.8,1855 754.8,1845.8 754.8,1845.8 754.8,1845.7 754.9,1845.7 754.9,1845.7 754.9,1845.7 754.9,1845.7 759.5,1838 759.5,1838 759.5,1838 759.5,1838 759.5,1838 759.5,1838 759.6,1837.9 759.6,1837.9 759.6,1837.9 770.4,1834.8 770.4,1834.8 770.4,1834.8 779.7,1816.2 779.7,1816.2 779.7,1816.2 778.1,1806.9 778.1,1806.9 778.1,1806.9 770.4,1806.9 770.4,1806.9 770.4,1806.9 768.8,1814.5 768.8,1814.5 768.8,1814.6 768.8,1814.6 768.8,1814.6 768.8,1814.6 768.8,1814.6 768.8,1814.7 768.7,1814.7 768.7,1814.7 768.7,1814.7 768.7,1814.7 758,1817.8 757.9,1817.8 750.4,1820.8 750.4,1820.8 750.4,1820.8 750.3,1820.8 750.3,1820.8 750.3,1820.8 750.3,1820.8 750.2,1820.8 750.2,1820.8 750.2,1820.8 750.2,1820.8 750.1,1820.7 750.1,1820.7 750.1,1820.7 750.1,1820.7 750.1,1820.7 742.5,1805.5 742.5,1805.5 742.5,1805.5 742.5,1805.4 742.5,1805.4 742.5,1805.4 742.5,1805.4 742.5,1805.3 742.5,1805.3 742.5,1805.3 742.5,1805.3 742.5,1805.3 742.5,1805.2 742.5,1805.2 747.1,1800.7 747.1,1800.7 747.1,1800.7 734.7,1799.1 734.7,1799.1 734.7,1799.1 731.7,1804.5 731.7,1804.5 731.7,1804.5 731.7,1804.5 731.6,1804.5 731.6,1804.5 731.6,1804.6 731.6,1804.6 731.6,1804.6 731.5,1804.6 731.5,1804.6 731.5,1804.6 731.5,1804.6 731.4,1804.6 731.4,1804.6 731.4,1804.6 731.4,1804.5 731.3,1804.5 731.3,1804.5 727.2,1801 727.2,1801 727.2,1800.9 727.2,1800.9 727.2,1800.9 727.2,1800.9 727.1,1800.8 727.1,1800.8 727.1,1800.8 727.1,1800.8 727.1,1800.7 727.1,1800.7 727.2,1800.7 727.2,1800.7 727.2,1800.7 727.2,1800.6 727.2,1800.6 727.2,1800.6 727.2,1800.6 727.3,1800.6 727.3,1800.6 727.3,1800.5 731.5,1799.1 731.6,1799.1 731.6,1799.1 731.6,1793.5 731.6,1793.5 731.5,1793.5 703.6,1799.1 703.6,1799.1 703.6,1799.1 691.2,1809.9 691.2,1810 691.2,1810 691.2,1810 691.2,1810 691.1,1810 691.1,1810 666.3,1812.2 666.3,1812.2 650.9,1814.6 650.9,1814.6 650.8,1814.6 650.8,1814.6 650.8,1814.6 650.8,1814.6 650.7,1814.6 629.1,1805.3 629.1,1805.3 629.1,1805.3 626,1810.8 626,1810.8 626,1810.9 626,1810.9 626,1810.9 625.9,1810.9 625.9,1810.9 625.9,1810.9 625.9,1810.9 625.9,1810.9 625.8,1810.9 616.7,1811.6 616.7,1811.6 616.6,1811.5 616.6,1811.5 604.4,1808.5 604.3,1808.5 604.3,1808.5 604.3,1808.5 604.3,1808.4 604.3,1808.4 604.2,1808.4 604.2,1808.4 604.2,1808.4 604.2,1808.4 604.2,1808.3 604.2,1808.3 602.7,1802.9 602.7,1802.9 602.7,1802.9 591.8,1803.8 591.8,1803.8 591.8,1803.8 588.7,1811.4 588.7,1811.4 588.7,1811.5 588.7,1811.5 588.7,1811.5 588.7,1811.5 588.7,1811.5 588.6,1811.6 588.6,1811.6 588.6,1811.6 588.6,1811.6 570.1,1814.7 570.1,1814.7 570.1,1814.7 560.8,1820.8 560.8,1820.8 560.8,1820.8 560.8,1820.8 560.7,1820.9 560.7,1820.9 560.7,1820.9 560.7,1820.9 560.6,1820.9 546.9,1818.4 546.8,1818.4 546.8,1818.4 546.8,1818.4 546.8,1818.4 546.7,1818.4 546.7,1818.3 546.7,1818.3 542.1,1813.1 542.1,1813.1 542.1,1813.1 520.4,1808.4 520.4,1808.4 500.2,1803.9 500.1,1803.8 500.1,1803.8 500.1,1803.8 500.1,1803.8 500.1,1803.8 500,1803.8 500,1803.8 500,1803.7 500,1803.7 500,1803.7 478.8,1807.6 478.8,1807.6 478.8,1807.6 469.9,1812.7 469.9,1812.7 469.9,1812.7 469.8,1812.7 469.8,1812.7 469.8,1812.7 469.8,1812.7 469.7,1812.7 469.7,1812.7 469.7,1812.7 469.7,1812.7 469.7,1812.7 469.6,1812.7 469.6,1812.6 469.6,1812.6 469.6,1812.6 465.8,1807.6 465.8,1807.6 465.8,1807.6 459.4,1807.6 459.4,1807.6 459.4,1807.6 447.8,1815.3 447.8,1815.3 447.8,1815.3 447.8,1815.3 447.7,1815.3 447.7,1815.3 447.7,1815.3 447.7,1815.3 447.6,1815.3 447.6,1815.3 447.6,1815.3 437.4,1811.5 437.4,1811.5 437.4,1811.5 414.1,1814.1 414.1,1814.1 414.1,1814.1 414,1814.1 399.9,1811.5 399.8,1811.5 399.8,1811.5 380.4,1815.4 380.4,1815.4 362.3,1821.8 362.3,1821.8 362.3,1821.8 352,1829.6 352,1829.6 352,1829.6 344.3,1839.8 344.3,1839.9 344.3,1839.9 344.2,1839.9 344.2,1839.9 344.2,1839.9 344.2,1839.9 344.2,1839.9 344.1,1839.9 344.1,1839.9 344.1,1839.9 344.1,1839.9 333.9,1838.7 333.9,1838.7 333.9,1838.7 333.8,1838.7 333.8,1838.6 333.8,1838.6 328.7,1834.8 328.7,1834.8 328.7,1834.8 319.7,1841.2 319.7,1841.2 319.6,1841.2 319.6,1841.2 319.6,1841.2 319.6,1841.2 319.5,1841.2 319.5,1841.2 305.4,1840 305.4,1840 305.4,1840 296.3,1845.1 296.3,1845.1 296.3,1845.1 295.1,1852.8 295,1852.8 295,1852.8 295,1852.8 295,1852.9 295,1852.9 295,1852.9 295,1852.9 295,1852.9 294.9,1852.9 294.9,1853 284.7,1858.1 284.7,1858.1 270.5,1863.2 270.5,1863.2 270.4,1863.2 270.4,1863.2 270.4,1863.3 254.9,1863.3 254.9,1863.2 254.9,1863.2 235.5,1859.4 235.5,1859.4 235.5,1859.4 235.5,1859.3 229.1,1855.5 229.1,1855.5 229.1,1855.5 229.1,1855.5 229.1,1855.5 229,1855.5 229,1855.4 229,1855.4 229,1855.4 226.5,1842.6 226.4,1842.5 226.4,1842.6 220,1847.7 220,1847.7 220,1847.7 220,1847.7 219.9,1847.7 209.7,1850.3 209.7,1850.3 209.7,1850.3 209.6,1850.3 209.6,1850.3 209.6,1850.3 209.6,1850.3 209.5,1850.3 195.4,1843.1 195.4,1843.1 195.4,1843.1 192.9,1845.1 192.9,1845.1 192.9,1845.1 192.8,1845.1 192.8,1845.1 192.8,1845.1 192.8,1845.1 192.8,1845.1 192.7,1845.1 192.7,1845.1 192.7,1845.1 186.3,1843.1 186.3,1843.1 186.3,1843.1 165.7,1843.8 165.7,1843.8 165.6,1843.8 165.6,1843.8 165.6,1843.8 155.4,1840 155.3,1840 155.3,1840 155.3,1839.9 155.3,1839.9 155.3,1839.9 155.2,1839.9 139.8,1816.7 139.8,1816.7 139.8,1816.7 139.8,1816.7 139.7,1816.6 139.7,1816.6 138.5,1801.1 138.5,1801.1 138.5,1801.1 113.9,1802.4 113.9,1802.4 113.9,1802.4 72.5,1869.7 72.5,1869.7 72.5,1869.7 72,1880Z M763.5,976.1 763.5,976.2 771.9,978 771.9,978 771.9,978 766.3,971.5 766.3,971.5 766.3,971.5 763.5,976.1Z M755.1,962.2 755.1,962.2 757.9,961.2 757.9,961.2 757.9,961.2 763.5,944.5 763.5,944.5 763.5,944.5 762.6,943.5 762.5,943.5 762.5,943.5 755.1,962.2Z M731.8,925.8 731.8,925.8 733.7,937 733.7,937 733.7,937 739.3,944.5 739.3,944.5 739.3,944.5 750.4,953.8 750.4,953.8 750.4,953.8 756,948.2 756,948.2 756,948.2 758.8,938.9 758.8,938.9 758.8,938.9 754.2,924 754.2,924 754.2,924 750.6,925.8 750.5,925.8 750.5,925.8 750.5,925.8 750.5,925.8 750.4,925.8 750.4,925.8 750.4,925.8 750.4,925.8 750.4,925.8 750.3,925.8 750.3,925.8 744.8,922.1 744.8,922.1 744.8,922.1 731.8,925.8Z M740,1537.3 740,1537.3 746.8,1538.9 746.9,1538.9 746.9,1538.9 752.4,1538.3 752.4,1538.3 752.4,1538.3 751.8,1532.4 751.8,1532.4 751.8,1532.4 740,1537.3Z M688,866.2 688,866.2 694.4,864.4 694.4,864.4 694.4,864.4 694.5,864.4 694.5,864.4 694.5,864.4 694.5,864.4 694.6,864.4 694.6,864.4 694.6,864.4 694.6,864.4 694.6,864.5 700.1,869.9 700.1,869.9 700.1,869.9 705.7,864.4 705.7,864.3 705.7,864.3 702.1,859 702.1,858.9 702.1,858.9 702.1,858.9 702.1,858.9 702.1,858.9 702.1,858.8 702.1,858.8 702.1,858.8 702.1,858.8 702.1,858.7 702.1,858.7 702.1,858.7 702.1,858.7 702.2,858.7 702.2,858.6 702.2,858.6 707.5,855.1 707.6,855 707.6,855 707.6,855 707.6,855 720.6,852.2 720.6,852.2 731.7,851.3 731.8,851.3 731.8,851.3 731.8,851.3 731.8,851.3 731.9,851.3 743,856 743,856 743,856 748.6,843.9 748.6,843.9 748.6,843.8 749.5,834.5 749.5,834.5 751.4,820.6 751.4,820.6 751.4,820.6 731.8,834.5 731.8,834.5 731.8,834.5 720.7,847.5 720.7,847.5 720.7,847.5 720.6,847.5 720.6,847.6 720.6,847.6 720.6,847.6 720.5,847.6 720.5,847.6 701.1,849.4 701.1,849.4 701.1,849.4 692.7,859.7 692.7,859.7 688,866.2Z M667.9,1637.6 667.9,1637.6 674,1639.2 674,1639.2 674,1639.2 674.1,1639.2 674.1,1639.2 674.1,1639.2 674.1,1639.2 674.1,1639.3 674.2,1639.3 681.8,1653.1 681.8,1653.1 681.8,1653.1 681.8,1653.1 681.8,1653.2 681.8,1653.2 681.8,1653.2 681.8,1653.2 681.8,1653.3 677.2,1668.7 677.2,1668.7 677.2,1668.7 681.8,1677.9 681.8,1678 681.8,1678 681.8,1678 681.8,1678 681.8,1678.1 681.8,1678.1 681.8,1678.1 678.8,1690.4 678.8,1690.4 675.7,1704.4 675.7,1704.4 675.7,1704.4 686.5,1719.9 686.5,1719.9 686.5,1719.9 694.3,1719.9 694.3,1719.9 694.3,1719.9 698.9,1715.3 698.9,1715.3 698.9,1715.3 703.5,1706.1 703.5,1706.1 703.5,1706.1 703.6,1706.1 703.6,1706.1 703.6,1706 703.6,1706 703.6,1706 703.7,1706 703.7,1706 703.7,1706 703.7,1706 703.8,1706 703.8,1706 720.7,1709.1 720.7,1709.1 720.7,1709.1 722.2,1684.2 722.2,1684.2 725.3,1664 725.3,1664 725.3,1664 723.8,1656.3 723.8,1656.3 723.8,1656.3 723.8,1656.3 723.8,1656.3 723.8,1656.2 723.8,1656.2 729.1,1642.3 729.1,1642.3 729.1,1642.3 722.3,1626.8 722.3,1626.8 722.3,1626.8 722.3,1626.8 722.2,1626.8 722.2,1626.7 722.3,1626.7 722.3,1626.7 723.8,1620.6 723.8,1620.6 723.8,1620.6 719.2,1619 719.2,1619 719.2,1619 719.2,1619 719.1,1619 719.1,1619 719.1,1619 719.1,1618.9 719.1,1618.9 716,1612.8 716,1612.8 716,1612.8 706.7,1609.7 706.7,1609.7 706.7,1609.7 691.2,1620.5 691.2,1620.6 691.2,1620.6 675.8,1626.7 675.8,1626.7 675.7,1626.7 675.7,1626.7 675.7,1626.7 675.7,1626.7 675.6,1626.7 675.6,1626.7 675.6,1626.7 675.6,1626.7 675.5,1626.7 669.4,1622.1 669.4,1622.1 669.4,1622.1 667.9,1637.6Z M684.9,1555 684.9,1555 684.9,1560.9 684.9,1560.9 684.9,1560.9 688.7,1562.8 688.7,1562.8 688.7,1562.8 688.7,1562.9 688.7,1562.9 688.7,1562.9 688.8,1562.9 688.8,1562.9 688.8,1563 688.8,1563 688.8,1563 688.8,1563 688.8,1563 688.8,1563.1 688.8,1563.1 685.9,1574.7 685.9,1574.7 685.9,1574.7 691.5,1576.6 691.5,1576.6 691.6,1576.6 691.6,1576.6 691.6,1576.6 691.6,1576.6 691.6,1576.7 691.6,1576.7 691.7,1576.7 691.7,1576.7 691.7,1576.8 691.7,1576.8 691.7,1576.8 691.7,1576.8 691.7,1576.9 691.7,1576.9 691.7,1576.9 691.7,1576.9 687.8,1584.5 687.8,1584.5 687.9,1584.5 695.5,1586.4 695.5,1586.4 695.5,1586.5 695.5,1586.5 695.6,1586.5 695.6,1586.5 695.6,1586.5 695.6,1586.5 695.6,1586.6 695.6,1586.6 695.6,1586.6 695.6,1586.6 695.7,1586.7 695.7,1586.7 695.7,1586.7 695.6,1586.7 695.6,1586.7 693.7,1593.4 693.7,1593.4 693.8,1593.4 709.5,1602.2 709.5,1602.2 709.5,1602.2 715.4,1582.6 715.4,1582.6 720.3,1566.8 720.3,1566.8 720.3,1566.8 720.3,1543.2 720.3,1543.2 720.3,1543.2 717.4,1537.4 717.4,1537.4 717.4,1537.3 717.4,1537.3 717.4,1537.3 717.4,1537.3 717.9,1525.1 717.9,1525.1 717.9,1525.1 713.4,1525.5 713.4,1525.5 713.4,1525.5 711.5,1537.1 711.5,1537.1 711.5,1537.2 711.5,1537.2 711.4,1537.2 711.4,1537.2 711.4,1537.3 711.4,1537.3 711.4,1537.3 711.4,1537.3 711.3,1537.3 711.3,1537.3 711.3,1537.3 711.3,1537.3 711.2,1537.3 704.6,1537.3 704.6,1537.3 704.6,1537.3 697.7,1541.3 697.7,1541.3 688.8,1547.2 688.8,1547.2 688.8,1547.2 688.8,1552.9 688.8,1552.9 688.8,1553 688.8,1553 688.8,1553 688.8,1553 688.8,1553.1 688.8,1553.1 688.8,1553.1 688.7,1553.1 688.7,1553.1 688.7,1553.1 684.9,1555Z M506.4,1657.8 506.4,1657.8 507.3,1661.9 507.3,1661.9 507.3,1661.9 517.2,1662.5 517.2,1662.5 517.2,1662.5 517.3,1662.5 517.3,1662.5 517.3,1662.5 517.3,1662.5 525.3,1668.7 525.3,1668.7 525.3,1668.7 526,1660.9 526,1660.9 526,1660.9 517.3,1656.9 517.3,1656.9 517.3,1656.9 506.4,1657.8Z M255.6,1131.6 255.6,1131.6 256.6,1135.7 256.6,1135.7 256.7,1135.7 263.7,1133.7 263.7,1133.7 263.8,1133.7 263.8,1133.7 263.8,1133.7 263.8,1133.7 263.9,1133.7 263.9,1133.7 263.9,1133.7 263.9,1133.7 263.9,1133.7 264,1133.8 264,1133.8 264,1133.8 271.1,1144 271.1,1144 271.1,1144 283.5,1129.6 283.5,1129.6 283.5,1129.6 283.5,1129.6 283.6,1129.5 283.6,1129.5 283.6,1129.5 283.6,1129.5 283.6,1129.5 283.7,1129.5 283.7,1129.5 302.1,1132.6 302.2,1132.6 302.2,1132.6 302.2,1132.6 302.2,1132.6 315.6,1141.9 315.7,1141.9 315.7,1141.9 323.9,1133.6 323.9,1133.6 323.9,1133.6 329,1123.4 329.1,1123.4 329.1,1123.4 329.1,1123.4 329.1,1123.3 329.1,1123.3 329.1,1123.3 329.2,1123.3 329.2,1123.3 329.2,1123.3 329.2,1123.3 329.3,1123.3 343.5,1122.3 343.6,1122.3 343.6,1122.3 343.6,1122.3 343.7,1122.3 351.8,1125.3 351.8,1125.3 351.8,1125.4 351.9,1125.4 351.9,1125.4 351.9,1125.4 351.9,1125.4 351.9,1125.4 357.1,1133.6 357.1,1133.6 357.1,1133.6 358,1129.8 358,1129.7 358,1129.7 358.1,1129.7 358.1,1129.7 358.1,1129.7 358.1,1129.6 358.1,1129.6 358.1,1129.6 358.2,1129.6 358.2,1129.6 358.2,1129.6 358.2,1129.6 358.3,1129.6 358.3,1129.6 358.3,1129.6 358.3,1129.6 358.3,1129.6 371.5,1133.6 371.6,1133.6 371.6,1133.6 372.5,1128.7 372.6,1128.6 372.6,1128.6 372.6,1128.6 372.6,1128.6 372.6,1128.6 372.6,1128.5 372.6,1128.5 372.7,1128.5 372.7,1128.5 372.7,1128.5 372.7,1128.5 372.7,1128.5 372.8,1128.5 372.8,1128.5 397.4,1127.4 397.4,1127.4 397.4,1127.4 392.3,1120.6 392.3,1120.5 392.2,1120.5 392.2,1120.5 392.2,1120.5 392.2,1120.4 392.2,1120.4 392.2,1120.4 392.2,1120.4 392.2,1120.3 392.2,1120.3 392.2,1120.3 392.3,1120.3 392.3,1120.3 392.3,1120.2 392.3,1120.2 392.3,1120.2 392.3,1120.2 392.4,1120.2 392.4,1120.2 392.4,1120.2 392.4,1120.2 392.5,1120.2 392.5,1120.2 392.5,1120.2 392.5,1120.2 392.6,1120.2 392.6,1120.2 392.6,1120.2 392.6,1120.2 399.5,1125.4 399.5,1125.4 399.5,1125.4 405.6,1126.4 405.7,1126.4 405.7,1126.4 405.7,1126.4 405.7,1126.4 405.8,1126.4 405.8,1126.5 409.9,1130.5 409.9,1130.5 409.9,1130.5 428.4,1129.5 428.5,1129.5 428.5,1129.5 428.5,1129.5 428.5,1129.5 428.5,1129.5 440.9,1135.3 440.9,1135.3 440.9,1135.3 448.1,1131.6 448.1,1131.6 448.2,1131.6 448.2,1131.6 448.2,1131.6 464.7,1129.5 464.7,1129.5 464.7,1129.5 467.8,1123.4 467.8,1123.4 467.8,1123.3 467.8,1123.3 467.8,1123.3 467.9,1123.3 467.9,1123.3 467.9,1123.3 477.1,1119.2 477.1,1119.2 477.1,1119.1 479.2,1109.8 479.2,1109.8 479.2,1109.8 461.7,1106.7 461.6,1106.7 461.6,1106.7 461.6,1106.7 452,1101.9 452,1101.9 452,1101.9 452,1101.9 452,1101.9 452,1101.9 451.9,1101.8 451.9,1101.8 451.9,1101.8 451.9,1101.8 451.9,1101.8 451.9,1101.7 451.9,1101.7 451.9,1101.7 451.9,1101.7 451.9,1101.6 451.9,1101.6 452,1101.6 452,1101.6 452,1101.5 452,1101.5 452,1101.5 452,1101.5 452.1,1101.5 452.1,1101.5 452.1,1101.5 452.1,1101.5 462.6,1100.5 462.6,1100.5 462.6,1100.5 459.8,1097.7 459.8,1097.7 459.8,1097.7 459.8,1097.6 459.8,1097.6 459.8,1097.6 459.8,1097.6 459.8,1097.5 459.8,1097.5 459.8,1097.5 459.8,1097.5 459.8,1097.5 459.8,1097.4 459.8,1097.4 459.8,1097.4 459.8,1097.4 459.8,1097.3 459.8,1097.3 459.9,1097.3 459.9,1097.3 459.9,1097.3 459.9,1097.3 465.8,1095.3 465.8,1095.3 465.8,1095.3 463.8,1088.6 463.8,1088.5 463.8,1088.5 463.8,1088.5 463.8,1088.5 463.8,1088.4 463.8,1088.4 463.8,1088.4 463.8,1088.4 463.9,1088.3 463.9,1088.3 463.9,1088.3 463.9,1088.3 463.9,1088.3 463.9,1088.3 464,1088.2 464,1088.2 464,1088.2 464,1088.2 464.1,1088.2 464.1,1088.2 464.1,1088.2 464.1,1088.2 469.9,1090.2 469.9,1090.2 469.9,1090.2 477.1,1082.9 477.1,1082.9 477.1,1082.9 475.3,1078.2 475.3,1078.2 475.2,1078.2 475.2,1078.1 475.2,1078.1 475.2,1078.1 475.2,1078.1 475.3,1078.1 475.3,1078 475.3,1078 475.3,1078 475.3,1078 475.3,1077.9 475.3,1077.9 475.4,1077.9 475.4,1077.9 475.4,1077.9 475.4,1077.9 475.4,1077.9 475.5,1077.9 475.5,1077.9 475.5,1077.9 475.5,1077.9 475.6,1077.9 482.3,1079.8 482.3,1079.8 482.3,1079.8 490.6,1069.5 490.6,1069.5 490.6,1069.5 495.8,1059.1 495.8,1059.1 495.8,1059.1 494.7,1043.6 494.7,1043.6 494.7,1043.6 486.5,1035.3 486.5,1035.3 486.5,1035.3 472,1031.8 472,1031.8 472,1031.8 460.6,1032.2 460.6,1032.2 460.6,1032.2 456.6,1037.8 456.6,1037.8 456.6,1037.8 456.5,1037.8 456.5,1037.8 456.5,1037.9 456.5,1037.9 456.5,1037.9 456.4,1037.9 456.4,1037.9 456.4,1037.9 456.4,1037.9 456.3,1037.9 456.3,1037.9 456.3,1037.9 456.3,1037.9 456.3,1037.8 456.2,1037.8 449.4,1032.4 449.4,1032.4 449.4,1032.4 449.4,1032.3 449.4,1032.3 449.4,1032.3 449.4,1032.3 449.3,1032.2 449.3,1032.2 449.3,1032.2 449.3,1032.2 449.3,1032.1 449.4,1032.1 449.4,1032.1 449.4,1032.1 449.4,1032.1 449.4,1032 449.4,1032 449.4,1032 459.5,1023.9 459.5,1023.9 459.5,1023.9 458.5,1009.4 458.5,1009.4 458.5,1009.4 455.4,1000.1 455.4,1000.1 455.4,1000.1 443,992.9 443,992.9 443,992.9 435.9,991.6 435.9,991.6 435.9,991.6 435.9,991.6 435.8,991.5 435.8,991.5 435.8,991.5 435.8,991.5 435.8,991.5 435.8,991.5 435.7,991.4 435.7,991.4 435.7,991.4 435.7,991.4 435.7,991.3 435.7,991.3 435.7,991.3 435.7,991.3 435.7,991.2 435.8,991.2 435.8,991.2 435.8,991.2 435.8,991.2 435.8,991.1 435.8,991.1 435.9,991.1 435.9,991.1 435.9,991.1 435.9,991.1 435.9,991.1 436,991.1 436,991.1 447.1,991.8 447.1,991.8 447.1,991.8 447.1,991.8 447.2,991.8 447.2,991.9 456.4,998 456.4,998 456.4,998 449.3,976.5 449.2,976.5 449.2,976.4 449.2,976.4 449.2,976.4 449.2,976.4 449.2,976.3 449.3,976.3 449.3,976.3 449.3,976.3 449.3,976.2 449.3,976.2 449.3,976.2 449.4,976.2 452.3,974.2 452.3,974.2 452.3,974.2 447.1,966 447.1,965.9 441.9,955.6 441.9,955.6 441.9,955.6 430.6,947.3 430.6,947.3 430.6,947.3 424.7,946.3 424.7,946.3 424.6,946.3 424.6,946.3 424.6,946.3 424.6,946.3 424.6,946.3 424.5,946.2 424.5,946.2 424.5,946.2 424.5,946.2 424.5,946.2 424.5,946.1 424.5,946.1 424.5,946.1 424.5,946.1 424.5,946 424.5,946 424.5,946 424.5,946 426.4,942.1 426.4,942.1 426.4,942.1 422.7,931.8 422.7,931.8 422.7,931.8 422.7,931.8 422.7,931.7 423.3,920.4 423.3,920.4 423.3,920.4 421.3,916.3 421.3,916.3 421.2,916.3 421.2,916.2 421.2,916.2 420.3,900.2 420.3,900.2 420.3,900.1 420.3,900.1 420.3,900.1 420.3,900.1 420.3,900 420.3,900 420.4,900 420.4,900 420.4,900 420.4,899.9 420.4,899.9 420.5,899.9 420.5,899.9 420.5,899.9 420.5,899.9 420.5,899.9 420.6,899.9 420.6,899.9 420.6,899.9 420.6,899.9 420.2,898.7 420.2,898.7 420.2,898.7 420.2,898.7 420.2,898.7 420.2,898.7 420.1,898.7 420.1,898.7 420.1,898.7 420.1,898.7 420,898.7 420,898.7 420,898.7 420,898.7 419.9,898.7 419.9,898.7 419.9,898.7 419.9,898.7 419.9,898.7 419.8,898.6 419.8,898.6 419.8,898.6 415.6,891.7 415.6,891.6 415.6,891.6 411.5,880 411.5,880 411.5,880 394.1,870.9 394.1,870.9 394.1,870.9 387.6,874.2 387.6,874.2 387.5,874.2 387.5,874.2 387.5,874.2 387.5,874.2 387.4,874.2 387.4,874.2 387.4,874.2 387.4,874.2 377.6,870.1 377.5,870.1 377.5,870.1 377.5,870.1 369.6,863.9 369.6,863.9 369.6,863.8 369.5,863.8 369.5,863.8 369.5,863.8 369.5,863.7 369.5,863.7 369.5,863.7 369.5,863.7 369.5,863.7 369.5,863.6 369.5,863.6 369.5,863.6 369.5,863.6 369.5,863.5 369.6,863.5 369.6,863.5 369.6,863.5 369.6,863.5 369.6,863.5 369.7,863.4 369.7,863.4 369.7,863.4 369.7,863.4 369.7,863.4 369.8,863.4 369.8,863.4 369.8,863.4 369.8,863.4 369.9,863.4 369.9,863.5 379.2,869.3 379.2,869.3 379.2,869.3 395.6,858.6 395.7,858.6 395.7,858.6 395.7,858.5 395.7,858.5 395.8,858.5 395.8,858.5 395.8,858.5 395.8,858.5 395.9,858.5 395.9,858.6 399.9,860.2 399.9,860.2 399.9,860.2 395.8,853.5 395.8,853.5 395.7,853.5 384.3,853.2 384.3,853.2 384.3,853.2 384.2,853.2 384.2,853.2 384.2,853.2 384.2,853.2 384.2,853.2 384.1,853.1 384.1,853.1 384.1,853.1 384.1,853.1 383.5,851.8 383.5,851.8 383.5,851.8 383.4,851.8 383.4,851.7 383.4,851.7 383.4,851.7 383.4,851.7 383.5,851.6 383.5,851.6 383.5,851.6 383.5,851.6 383.5,851.5 383.5,851.5 383.5,851.5 383.6,851.5 383.6,851.5 383.6,851.5 383.6,851.5 390.7,849.4 390.8,849.4 390.8,849.4 390.8,849.4 390.8,849.4 390.8,849.4 399.9,851.1 399.9,851.1 399.9,851.1 415.6,833.7 415.6,833.7 415.6,833.7 432.2,807.2 432.2,807.2 432.2,807.2 432.5,797.2 432.5,797.2 432.5,797.2 397.4,788.9 397.4,788.9 392.4,788.4 392.4,788.4 392.4,788.4 379.2,789.8 379.2,789.8 379.2,789.8 373.4,793.9 373.4,793.9 373.4,793.9 373.4,793.9 373.4,793.9 373.3,793.9 368.3,794.5 368.3,794.5 368.2,794.5 368.2,794.5 368.2,794.5 368.2,794.5 368.1,794.5 368.1,794.4 368.1,794.4 368.1,794.4 368.1,794.4 368.1,794.4 368,794.4 368,794.3 368,794.3 368,794.3 368,794.3 368,794.2 368,794.2 368,794.2 368,794.2 368,794.1 368,794.1 368,794.1 368.1,794.1 368.1,794.1 368.1,794 368.1,794 368.1,794 368.2,794 368.2,794 375.9,791.4 375.9,791.4 375.9,791.4 368.3,789.9 368.2,789.9 368.2,789.9 368.2,789.9 368.2,789.9 368.1,789.9 368.1,789.8 368.1,789.8 368.1,789.8 368.1,789.8 368.1,789.8 368.1,789.7 368.1,789.7 368.1,789.7 368.1,789.7 368.1,789.6 368.1,789.6 368.1,789.6 368.1,789.6 368.1,789.5 368.1,789.5 368.1,789.5 368.1,789.5 368.1,789.5 368.2,789.5 368.2,789.4 372.5,787 372.5,787 372.6,787 372.6,787 372.6,786.9 380.8,785.6 380.8,785.6 380.9,785.6 385.8,779.8 385.8,779.8 385.8,779.8 381,781.4 380.9,781.5 380.9,781.5 380.9,781.5 380.9,781.5 380.9,781.5 380.8,781.5 380.8,781.4 380.8,781.4 380.8,781.4 380.7,781.4 373.2,775.9 373.2,775.9 373.1,775.9 373.1,775.9 373.1,775.8 373.1,775.8 373.1,775.8 373.1,775.8 373.1,775.7 373.1,775.7 373.1,775.7 373.1,775.7 373.1,775.6 373.1,775.6 373.1,775.6 373.1,775.6 373.1,775.6 373.1,775.5 373.2,775.5 373.2,775.5 373.2,775.5 373.2,775.5 373.2,775.5 373.3,775.5 373.3,775.5 373.3,775.5 373.3,775.5 373.4,775.5 373.4,775.5 373.4,775.5 380.8,778.2 380.8,778.2 380.9,778.2 382.5,774.9 382.5,774.9 382.5,774.9 382.5,774.9 382.5,774.8 382.6,774.8 407.3,758.3 407.3,758.3 407.4,758.3 411.5,747.5 411.5,747.5 411.5,747.5 390.8,746.2 390.8,746.2 377.5,745.9 377.5,745.9 377.5,745.9 376.1,748.7 376.1,748.7 376.1,748.8 376.1,748.8 376.1,748.8 376,748.8 376,748.8 376,748.8 376,748.8 376,748.8 375.9,748.8 375.9,748.8 375.9,748.8 375.9,748.8 375.8,748.8 375.8,748.8 375.8,748.8 375.8,748.8 375.7,748.8 375.7,748.8 375.7,748.8 375.7,748.7 375.7,748.7 375.7,748.7 373.4,743.4 373.4,743.4 373.4,743.4 369.5,745.8 369.4,745.8 369.4,745.8 369.4,745.8 369.4,745.8 369.3,745.8 369.3,745.8 369.3,745.8 369.3,745.8 369.2,745.8 369.2,745.8 369.2,745.8 369.2,745.7 369.2,745.7 369.1,745.7 369.1,745.7 364.3,738.9 364.3,738.9 364.3,738.9 359.3,743.4 359.3,743.4 359.3,743.4 357.7,750.8 357.7,750.8 357.7,750.9 359.9,755.6 359.9,755.6 359.9,755.6 359.9,755.6 359.9,755.7 359.9,755.7 359.9,755.7 359.9,755.7 359.9,755.8 359.9,755.8 359.9,755.8 359.8,755.8 359.8,755.9 359.8,755.9 359.8,755.9 359.8,755.9 359.8,755.9 359.7,755.9 359.7,755.9 359.7,755.9 359.7,755.9 359.6,755.9 359.6,755.9 359.6,755.9 359.6,755.9 351,752.5 351,752.5 351,752.5 349.4,762.2 349.4,762.2 349.4,762.2 349.4,762.2 349.4,762.3 349.4,762.3 349.4,762.3 349.3,762.3 349.3,762.3 349.3,762.4 349.3,762.4 349.3,762.4 349.2,762.4 349.2,762.4 349.2,762.4 349.2,762.4 349.1,762.4 349.1,762.4 346.1,761.6 346.1,761.6 346.1,761.6 349.4,769.1 349.4,769.1 350.8,773.5 350.9,773.5 350.9,773.5 350.9,773.5 350.9,773.6 350.9,773.6 350.8,773.6 350.8,773.6 350.8,773.7 350.8,773.7 350.8,773.7 350.8,773.7 350.8,773.7 350.8,773.7 350.7,773.8 350.7,773.8 350.7,773.8 350.7,773.8 350.6,773.8 350.6,773.8 350.6,773.8 350.6,773.8 350.5,773.8 350.5,773.8 350.5,773.8 342.8,769.9 342.8,769.9 342.7,769.9 335.3,771.1 335.3,771.1 335.3,771.1 336.1,774.8 336.1,774.8 336.1,774.8 336.1,774.8 336.1,774.8 336.1,774.9 336.1,774.9 336.1,774.9 336.1,774.9 336.1,775 331.2,781.5 331.2,781.5 331.2,781.5 329.5,788.9 329.5,788.9 329.5,788.9 331.2,793.1 331.2,793.1 331.2,793.1 337.1,793.8 337.2,793.8 337.2,793.8 337.2,793.9 337.2,793.9 337.3,793.9 337.3,793.9 337.3,793.9 337.3,793.9 337.3,793.9 337.3,794 337.3,794 337.3,794 337.4,794 337.4,794.1 337.4,794.1 337.4,794.1 337.4,794.1 337.3,794.2 337.3,794.2 337.3,794.2 337.3,794.2 337.3,794.2 337.3,794.3 337.3,794.3 337.3,794.3 331.6,798.3 331.5,798.3 331.5,798.3 331.5,798.3 331.5,798.3 331.4,798.3 331.4,798.3 331.4,798.3 331.4,798.3 331.3,798.3 331.3,798.3 331.3,798.3 331.3,798.3 331.3,798.3 331.2,798.2 331.2,798.2 331.2,798.2 331.2,798.2 331.2,798.2 331.2,798.1 331.2,798.1 331.2,798.1 331.2,798.1 331.2,798.1 331.2,798.1 331.2,798.1 322.2,792.3 322.2,792.3 322.1,792.3 322.1,792.3 322.1,792.3 322.1,792.2 322.1,792.2 322.1,792.2 322.1,792.2 322.1,792.2 322.1,792.1 322.1,792.1 322.9,778.2 322.9,778.2 322.9,778.2 320.4,774.9 320.4,774.9 320.4,774.9 317.2,779.6 317.2,779.7 317.2,779.7 317.2,779.7 317.1,779.7 317.1,779.7 317.1,779.7 317.1,779.7 317.1,779.7 317,779.7 317,779.7 317,779.7 317,779.7 316.9,779.7 316.9,779.7 316.9,779.7 316.9,779.7 312.9,777.4 312.9,777.4 312.9,777.4 312.1,781.3 312.1,781.4 312.1,781.4 312.1,781.4 312.1,781.4 312.1,781.4 312.1,781.5 312.1,781.5 312,781.5 312,781.5 312,781.5 312,781.5 305.5,783.1 305.5,783.1 305.5,783.2 311.2,788.9 311.3,788.9 311.3,788.9 311.3,789 311.3,789 311.3,789 313.8,798 313.8,798.1 313.8,798.1 324.5,802.2 324.5,802.2 324.5,802.2 330.8,798.3 330.8,798.3 330.8,798.3 330.8,798.3 330.9,798.3 330.9,798.3 330.9,798.3 330.9,798.3 331,798.3 331,798.3 331,798.3 331,798.3 331.1,798.3 331.1,798.3 331.1,798.3 331.1,798.3 331.1,798.4 331.1,798.4 331.1,798.4 331.2,798.4 331.2,798.5 331.2,798.5 331.2,798.5 331.2,798.5 331.2,798.5 331.2,798.6 331.2,798.6 336.8,800.7 336.9,800.7 336.9,800.7 336.9,800.7 336.9,800.7 336.9,800.8 337,800.8 337,800.8 337,800.8 337,800.9 337,800.9 337,800.9 337,800.9 337,800.9 337,801 337,801 337,801 337,801 337,801.1 336.9,801.1 336.9,801.1 336.9,801.1 336.9,801.1 336.9,801.1 336.8,801.2 336.8,801.2 336.8,801.2 336.8,801.2 336.7,801.2 336.7,801.2 330.3,800.5 330.3,800.5 330.3,800.5 326.2,805.5 326.2,805.5 326.2,805.5 326.2,805.5 322.1,808 322.1,808 322.1,808 331.8,805.6 331.8,805.6 331.8,805.6 331.8,805.6 331.9,805.6 331.9,805.6 331.9,805.6 331.9,805.6 332,805.6 332,805.6 332,805.6 332,805.6 332,805.7 332,805.7 332.1,805.7 332.1,805.7 333.6,810.3 333.6,810.3 333.6,810.3 333.6,810.3 333.6,810.4 333.6,810.4 333.6,810.4 333.6,810.4 333.6,810.5 333.5,810.5 333.5,810.5 333.5,810.5 333.5,810.5 333.5,810.5 333.5,810.6 333.4,810.6 326.2,813.8 326.2,813.8 326.2,813.8 322.9,818.7 322.9,818.7 322.9,818.7 322.9,818.7 322.9,818.7 322.8,818.8 322.8,818.8 322.8,818.8 322.8,818.8 312.9,820.7 312.9,820.7 312.9,820.7 319.3,823.9 319.3,823.9 319.3,823.9 319.4,824 319.4,824 319.4,824 319.4,824 319.4,824 319.4,824.1 319.4,824.1 319.4,824.1 319.4,824.1 319.4,824.2 319.4,824.2 319.4,824.2 319.4,824.2 319.4,824.3 319.4,824.3 319.4,824.3 317.9,826.2 317.9,826.2 317.9,826.2 321.2,832 321.2,832 321.2,832 332.8,827 332.8,827 340.9,822.2 340.9,822.2 340.9,822.2 340.9,822.2 341,822.2 341,822.2 341,822.2 341,822.2 341.1,822.2 341.1,822.2 341.1,822.2 341.1,822.2 341.2,822.2 341.2,822.2 341.2,822.3 341.2,822.3 341.2,822.3 343.4,826.4 343.4,826.5 343.5,826.5 343.5,826.5 343.5,826.5 343.5,826.6 343.5,826.6 343.5,826.6 343.5,826.6 343.4,826.6 343.4,826.7 343.4,826.7 343.4,826.7 343.4,826.7 343.4,826.7 343.3,826.8 343.3,826.8 343.3,826.8 343.3,826.8 336.1,828.7 336.1,828.7 336.1,828.7 331.2,835.3 331.2,835.3 331.2,835.3 332.7,838.1 332.7,838.1 332.7,838.1 332.7,838.2 332.7,838.2 332.7,838.2 332.7,838.2 332.7,838.3 332.7,838.3 332.7,838.3 332.7,838.3 332.7,838.3 332.7,838.4 332.7,838.4 332.6,838.4 332.6,838.4 332.6,838.4 323.7,843.6 323.7,843.6 323.7,843.6 324.5,849.3 324.5,849.3 324.5,849.3 324.5,849.4 324.5,849.4 324.5,849.4 324.5,849.4 324.5,849.5 324.5,849.5 317.9,858.5 317.9,858.5 317.9,858.5 320.2,860.4 320.3,860.4 320.3,860.4 320.3,860.4 320.3,860.5 320.3,860.5 320.3,860.5 320.3,860.5 320.3,860.5 320.3,860.6 320.3,860.6 320.3,860.6 320.3,860.6 320.3,860.7 317.1,868.4 317.1,868.4 317.1,868.4 318.7,867.2 318.7,867.2 318.8,867.1 318.8,867.1 318.8,867.1 318.8,867.1 318.9,867.1 318.9,867.1 318.9,867.1 318.9,867.1 318.9,867.1 319,867.1 319,867.2 319,867.2 319,867.2 319,867.2 319.1,867.2 319.1,867.2 319.1,867.3 319.1,867.3 319.1,867.3 319.1,867.3 319.1,867.3 319.1,867.4 319.1,867.4 319.1,867.4 319.1,867.4 319.1,867.5 319.1,867.5 307.1,890 307.1,890 307.1,890 316.2,888.3 316.3,888.3 316.3,888.3 321.5,877.8 321.5,877.8 321.5,877.8 321.6,877.7 321.6,877.7 321.6,877.7 321.6,877.7 321.6,877.7 321.7,877.7 321.7,877.7 321.7,877.7 321.7,877.7 321.7,877.7 321.8,877.7 321.8,877.7 321.8,877.7 321.8,877.7 321.9,877.7 321.9,877.7 321.9,877.7 321.9,877.7 321.9,877.8 321.9,877.8 322,877.8 322,877.8 322,877.8 323.7,884.2 323.7,884.2 323.7,884.2 328.7,885 328.7,885 328.7,885 329.5,879.2 329.5,879.2 329.5,879.2 325.4,872.6 325.4,872.6 325.4,872.6 323.5,873.7 323.5,873.7 323.5,873.7 323.5,873.7 323.4,873.7 323.4,873.7 323.4,873.7 323.4,873.7 323.3,873.7 323.3,873.7 323.3,873.7 323.3,873.7 323.2,873.7 323.2,873.7 323.2,873.6 323.2,873.6 323.2,873.6 323.2,873.6 323.2,873.6 323.2,873.5 323.1,873.5 323.1,873.5 323.1,873.5 323.2,873.4 324.5,865.1 324.5,865.1 324.5,865.1 322.9,864.3 322.9,864.3 322.9,864.3 322.9,864.3 322.9,864.3 322.9,864.3 322.8,864.2 322.8,864.2 322.8,864.2 322.8,864.2 322.8,864.2 322.8,864.1 322.8,864.1 322.8,864.1 322.8,864.1 322.8,864 322.8,864 322.8,864 322.9,864 322.9,864 322.9,863.9 322.9,863.9 324.5,862.7 324.5,862.6 324.5,862.6 325.3,857 325.3,857 325.4,856.9 325.4,856.9 325.4,856.9 325.4,856.9 325.4,856.8 325.4,856.8 325.4,856.8 325.5,856.8 331.6,853.4 331.6,853.4 331.6,853.4 331.7,853.4 331.7,853.4 331.7,853.4 331.7,853.4 331.8,853.4 331.8,853.4 331.8,853.4 331.8,853.4 331.9,853.4 331.9,853.4 331.9,853.4 331.9,853.4 331.9,853.5 331.9,853.5 332,853.5 332,853.5 332,853.6 332,853.6 332,853.6 332,853.6 332,853.7 332,853.7 331.9,853.7 331.9,853.7 331.9,853.8 331.9,853.8 327.9,858.5 327.8,858.5 327.8,858.5 330.3,866.8 330.3,866.8 330.3,866.8 332.7,862.9 332.7,862.8 332.7,862.8 332.7,862.8 332.8,862.8 332.8,862.8 332.8,862.8 332.8,862.8 332.8,862.8 332.9,862.7 332.9,862.7 332.9,862.7 332.9,862.7 333,862.8 333,862.8 333,862.8 333,862.8 337,865.1 337,865.1 337,865.1 340.2,855.3 340.2,855.3 340.2,855.3 340.3,855.3 340.3,855.3 340.3,855.2 340.3,855.2 340.3,855.2 340.3,855.2 340.4,855.2 340.4,855.2 340.4,855.2 343.9,854.5 343.9,854.5 343.9,854.5 343.9,854.5 344,854.5 344,854.5 344,854.5 344,854.5 344,854.5 344.1,854.5 344.1,854.5 344.1,854.6 344.1,854.6 344.1,854.6 344.1,854.6 344.1,854.6 344.1,854.7 344.2,854.7 344.2,854.7 344.2,854.7 344.2,854.8 344.1,854.8 344.1,854.8 344.1,854.8 344.1,854.9 341.9,858.5 341.9,858.5 341.9,858.5 353.6,871 353.7,871 353.7,871 353.7,871.1 353.7,871.1 353.7,871.1 353.7,871.1 353.7,871.2 353.7,871.2 353.7,871.2 353.7,871.2 353.7,871.3 353.7,871.3 353.7,871.3 353.7,871.3 353.6,871.3 353.6,871.4 353.6,871.4 353.6,871.4 353.6,871.4 353.5,871.4 353.5,871.4 353.5,871.4 353.5,871.4 353.4,871.4 353.4,871.4 353.4,871.4 353.4,871.4 342.8,867.6 342.8,867.6 342.7,867.6 342.7,867.6 339.4,865.1 339.4,865.1 339.4,865.1 336.1,878.4 336.1,878.4 336.1,878.4 341,886.6 341,886.6 341.1,886.6 341.1,886.6 341.1,886.7 341.1,886.7 341.1,886.7 341.1,886.7 341.1,886.8 341.1,886.8 339.5,891.6 339.5,891.6 339.4,891.6 339.4,891.6 339.4,891.7 339.4,891.7 336.1,894.9 331.3,899.8 331.3,899.8 331.2,899.8 331.2,899.8 331.2,899.9 331.2,899.9 331.1,899.9 331.1,899.9 331.1,899.9 331.1,899.9 331.1,899.9 331,899.9 331,899.9 328.1,898.7 328.1,898.7 328.1,898.7 325,905.8 325,905.8 325,905.8 325,905.9 325,905.9 324.9,905.9 324.9,905.9 324.9,905.9 324.9,905.9 324.8,905.9 320.8,906.9 320.8,906.9 320.8,906.9 323.9,925.6 323.9,925.6 323.9,925.6 325,919.4 325,919.4 325,919.3 326.9,914.5 326.9,914.4 326.9,914.4 327,914.4 327,914.4 327,914.4 327,914.4 327,914.3 327.1,914.3 327.1,914.3 327.1,914.3 327.1,914.3 327.2,914.3 327.2,914.3 327.2,914.3 327.2,914.3 327.3,914.3 327.3,914.3 327.3,914.4 333.2,918.3 333.2,918.3 333.3,918.3 333.3,918.4 339.5,926.6 339.5,926.6 339.5,926.6 341.5,917.6 341.5,917.5 341.5,917.5 341.5,917.5 341.5,917.5 341.5,917.4 341.5,917.4 341.6,917.4 341.6,917.4 341.6,917.4 341.6,917.4 341.6,917.4 341.7,917.4 341.7,917.4 341.7,917.4 341.7,917.4 341.8,917.4 341.8,917.4 347.7,919.3 347.7,919.3 347.7,919.4 347.7,919.4 347.8,919.4 347.8,919.4 347.8,919.4 350.8,923.5 350.8,923.5 350.9,923.5 364.3,919.4 364.3,919.4 364.3,919.4 364.3,919.4 364.3,919.4 364.4,919.4 376.5,921.2 376.6,921.2 376.6,921.3 376.6,921.3 376.6,921.3 376.6,921.3 376.7,921.3 376.7,921.3 376.7,921.3 376.7,921.4 376.7,921.4 376.7,921.4 376.7,921.4 376.7,921.5 376.7,921.5 376.7,921.5 376.7,921.5 376.7,921.5 376.7,921.6 376.7,921.6 376.7,921.6 376.7,921.6 376.7,921.7 376.7,921.7 376.6,921.7 376.6,921.7 376.6,921.7 376.6,921.7 376.6,921.7 365.3,924.5 365.3,924.5 365.3,924.5 361.2,932.8 361.2,932.8 361.2,932.8 361.2,940.1 361.2,940.1 361.2,940.1 367.4,951.4 367.4,951.4 367.4,951.4 367.4,951.4 367.4,951.5 367.4,951.5 367.4,951.5 367.4,951.5 366.4,957.7 366.4,957.7 366.4,957.7 371.5,959.7 371.6,959.7 371.6,959.7 377.2,957.9 377.2,957.8 377.2,957.8 377.3,957.8 377.3,957.8 377.3,957.8 377.3,957.8 377.4,957.9 377.4,957.9 377.4,957.9 377.4,957.9 377.4,957.9 377.5,957.9 377.5,957.9 377.5,958 377.5,958 377.5,958 377.5,958 377.5,958.1 377.5,958.1 377.5,958.1 377.5,958.1 377.5,958.2 377.5,958.2 377.5,958.2 369.5,974.2 369.5,974.2 369.5,974.2 373.4,978.2 373.4,978.2 373.5,978.2 373.5,978.2 373.5,978.2 373.5,978.3 373.5,978.3 373.5,978.3 373.5,978.3 373.5,978.4 373.5,978.4 373.5,978.4 373.5,978.4 373.5,978.5 373.5,978.5 373.4,978.5 373.4,978.5 373.4,978.5 364.3,985.6 364.3,985.6 364.3,985.6 365.3,991.8 365.3,991.8 365.3,991.8 374.3,996.8 374.3,996.8 374.3,996.8 374.4,996.8 374.4,996.9 374.4,996.9 374.4,996.9 374.4,996.9 374.4,996.9 374.4,997 374.4,997 374.4,997 374.4,997 374.4,997.1 374.4,997.1 374.4,997.1 374.4,997.1 374.4,997.2 374.4,997.2 374.4,997.2 374.3,997.2 374.3,997.2 371.7,999 371.7,999 371.7,999 371.7,999 371.6,999 371.6,999 371.6,999 371.6,999 371.5,999 371.5,999 371.5,999 371.5,999 371.4,999 371.4,998.9 371.4,998.9 365.3,992.9 365.3,992.9 365.3,992.9 363.4,1002.4 363.4,1002.4 363.4,1002.4 363.4,1002.4 363.4,1002.4 363.4,1002.5 363.4,1002.5 363.4,1002.5 363.3,1002.5 363.3,1002.5 363.3,1002.5 363.3,1002.5 363.2,1002.5 363.2,1002.6 363.2,1002.6 363.2,1002.5 363.1,1002.5 363.1,1002.5 363.1,1002.5 363.1,1002.5 363.1,1002.5 363,1002.5 363,1002.5 363,1002.5 363,1002.4 363,1002.4 363,1002.4 360.2,994.9 360.2,994.9 360.2,994.9 354,995.9 354,996 354,996 354,995.9 353.9,995.9 353.9,995.9 353.9,995.9 347.7,992.9 347.7,992.9 347.7,992.9 335.3,993.9 335.3,993.9 335.3,993.9 327,999.1 327,999.1 327,999.1 325,1004.2 325,1004.2 325,1004.2 325,1004.2 325,1004.2 324.9,1004.3 324.9,1004.3 324.9,1004.3 312.6,1011.5 312.5,1011.5 312.5,1011.5 314.6,1014.6 314.6,1014.6 314.6,1014.6 329.7,1010.6 329.7,1010.6 329.7,1010.6 329.8,1010.6 329.8,1010.6 329.8,1010.6 329.8,1010.6 329.9,1010.6 329.9,1010.6 329.9,1010.6 329.9,1010.6 329.9,1010.6 330,1010.7 330,1010.7 330,1010.7 330,1010.7 330,1010.8 330,1010.8 330,1010.8 330,1010.8 330,1010.8 330,1010.9 330,1010.9 329.1,1013.6 329.1,1013.6 329.1,1013.6 332.2,1019.7 332.2,1019.7 332.2,1019.7 332.2,1019.7 332.2,1019.7 332.2,1019.8 332.2,1019.8 332.2,1019.8 332.2,1019.8 332.2,1019.9 332.1,1019.9 328.1,1027 328.1,1027 328.1,1027 331.1,1030 331.1,1030 331.1,1030 331.1,1030.1 331.1,1030.1 331.1,1030.1 331.1,1030.1 331.1,1030.1 331.1,1030.2 331.1,1030.2 331.1,1030.2 331.1,1030.2 331.1,1030.3 331.1,1030.3 329.1,1034.2 329.1,1034.2 329.1,1034.3 329.1,1034.3 329.1,1034.3 318.8,1043.5 318.8,1043.6 318.8,1043.6 318.7,1043.6 318.7,1043.6 298.1,1049.8 298.1,1049.8 298.1,1049.8 298,1049.8 298,1049.8 290.8,1048.8 290.8,1048.8 290.8,1048.8 285.6,1055 285.6,1055 285.6,1055 291.8,1065.3 291.8,1065.3 291.8,1065.3 304.3,1066.4 304.3,1066.4 304.3,1066.4 312.4,1063.3 312.4,1063.3 312.4,1063.3 312.5,1063.3 312.5,1063.3 312.5,1063.3 312.5,1063.3 312.6,1063.3 312.6,1063.3 312.6,1063.3 312.6,1063.3 312.6,1063.3 312.7,1063.4 318.5,1069.2 318.5,1069.2 318.5,1069.2 318.5,1069.3 318.6,1069.3 318.6,1069.3 318.6,1069.3 318.6,1069.4 318.6,1069.4 318.6,1069.4 318.6,1069.4 318.6,1069.4 318.6,1069.5 318.5,1069.5 318.5,1069.5 318.5,1069.5 318.5,1069.6 318.5,1069.6 318.5,1069.6 318.4,1069.6 318.4,1069.6 311.5,1072.6 311.5,1072.6 311.5,1072.6 314.6,1076.7 314.6,1076.7 314.6,1076.7 324.8,1074.7 324.9,1074.7 324.9,1074.7 324.9,1074.7 324.9,1074.7 324.9,1074.7 325,1074.7 325,1074.7 325,1074.7 325,1074.7 325,1074.7 325.1,1074.7 335.3,1086.4 335.3,1086.4 335.3,1086.4 342.6,1087.7 342.6,1087.7 342.6,1087.7 358.1,1079.8 358.1,1079.8 369.2,1075.2 369.2,1075.2 369.2,1075.2 369.3,1075.2 369.3,1075.2 369.3,1075.2 369.3,1075.2 369.4,1075.2 369.4,1075.2 369.4,1075.2 369.4,1075.2 369.5,1075.2 369.5,1075.2 369.5,1075.3 369.5,1075.3 369.5,1075.3 369.5,1075.3 369.5,1075.4 369.5,1075.4 369.5,1075.4 369.5,1075.4 369.5,1075.4 369.5,1075.5 369.5,1075.5 369.5,1075.5 369.5,1075.5 369.5,1075.6 369.5,1075.6 369.5,1075.6 358.1,1086 358.1,1086 358.1,1086 349.8,1091.2 349.8,1091.2 349.8,1091.2 347.8,1096.3 347.8,1096.3 347.8,1096.3 347.8,1096.3 347.7,1096.3 347.7,1096.4 347.7,1096.4 347.7,1096.4 347.7,1096.4 347.6,1096.4 347.6,1096.4 343.7,1097.4 343.6,1097.4 343.6,1097.4 343.6,1097.4 343.6,1097.4 343.6,1097.4 343.5,1097.4 327,1092.2 327,1092.2 327,1092.2 312.6,1092.6 312.5,1092.7 312.5,1092.7 306.4,1099.4 306.4,1099.4 306.4,1099.5 306.3,1099.5 306.3,1099.5 306.3,1099.5 306.3,1099.5 306.2,1099.5 300.1,1100.5 300.1,1100.5 300.1,1100.5 296,1108.8 296,1108.8 296,1108.8 296,1108.8 287.8,1117 287.8,1117 287.8,1117 287.7,1117 287.7,1117 287.7,1117 287.7,1117.1 287.6,1117.1 287.6,1117.1 287.6,1117.1 287.6,1117 283.6,1116 283.6,1116 283.6,1116 277.4,1121.2 277.3,1121.2 262.9,1130.5 262.9,1130.5 262.9,1130.5 262.8,1130.5 262.8,1130.5 255.6,1131.6Z M452.9,1673 452.9,1673 459.4,1679.5 459.4,1679.5 459.4,1679.5 465.7,1679.5 465.8,1679.5 465.8,1679.5 465.8,1679.5 465.8,1679.5 465.9,1679.5 465.9,1679.5 465.9,1679.6 465.9,1679.6 477.5,1691.1 477.5,1691.1 477.5,1691.1 482.7,1688.6 482.7,1688.6 482.7,1688.6 485.2,1682.1 485.2,1682.1 485.3,1682.1 485.3,1682.1 493,1671.7 493,1671.7 493,1671.7 490.4,1666.6 490.4,1666.6 490.4,1666.6 483,1666.6 482.9,1666.6 482.9,1666.6 482.9,1666.6 482.9,1666.5 482.8,1666.5 482.8,1666.5 482.8,1666.5 482.8,1666.5 482.8,1666.5 482.8,1666.5 482.7,1666.4 482.7,1666.4 482.7,1666.4 482.7,1666.4 482.7,1666.3 482.7,1666.3 482.7,1666.3 482.7,1666.3 484,1660.1 484,1660.1 483.9,1660.1 465.8,1664 465.8,1664 465.8,1664 452.9,1673Z M457,677.1 457,677.1 460.3,680.5 460.4,680.5 460.4,680.5 466.5,678.1 466.6,678.1 466.6,678.1 466.6,678.1 466.6,678.1 466.7,678.1 466.7,678.1 466.7,678.1 466.7,678.1 466.7,678.2 466.8,678.2 466.8,678.2 466.8,678.2 466.8,678.2 466.8,678.2 466.8,678.3 466.9,678.3 466.9,678.3 466.9,678.3 466.9,678.4 466.9,678.4 466.9,678.4 466.9,678.4 465.3,684.6 465.3,684.6 465.3,684.6 461.2,692.9 461.2,692.9 461.2,692.9 463.7,697 463.7,697 463.7,697 465.3,689.6 465.3,689.6 465.3,689.6 465.3,689.5 468.6,683.8 468.6,683.8 471.9,676.3 471.9,676.3 475.3,668 475.3,668 476.9,661.5 476.9,661.5 476.9,661.5 476.9,661.5 476.9,661.4 476.9,661.4 477,661.4 477,661.4 477,661.4 477,661.4 481.9,658.9 481.9,658.9 481.9,658.9 484.4,654 484.4,654 484.4,654 481.9,652.3 481.9,652.3 481.9,652.3 472.8,661.3 472.8,661.4 472.8,661.4 472.8,661.4 472.8,661.4 472.7,661.4 472.7,661.4 472.7,661.4 472.7,661.4 471.1,661.4 471.1,661.4 471.1,661.4 462,664.7 462,664.7 462,664.7 466.9,669.7 467,669.7 467,669.7 467,669.7 468.5,672.7 468.5,672.8 468.5,672.8 468.5,672.8 468.5,672.8 468.5,672.9 468.5,672.9 468.5,672.9 468.5,672.9 468.5,673 468.5,673 468.5,673 468.5,673 468.5,673 468.4,673.1 468.4,673.1 468.4,673.1 468.4,673.1 457,677.1Z M407.6,1698.9 407.6,1698.9 410.2,1704.1 410.2,1704.1 410.2,1704.1 414.1,1702.8 414.1,1702.8 414.1,1702.8 423.1,1693.7 423.1,1693.7 423.1,1693.7 411.5,1693.7 411.5,1693.7 411.5,1693.7 407.6,1698.9Z M409,730.1 409,730.1 413.1,734.3 413.1,734.3 413.2,734.3 418.9,736.3 418.9,736.3 418.9,736.3 423.1,734.3 423.1,734.3 423.1,734.3 417.3,729.3 417.3,729.3 417.3,729.3 417.3,729.3 417.3,729.3 414.8,724.4 414.8,724.3 414.8,724.3 409,722.4 409,722.4 409,722.4 409,730.1Z M411.5,1709.3 411.5,1709.3 412.8,1713.7 412.8,1713.7 412.8,1713.7 418,1713.1 418,1713.1 418,1713.1 414.1,1708 414.1,1708 414.1,1708 411.5,1709.3Z M404.9,735.9 404.9,735.9 409,739.3 409,739.3 409,739.2 405.7,732.6 405.7,732.6 405.7,732.6 404.9,735.9Z M385,1130.5 385,1130.5 393.3,1135.3 393.3,1135.3 393.3,1135.3 399.5,1132.6 399.5,1132.6 399.5,1132.6 395.4,1128.5 395.4,1128.5 395.4,1128.5 385,1130.5Z M348,561 348,561 350,568 350,568 350,568 356.9,568 356.9,568 357,568 357,568 357,568 357,568 357,568 357.1,568.1 362,572 362,572 362,572 364,565.1 364,565.1 364,565.1 364,565.1 364,565 364,565 364,565 364.1,565 364.1,565 364.1,565 364.1,565 371,563 371,563 371,563 370,556 370,556 370,556 364,555 364,555 364,555 360.3,561.5 360.3,561.6 360.2,561.6 360.2,561.6 360.2,561.6 360.2,561.6 360.2,561.6 360.1,561.6 360.1,561.7 360.1,561.7 360.1,561.7 360,561.7 360,561.7 360,561.7 360,561.7 359.9,561.6 359.9,561.6 359.9,561.6 359.9,561.6 359.9,561.6 359.8,561.6 359.8,561.5 359.8,561.5 359.8,561.5 357,554 357,554 357,554 353,555 353,555 353,555 348,561Z M357.2,1351.6 357.2,1351.6 358.2,1357.5 358.2,1357.5 358.2,1357.5 362.1,1362.4 362.1,1362.4 362.1,1362.4 362.1,1354.6 362.1,1354.5 362.1,1354.5 357.2,1351.6Z M354.2,1195.2 354.2,1195.2 357.2,1199.2 357.2,1199.2 357.2,1199.2 362.1,1198.2 362.1,1198.2 362.1,1198.2 360.1,1195.2 360.1,1195.2 360.1,1195.2 354.3,1195.2Z M354,576 354,576 355,580 355,580 355,580 359,584 359,584 359,584 362,583 362,583 362,583 361,578 361,578 361,578 354,576Z M352,587 352,587 353,600 353,600 353,600 356,599 356,599 356,599 355,591 355,591 355,591 352,587Z M341.5,1182.4 341.5,1182.4 346.4,1185.4 346.4,1185.4 346.4,1185.4 347.4,1180.5 347.4,1180.5 347.4,1180.5 341.5,1182.4Z M323.3,953.5 323.3,953.5 329.1,953.1 329.1,953.1 329.1,953.1 338.4,942.1 338.4,942.1 338.4,942.1 333.3,940.1 333.3,940.1 333.2,940.1 323.3,953.5Z M318.8,990.8 318.8,990.8 321.9,994.9 321.9,994.9 321.9,994.9 327,998 327,998 327,998 335.3,992.9 335.3,992.9 335.3,992.9 329.1,986.7 329.1,986.6 329.1,986.6 323.9,985.6 323.9,985.6 323.9,985.6 318.8,990.8Z M303,763.3 303,763.3 303.8,767.1 303.8,767.1 303.8,767.1 311.3,766.6 311.3,766.6 311.3,766.6 316.2,760.8 316.2,760.8 316.3,760.8 316.3,760.8 316.3,760.8 322.9,757.5 322.9,757.5 322.9,757.5 322.9,752.6 322.9,752.6 322.9,752.6 322.9,752.6 322.9,752.5 322.9,752.5 322.9,752.5 322.9,752.5 323,752.4 323,752.4 331.2,745.9 331.2,745.9 331.2,745.9 332.5,736.3 332.5,736.3 332.5,736.3 314.6,742.6 314.6,742.6 314.6,742.6 308,746.7 308,746.7 308,746.7 304.7,752.5 304.7,752.5 304.7,752.5 310.3,760.5 310.3,760.5 310.3,760.6 310.3,760.6 310.3,760.6 310.3,760.6 310.3,760.6 310.3,760.7 310.3,760.7 310.3,760.7 310.3,760.7 310.3,760.8 310.3,760.8 310.3,760.8 310.2,760.8 310.2,760.8 310.2,760.9 310.2,760.9 310.2,760.9 310.1,760.9 303,763.3Z M303,840.3 303,840.3 319.6,841.9 319.6,841.9 319.6,841.9 321.2,833.7 321.2,833.7 321.2,833.7 316.3,830.4 316.3,830.4 316.3,830.3 316.2,830.3 316.2,830.3 312.1,824.6 312.1,824.6 312.1,824.6 308,827 308,827 308,827 311.2,835 311.2,835 311.2,835.1 311.2,835.1 311.2,835.1 311.2,835.1 311.2,835.2 311.2,835.2 311.2,835.2 311.2,835.2 311.1,835.3 311.1,835.3 311.1,835.3 311.1,835.3 311.1,835.3 311.1,835.3 311,835.3 311,835.4 311,835.4 311,835.4 304.7,836.1 304.7,836.1 304.7,836.2 303,840.3Z M308.8,863.5 308.8,863.5 314.6,858.5 314.6,858.5 314.6,858.5 316.3,851.9 316.3,851.9 316.2,851.9 311.3,853.5 311.3,853.5 311.3,853.5 308.8,863.5Z M140.7,1016.7 140.7,1016.7 145.9,1022.9 145.9,1022.9 145.9,1022.9 162.2,1025.8 162.3,1025.8 162.3,1025.8 162.3,1025.8 162.3,1025.8 162.4,1025.8 162.4,1025.8 162.4,1025.8 162.4,1025.9 162.4,1025.9 162.4,1025.9 162.4,1025.9 162.4,1026 162.4,1026 162.4,1026 162.4,1026 162.4,1026.1 162.4,1026.1 162.4,1026.1 162.4,1026.1 162.4,1026.1 162.4,1026.2 162.4,1026.2 162.4,1026.2 162.3,1026.2 162.3,1026.2 162.3,1026.2 162.3,1026.2 162.3,1026.3 144.9,1030.1 144.8,1030.1 144.9,1030.1 163.7,1033.1 163.7,1033.1 163.7,1033.1 163.8,1033.1 163.8,1033.1 163.8,1033.1 163.8,1033.2 163.8,1033.2 163.9,1033.2 163.9,1033.2 163.9,1033.2 163.9,1033.3 163.9,1033.3 163.9,1033.3 163.9,1033.3 163.9,1033.4 163.9,1033.4 163.9,1033.4 163.9,1033.4 163.9,1033.5 163.9,1033.5 163.9,1033.5 163.8,1033.5 163.8,1033.5 163.8,1033.6 163.8,1033.6 163.8,1033.6 151.1,1039.4 151.1,1039.4 151.1,1039.4 163.2,1037.4 163.3,1037.4 163.3,1037.4 163.3,1037.4 163.3,1037.4 163.3,1037.4 163.4,1037.4 163.4,1037.4 163.4,1037.5 163.4,1037.5 163.5,1037.5 163.5,1037.5 163.5,1037.5 163.5,1037.6 163.5,1037.6 163.5,1037.6 163.5,1037.6 164.5,1044.6 164.5,1044.6 164.5,1044.6 182.1,1042.6 182.1,1042.5 182.1,1042.5 182.1,1042.6 189.4,1043.6 189.4,1043.6 189.4,1043.6 196.6,1039.4 196.6,1039.4 196.6,1039.4 198.6,1035.5 198.6,1035.5 198.6,1035.4 198.6,1035.4 198.6,1035.4 198.7,1035.4 198.7,1035.4 198.7,1035.4 198.7,1035.4 198.7,1035.3 198.8,1035.3 198.8,1035.3 198.8,1035.3 198.8,1035.3 198.9,1035.3 207,1037.4 207,1037.4 207,1037.4 221.4,1032.2 221.4,1032.2 221.5,1032.2 223.5,1028.2 223.5,1028.2 223.5,1028.1 223.5,1028.1 223.5,1028.1 223.5,1028.1 223.6,1028.1 223.6,1028.1 223.6,1028.1 223.6,1028.1 223.6,1028.1 223.7,1028.1 240.1,1028.1 240.1,1028.1 240.1,1028 242.1,1026.1 242.1,1026.1 242.1,1026 242.1,1026 242.2,1026 242.2,1026 242.2,1026 242.2,1026 242.2,1026 242.3,1026 252.4,1027 252.5,1027 252.5,1027 252.5,1027 252.5,1027 252.6,1027.1 259.7,1032.2 259.8,1032.2 259.8,1032.2 260.8,1028.1 260.8,1028.1 260.8,1028 264.9,1019.8 264.9,1019.8 273.2,1007.4 273.2,1007.3 273.2,1007.3 277.8,997 277.8,997 277.8,997 277.4,982.6 277.4,982.5 277.4,982.5 277.4,982.5 277.4,982.5 277.4,982.4 281.5,974.2 281.5,974.2 281.5,974.2 279.4,953.6 279.4,953.6 279.4,953.6 279.4,953.5 279.4,953.5 279.4,953.5 279.5,953.5 279.5,953.5 279.5,953.4 284.6,947.3 284.6,947.3 284.6,947.3 284.6,946.6 284.6,946.6 284.6,946.6 284.6,946.5 284.6,946.5 284.6,946.5 284.6,946.5 284.7,946.5 284.7,946.4 284.7,946.4 284.7,946.4 284.7,946.4 284.8,946.4 284.8,946.4 284.8,946.4 284.8,946.4 284.9,946.4 284.9,946.4 284.9,946.4 284.9,946.4 287.7,947.3 287.7,947.3 287.7,947.3 291.8,943.2 291.8,943.2 291.9,943.2 291.9,943.2 301.2,938 301.2,938 301.2,938 300.2,933.3 300.2,933.2 300.2,933.2 300.2,933.2 300.2,933.2 300.2,933.1 300.2,933.1 300.2,933.1 300.3,933.1 300.3,933.1 300.3,933 300.3,933 300.3,933 300.3,933 300.4,933 300.4,933 300.4,933 300.4,933 300.5,933 300.5,933 300.5,933 300.5,933 300.6,933 305.3,934.9 305.3,934.9 305.3,934.9 308.8,926.6 308.8,926.6 308.8,926.6 307.4,921.4 307.4,921.4 307.4,921.4 302.5,920.5 302.5,920.5 302.5,920.4 302.4,920.4 302.4,920.4 302.4,920.4 302.4,920.4 302.4,920.4 302.4,920.4 302.3,920.3 302.3,920.3 302.3,920.3 302.3,920.3 302.3,920.2 302.3,920.2 302.3,920.2 302.3,920.2 302.3,920.1 302.3,920.1 302.3,920.1 305.3,914.2 305.3,914.2 305.3,914.2 302.2,905.9 302.2,905.9 302.2,905.9 300.1,894.5 300.1,894.5 300.1,894.5 296,889.3 296,889.3 296,889.3 283.6,887.7 283.6,887.7 283.6,887.7 277.6,888.6 277.6,888.6 277.6,888.6 277.6,888.6 277.5,888.6 277.5,888.6 277.5,888.6 277.5,888.6 277.4,888.6 277.4,888.6 277.4,888.6 277.4,888.5 277.4,888.5 277.4,888.5 277.4,888.5 277.3,888.4 277.3,888.4 277.3,888.4 277.3,888.4 277.3,888.3 277.3,888.3 277.3,888.3 277.3,888.3 276.3,885.2 276.3,885.2 276.3,885.2 268,876.9 268,876.9 268,876.9 265,879 265,879 264.9,879 264.9,879 264.9,879 264.9,879 254.6,880 254.6,880 254.6,880 252.6,883 252.6,883 252.6,883 252.6,883 252.5,883 252.5,883.1 252.5,883.1 252.5,883.1 252.5,883.1 252.4,883.1 252.4,883.1 252.4,883.1 252.4,883.1 252.3,883.1 241.1,880 241.1,880 241.1,880 239.1,885.1 239.1,885.1 239.1,885.2 239,885.2 239,885.2 239,885.2 239,885.2 229.7,891.4 229.7,891.4 229.7,891.4 226.6,895.5 226.6,895.6 221.5,900.7 221.4,900.7 221.5,900.7 228.7,905.9 228.7,905.9 228.7,905.9 243.7,904.3 243.7,904.3 243.8,904.3 243.8,904.3 243.8,904.3 243.8,904.3 243.9,904.3 243.9,904.3 243.9,904.4 243.9,904.4 243.9,904.4 243.9,904.4 244,904.4 244,904.4 244,904.5 244,904.5 244,904.5 244,904.5 244,904.6 244,904.6 244,904.6 244,904.6 244,904.7 244,904.7 243.2,905.8 243.2,905.9 243.2,905.9 243.2,905.9 243.2,905.9 243.1,905.9 243.1,905.9 234.9,910 234.9,910 221.5,915.2 221.4,915.2 221.4,915.2 221.4,919 221.4,919 221.4,919.1 221.4,919.1 221.4,919.1 221.4,919.1 221.4,919.2 221.4,919.2 221.4,919.2 221.4,919.2 221.3,919.2 221.3,919.2 221.3,919.3 221.3,919.3 221.2,919.3 221.2,919.3 221.2,919.3 221.2,919.3 221.2,919.3 221.1,919.3 211.1,916.3 211.1,916.3 211.1,916.3 205.1,917.3 205.1,917.3 205,917.3 205,917.3 205,917.3 205,917.2 204.9,917.2 204.9,917.2 204.9,917.2 204.9,917.2 204.9,917.2 204.8,917.2 204.8,917.1 204.8,917.1 204.8,917.1 202.8,912.1 202.8,912.1 202.8,912.1 191.4,908 191.4,908 186.3,906.3 186.3,906.3 186.2,906.3 180,912.1 180,912.1 180,912.1 182,918.1 182,918.1 182,918.1 182,918.1 182,918.2 182,918.2 182,918.2 182,918.2 182,918.3 182,918.3 182,918.3 182,918.3 181.9,918.3 181.9,918.4 181.9,918.4 181.9,918.4 181.9,918.4 174.9,920.4 174.9,920.4 174.9,920.4 179.9,921.4 179.9,921.4 180,921.4 180,921.4 180,921.4 180,921.5 180,921.5 180.1,921.5 180.1,921.5 180.1,921.5 180.1,921.6 182.1,926.6 182.1,926.6 182.1,926.6 188.9,931.5 189,931.5 189,931.5 189,931.5 189,931.5 189,931.6 189,931.6 189,931.6 189,931.6 189,931.7 189,931.7 189,931.7 189,931.7 189,931.8 189,931.8 189,931.8 189,931.8 189,931.8 189,931.9 188.9,931.9 188.9,931.9 188.9,931.9 188.9,931.9 188.9,931.9 182.1,933.8 182.1,933.9 182.1,933.9 180.1,939.9 180.1,939.9 180.1,940 180.1,940 180,940 180,940 180,940 180,940 180,940.1 179.9,940.1 179.9,940.1 179.9,940.1 179.9,940.1 169.7,941.1 169.7,941.1 169.7,941.1 167.6,947.3 167.6,947.3 167.6,947.3 173.8,954.5 173.8,954.6 173.8,954.6 177.9,955.6 177.9,955.6 177.9,955.6 177.9,955.6 178,955.6 178,955.6 178,955.6 178,955.7 178,955.7 182.1,961.8 182.1,961.8 182.1,961.8 198.1,963.8 198.1,963.8 198.1,963.8 198.1,963.8 198.2,963.8 198.2,963.8 198.2,963.9 198.2,963.9 198.2,963.9 198.2,963.9 198.3,963.9 198.3,964 198.3,964 198.3,964 198.3,964 198.3,964.1 198.3,964.1 198.3,964.1 198.3,964.1 198.3,964.1 198.2,964.2 198.2,964.2 198.2,964.2 198.2,964.2 198.2,964.2 190.4,970.1 190.4,970.1 190.4,970.1 182.1,974.2 182.1,974.2 182.1,974.2 180.1,982.4 180.1,982.4 180.1,982.4 180,982.4 180,982.5 180,982.5 180,982.5 180,982.5 180,982.5 179.9,982.5 179.9,982.5 179.9,982.5 162.4,987.7 162.4,987.7 162.4,987.7 184.2,990.8 184.2,990.8 184.2,990.8 191.3,987.7 191.3,987.7 191.3,987.7 191.4,987.7 191.4,987.7 191.4,987.7 191.4,987.7 191.5,987.7 191.5,987.7 191.5,987.7 191.5,987.8 197.6,992.1 197.6,992.1 197.6,992.1 197.7,992.1 197.7,992.2 197.7,992.2 197.7,992.2 197.7,992.2 197.7,992.3 197.7,992.3 197.7,992.3 197.7,992.3 197.7,992.4 197.7,992.4 197.7,992.4 197.7,992.4 197.7,992.4 197.6,992.5 197.6,992.5 197.6,992.5 197.6,992.5 197.6,992.5 197.5,992.5 197.5,992.5 197.5,992.5 197.5,992.5 197.4,992.5 197.4,992.5 197.4,992.5 190.4,990.8 190.4,990.8 190.4,990.8 182.2,992.8 182.1,992.8 182.1,992.9 182.1,992.9 182.1,992.8 182.1,992.8 171.8,990.8 171.8,990.8 171.8,990.8 163.5,994.9 163.5,994.9 163.5,994.9 161.5,1003.9 161.5,1004 161.5,1004 161.4,1004 161.4,1004 161.4,1004.1 161.4,1004.1 161.4,1004.1 161.4,1004.1 161.3,1004.1 161.3,1004.1 161.3,1004.1 161.3,1004.1 161.2,1004.1 161.2,1004.1 161.2,1004.1 161.2,1004.1 161.2,1004.1 161.1,1004.1 152.1,1000.1 152.1,1000.1 152.1,1000.1 141.7,1002.2 141.7,1002.2 141.7,1002.2 141.7,1006.3 141.7,1006.3 141.7,1006.3 156.5,1009.3 156.5,1009.3 156.5,1009.3 156.6,1009.3 156.6,1009.3 156.6,1009.3 156.6,1009.3 156.6,1009.4 156.6,1009.4 156.7,1009.4 156.7,1009.4 156.7,1009.4 156.7,1009.5 156.7,1009.5 156.7,1009.5 156.7,1009.5 156.7,1009.6 156.7,1009.6 156.7,1009.6 156.7,1009.6 156.6,1009.6 156.6,1009.7 156.6,1009.7 156.6,1009.7 156.6,1009.7 156.6,1009.7 156.5,1009.7 140.7,1016.7ZM237,913.1 237,913.2 237.8,915.4 237.9,915.4 237.9,915.5 237.9,915.5 237.9,915.5 237.9,915.5 237.9,915.6 237.9,915.6 237.8,915.6 237.8,915.6 237.8,915.6 237.8,915.7 237.8,915.7 237.8,915.7 237.8,915.7 237.7,915.7 237.7,915.7 237.7,915.7 237.7,915.7 237.6,915.8 237.6,915.8 237.6,915.8 237.6,915.7 237.5,915.7 237.5,915.7 237.5,915.7 237.5,915.7 237.5,915.7 237.4,915.7 235.1,913.4 235.1,913.3 235.1,913.3 235.1,913.3 235.1,913.3 235.1,913.3 235.1,913.2 235.1,913.2 235,913.2 235.1,913.2 235.1,913.1 235.1,913.1 235.1,913.1 235.1,913.1 235.1,913 235.1,913 235.1,913 235.1,913 235.2,913 239,910.4 239,910.4 239.1,910.4 239.1,910.4 239.1,910.4 239.1,910.4 239.2,910.4 239.2,910.4 239.2,910.4 239.2,910.4 239.3,910.4 239.3,910.4 239.3,910.4 239.3,910.4 239.3,910.4 239.3,910.5 239.4,910.5 239.4,910.5 239.4,910.5 239.4,910.5 239.4,910.6 239.4,910.6 239.4,910.6 239.4,910.6 239.4,910.7 239.4,910.7 239.4,910.7 239.4,910.7 239.4,910.8 239.3,910.8 239.3,910.8 237,913.1Z M293.4,867.6 293.4,867.6 296.3,870.1 296.3,870.1 296.4,870.1 296.4,870.1 296.4,870.1 296.4,870.2 298,874.2 298,874.2 298,874.2 307.1,870.9 307.1,870.9 307.1,870.9 304.7,865.3 304.7,865.3 304.7,865.3 304.7,865.2 304.7,865.2 304.7,865.2 304.7,865.2 304.7,865.2 304.7,865.1 304.7,865.1 304.8,865.1 304.8,865.1 304.8,865 304.8,865 304.8,865 308,862.7 308,862.6 308,862.6 306.3,858.5 306.3,858.5 306.3,858.5 295.6,858.5 295.5,858.5 295.5,858.5 293.4,867.6Z M289.3,769.9 289.3,769.9 297.2,776.5 297.2,776.5 297.2,776.5 302.2,771.6 302.2,771.6 302.2,771.5 298,769.4 298,769.4 298,769.4 289.3,769.9Z M286.8,793.1 286.8,793.1 290.6,794.7 290.6,794.7 290.6,794.7 293.4,788.1 293.4,788.1 293.4,788.1 288.9,782.3 288.9,782.3 288.9,782.3 286.8,793.1Z M264.2,-0.8 264.2,-0.8 270.8,21.2 270.8,21.2 270.8,21.2 280.7,16.6 280.7,16.6 280.7,16.6 278.4,8.8 278.4,8.8 278.4,8.8 278.4,8.7 278.4,8.7 278.4,8.7 278.4,8.7 278.4,8.6 278.4,8.6 278.5,8.6 278.5,8.6 278.5,8.6 278.5,8.5 278.5,8.5 278.5,8.5 278.6,8.5 278.6,8.5 278.6,8.5 278.6,8.5 278.7,8.5 278.7,8.5 278.7,8.5 278.7,8.5 278.8,8.5 285.7,11.6 285.7,11.6 285.7,11.6 284.9,6.6 284.9,6.6 284.9,6.6 279.9,-0.8 279.9,-0.8 279.9,-0.8 264.2,-0.8Z M69.2,371.3 69.2,371.3 80.4,373.9 80.4,373.9 98.4,379.5 98.4,379.5 98.5,379.5 98.5,379.5 98.5,379.5 98.5,379.5 98.5,379.5 98.5,379.6 98.6,379.6 98.6,379.6 110.2,405.6 110.2,405.6 110.2,405.6 127.6,420.5 127.6,420.5 127.6,420.5 148.3,425.3 148.3,425.3 148.3,425.3 162.5,418.9 162.5,418.9 162.6,418.8 162.6,418.8 162.6,418.8 162.6,418.8 162.7,418.8 184.6,423.1 184.6,423.1 184.6,423.1 202.7,414.7 202.7,414.7 202.7,414.7 202.7,414.7 216.8,412.1 216.8,412.1 216.8,412.1 216.9,412.1 216.9,412.1 216.9,412.1 216.9,412.1 217,412.2 217,412.2 217,412.2 217,412.2 220.8,416 220.8,416 220.8,416 224.7,416 224.7,416 224.7,416 231.1,410.9 231.1,410.9 231.1,410.8 231.1,410.8 231.2,410.8 231.2,410.8 231.2,410.8 231.2,410.8 231.3,410.8 236.3,411.5 236.3,411.5 236.3,411.4 242.8,405 242.8,405 242.8,405 246.6,399.3 246.6,399.3 246.6,399.3 246.6,399.3 246.6,399.3 246.7,399.3 246.7,399.3 246.7,399.2 246.7,399.2 246.7,399.2 246.8,399.2 246.8,399.2 246.8,399.2 246.8,399.2 246.9,399.3 246.9,399.3 251.9,401.7 251.9,401.7 251.9,401.7 260.9,396.6 260.9,396.6 260.9,396.6 257.3,389.3 257.3,389.3 257.3,389.2 257.3,389.2 257.3,389.2 257.3,389.2 257.3,389.2 257.3,389.1 257.3,389.1 257.3,389.1 257.3,389.1 257.3,389 257.3,389 257.3,389 257.4,389 257.4,389 257.4,389 257.4,388.9 257.4,388.9 257.5,388.9 257.5,388.9 257.5,388.9 257.5,388.9 257.6,388.9 264.8,390.7 264.8,390.8 264.8,390.7 268.7,386.2 268.7,386.2 268.7,386.2 263.7,377.5 263.7,377.4 263.7,377.4 263.6,377.4 263.6,377.4 263.6,377.3 263.6,377.3 263.6,377.3 263.6,377.3 263.7,377.2 263.7,377.2 263.7,377.2 263.7,377.2 263.7,377.2 263.7,377.1 263.7,377.1 263.8,377.1 263.8,377.1 263.8,377.1 263.8,377.1 271.5,375.2 271.5,375.2 271.5,375.2 273.2,368.1 273.2,368.1 273.2,368.1 262.3,357.2 262.3,357.2 262.3,357.2 262.3,357.2 262.3,357.1 262.3,357.1 262.3,357.1 262.3,357.1 262.3,357 262.3,357 262.3,357 262.3,357 263.5,353.2 263.5,353.2 263.5,353.2 253.6,350.1 253.5,350.1 253.5,350.1 253.5,350.1 253.5,350.1 253.4,350 253.4,350 253.4,350 253.4,350 253.4,350 253.4,349.9 253.4,349.9 253.4,349.9 253.4,349.9 253.4,349.8 253.4,349.8 253.4,349.8 253.4,349.8 253.4,349.8 253.4,349.7 253.4,349.7 253.4,349.7 259.6,343.5 259.6,343.5 259.6,343.5 264.2,336.4 264.2,336.4 264.2,336.4 257.3,332.7 257.3,332.7 257.3,332.6 257.3,332.6 257.2,332.6 257.2,332.6 257.2,332.6 257.2,332.5 257.2,332.5 257.2,332.5 257.2,332.5 257.2,332.4 257.2,332.4 257.2,332.4 257.2,332.4 257.2,332.3 257.2,332.3 257.2,332.3 257.2,332.3 262.2,326.7 262.2,326.7 262.2,326.7 262.2,326.7 262.3,326.7 271.3,322.8 271.3,322.8 271.3,322.8 264.8,320.9 264.8,320.9 264.8,320.9 250.8,326 250.8,326 250.8,326 250.8,326 250.7,326 250.7,326 250.7,326 250.7,326 250.6,325.9 250.6,325.9 250.6,325.9 250.6,325.9 250.6,325.9 250.5,325.9 250.5,325.8 250.5,325.8 250.5,325.8 250.5,325.8 249.3,321 249.3,320.9 249.3,320.9 249.3,320.9 249.3,320.8 249.3,320.8 249.3,320.8 250.6,317.6 250.6,317.6 250.6,317.6 247.3,304.7 247.3,304.7 247.3,304.7 236.6,304.7 236.6,304.7 236.6,304.7 236.3,316.2 236.3,316.2 236.3,316.2 236.3,316.2 236.3,316.3 236.3,316.3 236.3,316.3 236.3,316.3 236.3,316.4 236.2,316.4 236.2,316.4 236.2,316.4 236.2,316.4 231.2,318.3 231.2,318.3 231.2,318.3 231.1,318.3 231.1,318.3 224.8,318.3 224.8,318.3 224.7,318.3 224.7,318.3 224.7,318.3 224.7,318.3 224.7,318.2 224.6,318.2 224.6,318.2 220.8,314.4 220.8,314.4 220.8,314.4 211.9,320.2 211.8,320.2 211.8,320.2 211.8,320.2 211.8,320.2 211.8,320.2 211.7,320.2 211.7,320.2 211.7,320.2 211.7,320.2 211.6,320.2 211.6,320.2 208,318.4 208,318.3 208,318.3 207.9,318.3 207.9,318.3 207.9,318.3 207.9,318.3 207.9,318.2 207.9,318.2 207.9,318.2 207.9,318.2 207.9,318.1 207.2,309.2 207.2,309.2 207.2,309.2 198.6,307.3 198.6,307.3 198.6,307.3 198.2,324 198.2,324 198.2,324.1 198.2,324.1 198.1,324.1 198.1,324.1 198.1,324.2 198.1,324.2 195.1,327.7 195.1,327.7 195.1,327.7 195.1,327.7 195,327.7 195,327.7 195,327.7 195,327.8 194.9,327.8 194.9,327.8 194.9,327.8 194.9,327.8 194.8,327.7 194.8,327.7 194.8,327.7 194.8,327.7 194.8,327.7 194.7,327.7 194.7,327.7 194.7,327.6 194.7,327.6 194.7,327.6 194.7,327.6 194.7,327.5 194.7,327.5 194.7,327.5 194.7,327.5 194.7,327.5 194.7,327.4 196.9,320.9 196.9,320.9 196.9,320.9 193,313.8 193,313.8 193,313.8 193,313.8 193,313.7 193,313.7 193,313.7 193,313.7 193.9,309.9 193.9,309.9 193.9,309.9 191.7,300.4 191.7,300.4 191.7,300.4 177.5,303.4 177.5,303.4 177.5,303.4 176.2,311.1 176.2,311.1 176.2,311.1 176.2,311.2 176.1,311.2 176.1,311.2 176.1,311.2 171.8,316.1 171.8,316.1 171.8,316.1 171.8,316.2 171.8,316.2 171.7,316.2 171.7,316.2 171.7,316.2 171.7,316.2 171.6,316.2 171.6,316.2 171.6,316.2 171.6,316.2 171.5,316.2 171.5,316.2 171.5,316.2 171.5,316.1 171.5,316.1 171.5,316.1 169.7,313.8 169.7,313.8 169.7,313.8 169.7,313.7 169.7,313.7 169.7,313.7 166.8,293.1 166.8,293.1 166.8,293.1 161.9,291.5 161.9,291.5 161.9,291.5 154.8,310.4 154.8,310.5 154.8,310.5 154.8,310.5 154.8,310.5 154.8,310.5 154.8,310.5 154.7,310.6 154.7,310.6 149.9,313 149.9,313 149.9,313 149.9,313 149.8,313 149.8,313 149.8,313 149.8,313 149.7,313 149.7,313 149.7,313 149.7,312.9 149.6,312.9 149.6,312.9 149.6,312.9 149.6,312.9 149.6,312.8 149.6,312.8 149.6,312.8 148.3,307.3 148.3,307.3 148.3,307.3 140.6,310.5 140.6,310.5 140.6,310.5 136.9,316.1 136.9,316.1 136.8,316.1 136.8,316.1 136.8,316.2 136.8,316.2 136.8,316.2 136.7,316.2 136.7,316.2 136.7,316.2 136.7,316.2 136.6,316.2 136.6,316.2 136.6,316.2 136.6,316.2 136.5,316.2 136.5,316.2 136.5,316.1 136.5,316.1 134.1,313.8 134.1,313.8 129.1,310 129.1,310 129.1,310 129,309.9 129,309.9 129,309.9 129,309.9 129,309.9 129,309.8 129,309.8 129,309.8 129,309.8 129,309.7 129,309.7 129,309.7 132.8,302.1 132.8,302.1 132.8,302.1 131,296.1 131,296.1 131,296.1 131,296.1 131,296 131,296 131,296 131,296 131,295.9 131.1,295.9 131.1,295.9 131.1,295.9 131.1,295.9 131.1,295.9 131.1,295.8 131.2,295.8 131.2,295.8 131.2,295.8 131.2,295.8 131.3,295.8 131.3,295.8 131.3,295.8 131.3,295.8 131.4,295.8 134.1,296.9 134.1,296.9 134.1,296.9 139.3,295.6 139.3,295.6 139.3,295.6 143.8,288.5 143.8,288.5 143.8,288.5 140.6,282.8 140.6,282.8 140.6,282.7 140.6,282.7 140.6,282.7 140.6,282.7 140.6,282.7 140.6,282.6 140.6,282.6 141.9,277.5 141.9,277.5 141.9,277.5 134.2,268 134.2,268 134.2,268 134.2,267.9 134.2,267.9 134.2,267.9 134.2,267.9 134.2,267.8 134.2,267.8 134.2,267.8 134.2,267.8 134.2,267.7 134.2,267.7 134.2,267.7 134.3,267.7 134.3,267.7 136.7,265.2 136.7,265.2 136.7,265.2 134.8,259.4 134.8,259.4 134.8,259.4 127.6,255.3 127.6,255.3 127.6,255.3 122.5,256.8 122.5,256.8 122.5,256.8 128.6,265.4 128.6,265.4 128.6,265.4 128.6,265.5 128.6,265.5 128.6,265.5 128.6,265.5 128.6,265.6 128.6,265.6 128.6,265.6 128.6,265.6 128.6,265.6 128.6,265.7 128.6,265.7 128.6,265.7 128.5,265.7 128.5,265.7 128.5,265.8 128.5,265.8 128.5,265.8 128.4,265.8 128.4,265.8 128.4,265.8 128.4,265.8 128.3,265.8 121.2,264.6 121.2,264.6 121.2,264.6 123.7,277.1 123.7,277.1 123.7,277.1 123.7,277.1 123.7,277.2 123.7,277.2 123.7,277.2 123.6,277.2 123.6,277.3 123.6,277.3 123.6,277.3 123.6,277.3 123.6,277.3 123.5,277.3 123.5,277.4 123.5,277.4 123.5,277.4 123.4,277.4 123.4,277.4 123.4,277.4 123.4,277.4 123.4,277.4 123.3,277.4 117.4,275 117.3,275 117.3,274.9 117.3,274.9 117.3,274.9 117.3,274.9 117.3,274.9 117.2,274.9 109.5,261.4 109.5,261.4 109.5,261.4 103.1,264.6 103.1,264.6 103.1,264.6 98.6,277.2 98.6,277.2 98.6,277.2 98.6,277.2 98.6,277.3 98.6,277.3 98.6,277.3 98.5,277.3 98.5,277.3 98.5,277.3 98.5,277.3 98.5,277.3 98.4,277.3 98.4,277.3 98.4,277.3 98.4,277.3 98.3,277.3 98.3,277.3 98.3,277.3 98.3,277.3 98.2,277.3 91.4,271.3 91.4,271.3 91.4,271.3 88.3,278.5 88.3,278.5 88.3,278.5 88.3,278.5 88.3,278.6 88.2,278.6 88.2,278.6 88.2,278.6 88.2,278.6 88.2,278.6 88.1,278.6 88.1,278.6 88.1,278.6 88.1,278.6 88,278.6 88,278.6 88,278.6 88,278.6 87.9,278.6 87.9,278.6 87.9,278.6 84.9,275.6 84.9,275.6 84.9,275.6 75.9,279.9 75.9,279.9 75.9,279.9 84.9,291.8 84.9,291.8 84.9,291.8 104.2,292.4 104.2,292.4 104.3,292.4 104.3,292.4 104.3,292.4 104.3,292.4 104.4,292.5 104.4,292.5 104.4,292.5 104.4,292.5 104.4,292.5 106.9,296.9 106.9,296.9 106.9,296.9 114.7,300.8 114.7,300.8 114.7,300.8 114.7,300.8 114.7,300.9 122.8,309.5 122.8,309.5 122.8,309.5 122.8,309.6 122.8,309.6 122.8,309.6 122.8,309.6 122.8,309.7 122.8,309.7 122.8,309.7 122.8,309.7 122.8,309.8 122.8,309.8 122.8,309.8 122.8,309.8 122.8,309.8 122.8,309.9 122.7,309.9 122.7,309.9 122.7,309.9 122.7,309.9 122.7,309.9 122.6,309.9 122.6,309.9 103.3,311.8 103.3,311.8 103.3,311.8 117.6,320.1 117.6,320.1 117.7,320.1 117.7,320.1 117.7,320.1 117.7,320.1 117.7,320.2 117.7,320.2 117.7,320.2 117.7,320.2 117.8,320.2 117.8,320.3 117.7,320.3 117.7,320.3 117.7,320.3 117.7,320.4 117.7,320.4 117.7,320.4 117.7,320.4 117.7,320.4 117.7,320.5 112.2,325 112.2,325.1 112.2,325.1 112.2,325.1 112.2,325.1 112.1,325.1 112.1,325.1 112.1,325.1 112.1,325.1 112,325.1 112,325.1 112,325.1 112,325.1 97.1,317.5 97,317.5 97,317.5 97,317.5 97,317.4 97,317.4 97,317.4 96.9,317.4 96.9,317.3 96.9,317.3 96.9,317.3 96.9,317.3 96.9,317.3 96.9,317.2 96.9,317.2 96.9,317.2 97,317.2 98.5,314 98.5,314 98.5,314 87.6,314.8 87.5,314.8 87.5,314.8 69.2,312.2 69.2,312.2 69.2,312.2 70.7,321.3 70.7,321.3 70.7,321.3 79.7,320.9 79.7,320.9 79.7,320.9 79.8,320.9 79.8,320.9 79.8,320.9 88.8,325.4 88.8,325.4 97.7,331.1 97.8,331.1 97.8,331.2 97.8,331.2 97.8,331.2 97.8,331.2 97.8,331.2 97.8,331.3 97.8,331.3 97.8,331.3 97.8,331.3 97.8,331.4 97.8,331.4 97.2,334.4 97.2,334.5 97.2,334.5 94,342.2 94,342.2 94,342.2 95.3,349.9 95.3,349.9 95.3,350 95.3,350 95.3,350 95.3,350 95.3,350 95.2,350.1 92.7,354.5 92.7,354.5 92.7,354.5 95.2,359 95.3,359 95.3,359 95.3,359 95.3,359.1 95.3,359.1 95.3,359.1 95.3,359.1 94.7,362.6 94.7,362.6 94.7,362.7 94.7,362.7 94.7,362.7 94.6,362.7 94.6,362.7 94.6,362.8 94.6,362.8 94.6,362.8 94.5,362.8 94.5,362.8 94.5,362.8 94.5,362.8 94.4,362.8 94.4,362.8 94.4,362.8 94.4,362.8 94.4,362.8 90.1,361 90.1,361 90.1,361 89.5,364 89.5,364 89.5,364.1 89.5,364.1 89.5,364.1 89.5,364.1 89.4,364.2 89.4,364.2 89.4,364.2 89.4,364.2 89.4,364.2 89.3,364.2 89.3,364.2 89.3,364.2 89.3,364.2 76.1,364.2 76.1,364.2 76.1,364.2 76,364.2 76,364.2 76,364.2 76,364.2 75.9,364.2 75.9,364.2 75.9,364.1 75.9,364.1 75.9,364.1 75.9,364.1 75.9,364 75.9,364 75.9,364 75.2,357.5 75.2,357.5 75.2,357.5 71.4,361.6 71.4,361.6 71.3,361.6 69.2,371.3Z M198.8,-0.8 198.8,-0.8 201.2,11.6 201.2,11.6 201.2,11.6 211.1,14.1 211.1,14.1 211.1,14.1 211.2,14.1 211.2,14.1 211.2,14.1 211.2,14.1 211.2,14.1 216.9,21.5 216.9,21.5 216.9,21.5 217,21.5 217,21.5 217,21.6 217,21.6 217,21.6 217,36.4 217,36.4 217,36.4 223.3,37.2 223.4,37.2 223.4,37.2 223.4,37.3 223.4,37.3 223.5,37.3 223.5,37.3 223.5,37.3 223.5,37.3 223.5,37.3 223.5,37.4 223.5,37.4 223.5,37.4 223.6,37.4 223.6,37.5 223.6,37.5 223.6,37.5 223.6,37.5 221.1,51.3 221.1,51.3 221.1,51.4 221.1,51.4 215.3,62.9 215.3,62.9 215.3,62.9 214.8,69.6 214.8,69.6 214.8,69.6 220.3,82.8 220.3,82.8 220.3,82.8 228.2,88.6 228.2,88.6 228.2,88.6 231.9,82.8 231.9,82.8 237.6,75.7 237.6,75.7 237.6,75.6 237.6,75.6 237.7,75.6 237.7,75.6 237.7,75.6 237.7,75.6 237.8,75.6 237.8,75.6 237.8,75.6 237.8,75.6 237.9,75.6 237.9,75.6 237.9,75.6 237.9,75.6 237.9,75.6 238,75.7 238,75.7 238,75.7 238,75.7 238,75.7 238,75.8 238,75.8 238,75.8 238,75.8 238,75.8 238,75.9 238,75.9 238,75.9 232.7,91.1 232.7,91.1 232.7,91.1 238.5,96.1 238.5,96.1 238.5,96.1 244.3,93.6 244.3,93.6 244.3,93.6 247.6,86.1 247.6,86.1 247.6,86.1 246.8,81.4 246.8,81.4 246.8,81.4 246.8,81.3 246.8,81.3 246.8,81.3 246.9,81.3 246.9,81.2 246.9,81.2 246.9,81.2 246.9,81.2 246.9,81.2 246.9,81.2 247,81.1 247,81.1 247,81.1 247,81.1 251.8,80.3 251.8,80.3 251.8,80.3 255.9,71.2 255.9,71.2 255.9,71.2 250.7,68.2 250.7,68.2 250.6,68.2 250.6,68.2 250.6,68.2 250.6,68.2 250.6,68.1 250.6,68.1 250.6,68.1 250.6,68.1 250.6,68 250.6,68 250.6,68 250.6,68 250.6,67.9 250.6,67.9 250.6,67.9 250.6,67.9 250.6,67.9 250.6,67.8 250.6,67.8 250.7,67.8 250.7,67.8 250.7,67.8 250.7,67.8 250.8,67.8 258.4,66.3 258.4,66.3 258.4,66.2 263.4,56.3 263.4,56.3 263.4,56.3 260,51.4 260,51.3 260,51.3 253.7,56.1 253.7,56.1 253.7,56.1 253.7,56.1 253.6,56.1 253.6,56.1 253.6,56.1 253.6,56.1 253.5,56.1 253.5,56.1 253.5,56.1 253.5,56.1 253.4,56.1 253.4,56.1 253.4,56.1 253.4,56.1 253.4,56 253.4,56 253.3,56 253.3,56 253.3,55.9 251.8,49.9 251.8,49.9 251.8,49.8 251.8,49.8 251.8,49.8 251.8,49.8 251.8,49.7 251.8,49.7 251.8,49.7 251.8,49.7 251.9,49.7 251.9,49.6 251.9,49.6 251.9,49.6 251.9,49.6 266.7,42.2 266.7,42.2 266.7,42.2 257.3,39.9 257.3,39.9 257.2,39.9 257.2,39.9 257.2,39.8 257.2,39.8 257.2,39.8 257.1,39.8 257.1,39.8 257.1,39.8 257.1,39.7 257.1,39.7 257.1,39.7 257.1,39.7 257.1,39.6 257.1,39.6 257.1,39.6 257.1,39.6 257.1,39.5 257.1,39.5 257.1,39.5 257.1,39.5 257.2,39.5 257.2,39.5 257.2,39.4 264.2,34.8 264.2,34.8 264.2,34.8 253,36.3 253,36.3 253,36.3 253,36.3 252.9,36.3 252.9,36.3 252.9,36.2 252.9,36.2 252.8,36.2 252.8,36.2 252.8,36.2 252.8,36.2 252.8,36.1 252.8,36.1 252.8,36.1 252.7,36.1 252.7,36.1 252.7,36 252.7,36 252.7,36 252.8,36 252.8,35.9 252.8,35.9 252.8,35.9 252.8,35.9 252.8,35.9 252.8,35.8 252.8,35.8 252.9,35.8 263.3,29.8 263.4,29.8 263.4,29.8 255.1,9.9 255.1,9.9 255.1,9.9 252.8,9.2 252.8,9.2 252.8,9.2 252.8,9.2 252.7,9.1 252.7,9.1 252.7,9.1 252.7,9.1 252.7,9.1 252.7,9 252.7,9 252.7,9 252.7,9 252.7,8.9 252.7,8.9 252.7,8.9 252.7,8.9 255.9,-0.8 255.9,-0.8 255.9,-0.8 198.8,-0.8Z M1.3,101 1.3,101 5,104.3 5,104.3 5,104.3 16.4,104.3 16.5,104.3 16.5,104.4 16.5,104.4 16.5,104.4 16.6,104.4 16.6,104.4 16.6,104.4 16.6,104.4 16.6,104.4 20.7,109.3 20.7,109.3 20.7,109.3 31.5,99.4 31.5,99.4 31.5,99.4 28.4,90.1 28.4,90 28.4,90 28.4,90 28.4,90 28.4,89.9 28.4,89.9 28.4,89.9 28.4,89.9 28.4,89.9 28.4,89.8 28.4,89.8 28.4,89.8 28.5,89.8 28.5,89.8 28.5,89.8 28.5,89.7 28.5,89.7 28.6,89.7 28.6,89.7 28.6,89.7 28.6,89.7 28.7,89.7 28.7,89.7 28.7,89.8 28.7,89.8 33.9,92.8 34,92.8 34,92.7 32.3,76.1 32.3,76.1 32.3,76.1 32.3,76.1 32.3,76 32.3,76 32.4,76 32.4,76 32.4,76 32.4,75.9 32.4,75.9 32.4,75.9 32.5,75.9 32.5,75.9 32.5,75.9 32.5,75.9 32.6,75.9 32.6,75.9 39.4,76.2 39.5,76.2 39.5,76.2 39.5,76.2 39.5,76.2 39.6,76.2 39.6,76.2 39.6,76.2 39.6,76.3 39.6,76.3 39.6,76.3 39.7,76.3 39.7,76.3 39.7,76.4 39.7,76.4 39.7,76.4 39.7,76.4 39.7,76.5 39.7,76.5 34.8,95.2 34.8,95.2 34.8,95.2 40.2,97.6 40.3,97.6 40.3,97.6 40.3,97.6 40.3,97.6 40.3,97.7 40.4,97.7 40.4,97.7 40.4,97.7 40.4,97.7 40.4,97.8 40.4,97.8 40.4,97.8 40.4,97.8 40.4,97.9 40.4,97.9 40.4,97.9 40.4,97.9 40.3,97.9 40.3,98 40.3,98 37.3,101 37.3,101 37.3,101 39.7,106 39.8,106 39.8,106 49.7,112.6 49.7,112.6 49.7,112.6 53.5,106.5 53.6,106.4 53.6,106.4 53.6,106.4 53.6,106.4 53.6,106.4 53.7,106.4 53.7,106.3 53.7,106.3 53.7,106.3 53.8,106.3 53.8,106.3 53.8,106.3 53.8,106.3 53.8,106.4 53.9,106.4 53.9,106.4 53.9,106.4 53.9,106.4 53.9,106.4 54,106.4 54,106.5 54,106.5 54,106.5 58,118.4 58,118.4 58,118.4 59.6,110.4 59.6,110.3 59.6,110.3 59.6,110.3 59.6,110.3 59.6,110.3 59.7,110.2 59.7,110.2 59.7,110.2 59.7,110.2 59.7,110.2 59.8,110.2 59.8,110.2 59.8,110.2 59.8,110.2 59.8,110.2 69.4,111 69.4,111 69.4,111 69.4,111 69.5,111 69.5,111 69.5,111 69.5,111 69.5,111 69.6,111.1 69.6,111.1 69.6,111.1 69.6,111.1 69.6,111.2 71.2,120.1 71.2,120.1 71.2,120.1 99.4,123.4 99.4,123.4 115.9,127.5 115.9,127.5 115.9,127.5 132.5,127.5 132.5,127.5 132.5,127.5 154,124.2 154,124.2 154,124.2 158.8,117.1 158.8,117.1 158.8,117.1 158.8,117.1 158.8,117 158.9,117 158.9,117 158.9,117 158.9,117 159,117 159,117 159,117 159,117 159.1,117 159.1,117 159.1,117 159.1,117 159.1,117 159.2,117.1 159.2,117.1 159.2,117.1 159.2,117.1 162.3,122.6 162.3,122.6 162.3,122.6 182.1,116 182.1,116 182.2,116 182.2,116 182.2,116 182.2,116 182.3,116 190.5,118.4 190.5,118.4 190.5,118.4 198.8,114.3 198.8,114.3 198.8,114.3 212,100.2 212,100.2 212,100.2 192.1,71.6 192.1,71.6 192.1,71.6 171.5,69.6 171.5,69.6 171.4,69.6 171.4,69.6 171.4,69.5 171.4,69.5 165.6,65.4 165.6,65.4 165.6,65.4 157.4,64.9 157.3,64.9 157.3,64.9 150.9,69.4 150.9,69.5 150.9,69.5 150.8,69.5 150.8,69.5 150.8,69.5 150.8,69.5 150.7,69.5 150.7,69.5 150.7,69.5 150.7,69.5 150.6,69.5 150.6,69.4 150.6,69.4 150.6,69.4 138.1,56.6 138,56.6 138,56.5 138,56.5 138,56.5 138,56.5 138,56.4 138,56.4 138,56.4 138,56.4 138,56.3 138,56.3 138,56.3 138,56.3 138,56.3 138,56.2 138.1,56.2 138.1,56.2 138.1,56.2 138.1,56.2 138.1,56.2 138.2,56.2 138.2,56.2 138.2,56.2 138.2,56.2 138.3,56.2 138.3,56.2 162.3,61.3 162.3,61.3 175.6,63.8 175.6,63.8 175.6,63.8 173.9,57.1 173.9,57.1 173.9,57.1 152.2,48.1 152.2,48.1 152.1,48.1 152.1,48 152.1,48 152.1,48 152.1,48 152,48 152,47.9 152,47.9 152,47.9 150.7,41.4 150.7,41.4 150.7,41.4 144.2,39.2 144.2,39.2 144.2,39.2 144.1,39.2 144.1,39.2 144.1,39.1 144.1,39.1 144.1,39.1 144.1,39.1 144,39.1 144,39 144,39 144,39 144,39 144,38.9 144,38.9 144,38.9 144.1,38.9 144.1,38.8 144.1,38.8 144.1,38.8 144.1,38.8 144.1,38.8 144.1,38.8 144.2,38.7 144.2,38.7 144.2,38.7 144.2,38.7 144.3,38.7 144.3,38.7 144.3,38.7 144.3,38.7 149.1,39.8 149.1,39.8 149.1,39.7 167.3,34 167.3,34 167.3,33.9 165.1,25.8 165,25.7 165,25.7 165,25.7 165,25.7 165,25.6 165.1,25.6 165.1,25.6 165.1,25.6 165.1,25.5 165.1,25.5 165.1,25.5 165.1,25.5 165.2,25.5 165.2,25.5 165.2,25.5 165.2,25.4 165.2,25.4 165.3,25.4 165.3,25.4 165.3,25.4 165.3,25.4 165.4,25.4 165.4,25.5 165.4,25.5 165.4,25.5 165.5,25.5 165.5,25.5 171.4,31.5 171.4,31.5 171.4,31.5 174.8,21.9 174.9,21.9 174.9,21.8 174.9,21.8 174.9,21.8 174.9,21.8 174.9,21.8 175,21.8 175,21.8 175,21.7 175,21.7 175,21.7 175.1,21.7 175.1,21.7 175.1,21.7 175.1,21.7 175.2,21.7 175.2,21.7 175.2,21.8 175.2,21.8 175.2,21.8 175.3,21.8 175.3,21.8 175.3,21.8 175.3,21.9 175.3,21.9 175.3,21.9 175.3,21.9 175.3,22 175.3,22 175.3,22 173.9,34.8 173.9,34.8 173.9,34.8 207,37.8 207,37.8 207,37.8 206.3,34.3 206.3,34.3 206.3,34.3 206.3,34.2 206.3,34.2 206.3,34.2 206.3,34.2 206.3,34.1 206.3,34.1 206.3,34.1 206.3,34.1 206.4,34.1 206.4,34.1 206.4,34 206.4,34 206.4,34 206.5,34 206.5,34 206.5,34 206.5,34 206.6,34 212,34.8 212,34.8 212,34.8 210.4,19.1 210.4,19 210.3,19 198.8,11.6 198.8,11.6 198.8,11.6 182.3,4.2 182.2,4.2 182.2,4.1 182.2,4.1 182.2,4.1 182.2,4.1 182.2,4.1 178.9,-0.8 178.9,-0.8 178.9,-0.8 1.3,-0.8 1.3,-0.8 1.3,-0.8 1.3,101Z M155.7,43.4 155.7,43.4 159,48 159,48 159,48 182.2,54.7 182.2,54.7 196.3,58.8 196.3,58.8 196.3,58.8 202.4,49.7 202.4,49.7 202.4,49.7 202.9,39.4 202.9,39.4 202.9,39.4 190.5,40.6 190.5,40.6 190.5,40.6 190.4,40.6 175.6,37.3 175.6,37.3 175.6,37.3 155.7,43.4Z" fill="none" stroke="#9b9c9f" stroke-width="1.7" stroke-linejoin="round"/>
</g>
<g id="ui">
<g filter="url(#d3)"><text transform="translate(70.69,171.50) scale(0.7584,1)" font-size="140.10" font-weight="bold" font-style="normal" fill="#1d1d1b" >Minimum wages</text></g>
<g filter="url(#d2)"><text transform="translate(68.32,251.10) scale(0.7337,1)" font-size="75.60" font-weight="bold" font-style="italic" fill="#1d1d1b" >January 2021</text></g>
<path d="M77.3 446.1H434.6 M77.3 470.2H434.6 M77.3 457.8H167 M256.5 457.8H346.1 M77.3 446.1V495.3 M167 446.1V495.3 M256.5 446.1V495.3 M346.1 446.1V495.3 M434.6 446.1V495.3" fill="none" stroke="#2b2b2b" stroke-width="1.1"/>
<text transform="translate(68.53,523.30) scale(0.9500,1)" font-size="22.40" font-weight="normal" font-style="normal" fill="#1d1d1b">O</text>
<text transform="translate(148.13,523.30) scale(0.9500,1)" font-size="22.40" font-weight="normal" font-style="normal" fill="#1d1d1b">200</text>
<text transform="translate(238.42,523.30) scale(0.9500,1)" font-size="22.40" font-weight="normal" font-style="normal" fill="#1d1d1b">400</text>
<text transform="translate(327.82,523.30) scale(0.9500,1)" font-size="22.40" font-weight="normal" font-style="normal" fill="#1d1d1b">600</text>
<text transform="translate(418.00,523.30) scale(0.9500,1)" font-size="22.40" font-weight="normal" font-style="normal" fill="#1d1d1b">800</text>
<text transform="translate(469.04,523.30) scale(1.0345,1)" font-size="22.40" font-weight="normal" font-style="normal" fill="#1d1d1b" >km</text>
<g filter="url(#d1)"><text transform="translate(1783.42,153.00) scale(0.6127,1)" font-size="58.10" font-weight="bold" font-style="normal" fill="#1d1d1b" >EU</text></g>
<rect x="1840" y="104" width="83" height="55" fill="#24418f"/><g fill="#fbe122"><polygon points="1881.50,109.35 1882.36,111.99 1885.13,111.99 1882.89,113.62 1883.75,116.26 1881.50,114.63 1879.25,116.26 1880.11,113.62 1877.87,111.99 1880.64,111.99"/><polygon points="1890.67,111.80 1891.52,114.44 1894.30,114.44 1892.05,116.07 1892.91,118.71 1890.67,117.08 1888.42,118.71 1889.28,116.07 1887.03,114.44 1889.81,114.44"/><polygon points="1897.38,118.51 1898.23,121.15 1901.01,121.15 1898.76,122.78 1899.62,125.42 1897.38,123.79 1895.13,125.42 1895.99,122.78 1893.74,121.15 1896.52,121.15"/><polygon points="1899.83,127.68 1900.69,130.32 1903.47,130.32 1901.22,131.95 1902.08,134.59 1899.83,132.96 1897.59,134.59 1898.45,131.95 1896.20,130.32 1898.98,130.32"/><polygon points="1897.38,136.85 1898.23,139.49 1901.01,139.49 1898.76,141.12 1899.62,143.76 1897.38,142.13 1895.13,143.76 1895.99,141.12 1893.74,139.49 1896.52,139.49"/><polygon points="1890.67,143.56 1891.52,146.20 1894.30,146.20 1892.05,147.83 1892.91,150.47 1890.67,148.84 1888.42,150.47 1889.28,147.83 1887.03,146.20 1889.81,146.20"/><polygon points="1881.50,146.01 1882.36,148.65 1885.13,148.65 1882.89,150.28 1883.75,152.92 1881.50,151.29 1879.25,152.92 1880.11,150.28 1877.87,148.65 1880.64,148.65"/><polygon points="1872.33,143.56 1873.19,146.20 1875.97,146.20 1873.72,147.83 1874.58,150.47 1872.33,148.84 1870.09,150.47 1870.95,147.83 1868.70,146.20 1871.48,146.20"/><polygon points="1865.62,136.85 1866.48,139.49 1869.26,139.49 1867.01,141.12 1867.87,143.76 1865.62,142.13 1863.38,143.76 1864.24,141.12 1861.99,139.49 1864.77,139.49"/><polygon points="1863.17,127.68 1864.02,130.32 1866.80,130.32 1864.55,131.95 1865.41,134.59 1863.17,132.96 1860.92,134.59 1861.78,131.95 1859.53,130.32 1862.31,130.32"/><polygon points="1865.62,118.51 1866.48,121.15 1869.26,121.15 1867.01,122.78 1867.87,125.42 1865.62,123.79 1863.38,125.42 1864.24,122.78 1861.99,121.15 1864.77,121.15"/><polygon points="1872.33,111.80 1873.19,114.44 1875.97,114.44 1873.72,116.07 1874.58,118.71 1872.33,117.08 1870.09,118.71 1870.95,116.07 1868.70,114.44 1871.48,114.44"/></g>
<text transform="translate(1734.88,209.00) scale(0.7960,1)" font-size="40.50" font-weight="bold" font-style="normal" fill="#000" >21 out of 27</text>
<text transform="translate(1676.61,257.40) scale(0.7189,1)" font-size="40.50" font-weight="normal" font-style="normal" fill="#000" >EU Member States</text>
<text transform="translate(1716.89,310.00) scale(0.7515,1)" font-size="40.50" font-weight="normal" font-style="normal" fill="#000" >have a national</text>
<text transform="translate(1707.88,363.00) scale(0.7889,1)" font-size="40.50" font-weight="normal" font-style="normal" fill="#000" >minimum wage</text>
<rect x="1302" y="398" width="384" height="394" fill="#fff" filter="url(#sh)"/>
<g filter="url(#d1)"><text transform="translate(1357.59,465.40) scale(0.7377,1)" font-size="47.40" font-weight="bold" font-style="italic" fill="#1d1d1b" >EUR per month</text></g>
<rect x="1339.2" y="490.2" width="100.5" height="50.3" fill="#fcd391"/>
<rect x="1339.2" y="561.3" width="100.5" height="50.3" fill="#f6a600"/>
<rect x="1339.2" y="632.8" width="100.5" height="50.3" fill="#f0864a"/>
<rect x="1339.2" y="701.1" width="100.5" height="50.3" fill="#b0c4e8"/>
<text transform="translate(1450.26,528.00) scale(0.7740,1)" font-size="45.50" font-weight="normal" font-style="normal" fill="#000" >&lt; 700</text>
<text transform="translate(1451.22,602.70) scale(0.7649,1)" font-size="45.50" font-weight="normal" font-style="normal" fill="#000" >700 −&lt; 1 500</text>
<text transform="translate(1450.68,674.20) scale(0.7657,1)" font-size="45.50" font-weight="normal" font-style="normal" fill="#000" >&gt;=1 500</text>
<text transform="translate(1449.16,738.00) scale(0.7593,1)" font-size="32.50" font-weight="normal" font-style="normal" fill="#1d1d1b" >no minimum wage</text>
<rect x="1813.0" y="400.2" width="67.2" height="38.3" fill="#fcd391"/>
<text transform="translate(1836.26,433.30) scale(0.7450,1)" font-size="32.80" font-weight="normal" font-style="normal" fill="#1d1d1b">332</text>
<rect x="1790.7" y="454.1" width="89.5" height="38.3" fill="#fcd391"/>
<text transform="translate(1836.26,487.23) scale(0.7450,1)" font-size="32.80" font-weight="normal" font-style="normal" fill="#1d1d1b">442</text>
<rect x="1787.5" y="508.1" width="92.7" height="38.3" fill="#fcd391"/>
<text transform="translate(1836.09,541.16) scale(0.7450,1)" font-size="32.80" font-weight="normal" font-style="normal" fill="#1d1d1b">458</text>
<rect x="1779.0" y="562.0" width="101.2" height="38.3" fill="#fcd391"/>
<text transform="translate(1835.98,595.09) scale(0.7450,1)" font-size="32.80" font-weight="normal" font-style="normal" fill="#1d1d1b">500</text>
<rect x="1766.2" y="615.9" width="114.0" height="38.3" fill="#fcd391"/>
<text transform="translate(1836.10,649.02) scale(0.7450,1)" font-size="32.80" font-weight="normal" font-style="normal" fill="#1d1d1b">563</text>
<rect x="1763.0" y="669.8" width="117.2" height="38.3" fill="#fcd391"/>
<text transform="translate(1836.19,702.95) scale(0.7450,1)" font-size="32.80" font-weight="normal" font-style="normal" fill="#1d1d1b">579</text>
<rect x="1762.0" y="723.8" width="118.2" height="38.3" fill="#fcd391"/>
<text transform="translate(1835.75,756.88) scale(0.7450,1)" font-size="32.80" font-weight="normal" font-style="normal" fill="#1d1d1b">584</text>
<rect x="1755.9" y="777.7" width="124.3" height="38.3" fill="#fcd391"/>
<text transform="translate(1835.75,810.81) scale(0.7450,1)" font-size="32.80" font-weight="normal" font-style="normal" fill="#1d1d1b">614</text>
<rect x="1754.1" y="831.6" width="126.1" height="38.3" fill="#fcd391"/>
<text transform="translate(1836.10,864.74) scale(0.7450,1)" font-size="32.80" font-weight="normal" font-style="normal" fill="#1d1d1b">623</text>
<rect x="1750.3" y="885.6" width="129.9" height="38.3" fill="#fcd391"/>
<text transform="translate(1836.26,918.67) scale(0.7450,1)" font-size="32.80" font-weight="normal" font-style="normal" fill="#1d1d1b">642</text>
<rect x="1726.8" y="939.5" width="153.4" height="38.3" fill="#f6a600"/>
<text transform="translate(1836.09,972.60) scale(0.7450,1)" font-size="32.80" font-weight="normal" font-style="normal" fill="#1d1d1b">758</text>
<rect x="1723.1" y="993.4" width="157.1" height="38.3" fill="#f6a600"/>
<text transform="translate(1836.10,1026.53) scale(0.7450,1)" font-size="32.80" font-weight="normal" font-style="normal" fill="#1d1d1b">776</text>
<rect x="1721.3" y="1047.4" width="158.9" height="38.3" fill="#f6a600"/>
<text transform="translate(1836.06,1080.46) scale(0.7450,1)" font-size="32.80" font-weight="normal" font-style="normal" fill="#1d1d1b">785</text>
<rect x="1672.9" y="1101.3" width="207.3" height="38.3" fill="#f6a600"/>
<text transform="translate(1817.43,1134.39) scale(0.7493,1)" font-size="32.80" font-weight="normal" font-style="normal" fill="#1d1d1b" >1 024</text>
<rect x="1655.9" y="1155.2" width="224.3" height="38.3" fill="#f6a600"/>
<text transform="translate(1817.42,1188.32) scale(0.7539,1)" font-size="32.80" font-weight="normal" font-style="normal" fill="#1d1d1b" >1 108</text>
<rect x="1565.5" y="1209.2" width="314.7" height="38.3" fill="#f0864a"/>
<text transform="translate(1817.42,1242.25) scale(0.7534,1)" font-size="32.80" font-weight="normal" font-style="normal" fill="#1d1d1b" >1 555</text>
<rect x="1553.5" y="1263.1" width="326.7" height="38.3" fill="#f0864a"/>
<text transform="translate(1817.43,1296.18) scale(0.7493,1)" font-size="32.80" font-weight="normal" font-style="normal" fill="#1d1d1b" >1 614</text>
<rect x="1551.1" y="1317.0" width="329.1" height="38.3" fill="#f0864a"/>
<text transform="translate(1817.42,1350.11) scale(0.7540,1)" font-size="32.80" font-weight="normal" font-style="normal" fill="#1d1d1b" >1 626</text>
<rect x="1539.2" y="1370.9" width="341.0" height="38.3" fill="#f0864a"/>
<text transform="translate(1817.42,1404.04) scale(0.7534,1)" font-size="32.80" font-weight="normal" font-style="normal" fill="#1d1d1b" >1 685</text>
<rect x="1531.3" y="1424.9" width="348.9" height="38.3" fill="#f0864a"/>
<text transform="translate(1817.43,1457.97) scale(0.7493,1)" font-size="32.80" font-weight="normal" font-style="normal" fill="#1d1d1b" >1 724</text>
<rect x="1434.5" y="1478.8" width="445.7" height="38.3" fill="#f0864a"/>
<text transform="translate(1818.07,1511.90) scale(0.7477,1)" font-size="32.80" font-weight="normal" font-style="normal" fill="#1d1d1b" >2 202</text>
<g filter="url(#d05)"><text transform="translate(1892.50,433.30) scale(0.6500,1)" font-size="35.30" font-weight="bold" font-style="italic" fill="#000">BG</text><text transform="translate(1892.50,487.23) scale(0.6500,1)" font-size="35.30" font-weight="bold" font-style="italic" fill="#000">HU</text><text transform="translate(1892.50,541.16) scale(0.6500,1)" font-size="35.30" font-weight="bold" font-style="italic" fill="#000">RO</text><text transform="translate(1892.50,595.09) scale(0.6500,1)" font-size="35.30" font-weight="bold" font-style="italic" fill="#000">LV</text><text transform="translate(1892.50,649.02) scale(0.6500,1)" font-size="35.30" font-weight="bold" font-style="italic" fill="#000">HR</text><text transform="translate(1891.78,702.95) scale(0.6500,1)" font-size="35.30" font-weight="bold" font-style="italic" fill="#000">CZ</text><text transform="translate(1892.50,756.88) scale(0.6500,1)" font-size="35.30" font-weight="bold" font-style="italic" fill="#000">EE</text><text transform="translate(1892.50,810.81) scale(0.6500,1)" font-size="35.30" font-weight="bold" font-style="italic" fill="#000">PL</text><text transform="translate(1892.62,864.74) scale(0.6500,1)" font-size="35.30" font-weight="bold" font-style="italic" fill="#000">SK</text><text transform="translate(1892.50,918.67) scale(0.6500,1)" font-size="35.30" font-weight="bold" font-style="italic" fill="#000">LT</text><text transform="translate(1892.50,972.60) scale(0.6500,1)" font-size="35.30" font-weight="bold" font-style="italic" fill="#000">EL</text><text transform="translate(1892.50,1026.53) scale(0.6500,1)" font-size="35.30" font-weight="bold" font-style="italic" fill="#000">PT</text><text transform="translate(1892.50,1080.46) scale(0.6500,1)" font-size="35.30" font-weight="bold" font-style="italic" fill="#000">MT</text><text transform="translate(1892.62,1134.39) scale(0.6500,1)" font-size="35.30" font-weight="bold" font-style="italic" fill="#000">SI</text><text transform="translate(1892.50,1188.32) scale(0.6500,1)" font-size="35.30" font-weight="bold" font-style="italic" fill="#000">ES</text><text transform="translate(1892.50,1242.25) scale(0.6500,1)" font-size="35.30" font-weight="bold" font-style="italic" fill="#000">FR</text><text transform="translate(1892.50,1296.18) scale(0.6500,1)" font-size="35.30" font-weight="bold" font-style="italic" fill="#000">DE</text><text transform="translate(1892.50,1350.11) scale(0.6500,1)" font-size="35.30" font-weight="bold" font-style="italic" fill="#000">BE</text><text transform="translate(1892.50,1404.04) scale(0.6500,1)" font-size="35.30" font-weight="bold" font-style="italic" fill="#000">NL</text><text transform="translate(1892.50,1457.97) scale(0.6500,1)" font-size="35.30" font-weight="bold" font-style="italic" fill="#000">IE</text><text transform="translate(1892.50,1511.90) scale(0.6500,1)" font-size="35.30" font-weight="bold" font-style="italic" fill="#000">LU</text></g>
<text transform="translate(37.97,1930.30) scale(0.8554,1)" font-size="23.80" font-weight="normal" font-style="normal" fill="#2e2e2d" stroke="#fff" stroke-width="0.55" vector-effect="non-scaling-stroke">Cartography: Eurostat – IMAGE, 01/2021</text>
<text transform="translate(39.86,1957.60) scale(0.8616,1)" font-size="23.80" font-weight="normal" font-style="normal" fill="#2e2e2d" stroke="#fff" stroke-width="0.55" vector-effect="non-scaling-stroke">Administrative boundaries: © EuroGeographics © UN–FAO © Turkstat</text>
<text transform="translate(1092.37,1956.50) scale(0.9392,1)" font-size="81.00" font-weight="normal" font-style="normal" fill="#808285" stroke="#fff" stroke-width="2.2" vector-effect="non-scaling-stroke">ec.europa.eu/</text>
<g filter="url(#d1)"><text transform="translate(1558.85,1956.50) scale(0.9315,1)" font-size="81.00" font-weight="bold" font-style="normal" fill="#808285" >eurostat</text></g>
<rect x="1865" y="1905" width="77.5" height="51.5" fill="#24418f"/><g fill="#fbe122"><polygon points="1903.75,1910.01 1904.55,1912.48 1907.15,1912.48 1905.05,1914.01 1905.85,1916.48 1903.75,1914.95 1901.65,1916.48 1902.45,1914.01 1900.35,1912.48 1902.95,1912.48"/><polygon points="1912.33,1912.31 1913.14,1914.78 1915.73,1914.78 1913.63,1916.31 1914.44,1918.78 1912.33,1917.25 1910.23,1918.78 1911.03,1916.31 1908.93,1914.78 1911.53,1914.78"/><polygon points="1918.62,1918.59 1919.42,1921.06 1922.02,1921.06 1919.92,1922.59 1920.72,1925.06 1918.62,1923.53 1916.51,1925.06 1917.32,1922.59 1915.22,1921.06 1917.81,1921.06"/><polygon points="1920.92,1927.17 1921.72,1929.64 1924.32,1929.64 1922.22,1931.17 1923.02,1933.64 1920.92,1932.12 1918.81,1933.64 1919.62,1931.17 1917.52,1929.64 1920.11,1929.64"/><polygon points="1918.62,1935.76 1919.42,1938.23 1922.02,1938.23 1919.92,1939.76 1920.72,1942.23 1918.62,1940.70 1916.51,1942.23 1917.32,1939.76 1915.22,1938.23 1917.81,1938.23"/><polygon points="1912.33,1942.04 1913.14,1944.51 1915.73,1944.51 1913.63,1946.04 1914.44,1948.51 1912.33,1946.98 1910.23,1948.51 1911.03,1946.04 1908.93,1944.51 1911.53,1944.51"/><polygon points="1903.75,1944.34 1904.55,1946.81 1907.15,1946.81 1905.05,1948.34 1905.85,1950.81 1903.75,1949.28 1901.65,1950.81 1902.45,1948.34 1900.35,1946.81 1902.95,1946.81"/><polygon points="1895.17,1942.04 1895.97,1944.51 1898.57,1944.51 1896.47,1946.04 1897.27,1948.51 1895.17,1946.98 1893.06,1948.51 1893.87,1946.04 1891.77,1944.51 1894.36,1944.51"/><polygon points="1888.88,1935.76 1889.69,1938.23 1892.28,1938.23 1890.18,1939.76 1890.99,1942.23 1888.88,1940.70 1886.78,1942.23 1887.58,1939.76 1885.48,1938.23 1888.08,1938.23"/><polygon points="1886.58,1927.17 1887.39,1929.64 1889.98,1929.64 1887.88,1931.17 1888.69,1933.64 1886.58,1932.12 1884.48,1933.64 1885.28,1931.17 1883.18,1929.64 1885.78,1929.64"/><polygon points="1888.88,1918.59 1889.69,1921.06 1892.28,1921.06 1890.18,1922.59 1890.99,1925.06 1888.88,1923.53 1886.78,1925.06 1887.58,1922.59 1885.48,1921.06 1888.08,1921.06"/><polygon points="1895.17,1912.31 1895.97,1914.78 1898.57,1914.78 1896.47,1916.31 1897.27,1918.78 1895.17,1917.25 1893.06,1918.78 1893.87,1916.31 1891.77,1914.78 1894.36,1914.78"/></g>
</g>
</svg>
</body></html>
